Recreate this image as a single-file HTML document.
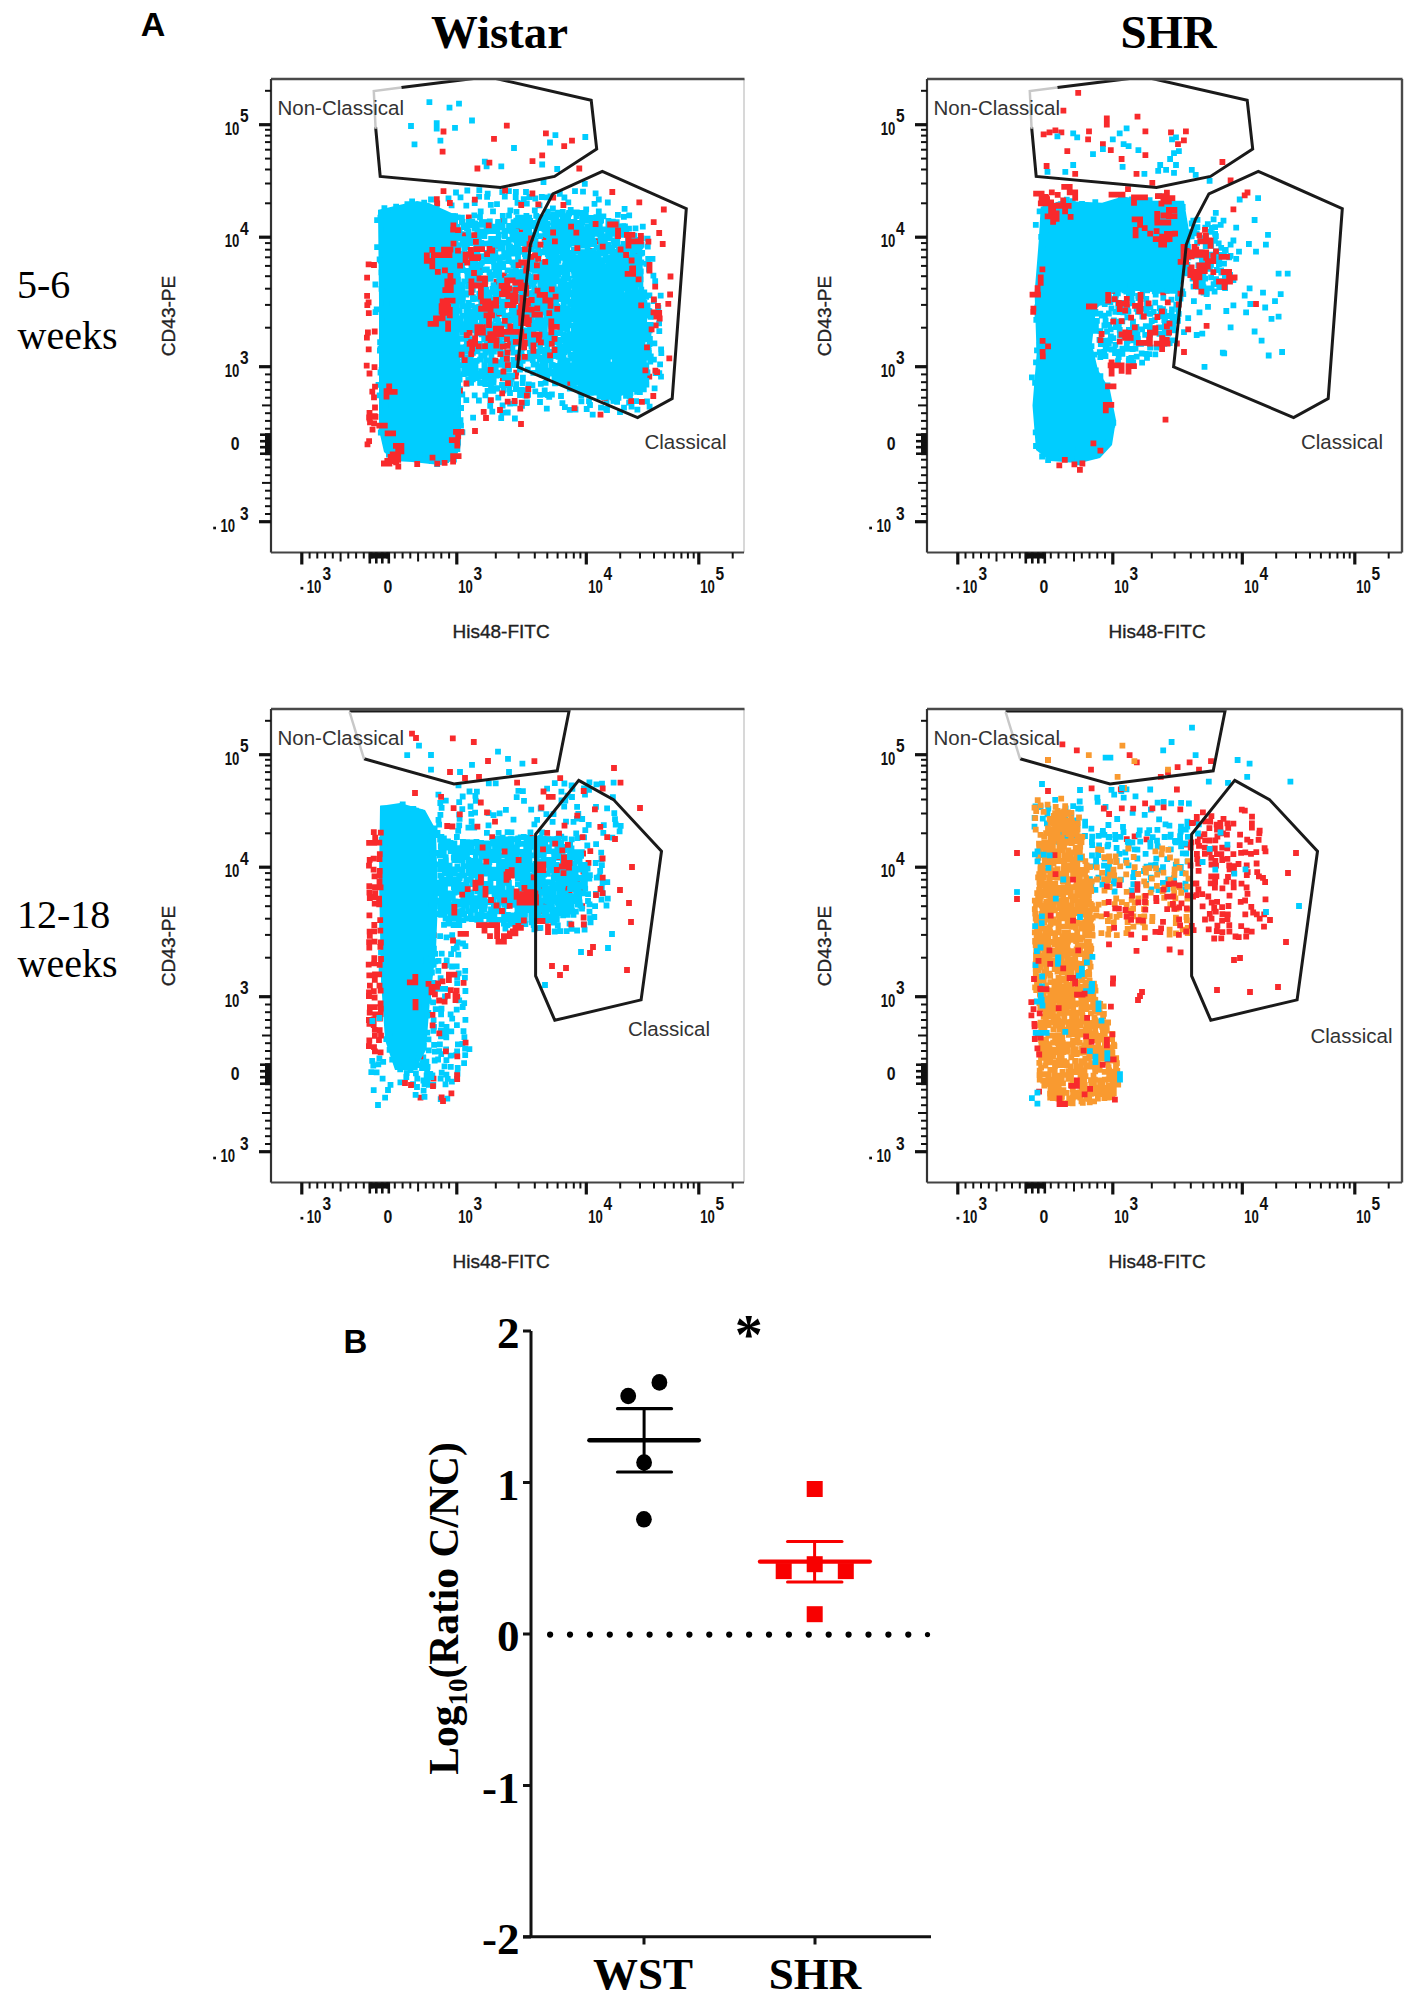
<!DOCTYPE html>
<html><head><meta charset="utf-8"><style>html,body{margin:0;padding:0;background:#fff;overflow:hidden;} svg{display:block;}</style></head>
<body><svg width="1417" height="2007" viewBox="0 0 1417 2007">
<rect width="100%" height="100%" fill="#fff"/>
<line x1="744" y1="79" x2="744" y2="552.5" stroke="#cfcfcf" stroke-width="1.6"/>
<line x1="271" y1="79" x2="744.5" y2="79" stroke="#4a4a4a" stroke-width="2.4"/>
<line x1="271" y1="79" x2="271" y2="552.5" stroke="#333" stroke-width="2.2"/>
<line x1="271" y1="552.5" x2="744" y2="552.5" stroke="#444" stroke-width="2.2"/>
<line x1="309.6" y1="552.5" x2="309.6" y2="558.5" stroke="#111" stroke-width="2.0"/>
<line x1="271" y1="514.0" x2="265" y2="514.0" stroke="#111" stroke-width="2.0"/>
<line x1="317.3" y1="552.5" x2="317.3" y2="558.5" stroke="#111" stroke-width="2.0"/>
<line x1="271" y1="506.2" x2="265" y2="506.2" stroke="#111" stroke-width="2.0"/>
<line x1="325.1" y1="552.5" x2="325.1" y2="558.5" stroke="#111" stroke-width="2.0"/>
<line x1="271" y1="498.4" x2="265" y2="498.4" stroke="#111" stroke-width="2.0"/>
<line x1="332.8" y1="552.5" x2="332.8" y2="558.5" stroke="#111" stroke-width="2.0"/>
<line x1="271" y1="490.7" x2="265" y2="490.7" stroke="#111" stroke-width="2.0"/>
<line x1="340.6" y1="552.5" x2="340.6" y2="561.5" stroke="#111" stroke-width="2.0"/>
<line x1="271" y1="482.9" x2="262" y2="482.9" stroke="#111" stroke-width="2.0"/>
<line x1="348.3" y1="552.5" x2="348.3" y2="558.5" stroke="#111" stroke-width="2.0"/>
<line x1="271" y1="475.2" x2="265" y2="475.2" stroke="#111" stroke-width="2.0"/>
<line x1="356.1" y1="552.5" x2="356.1" y2="558.5" stroke="#111" stroke-width="2.0"/>
<line x1="271" y1="467.4" x2="265" y2="467.4" stroke="#111" stroke-width="2.0"/>
<line x1="363.8" y1="552.5" x2="363.8" y2="558.5" stroke="#111" stroke-width="2.0"/>
<line x1="271" y1="459.7" x2="265" y2="459.7" stroke="#111" stroke-width="2.0"/>
<line x1="371.6" y1="552.5" x2="371.6" y2="558.5" stroke="#111" stroke-width="2.0"/>
<line x1="271" y1="451.9" x2="265" y2="451.9" stroke="#111" stroke-width="2.0"/>
<line x1="387.1" y1="552.5" x2="387.1" y2="558.5" stroke="#111" stroke-width="2.0"/>
<line x1="271" y1="436.4" x2="265" y2="436.4" stroke="#111" stroke-width="2.0"/>
<line x1="394.8" y1="552.5" x2="394.8" y2="558.5" stroke="#111" stroke-width="2.0"/>
<line x1="271" y1="428.7" x2="265" y2="428.7" stroke="#111" stroke-width="2.0"/>
<line x1="402.6" y1="552.5" x2="402.6" y2="558.5" stroke="#111" stroke-width="2.0"/>
<line x1="271" y1="420.9" x2="265" y2="420.9" stroke="#111" stroke-width="2.0"/>
<line x1="410.3" y1="552.5" x2="410.3" y2="558.5" stroke="#111" stroke-width="2.0"/>
<line x1="271" y1="413.2" x2="265" y2="413.2" stroke="#111" stroke-width="2.0"/>
<line x1="418.1" y1="552.5" x2="418.1" y2="561.5" stroke="#111" stroke-width="2.0"/>
<line x1="271" y1="405.4" x2="262" y2="405.4" stroke="#111" stroke-width="2.0"/>
<line x1="425.8" y1="552.5" x2="425.8" y2="558.5" stroke="#111" stroke-width="2.0"/>
<line x1="271" y1="397.7" x2="265" y2="397.7" stroke="#111" stroke-width="2.0"/>
<line x1="433.6" y1="552.5" x2="433.6" y2="558.5" stroke="#111" stroke-width="2.0"/>
<line x1="271" y1="389.9" x2="265" y2="389.9" stroke="#111" stroke-width="2.0"/>
<line x1="441.3" y1="552.5" x2="441.3" y2="558.5" stroke="#111" stroke-width="2.0"/>
<line x1="271" y1="382.2" x2="265" y2="382.2" stroke="#111" stroke-width="2.0"/>
<line x1="449.1" y1="552.5" x2="449.1" y2="558.5" stroke="#111" stroke-width="2.0"/>
<line x1="271" y1="374.4" x2="265" y2="374.4" stroke="#111" stroke-width="2.0"/>
<line x1="495.8" y1="552.5" x2="495.8" y2="558.5" stroke="#111" stroke-width="2.0"/>
<line x1="271" y1="327.7" x2="265" y2="327.7" stroke="#111" stroke-width="2.0"/>
<line x1="518.6" y1="552.5" x2="518.6" y2="558.5" stroke="#111" stroke-width="2.0"/>
<line x1="271" y1="304.9" x2="265" y2="304.9" stroke="#111" stroke-width="2.0"/>
<line x1="534.8" y1="552.5" x2="534.8" y2="558.5" stroke="#111" stroke-width="2.0"/>
<line x1="271" y1="288.7" x2="265" y2="288.7" stroke="#111" stroke-width="2.0"/>
<line x1="547.3" y1="552.5" x2="547.3" y2="558.5" stroke="#111" stroke-width="2.0"/>
<line x1="271" y1="276.2" x2="265" y2="276.2" stroke="#111" stroke-width="2.0"/>
<line x1="557.6" y1="552.5" x2="557.6" y2="558.5" stroke="#111" stroke-width="2.0"/>
<line x1="271" y1="265.9" x2="265" y2="265.9" stroke="#111" stroke-width="2.0"/>
<line x1="566.2" y1="552.5" x2="566.2" y2="558.5" stroke="#111" stroke-width="2.0"/>
<line x1="271" y1="257.3" x2="265" y2="257.3" stroke="#111" stroke-width="2.0"/>
<line x1="573.8" y1="552.5" x2="573.8" y2="558.5" stroke="#111" stroke-width="2.0"/>
<line x1="271" y1="249.7" x2="265" y2="249.7" stroke="#111" stroke-width="2.0"/>
<line x1="580.4" y1="552.5" x2="580.4" y2="558.5" stroke="#111" stroke-width="2.0"/>
<line x1="271" y1="243.1" x2="265" y2="243.1" stroke="#111" stroke-width="2.0"/>
<line x1="620.2" y1="552.5" x2="620.2" y2="558.5" stroke="#111" stroke-width="2.0"/>
<line x1="271" y1="203.3" x2="265" y2="203.3" stroke="#111" stroke-width="2.0"/>
<line x1="640.0" y1="552.5" x2="640.0" y2="558.5" stroke="#111" stroke-width="2.0"/>
<line x1="271" y1="183.5" x2="265" y2="183.5" stroke="#111" stroke-width="2.0"/>
<line x1="654.0" y1="552.5" x2="654.0" y2="558.5" stroke="#111" stroke-width="2.0"/>
<line x1="271" y1="169.5" x2="265" y2="169.5" stroke="#111" stroke-width="2.0"/>
<line x1="664.9" y1="552.5" x2="664.9" y2="558.5" stroke="#111" stroke-width="2.0"/>
<line x1="271" y1="158.6" x2="265" y2="158.6" stroke="#111" stroke-width="2.0"/>
<line x1="673.8" y1="552.5" x2="673.8" y2="558.5" stroke="#111" stroke-width="2.0"/>
<line x1="271" y1="149.7" x2="265" y2="149.7" stroke="#111" stroke-width="2.0"/>
<line x1="681.4" y1="552.5" x2="681.4" y2="558.5" stroke="#111" stroke-width="2.0"/>
<line x1="271" y1="142.1" x2="265" y2="142.1" stroke="#111" stroke-width="2.0"/>
<line x1="687.9" y1="552.5" x2="687.9" y2="558.5" stroke="#111" stroke-width="2.0"/>
<line x1="271" y1="135.6" x2="265" y2="135.6" stroke="#111" stroke-width="2.0"/>
<line x1="693.7" y1="552.5" x2="693.7" y2="558.5" stroke="#111" stroke-width="2.0"/>
<line x1="271" y1="129.8" x2="265" y2="129.8" stroke="#111" stroke-width="2.0"/>
<line x1="732.7" y1="552.5" x2="732.7" y2="558.5" stroke="#111" stroke-width="2.0"/>
<line x1="271" y1="90.8" x2="265" y2="90.8" stroke="#111" stroke-width="2.0"/>
<line x1="301.8" y1="552.5" x2="301.8" y2="564.5" stroke="#111" stroke-width="3.2"/>
<line x1="271" y1="521.7" x2="259" y2="521.7" stroke="#111" stroke-width="3.2"/>
<line x1="456.8" y1="552.5" x2="456.8" y2="564.5" stroke="#111" stroke-width="3.2"/>
<line x1="271" y1="366.7" x2="259" y2="366.7" stroke="#111" stroke-width="3.2"/>
<line x1="586.3" y1="552.5" x2="586.3" y2="564.5" stroke="#111" stroke-width="3.2"/>
<line x1="271" y1="237.2" x2="259" y2="237.2" stroke="#111" stroke-width="3.2"/>
<line x1="698.8" y1="552.5" x2="698.8" y2="564.5" stroke="#111" stroke-width="3.2"/>
<line x1="271" y1="124.7" x2="259" y2="124.7" stroke="#111" stroke-width="3.2"/>
<rect x="368.8" y="552.5" width="21" height="6" fill="#111"/>
<line x1="369.8" y1="552.5" x2="369.8" y2="563.5" stroke="#111" stroke-width="2.6"/>
<line x1="376.3" y1="552.5" x2="376.3" y2="563.5" stroke="#111" stroke-width="2.6"/>
<line x1="382.3" y1="552.5" x2="382.3" y2="563.5" stroke="#111" stroke-width="2.6"/>
<line x1="388.8" y1="552.5" x2="388.8" y2="563.5" stroke="#111" stroke-width="2.6"/>
<rect x="265" y="433.2" width="6" height="22" fill="#111"/>
<line x1="271" y1="434.7" x2="260" y2="434.7" stroke="#111" stroke-width="2.6"/>
<line x1="271" y1="441.2" x2="260" y2="441.2" stroke="#111" stroke-width="2.6"/>
<line x1="271" y1="447.2" x2="260" y2="447.2" stroke="#111" stroke-width="2.6"/>
<line x1="271" y1="453.7" x2="260" y2="453.7" stroke="#111" stroke-width="2.6"/>
<rect x="300.5" y="586.9" width="2.8" height="2.6" fill="#111"/>
<text x="306.8" y="592.5" font-family='"Liberation Sans", sans-serif' font-size="17.5" font-weight="bold" fill="#111" textLength="14.6" lengthAdjust="spacingAndGlyphs">10</text>
<text x="322.6" y="580.2" font-family='"Liberation Sans", sans-serif' font-size="17.5" font-weight="bold" fill="#111" textLength="8.6" lengthAdjust="spacingAndGlyphs">3</text>
<text x="383.5" y="592.5" font-family='"Liberation Sans", sans-serif' font-size="17.5" font-weight="bold" fill="#111" textLength="8.8" lengthAdjust="spacingAndGlyphs">0</text>
<text x="458.3" y="592.5" font-family='"Liberation Sans", sans-serif' font-size="17.5" font-weight="bold" fill="#111" textLength="14.6" lengthAdjust="spacingAndGlyphs">10</text>
<text x="473.6" y="580.2" font-family='"Liberation Sans", sans-serif' font-size="17.5" font-weight="bold" fill="#111" textLength="8.6" lengthAdjust="spacingAndGlyphs">3</text>
<text x="588.3" y="592.5" font-family='"Liberation Sans", sans-serif' font-size="17.5" font-weight="bold" fill="#111" textLength="14.6" lengthAdjust="spacingAndGlyphs">10</text>
<text x="603.6" y="580.2" font-family='"Liberation Sans", sans-serif' font-size="17.5" font-weight="bold" fill="#111" textLength="8.6" lengthAdjust="spacingAndGlyphs">4</text>
<text x="700.3" y="592.5" font-family='"Liberation Sans", sans-serif' font-size="17.5" font-weight="bold" fill="#111" textLength="14.6" lengthAdjust="spacingAndGlyphs">10</text>
<text x="715.6" y="580.2" font-family='"Liberation Sans", sans-serif' font-size="17.5" font-weight="bold" fill="#111" textLength="8.6" lengthAdjust="spacingAndGlyphs">5</text>
<text x="224.7" y="134.7" font-family='"Liberation Sans", sans-serif' font-size="17.5" font-weight="bold" fill="#111" textLength="14.6" lengthAdjust="spacingAndGlyphs">10</text>
<text x="240.0" y="122.4" font-family='"Liberation Sans", sans-serif' font-size="17.5" font-weight="bold" fill="#111" textLength="8.6" lengthAdjust="spacingAndGlyphs">5</text>
<text x="224.7" y="247.2" font-family='"Liberation Sans", sans-serif' font-size="17.5" font-weight="bold" fill="#111" textLength="14.6" lengthAdjust="spacingAndGlyphs">10</text>
<text x="240.0" y="234.9" font-family='"Liberation Sans", sans-serif' font-size="17.5" font-weight="bold" fill="#111" textLength="8.6" lengthAdjust="spacingAndGlyphs">4</text>
<text x="224.7" y="376.7" font-family='"Liberation Sans", sans-serif' font-size="17.5" font-weight="bold" fill="#111" textLength="14.6" lengthAdjust="spacingAndGlyphs">10</text>
<text x="240.0" y="364.4" font-family='"Liberation Sans", sans-serif' font-size="17.5" font-weight="bold" fill="#111" textLength="8.6" lengthAdjust="spacingAndGlyphs">3</text>
<text x="230.8" y="450.4" font-family='"Liberation Sans", sans-serif' font-size="17.5" font-weight="bold" fill="#111" textLength="8.8" lengthAdjust="spacingAndGlyphs">0</text>
<rect x="213.2" y="526.7" width="2.8" height="2.6" fill="#111"/>
<text x="220.5" y="532.3" font-family='"Liberation Sans", sans-serif' font-size="17.5" font-weight="bold" fill="#111" textLength="14.6" lengthAdjust="spacingAndGlyphs">10</text>
<text x="240.0" y="520.0" font-family='"Liberation Sans", sans-serif' font-size="17.5" font-weight="bold" fill="#111" textLength="8.6" lengthAdjust="spacingAndGlyphs">3</text>
<text x="452.5" y="638.3" font-family='"Liberation Sans", sans-serif' font-size="19" font-weight="normal" fill="#222" text-anchor="start" stroke="#222" stroke-width="0.35">His48-FITC</text>
<text x="0" y="0" transform="translate(174.7,316) rotate(-90)" font-family='"Liberation Sans", sans-serif' font-size="19" fill="#222" stroke="#222" stroke-width="0.35" text-anchor="middle">CD43-PE</text>
<line x1="1402" y1="79" x2="1402" y2="552.5" stroke="#4a4a4a" stroke-width="2.4"/>
<line x1="927" y1="79" x2="1402.5" y2="79" stroke="#4a4a4a" stroke-width="2.4"/>
<line x1="927" y1="79" x2="927" y2="552.5" stroke="#333" stroke-width="2.2"/>
<line x1="927" y1="552.5" x2="1402" y2="552.5" stroke="#444" stroke-width="2.2"/>
<line x1="965.5" y1="552.5" x2="965.5" y2="558.5" stroke="#111" stroke-width="2.0"/>
<line x1="927" y1="514.0" x2="921" y2="514.0" stroke="#111" stroke-width="2.0"/>
<line x1="973.3" y1="552.5" x2="973.3" y2="558.5" stroke="#111" stroke-width="2.0"/>
<line x1="927" y1="506.2" x2="921" y2="506.2" stroke="#111" stroke-width="2.0"/>
<line x1="981.0" y1="552.5" x2="981.0" y2="558.5" stroke="#111" stroke-width="2.0"/>
<line x1="927" y1="498.4" x2="921" y2="498.4" stroke="#111" stroke-width="2.0"/>
<line x1="988.8" y1="552.5" x2="988.8" y2="558.5" stroke="#111" stroke-width="2.0"/>
<line x1="927" y1="490.7" x2="921" y2="490.7" stroke="#111" stroke-width="2.0"/>
<line x1="996.5" y1="552.5" x2="996.5" y2="561.5" stroke="#111" stroke-width="2.0"/>
<line x1="927" y1="482.9" x2="918" y2="482.9" stroke="#111" stroke-width="2.0"/>
<line x1="1004.3" y1="552.5" x2="1004.3" y2="558.5" stroke="#111" stroke-width="2.0"/>
<line x1="927" y1="475.2" x2="921" y2="475.2" stroke="#111" stroke-width="2.0"/>
<line x1="1012.0" y1="552.5" x2="1012.0" y2="558.5" stroke="#111" stroke-width="2.0"/>
<line x1="927" y1="467.4" x2="921" y2="467.4" stroke="#111" stroke-width="2.0"/>
<line x1="1019.8" y1="552.5" x2="1019.8" y2="558.5" stroke="#111" stroke-width="2.0"/>
<line x1="927" y1="459.7" x2="921" y2="459.7" stroke="#111" stroke-width="2.0"/>
<line x1="1027.5" y1="552.5" x2="1027.5" y2="558.5" stroke="#111" stroke-width="2.0"/>
<line x1="927" y1="451.9" x2="921" y2="451.9" stroke="#111" stroke-width="2.0"/>
<line x1="1043.0" y1="552.5" x2="1043.0" y2="558.5" stroke="#111" stroke-width="2.0"/>
<line x1="927" y1="436.4" x2="921" y2="436.4" stroke="#111" stroke-width="2.0"/>
<line x1="1050.8" y1="552.5" x2="1050.8" y2="558.5" stroke="#111" stroke-width="2.0"/>
<line x1="927" y1="428.7" x2="921" y2="428.7" stroke="#111" stroke-width="2.0"/>
<line x1="1058.5" y1="552.5" x2="1058.5" y2="558.5" stroke="#111" stroke-width="2.0"/>
<line x1="927" y1="420.9" x2="921" y2="420.9" stroke="#111" stroke-width="2.0"/>
<line x1="1066.3" y1="552.5" x2="1066.3" y2="558.5" stroke="#111" stroke-width="2.0"/>
<line x1="927" y1="413.2" x2="921" y2="413.2" stroke="#111" stroke-width="2.0"/>
<line x1="1074.0" y1="552.5" x2="1074.0" y2="561.5" stroke="#111" stroke-width="2.0"/>
<line x1="927" y1="405.4" x2="918" y2="405.4" stroke="#111" stroke-width="2.0"/>
<line x1="1081.8" y1="552.5" x2="1081.8" y2="558.5" stroke="#111" stroke-width="2.0"/>
<line x1="927" y1="397.7" x2="921" y2="397.7" stroke="#111" stroke-width="2.0"/>
<line x1="1089.5" y1="552.5" x2="1089.5" y2="558.5" stroke="#111" stroke-width="2.0"/>
<line x1="927" y1="389.9" x2="921" y2="389.9" stroke="#111" stroke-width="2.0"/>
<line x1="1097.3" y1="552.5" x2="1097.3" y2="558.5" stroke="#111" stroke-width="2.0"/>
<line x1="927" y1="382.2" x2="921" y2="382.2" stroke="#111" stroke-width="2.0"/>
<line x1="1105.0" y1="552.5" x2="1105.0" y2="558.5" stroke="#111" stroke-width="2.0"/>
<line x1="927" y1="374.4" x2="921" y2="374.4" stroke="#111" stroke-width="2.0"/>
<line x1="1151.8" y1="552.5" x2="1151.8" y2="558.5" stroke="#111" stroke-width="2.0"/>
<line x1="927" y1="327.7" x2="921" y2="327.7" stroke="#111" stroke-width="2.0"/>
<line x1="1174.6" y1="552.5" x2="1174.6" y2="558.5" stroke="#111" stroke-width="2.0"/>
<line x1="927" y1="304.9" x2="921" y2="304.9" stroke="#111" stroke-width="2.0"/>
<line x1="1190.8" y1="552.5" x2="1190.8" y2="558.5" stroke="#111" stroke-width="2.0"/>
<line x1="927" y1="288.7" x2="921" y2="288.7" stroke="#111" stroke-width="2.0"/>
<line x1="1203.3" y1="552.5" x2="1203.3" y2="558.5" stroke="#111" stroke-width="2.0"/>
<line x1="927" y1="276.2" x2="921" y2="276.2" stroke="#111" stroke-width="2.0"/>
<line x1="1213.6" y1="552.5" x2="1213.6" y2="558.5" stroke="#111" stroke-width="2.0"/>
<line x1="927" y1="265.9" x2="921" y2="265.9" stroke="#111" stroke-width="2.0"/>
<line x1="1222.2" y1="552.5" x2="1222.2" y2="558.5" stroke="#111" stroke-width="2.0"/>
<line x1="927" y1="257.3" x2="921" y2="257.3" stroke="#111" stroke-width="2.0"/>
<line x1="1229.8" y1="552.5" x2="1229.8" y2="558.5" stroke="#111" stroke-width="2.0"/>
<line x1="927" y1="249.7" x2="921" y2="249.7" stroke="#111" stroke-width="2.0"/>
<line x1="1236.4" y1="552.5" x2="1236.4" y2="558.5" stroke="#111" stroke-width="2.0"/>
<line x1="927" y1="243.1" x2="921" y2="243.1" stroke="#111" stroke-width="2.0"/>
<line x1="1276.2" y1="552.5" x2="1276.2" y2="558.5" stroke="#111" stroke-width="2.0"/>
<line x1="927" y1="203.3" x2="921" y2="203.3" stroke="#111" stroke-width="2.0"/>
<line x1="1296.0" y1="552.5" x2="1296.0" y2="558.5" stroke="#111" stroke-width="2.0"/>
<line x1="927" y1="183.5" x2="921" y2="183.5" stroke="#111" stroke-width="2.0"/>
<line x1="1310.0" y1="552.5" x2="1310.0" y2="558.5" stroke="#111" stroke-width="2.0"/>
<line x1="927" y1="169.5" x2="921" y2="169.5" stroke="#111" stroke-width="2.0"/>
<line x1="1320.9" y1="552.5" x2="1320.9" y2="558.5" stroke="#111" stroke-width="2.0"/>
<line x1="927" y1="158.6" x2="921" y2="158.6" stroke="#111" stroke-width="2.0"/>
<line x1="1329.8" y1="552.5" x2="1329.8" y2="558.5" stroke="#111" stroke-width="2.0"/>
<line x1="927" y1="149.7" x2="921" y2="149.7" stroke="#111" stroke-width="2.0"/>
<line x1="1337.4" y1="552.5" x2="1337.4" y2="558.5" stroke="#111" stroke-width="2.0"/>
<line x1="927" y1="142.1" x2="921" y2="142.1" stroke="#111" stroke-width="2.0"/>
<line x1="1343.9" y1="552.5" x2="1343.9" y2="558.5" stroke="#111" stroke-width="2.0"/>
<line x1="927" y1="135.6" x2="921" y2="135.6" stroke="#111" stroke-width="2.0"/>
<line x1="1349.7" y1="552.5" x2="1349.7" y2="558.5" stroke="#111" stroke-width="2.0"/>
<line x1="927" y1="129.8" x2="921" y2="129.8" stroke="#111" stroke-width="2.0"/>
<line x1="1388.7" y1="552.5" x2="1388.7" y2="558.5" stroke="#111" stroke-width="2.0"/>
<line x1="927" y1="90.8" x2="921" y2="90.8" stroke="#111" stroke-width="2.0"/>
<line x1="957.8" y1="552.5" x2="957.8" y2="564.5" stroke="#111" stroke-width="3.2"/>
<line x1="927" y1="521.7" x2="915" y2="521.7" stroke="#111" stroke-width="3.2"/>
<line x1="1112.8" y1="552.5" x2="1112.8" y2="564.5" stroke="#111" stroke-width="3.2"/>
<line x1="927" y1="366.7" x2="915" y2="366.7" stroke="#111" stroke-width="3.2"/>
<line x1="1242.3" y1="552.5" x2="1242.3" y2="564.5" stroke="#111" stroke-width="3.2"/>
<line x1="927" y1="237.2" x2="915" y2="237.2" stroke="#111" stroke-width="3.2"/>
<line x1="1354.8" y1="552.5" x2="1354.8" y2="564.5" stroke="#111" stroke-width="3.2"/>
<line x1="927" y1="124.7" x2="915" y2="124.7" stroke="#111" stroke-width="3.2"/>
<rect x="1024.8" y="552.5" width="21" height="6" fill="#111"/>
<line x1="1025.8" y1="552.5" x2="1025.8" y2="563.5" stroke="#111" stroke-width="2.6"/>
<line x1="1032.3" y1="552.5" x2="1032.3" y2="563.5" stroke="#111" stroke-width="2.6"/>
<line x1="1038.3" y1="552.5" x2="1038.3" y2="563.5" stroke="#111" stroke-width="2.6"/>
<line x1="1044.8" y1="552.5" x2="1044.8" y2="563.5" stroke="#111" stroke-width="2.6"/>
<rect x="921" y="433.2" width="6" height="22" fill="#111"/>
<line x1="927" y1="434.7" x2="916" y2="434.7" stroke="#111" stroke-width="2.6"/>
<line x1="927" y1="441.2" x2="916" y2="441.2" stroke="#111" stroke-width="2.6"/>
<line x1="927" y1="447.2" x2="916" y2="447.2" stroke="#111" stroke-width="2.6"/>
<line x1="927" y1="453.7" x2="916" y2="453.7" stroke="#111" stroke-width="2.6"/>
<rect x="956.5" y="586.9" width="2.8" height="2.6" fill="#111"/>
<text x="962.8" y="592.5" font-family='"Liberation Sans", sans-serif' font-size="17.5" font-weight="bold" fill="#111" textLength="14.6" lengthAdjust="spacingAndGlyphs">10</text>
<text x="978.6" y="580.2" font-family='"Liberation Sans", sans-serif' font-size="17.5" font-weight="bold" fill="#111" textLength="8.6" lengthAdjust="spacingAndGlyphs">3</text>
<text x="1039.5" y="592.5" font-family='"Liberation Sans", sans-serif' font-size="17.5" font-weight="bold" fill="#111" textLength="8.8" lengthAdjust="spacingAndGlyphs">0</text>
<text x="1114.3" y="592.5" font-family='"Liberation Sans", sans-serif' font-size="17.5" font-weight="bold" fill="#111" textLength="14.6" lengthAdjust="spacingAndGlyphs">10</text>
<text x="1129.6" y="580.2" font-family='"Liberation Sans", sans-serif' font-size="17.5" font-weight="bold" fill="#111" textLength="8.6" lengthAdjust="spacingAndGlyphs">3</text>
<text x="1244.3" y="592.5" font-family='"Liberation Sans", sans-serif' font-size="17.5" font-weight="bold" fill="#111" textLength="14.6" lengthAdjust="spacingAndGlyphs">10</text>
<text x="1259.6" y="580.2" font-family='"Liberation Sans", sans-serif' font-size="17.5" font-weight="bold" fill="#111" textLength="8.6" lengthAdjust="spacingAndGlyphs">4</text>
<text x="1356.3" y="592.5" font-family='"Liberation Sans", sans-serif' font-size="17.5" font-weight="bold" fill="#111" textLength="14.6" lengthAdjust="spacingAndGlyphs">10</text>
<text x="1371.6" y="580.2" font-family='"Liberation Sans", sans-serif' font-size="17.5" font-weight="bold" fill="#111" textLength="8.6" lengthAdjust="spacingAndGlyphs">5</text>
<text x="880.7" y="134.7" font-family='"Liberation Sans", sans-serif' font-size="17.5" font-weight="bold" fill="#111" textLength="14.6" lengthAdjust="spacingAndGlyphs">10</text>
<text x="896.0" y="122.4" font-family='"Liberation Sans", sans-serif' font-size="17.5" font-weight="bold" fill="#111" textLength="8.6" lengthAdjust="spacingAndGlyphs">5</text>
<text x="880.7" y="247.2" font-family='"Liberation Sans", sans-serif' font-size="17.5" font-weight="bold" fill="#111" textLength="14.6" lengthAdjust="spacingAndGlyphs">10</text>
<text x="896.0" y="234.9" font-family='"Liberation Sans", sans-serif' font-size="17.5" font-weight="bold" fill="#111" textLength="8.6" lengthAdjust="spacingAndGlyphs">4</text>
<text x="880.7" y="376.7" font-family='"Liberation Sans", sans-serif' font-size="17.5" font-weight="bold" fill="#111" textLength="14.6" lengthAdjust="spacingAndGlyphs">10</text>
<text x="896.0" y="364.4" font-family='"Liberation Sans", sans-serif' font-size="17.5" font-weight="bold" fill="#111" textLength="8.6" lengthAdjust="spacingAndGlyphs">3</text>
<text x="886.8" y="450.4" font-family='"Liberation Sans", sans-serif' font-size="17.5" font-weight="bold" fill="#111" textLength="8.8" lengthAdjust="spacingAndGlyphs">0</text>
<rect x="869.2" y="526.7" width="2.8" height="2.6" fill="#111"/>
<text x="876.5" y="532.3" font-family='"Liberation Sans", sans-serif' font-size="17.5" font-weight="bold" fill="#111" textLength="14.6" lengthAdjust="spacingAndGlyphs">10</text>
<text x="896.0" y="520.0" font-family='"Liberation Sans", sans-serif' font-size="17.5" font-weight="bold" fill="#111" textLength="8.6" lengthAdjust="spacingAndGlyphs">3</text>
<text x="1108.5" y="638.3" font-family='"Liberation Sans", sans-serif' font-size="19" font-weight="normal" fill="#222" text-anchor="start" stroke="#222" stroke-width="0.35">His48-FITC</text>
<text x="0" y="0" transform="translate(830.7,316) rotate(-90)" font-family='"Liberation Sans", sans-serif' font-size="19" fill="#222" stroke="#222" stroke-width="0.35" text-anchor="middle">CD43-PE</text>
<line x1="744" y1="709" x2="744" y2="1182.5" stroke="#cfcfcf" stroke-width="1.6"/>
<line x1="271" y1="709" x2="744.5" y2="709" stroke="#4a4a4a" stroke-width="2.4"/>
<line x1="271" y1="709" x2="271" y2="1182.5" stroke="#333" stroke-width="2.2"/>
<line x1="271" y1="1182.5" x2="744" y2="1182.5" stroke="#444" stroke-width="2.2"/>
<line x1="309.6" y1="1182.5" x2="309.6" y2="1188.5" stroke="#111" stroke-width="2.0"/>
<line x1="271" y1="1144.0" x2="265" y2="1144.0" stroke="#111" stroke-width="2.0"/>
<line x1="317.3" y1="1182.5" x2="317.3" y2="1188.5" stroke="#111" stroke-width="2.0"/>
<line x1="271" y1="1136.2" x2="265" y2="1136.2" stroke="#111" stroke-width="2.0"/>
<line x1="325.1" y1="1182.5" x2="325.1" y2="1188.5" stroke="#111" stroke-width="2.0"/>
<line x1="271" y1="1128.5" x2="265" y2="1128.5" stroke="#111" stroke-width="2.0"/>
<line x1="332.8" y1="1182.5" x2="332.8" y2="1188.5" stroke="#111" stroke-width="2.0"/>
<line x1="271" y1="1120.7" x2="265" y2="1120.7" stroke="#111" stroke-width="2.0"/>
<line x1="340.6" y1="1182.5" x2="340.6" y2="1191.5" stroke="#111" stroke-width="2.0"/>
<line x1="271" y1="1113.0" x2="262" y2="1113.0" stroke="#111" stroke-width="2.0"/>
<line x1="348.3" y1="1182.5" x2="348.3" y2="1188.5" stroke="#111" stroke-width="2.0"/>
<line x1="271" y1="1105.2" x2="265" y2="1105.2" stroke="#111" stroke-width="2.0"/>
<line x1="356.1" y1="1182.5" x2="356.1" y2="1188.5" stroke="#111" stroke-width="2.0"/>
<line x1="271" y1="1097.5" x2="265" y2="1097.5" stroke="#111" stroke-width="2.0"/>
<line x1="363.8" y1="1182.5" x2="363.8" y2="1188.5" stroke="#111" stroke-width="2.0"/>
<line x1="271" y1="1089.7" x2="265" y2="1089.7" stroke="#111" stroke-width="2.0"/>
<line x1="371.6" y1="1182.5" x2="371.6" y2="1188.5" stroke="#111" stroke-width="2.0"/>
<line x1="271" y1="1082.0" x2="265" y2="1082.0" stroke="#111" stroke-width="2.0"/>
<line x1="387.1" y1="1182.5" x2="387.1" y2="1188.5" stroke="#111" stroke-width="2.0"/>
<line x1="271" y1="1066.5" x2="265" y2="1066.5" stroke="#111" stroke-width="2.0"/>
<line x1="394.8" y1="1182.5" x2="394.8" y2="1188.5" stroke="#111" stroke-width="2.0"/>
<line x1="271" y1="1058.7" x2="265" y2="1058.7" stroke="#111" stroke-width="2.0"/>
<line x1="402.6" y1="1182.5" x2="402.6" y2="1188.5" stroke="#111" stroke-width="2.0"/>
<line x1="271" y1="1051.0" x2="265" y2="1051.0" stroke="#111" stroke-width="2.0"/>
<line x1="410.3" y1="1182.5" x2="410.3" y2="1188.5" stroke="#111" stroke-width="2.0"/>
<line x1="271" y1="1043.2" x2="265" y2="1043.2" stroke="#111" stroke-width="2.0"/>
<line x1="418.1" y1="1182.5" x2="418.1" y2="1191.5" stroke="#111" stroke-width="2.0"/>
<line x1="271" y1="1035.5" x2="262" y2="1035.5" stroke="#111" stroke-width="2.0"/>
<line x1="425.8" y1="1182.5" x2="425.8" y2="1188.5" stroke="#111" stroke-width="2.0"/>
<line x1="271" y1="1027.7" x2="265" y2="1027.7" stroke="#111" stroke-width="2.0"/>
<line x1="433.6" y1="1182.5" x2="433.6" y2="1188.5" stroke="#111" stroke-width="2.0"/>
<line x1="271" y1="1020.0" x2="265" y2="1020.0" stroke="#111" stroke-width="2.0"/>
<line x1="441.3" y1="1182.5" x2="441.3" y2="1188.5" stroke="#111" stroke-width="2.0"/>
<line x1="271" y1="1012.2" x2="265" y2="1012.2" stroke="#111" stroke-width="2.0"/>
<line x1="449.1" y1="1182.5" x2="449.1" y2="1188.5" stroke="#111" stroke-width="2.0"/>
<line x1="271" y1="1004.5" x2="265" y2="1004.5" stroke="#111" stroke-width="2.0"/>
<line x1="495.8" y1="1182.5" x2="495.8" y2="1188.5" stroke="#111" stroke-width="2.0"/>
<line x1="271" y1="957.7" x2="265" y2="957.7" stroke="#111" stroke-width="2.0"/>
<line x1="518.6" y1="1182.5" x2="518.6" y2="1188.5" stroke="#111" stroke-width="2.0"/>
<line x1="271" y1="934.9" x2="265" y2="934.9" stroke="#111" stroke-width="2.0"/>
<line x1="534.8" y1="1182.5" x2="534.8" y2="1188.5" stroke="#111" stroke-width="2.0"/>
<line x1="271" y1="918.7" x2="265" y2="918.7" stroke="#111" stroke-width="2.0"/>
<line x1="547.3" y1="1182.5" x2="547.3" y2="1188.5" stroke="#111" stroke-width="2.0"/>
<line x1="271" y1="906.2" x2="265" y2="906.2" stroke="#111" stroke-width="2.0"/>
<line x1="557.6" y1="1182.5" x2="557.6" y2="1188.5" stroke="#111" stroke-width="2.0"/>
<line x1="271" y1="895.9" x2="265" y2="895.9" stroke="#111" stroke-width="2.0"/>
<line x1="566.2" y1="1182.5" x2="566.2" y2="1188.5" stroke="#111" stroke-width="2.0"/>
<line x1="271" y1="887.3" x2="265" y2="887.3" stroke="#111" stroke-width="2.0"/>
<line x1="573.8" y1="1182.5" x2="573.8" y2="1188.5" stroke="#111" stroke-width="2.0"/>
<line x1="271" y1="879.7" x2="265" y2="879.7" stroke="#111" stroke-width="2.0"/>
<line x1="580.4" y1="1182.5" x2="580.4" y2="1188.5" stroke="#111" stroke-width="2.0"/>
<line x1="271" y1="873.1" x2="265" y2="873.1" stroke="#111" stroke-width="2.0"/>
<line x1="620.2" y1="1182.5" x2="620.2" y2="1188.5" stroke="#111" stroke-width="2.0"/>
<line x1="271" y1="833.3" x2="265" y2="833.3" stroke="#111" stroke-width="2.0"/>
<line x1="640.0" y1="1182.5" x2="640.0" y2="1188.5" stroke="#111" stroke-width="2.0"/>
<line x1="271" y1="813.5" x2="265" y2="813.5" stroke="#111" stroke-width="2.0"/>
<line x1="654.0" y1="1182.5" x2="654.0" y2="1188.5" stroke="#111" stroke-width="2.0"/>
<line x1="271" y1="799.5" x2="265" y2="799.5" stroke="#111" stroke-width="2.0"/>
<line x1="664.9" y1="1182.5" x2="664.9" y2="1188.5" stroke="#111" stroke-width="2.0"/>
<line x1="271" y1="788.6" x2="265" y2="788.6" stroke="#111" stroke-width="2.0"/>
<line x1="673.8" y1="1182.5" x2="673.8" y2="1188.5" stroke="#111" stroke-width="2.0"/>
<line x1="271" y1="779.7" x2="265" y2="779.7" stroke="#111" stroke-width="2.0"/>
<line x1="681.4" y1="1182.5" x2="681.4" y2="1188.5" stroke="#111" stroke-width="2.0"/>
<line x1="271" y1="772.1" x2="265" y2="772.1" stroke="#111" stroke-width="2.0"/>
<line x1="687.9" y1="1182.5" x2="687.9" y2="1188.5" stroke="#111" stroke-width="2.0"/>
<line x1="271" y1="765.6" x2="265" y2="765.6" stroke="#111" stroke-width="2.0"/>
<line x1="693.7" y1="1182.5" x2="693.7" y2="1188.5" stroke="#111" stroke-width="2.0"/>
<line x1="271" y1="759.8" x2="265" y2="759.8" stroke="#111" stroke-width="2.0"/>
<line x1="732.7" y1="1182.5" x2="732.7" y2="1188.5" stroke="#111" stroke-width="2.0"/>
<line x1="271" y1="720.8" x2="265" y2="720.8" stroke="#111" stroke-width="2.0"/>
<line x1="301.8" y1="1182.5" x2="301.8" y2="1194.5" stroke="#111" stroke-width="3.2"/>
<line x1="271" y1="1151.7" x2="259" y2="1151.7" stroke="#111" stroke-width="3.2"/>
<line x1="456.8" y1="1182.5" x2="456.8" y2="1194.5" stroke="#111" stroke-width="3.2"/>
<line x1="271" y1="996.7" x2="259" y2="996.7" stroke="#111" stroke-width="3.2"/>
<line x1="586.3" y1="1182.5" x2="586.3" y2="1194.5" stroke="#111" stroke-width="3.2"/>
<line x1="271" y1="867.2" x2="259" y2="867.2" stroke="#111" stroke-width="3.2"/>
<line x1="698.8" y1="1182.5" x2="698.8" y2="1194.5" stroke="#111" stroke-width="3.2"/>
<line x1="271" y1="754.7" x2="259" y2="754.7" stroke="#111" stroke-width="3.2"/>
<rect x="368.8" y="1182.5" width="21" height="6" fill="#111"/>
<line x1="369.8" y1="1182.5" x2="369.8" y2="1193.5" stroke="#111" stroke-width="2.6"/>
<line x1="376.3" y1="1182.5" x2="376.3" y2="1193.5" stroke="#111" stroke-width="2.6"/>
<line x1="382.3" y1="1182.5" x2="382.3" y2="1193.5" stroke="#111" stroke-width="2.6"/>
<line x1="388.8" y1="1182.5" x2="388.8" y2="1193.5" stroke="#111" stroke-width="2.6"/>
<rect x="265" y="1063.2" width="6" height="22" fill="#111"/>
<line x1="271" y1="1064.7" x2="260" y2="1064.7" stroke="#111" stroke-width="2.6"/>
<line x1="271" y1="1071.2" x2="260" y2="1071.2" stroke="#111" stroke-width="2.6"/>
<line x1="271" y1="1077.2" x2="260" y2="1077.2" stroke="#111" stroke-width="2.6"/>
<line x1="271" y1="1083.7" x2="260" y2="1083.7" stroke="#111" stroke-width="2.6"/>
<rect x="300.5" y="1216.9" width="2.8" height="2.6" fill="#111"/>
<text x="306.8" y="1222.5" font-family='"Liberation Sans", sans-serif' font-size="17.5" font-weight="bold" fill="#111" textLength="14.6" lengthAdjust="spacingAndGlyphs">10</text>
<text x="322.6" y="1210.2" font-family='"Liberation Sans", sans-serif' font-size="17.5" font-weight="bold" fill="#111" textLength="8.6" lengthAdjust="spacingAndGlyphs">3</text>
<text x="383.5" y="1222.5" font-family='"Liberation Sans", sans-serif' font-size="17.5" font-weight="bold" fill="#111" textLength="8.8" lengthAdjust="spacingAndGlyphs">0</text>
<text x="458.3" y="1222.5" font-family='"Liberation Sans", sans-serif' font-size="17.5" font-weight="bold" fill="#111" textLength="14.6" lengthAdjust="spacingAndGlyphs">10</text>
<text x="473.6" y="1210.2" font-family='"Liberation Sans", sans-serif' font-size="17.5" font-weight="bold" fill="#111" textLength="8.6" lengthAdjust="spacingAndGlyphs">3</text>
<text x="588.3" y="1222.5" font-family='"Liberation Sans", sans-serif' font-size="17.5" font-weight="bold" fill="#111" textLength="14.6" lengthAdjust="spacingAndGlyphs">10</text>
<text x="603.6" y="1210.2" font-family='"Liberation Sans", sans-serif' font-size="17.5" font-weight="bold" fill="#111" textLength="8.6" lengthAdjust="spacingAndGlyphs">4</text>
<text x="700.3" y="1222.5" font-family='"Liberation Sans", sans-serif' font-size="17.5" font-weight="bold" fill="#111" textLength="14.6" lengthAdjust="spacingAndGlyphs">10</text>
<text x="715.6" y="1210.2" font-family='"Liberation Sans", sans-serif' font-size="17.5" font-weight="bold" fill="#111" textLength="8.6" lengthAdjust="spacingAndGlyphs">5</text>
<text x="224.7" y="764.7" font-family='"Liberation Sans", sans-serif' font-size="17.5" font-weight="bold" fill="#111" textLength="14.6" lengthAdjust="spacingAndGlyphs">10</text>
<text x="240.0" y="752.4" font-family='"Liberation Sans", sans-serif' font-size="17.5" font-weight="bold" fill="#111" textLength="8.6" lengthAdjust="spacingAndGlyphs">5</text>
<text x="224.7" y="877.2" font-family='"Liberation Sans", sans-serif' font-size="17.5" font-weight="bold" fill="#111" textLength="14.6" lengthAdjust="spacingAndGlyphs">10</text>
<text x="240.0" y="864.9" font-family='"Liberation Sans", sans-serif' font-size="17.5" font-weight="bold" fill="#111" textLength="8.6" lengthAdjust="spacingAndGlyphs">4</text>
<text x="224.7" y="1006.7" font-family='"Liberation Sans", sans-serif' font-size="17.5" font-weight="bold" fill="#111" textLength="14.6" lengthAdjust="spacingAndGlyphs">10</text>
<text x="240.0" y="994.4" font-family='"Liberation Sans", sans-serif' font-size="17.5" font-weight="bold" fill="#111" textLength="8.6" lengthAdjust="spacingAndGlyphs">3</text>
<text x="230.8" y="1080.4" font-family='"Liberation Sans", sans-serif' font-size="17.5" font-weight="bold" fill="#111" textLength="8.8" lengthAdjust="spacingAndGlyphs">0</text>
<rect x="213.2" y="1156.7" width="2.8" height="2.6" fill="#111"/>
<text x="220.5" y="1162.3" font-family='"Liberation Sans", sans-serif' font-size="17.5" font-weight="bold" fill="#111" textLength="14.6" lengthAdjust="spacingAndGlyphs">10</text>
<text x="240.0" y="1150.0" font-family='"Liberation Sans", sans-serif' font-size="17.5" font-weight="bold" fill="#111" textLength="8.6" lengthAdjust="spacingAndGlyphs">3</text>
<text x="452.5" y="1268.3" font-family='"Liberation Sans", sans-serif' font-size="19" font-weight="normal" fill="#222" text-anchor="start" stroke="#222" stroke-width="0.35">His48-FITC</text>
<text x="0" y="0" transform="translate(174.7,946) rotate(-90)" font-family='"Liberation Sans", sans-serif' font-size="19" fill="#222" stroke="#222" stroke-width="0.35" text-anchor="middle">CD43-PE</text>
<line x1="1402" y1="709" x2="1402" y2="1182.5" stroke="#4a4a4a" stroke-width="2.4"/>
<line x1="927" y1="709" x2="1402.5" y2="709" stroke="#4a4a4a" stroke-width="2.4"/>
<line x1="927" y1="709" x2="927" y2="1182.5" stroke="#333" stroke-width="2.2"/>
<line x1="927" y1="1182.5" x2="1402" y2="1182.5" stroke="#444" stroke-width="2.2"/>
<line x1="965.5" y1="1182.5" x2="965.5" y2="1188.5" stroke="#111" stroke-width="2.0"/>
<line x1="927" y1="1144.0" x2="921" y2="1144.0" stroke="#111" stroke-width="2.0"/>
<line x1="973.3" y1="1182.5" x2="973.3" y2="1188.5" stroke="#111" stroke-width="2.0"/>
<line x1="927" y1="1136.2" x2="921" y2="1136.2" stroke="#111" stroke-width="2.0"/>
<line x1="981.0" y1="1182.5" x2="981.0" y2="1188.5" stroke="#111" stroke-width="2.0"/>
<line x1="927" y1="1128.5" x2="921" y2="1128.5" stroke="#111" stroke-width="2.0"/>
<line x1="988.8" y1="1182.5" x2="988.8" y2="1188.5" stroke="#111" stroke-width="2.0"/>
<line x1="927" y1="1120.7" x2="921" y2="1120.7" stroke="#111" stroke-width="2.0"/>
<line x1="996.5" y1="1182.5" x2="996.5" y2="1191.5" stroke="#111" stroke-width="2.0"/>
<line x1="927" y1="1113.0" x2="918" y2="1113.0" stroke="#111" stroke-width="2.0"/>
<line x1="1004.3" y1="1182.5" x2="1004.3" y2="1188.5" stroke="#111" stroke-width="2.0"/>
<line x1="927" y1="1105.2" x2="921" y2="1105.2" stroke="#111" stroke-width="2.0"/>
<line x1="1012.0" y1="1182.5" x2="1012.0" y2="1188.5" stroke="#111" stroke-width="2.0"/>
<line x1="927" y1="1097.5" x2="921" y2="1097.5" stroke="#111" stroke-width="2.0"/>
<line x1="1019.8" y1="1182.5" x2="1019.8" y2="1188.5" stroke="#111" stroke-width="2.0"/>
<line x1="927" y1="1089.7" x2="921" y2="1089.7" stroke="#111" stroke-width="2.0"/>
<line x1="1027.5" y1="1182.5" x2="1027.5" y2="1188.5" stroke="#111" stroke-width="2.0"/>
<line x1="927" y1="1082.0" x2="921" y2="1082.0" stroke="#111" stroke-width="2.0"/>
<line x1="1043.0" y1="1182.5" x2="1043.0" y2="1188.5" stroke="#111" stroke-width="2.0"/>
<line x1="927" y1="1066.5" x2="921" y2="1066.5" stroke="#111" stroke-width="2.0"/>
<line x1="1050.8" y1="1182.5" x2="1050.8" y2="1188.5" stroke="#111" stroke-width="2.0"/>
<line x1="927" y1="1058.7" x2="921" y2="1058.7" stroke="#111" stroke-width="2.0"/>
<line x1="1058.5" y1="1182.5" x2="1058.5" y2="1188.5" stroke="#111" stroke-width="2.0"/>
<line x1="927" y1="1051.0" x2="921" y2="1051.0" stroke="#111" stroke-width="2.0"/>
<line x1="1066.3" y1="1182.5" x2="1066.3" y2="1188.5" stroke="#111" stroke-width="2.0"/>
<line x1="927" y1="1043.2" x2="921" y2="1043.2" stroke="#111" stroke-width="2.0"/>
<line x1="1074.0" y1="1182.5" x2="1074.0" y2="1191.5" stroke="#111" stroke-width="2.0"/>
<line x1="927" y1="1035.5" x2="918" y2="1035.5" stroke="#111" stroke-width="2.0"/>
<line x1="1081.8" y1="1182.5" x2="1081.8" y2="1188.5" stroke="#111" stroke-width="2.0"/>
<line x1="927" y1="1027.7" x2="921" y2="1027.7" stroke="#111" stroke-width="2.0"/>
<line x1="1089.5" y1="1182.5" x2="1089.5" y2="1188.5" stroke="#111" stroke-width="2.0"/>
<line x1="927" y1="1020.0" x2="921" y2="1020.0" stroke="#111" stroke-width="2.0"/>
<line x1="1097.3" y1="1182.5" x2="1097.3" y2="1188.5" stroke="#111" stroke-width="2.0"/>
<line x1="927" y1="1012.2" x2="921" y2="1012.2" stroke="#111" stroke-width="2.0"/>
<line x1="1105.0" y1="1182.5" x2="1105.0" y2="1188.5" stroke="#111" stroke-width="2.0"/>
<line x1="927" y1="1004.5" x2="921" y2="1004.5" stroke="#111" stroke-width="2.0"/>
<line x1="1151.8" y1="1182.5" x2="1151.8" y2="1188.5" stroke="#111" stroke-width="2.0"/>
<line x1="927" y1="957.7" x2="921" y2="957.7" stroke="#111" stroke-width="2.0"/>
<line x1="1174.6" y1="1182.5" x2="1174.6" y2="1188.5" stroke="#111" stroke-width="2.0"/>
<line x1="927" y1="934.9" x2="921" y2="934.9" stroke="#111" stroke-width="2.0"/>
<line x1="1190.8" y1="1182.5" x2="1190.8" y2="1188.5" stroke="#111" stroke-width="2.0"/>
<line x1="927" y1="918.7" x2="921" y2="918.7" stroke="#111" stroke-width="2.0"/>
<line x1="1203.3" y1="1182.5" x2="1203.3" y2="1188.5" stroke="#111" stroke-width="2.0"/>
<line x1="927" y1="906.2" x2="921" y2="906.2" stroke="#111" stroke-width="2.0"/>
<line x1="1213.6" y1="1182.5" x2="1213.6" y2="1188.5" stroke="#111" stroke-width="2.0"/>
<line x1="927" y1="895.9" x2="921" y2="895.9" stroke="#111" stroke-width="2.0"/>
<line x1="1222.2" y1="1182.5" x2="1222.2" y2="1188.5" stroke="#111" stroke-width="2.0"/>
<line x1="927" y1="887.3" x2="921" y2="887.3" stroke="#111" stroke-width="2.0"/>
<line x1="1229.8" y1="1182.5" x2="1229.8" y2="1188.5" stroke="#111" stroke-width="2.0"/>
<line x1="927" y1="879.7" x2="921" y2="879.7" stroke="#111" stroke-width="2.0"/>
<line x1="1236.4" y1="1182.5" x2="1236.4" y2="1188.5" stroke="#111" stroke-width="2.0"/>
<line x1="927" y1="873.1" x2="921" y2="873.1" stroke="#111" stroke-width="2.0"/>
<line x1="1276.2" y1="1182.5" x2="1276.2" y2="1188.5" stroke="#111" stroke-width="2.0"/>
<line x1="927" y1="833.3" x2="921" y2="833.3" stroke="#111" stroke-width="2.0"/>
<line x1="1296.0" y1="1182.5" x2="1296.0" y2="1188.5" stroke="#111" stroke-width="2.0"/>
<line x1="927" y1="813.5" x2="921" y2="813.5" stroke="#111" stroke-width="2.0"/>
<line x1="1310.0" y1="1182.5" x2="1310.0" y2="1188.5" stroke="#111" stroke-width="2.0"/>
<line x1="927" y1="799.5" x2="921" y2="799.5" stroke="#111" stroke-width="2.0"/>
<line x1="1320.9" y1="1182.5" x2="1320.9" y2="1188.5" stroke="#111" stroke-width="2.0"/>
<line x1="927" y1="788.6" x2="921" y2="788.6" stroke="#111" stroke-width="2.0"/>
<line x1="1329.8" y1="1182.5" x2="1329.8" y2="1188.5" stroke="#111" stroke-width="2.0"/>
<line x1="927" y1="779.7" x2="921" y2="779.7" stroke="#111" stroke-width="2.0"/>
<line x1="1337.4" y1="1182.5" x2="1337.4" y2="1188.5" stroke="#111" stroke-width="2.0"/>
<line x1="927" y1="772.1" x2="921" y2="772.1" stroke="#111" stroke-width="2.0"/>
<line x1="1343.9" y1="1182.5" x2="1343.9" y2="1188.5" stroke="#111" stroke-width="2.0"/>
<line x1="927" y1="765.6" x2="921" y2="765.6" stroke="#111" stroke-width="2.0"/>
<line x1="1349.7" y1="1182.5" x2="1349.7" y2="1188.5" stroke="#111" stroke-width="2.0"/>
<line x1="927" y1="759.8" x2="921" y2="759.8" stroke="#111" stroke-width="2.0"/>
<line x1="1388.7" y1="1182.5" x2="1388.7" y2="1188.5" stroke="#111" stroke-width="2.0"/>
<line x1="927" y1="720.8" x2="921" y2="720.8" stroke="#111" stroke-width="2.0"/>
<line x1="957.8" y1="1182.5" x2="957.8" y2="1194.5" stroke="#111" stroke-width="3.2"/>
<line x1="927" y1="1151.7" x2="915" y2="1151.7" stroke="#111" stroke-width="3.2"/>
<line x1="1112.8" y1="1182.5" x2="1112.8" y2="1194.5" stroke="#111" stroke-width="3.2"/>
<line x1="927" y1="996.7" x2="915" y2="996.7" stroke="#111" stroke-width="3.2"/>
<line x1="1242.3" y1="1182.5" x2="1242.3" y2="1194.5" stroke="#111" stroke-width="3.2"/>
<line x1="927" y1="867.2" x2="915" y2="867.2" stroke="#111" stroke-width="3.2"/>
<line x1="1354.8" y1="1182.5" x2="1354.8" y2="1194.5" stroke="#111" stroke-width="3.2"/>
<line x1="927" y1="754.7" x2="915" y2="754.7" stroke="#111" stroke-width="3.2"/>
<rect x="1024.8" y="1182.5" width="21" height="6" fill="#111"/>
<line x1="1025.8" y1="1182.5" x2="1025.8" y2="1193.5" stroke="#111" stroke-width="2.6"/>
<line x1="1032.3" y1="1182.5" x2="1032.3" y2="1193.5" stroke="#111" stroke-width="2.6"/>
<line x1="1038.3" y1="1182.5" x2="1038.3" y2="1193.5" stroke="#111" stroke-width="2.6"/>
<line x1="1044.8" y1="1182.5" x2="1044.8" y2="1193.5" stroke="#111" stroke-width="2.6"/>
<rect x="921" y="1063.2" width="6" height="22" fill="#111"/>
<line x1="927" y1="1064.7" x2="916" y2="1064.7" stroke="#111" stroke-width="2.6"/>
<line x1="927" y1="1071.2" x2="916" y2="1071.2" stroke="#111" stroke-width="2.6"/>
<line x1="927" y1="1077.2" x2="916" y2="1077.2" stroke="#111" stroke-width="2.6"/>
<line x1="927" y1="1083.7" x2="916" y2="1083.7" stroke="#111" stroke-width="2.6"/>
<rect x="956.5" y="1216.9" width="2.8" height="2.6" fill="#111"/>
<text x="962.8" y="1222.5" font-family='"Liberation Sans", sans-serif' font-size="17.5" font-weight="bold" fill="#111" textLength="14.6" lengthAdjust="spacingAndGlyphs">10</text>
<text x="978.6" y="1210.2" font-family='"Liberation Sans", sans-serif' font-size="17.5" font-weight="bold" fill="#111" textLength="8.6" lengthAdjust="spacingAndGlyphs">3</text>
<text x="1039.5" y="1222.5" font-family='"Liberation Sans", sans-serif' font-size="17.5" font-weight="bold" fill="#111" textLength="8.8" lengthAdjust="spacingAndGlyphs">0</text>
<text x="1114.3" y="1222.5" font-family='"Liberation Sans", sans-serif' font-size="17.5" font-weight="bold" fill="#111" textLength="14.6" lengthAdjust="spacingAndGlyphs">10</text>
<text x="1129.6" y="1210.2" font-family='"Liberation Sans", sans-serif' font-size="17.5" font-weight="bold" fill="#111" textLength="8.6" lengthAdjust="spacingAndGlyphs">3</text>
<text x="1244.3" y="1222.5" font-family='"Liberation Sans", sans-serif' font-size="17.5" font-weight="bold" fill="#111" textLength="14.6" lengthAdjust="spacingAndGlyphs">10</text>
<text x="1259.6" y="1210.2" font-family='"Liberation Sans", sans-serif' font-size="17.5" font-weight="bold" fill="#111" textLength="8.6" lengthAdjust="spacingAndGlyphs">4</text>
<text x="1356.3" y="1222.5" font-family='"Liberation Sans", sans-serif' font-size="17.5" font-weight="bold" fill="#111" textLength="14.6" lengthAdjust="spacingAndGlyphs">10</text>
<text x="1371.6" y="1210.2" font-family='"Liberation Sans", sans-serif' font-size="17.5" font-weight="bold" fill="#111" textLength="8.6" lengthAdjust="spacingAndGlyphs">5</text>
<text x="880.7" y="764.7" font-family='"Liberation Sans", sans-serif' font-size="17.5" font-weight="bold" fill="#111" textLength="14.6" lengthAdjust="spacingAndGlyphs">10</text>
<text x="896.0" y="752.4" font-family='"Liberation Sans", sans-serif' font-size="17.5" font-weight="bold" fill="#111" textLength="8.6" lengthAdjust="spacingAndGlyphs">5</text>
<text x="880.7" y="877.2" font-family='"Liberation Sans", sans-serif' font-size="17.5" font-weight="bold" fill="#111" textLength="14.6" lengthAdjust="spacingAndGlyphs">10</text>
<text x="896.0" y="864.9" font-family='"Liberation Sans", sans-serif' font-size="17.5" font-weight="bold" fill="#111" textLength="8.6" lengthAdjust="spacingAndGlyphs">4</text>
<text x="880.7" y="1006.7" font-family='"Liberation Sans", sans-serif' font-size="17.5" font-weight="bold" fill="#111" textLength="14.6" lengthAdjust="spacingAndGlyphs">10</text>
<text x="896.0" y="994.4" font-family='"Liberation Sans", sans-serif' font-size="17.5" font-weight="bold" fill="#111" textLength="8.6" lengthAdjust="spacingAndGlyphs">3</text>
<text x="886.8" y="1080.4" font-family='"Liberation Sans", sans-serif' font-size="17.5" font-weight="bold" fill="#111" textLength="8.8" lengthAdjust="spacingAndGlyphs">0</text>
<rect x="869.2" y="1156.7" width="2.8" height="2.6" fill="#111"/>
<text x="876.5" y="1162.3" font-family='"Liberation Sans", sans-serif' font-size="17.5" font-weight="bold" fill="#111" textLength="14.6" lengthAdjust="spacingAndGlyphs">10</text>
<text x="896.0" y="1150.0" font-family='"Liberation Sans", sans-serif' font-size="17.5" font-weight="bold" fill="#111" textLength="8.6" lengthAdjust="spacingAndGlyphs">3</text>
<text x="1108.5" y="1268.3" font-family='"Liberation Sans", sans-serif' font-size="19" font-weight="normal" fill="#222" text-anchor="start" stroke="#222" stroke-width="0.35">His48-FITC</text>
<text x="0" y="0" transform="translate(830.7,946) rotate(-90)" font-family='"Liberation Sans", sans-serif' font-size="19" fill="#222" stroke="#222" stroke-width="0.35" text-anchor="middle">CD43-PE</text>
<text x="140.8" y="35.5" font-family='"Liberation Sans", sans-serif' font-size="34" font-weight="bold" fill="#000" text-anchor="start" >A</text>
<text x="499.5" y="47.6" font-family='"Liberation Serif", serif' font-size="46.8" font-weight="bold" fill="#000" text-anchor="middle" >Wistar</text>
<text x="1168.5" y="47.6" font-family='"Liberation Serif", serif' font-size="46.8" font-weight="bold" fill="#000" text-anchor="middle" >SHR</text>
<text x="17.0" y="297.6" font-family='"Liberation Serif", serif' font-size="40" font-weight="normal" fill="#000" text-anchor="start" >5-6</text>
<text x="17.5" y="348.5" font-family='"Liberation Serif", serif' font-size="40" font-weight="normal" fill="#000" text-anchor="start" >weeks</text>
<text x="17.0" y="928.0" font-family='"Liberation Serif", serif' font-size="40" font-weight="normal" fill="#000" text-anchor="start" >12-18</text>
<text x="17.5" y="976.5" font-family='"Liberation Serif", serif' font-size="40" font-weight="normal" fill="#000" text-anchor="start" >weeks</text>
<clipPath id="c1"><rect x="272" y="80.2" width="472" height="472"/></clipPath><g clip-path="url(#c1)"><path fill="#00cdff" d="M453.1 189.6h5.8v5.8h-5.8zM464.4 187.6h5.8v5.8h-5.8zM484.8 190.8h5.8v5.8h-5.8zM499.4 189.2h5.8v5.8h-5.8zM506.0 188.2h5.8v5.8h-5.8zM513.0 188.9h5.8v5.8h-5.8zM556.9 190.9h5.8v5.8h-5.8zM572.1 188.3h5.8v5.8h-5.8zM580.1 188.7h5.8v5.8h-5.8zM592.7 190.4h5.8v5.8h-5.8zM428.1 196.6h5.8v5.8h-5.8zM445.6 195.6h5.8v5.8h-5.8zM457.6 194.5h5.8v5.8h-5.8zM476.2 193.7h5.8v5.8h-5.8zM484.2 193.9h5.8v5.8h-5.8zM501.9 193.8h5.8v5.8h-5.8zM512.8 194.1h5.8v5.8h-5.8zM520.8 196.2h5.8v5.8h-5.8zM526.5 194.1h5.8v5.8h-5.8zM532.4 195.6h5.8v5.8h-5.8zM538.9 194.1h5.8v5.8h-5.8zM544.1 194.5h5.8v5.8h-5.8zM547.6 193.6h5.8v5.8h-5.8zM561.5 194.6h5.8v5.8h-5.8zM595.9 196.6h5.8v5.8h-5.8zM434.0 202.0h5.8v5.8h-5.8zM448.7 202.5h5.8v5.8h-5.8zM463.4 202.8h5.8v5.8h-5.8zM471.8 200.2h5.8v5.8h-5.8zM487.9 201.9h5.8v5.8h-5.8zM494.1 201.3h5.8v5.8h-5.8zM514.6 200.0h5.8v5.8h-5.8zM518.3 200.9h5.8v5.8h-5.8zM523.9 200.6h5.8v5.8h-5.8zM536.6 202.5h5.8v5.8h-5.8zM565.4 199.4h5.8v5.8h-5.8zM591.6 201.0h5.8v5.8h-5.8zM604.9 199.6h5.8v5.8h-5.8zM477.8 208.5h5.8v5.8h-5.8zM490.1 208.4h5.8v5.8h-5.8zM507.4 207.5h5.8v5.8h-5.8zM513.6 208.9h5.8v5.8h-5.8zM531.9 207.4h5.8v5.8h-5.8zM550.0 205.4h5.8v5.8h-5.8zM567.8 207.1h5.8v5.8h-5.8zM583.3 206.4h5.8v5.8h-5.8zM595.9 208.6h5.8v5.8h-5.8zM621.7 206.0h5.8v5.8h-5.8zM471.4 212.4h5.8v5.8h-5.8zM477.1 214.3h5.8v5.8h-5.8zM499.9 212.9h5.8v5.8h-5.8zM506.1 212.8h5.8v5.8h-5.8zM526.3 214.8h5.8v5.8h-5.8zM535.4 214.4h5.8v5.8h-5.8zM543.9 213.4h5.8v5.8h-5.8zM550.1 211.4h5.8v5.8h-5.8zM554.9 211.4h5.8v5.8h-5.8zM565.8 211.5h5.8v5.8h-5.8zM615.0 211.9h5.8v5.8h-5.8zM621.0 213.9h5.8v5.8h-5.8zM626.3 212.5h5.8v5.8h-5.8zM472.2 220.6h5.8v5.8h-5.8zM478.7 219.9h5.8v5.8h-5.8zM482.9 219.6h5.8v5.8h-5.8zM495.3 220.5h5.8v5.8h-5.8zM525.9 220.2h5.8v5.8h-5.8zM544.5 220.8h5.8v5.8h-5.8zM568.6 220.4h5.8v5.8h-5.8zM571.6 218.9h5.8v5.8h-5.8zM598.2 217.5h5.8v5.8h-5.8zM608.5 220.1h5.8v5.8h-5.8zM613.8 219.2h5.8v5.8h-5.8zM464.1 225.2h5.8v5.8h-5.8zM471.9 225.6h5.8v5.8h-5.8zM494.7 226.3h5.8v5.8h-5.8zM508.4 226.8h5.8v5.8h-5.8zM525.2 225.1h5.8v5.8h-5.8zM538.8 225.2h5.8v5.8h-5.8zM544.2 225.3h5.8v5.8h-5.8zM561.2 224.8h5.8v5.8h-5.8zM579.0 223.8h5.8v5.8h-5.8zM608.0 225.5h5.8v5.8h-5.8zM622.1 223.4h5.8v5.8h-5.8zM626.1 225.8h5.8v5.8h-5.8zM632.6 225.5h5.8v5.8h-5.8zM639.9 223.7h5.8v5.8h-5.8zM446.0 231.2h5.8v5.8h-5.8zM458.8 231.2h5.8v5.8h-5.8zM464.0 231.6h5.8v5.8h-5.8zM502.0 232.2h5.8v5.8h-5.8zM512.4 232.6h5.8v5.8h-5.8zM520.9 232.5h5.8v5.8h-5.8zM524.2 231.9h5.8v5.8h-5.8zM529.6 232.3h5.8v5.8h-5.8zM548.8 231.8h5.8v5.8h-5.8zM554.0 231.8h5.8v5.8h-5.8zM573.1 232.0h5.8v5.8h-5.8zM589.6 229.7h5.8v5.8h-5.8zM597.3 231.2h5.8v5.8h-5.8zM608.0 230.0h5.8v5.8h-5.8zM631.5 232.7h5.8v5.8h-5.8zM447.0 237.2h5.8v5.8h-5.8zM465.8 238.3h5.8v5.8h-5.8zM470.9 238.0h5.8v5.8h-5.8zM476.0 235.9h5.8v5.8h-5.8zM490.5 238.2h5.8v5.8h-5.8zM513.5 237.1h5.8v5.8h-5.8zM532.6 238.0h5.8v5.8h-5.8zM550.5 238.5h5.8v5.8h-5.8zM573.9 235.6h5.8v5.8h-5.8zM579.0 235.3h5.8v5.8h-5.8zM585.6 237.5h5.8v5.8h-5.8zM592.7 237.7h5.8v5.8h-5.8zM597.7 237.4h5.8v5.8h-5.8zM610.9 237.6h5.8v5.8h-5.8zM633.5 238.0h5.8v5.8h-5.8zM638.7 235.5h5.8v5.8h-5.8zM644.7 235.7h5.8v5.8h-5.8zM448.6 243.3h5.8v5.8h-5.8zM489.5 244.0h5.8v5.8h-5.8zM496.6 241.9h5.8v5.8h-5.8zM507.1 243.5h5.8v5.8h-5.8zM514.7 242.8h5.8v5.8h-5.8zM530.3 243.7h5.8v5.8h-5.8zM543.9 242.4h5.8v5.8h-5.8zM548.2 241.5h5.8v5.8h-5.8zM556.0 242.7h5.8v5.8h-5.8zM574.9 244.7h5.8v5.8h-5.8zM580.6 242.8h5.8v5.8h-5.8zM597.2 244.7h5.8v5.8h-5.8zM633.5 242.9h5.8v5.8h-5.8zM637.5 243.2h5.8v5.8h-5.8zM644.9 243.7h5.8v5.8h-5.8zM453.4 248.8h5.8v5.8h-5.8zM487.7 250.5h5.8v5.8h-5.8zM506.3 249.8h5.8v5.8h-5.8zM536.2 250.8h5.8v5.8h-5.8zM553.5 248.3h5.8v5.8h-5.8zM573.2 247.6h5.8v5.8h-5.8zM579.7 249.3h5.8v5.8h-5.8zM591.0 248.1h5.8v5.8h-5.8zM598.0 250.3h5.8v5.8h-5.8zM601.7 250.2h5.8v5.8h-5.8zM620.8 248.2h5.8v5.8h-5.8zM633.7 250.9h5.8v5.8h-5.8zM639.3 250.0h5.8v5.8h-5.8zM451.6 256.5h5.8v5.8h-5.8zM457.6 255.3h5.8v5.8h-5.8zM478.1 253.6h5.8v5.8h-5.8zM483.7 253.6h5.8v5.8h-5.8zM489.9 255.8h5.8v5.8h-5.8zM493.8 254.6h5.8v5.8h-5.8zM505.7 255.9h5.8v5.8h-5.8zM548.4 254.7h5.8v5.8h-5.8zM566.6 254.6h5.8v5.8h-5.8zM572.7 254.7h5.8v5.8h-5.8zM579.3 256.2h5.8v5.8h-5.8zM604.0 256.5h5.8v5.8h-5.8zM607.4 255.2h5.8v5.8h-5.8zM645.3 256.1h5.8v5.8h-5.8zM649.6 256.0h5.8v5.8h-5.8zM459.6 259.8h5.8v5.8h-5.8zM476.1 262.1h5.8v5.8h-5.8zM494.5 262.8h5.8v5.8h-5.8zM538.3 261.7h5.8v5.8h-5.8zM610.0 262.9h5.8v5.8h-5.8zM613.9 260.0h5.8v5.8h-5.8zM628.8 259.5h5.8v5.8h-5.8zM631.7 261.6h5.8v5.8h-5.8zM643.5 261.0h5.8v5.8h-5.8zM457.7 266.0h5.8v5.8h-5.8zM464.1 267.9h5.8v5.8h-5.8zM476.0 266.3h5.8v5.8h-5.8zM484.0 266.4h5.8v5.8h-5.8zM508.5 268.6h5.8v5.8h-5.8zM513.3 268.7h5.8v5.8h-5.8zM523.5 268.7h5.8v5.8h-5.8zM537.2 267.2h5.8v5.8h-5.8zM544.9 267.7h5.8v5.8h-5.8zM547.3 267.0h5.8v5.8h-5.8zM556.2 267.9h5.8v5.8h-5.8zM565.9 266.5h5.8v5.8h-5.8zM574.4 267.2h5.8v5.8h-5.8zM591.2 265.8h5.8v5.8h-5.8zM604.3 268.3h5.8v5.8h-5.8zM614.3 267.9h5.8v5.8h-5.8zM621.0 267.0h5.8v5.8h-5.8zM646.1 266.8h5.8v5.8h-5.8zM454.3 272.1h5.8v5.8h-5.8zM472.3 272.4h5.8v5.8h-5.8zM475.6 272.4h5.8v5.8h-5.8zM495.8 271.7h5.8v5.8h-5.8zM501.0 274.8h5.8v5.8h-5.8zM518.7 273.9h5.8v5.8h-5.8zM525.3 272.9h5.8v5.8h-5.8zM532.9 274.2h5.8v5.8h-5.8zM537.5 272.3h5.8v5.8h-5.8zM543.2 272.4h5.8v5.8h-5.8zM548.7 273.7h5.8v5.8h-5.8zM554.0 273.9h5.8v5.8h-5.8zM562.7 273.3h5.8v5.8h-5.8zM574.3 271.6h5.8v5.8h-5.8zM577.6 273.7h5.8v5.8h-5.8zM590.7 274.3h5.8v5.8h-5.8zM602.1 271.9h5.8v5.8h-5.8zM608.8 271.6h5.8v5.8h-5.8zM650.5 272.8h5.8v5.8h-5.8zM452.7 279.8h5.8v5.8h-5.8zM482.5 278.5h5.8v5.8h-5.8zM494.7 279.1h5.8v5.8h-5.8zM520.1 280.6h5.8v5.8h-5.8zM531.1 277.8h5.8v5.8h-5.8zM568.7 279.6h5.8v5.8h-5.8zM571.6 278.2h5.8v5.8h-5.8zM592.6 278.6h5.8v5.8h-5.8zM604.8 277.8h5.8v5.8h-5.8zM634.6 280.9h5.8v5.8h-5.8zM652.3 278.3h5.8v5.8h-5.8zM459.4 286.3h5.8v5.8h-5.8zM465.3 283.6h5.8v5.8h-5.8zM469.9 286.9h5.8v5.8h-5.8zM489.7 286.0h5.8v5.8h-5.8zM495.4 286.2h5.8v5.8h-5.8zM500.0 285.0h5.8v5.8h-5.8zM506.7 285.4h5.8v5.8h-5.8zM513.2 284.2h5.8v5.8h-5.8zM525.6 283.4h5.8v5.8h-5.8zM538.8 285.5h5.8v5.8h-5.8zM549.5 285.8h5.8v5.8h-5.8zM590.9 285.3h5.8v5.8h-5.8zM625.5 285.9h5.8v5.8h-5.8zM453.4 289.6h5.8v5.8h-5.8zM458.9 291.1h5.8v5.8h-5.8zM463.5 291.8h5.8v5.8h-5.8zM476.4 290.7h5.8v5.8h-5.8zM481.5 292.6h5.8v5.8h-5.8zM520.0 291.3h5.8v5.8h-5.8zM532.2 289.7h5.8v5.8h-5.8zM548.2 290.4h5.8v5.8h-5.8zM553.5 292.5h5.8v5.8h-5.8zM566.6 291.4h5.8v5.8h-5.8zM571.4 292.5h5.8v5.8h-5.8zM579.1 292.7h5.8v5.8h-5.8zM596.4 292.6h5.8v5.8h-5.8zM610.3 290.6h5.8v5.8h-5.8zM622.5 292.9h5.8v5.8h-5.8zM627.6 290.0h5.8v5.8h-5.8zM637.7 291.9h5.8v5.8h-5.8zM646.5 292.4h5.8v5.8h-5.8zM657.8 292.7h5.8v5.8h-5.8zM458.1 296.4h5.8v5.8h-5.8zM470.0 296.1h5.8v5.8h-5.8zM489.7 298.5h5.8v5.8h-5.8zM500.4 298.6h5.8v5.8h-5.8zM513.6 295.6h5.8v5.8h-5.8zM543.5 296.3h5.8v5.8h-5.8zM550.2 295.6h5.8v5.8h-5.8zM556.0 296.2h5.8v5.8h-5.8zM561.3 296.0h5.8v5.8h-5.8zM579.0 298.0h5.8v5.8h-5.8zM586.6 297.1h5.8v5.8h-5.8zM591.3 297.6h5.8v5.8h-5.8zM597.7 298.1h5.8v5.8h-5.8zM640.1 295.9h5.8v5.8h-5.8zM650.9 298.1h5.8v5.8h-5.8zM459.1 302.1h5.8v5.8h-5.8zM477.4 303.9h5.8v5.8h-5.8zM493.8 301.4h5.8v5.8h-5.8zM520.2 301.6h5.8v5.8h-5.8zM547.8 302.4h5.8v5.8h-5.8zM554.4 303.5h5.8v5.8h-5.8zM567.4 301.6h5.8v5.8h-5.8zM578.2 301.9h5.8v5.8h-5.8zM602.8 302.6h5.8v5.8h-5.8zM610.8 301.5h5.8v5.8h-5.8zM632.9 304.0h5.8v5.8h-5.8zM638.2 304.5h5.8v5.8h-5.8zM644.7 302.4h5.8v5.8h-5.8zM655.4 304.9h5.8v5.8h-5.8zM464.2 309.3h5.8v5.8h-5.8zM471.0 310.7h5.8v5.8h-5.8zM476.5 310.8h5.8v5.8h-5.8zM488.8 309.6h5.8v5.8h-5.8zM494.5 309.8h5.8v5.8h-5.8zM526.3 308.7h5.8v5.8h-5.8zM536.6 308.0h5.8v5.8h-5.8zM548.0 308.1h5.8v5.8h-5.8zM560.9 310.9h5.8v5.8h-5.8zM578.7 307.6h5.8v5.8h-5.8zM590.3 307.4h5.8v5.8h-5.8zM596.2 308.7h5.8v5.8h-5.8zM614.6 307.9h5.8v5.8h-5.8zM628.1 309.9h5.8v5.8h-5.8zM638.5 308.7h5.8v5.8h-5.8zM646.5 308.5h5.8v5.8h-5.8zM452.7 314.2h5.8v5.8h-5.8zM457.8 315.4h5.8v5.8h-5.8zM464.4 314.8h5.8v5.8h-5.8zM477.8 314.2h5.8v5.8h-5.8zM494.0 314.3h5.8v5.8h-5.8zM506.7 316.4h5.8v5.8h-5.8zM512.4 314.5h5.8v5.8h-5.8zM517.4 313.4h5.8v5.8h-5.8zM549.7 316.6h5.8v5.8h-5.8zM555.8 315.7h5.8v5.8h-5.8zM573.6 313.6h5.8v5.8h-5.8zM583.5 314.7h5.8v5.8h-5.8zM591.1 314.3h5.8v5.8h-5.8zM596.7 315.0h5.8v5.8h-5.8zM603.7 314.2h5.8v5.8h-5.8zM608.5 314.8h5.8v5.8h-5.8zM615.4 315.8h5.8v5.8h-5.8zM632.7 314.6h5.8v5.8h-5.8zM638.8 313.5h5.8v5.8h-5.8zM452.2 319.4h5.8v5.8h-5.8zM460.5 321.3h5.8v5.8h-5.8zM465.7 320.0h5.8v5.8h-5.8zM489.4 322.7h5.8v5.8h-5.8zM512.8 320.3h5.8v5.8h-5.8zM532.6 319.4h5.8v5.8h-5.8zM537.1 320.4h5.8v5.8h-5.8zM544.8 319.8h5.8v5.8h-5.8zM548.1 321.7h5.8v5.8h-5.8zM553.3 321.3h5.8v5.8h-5.8zM560.2 321.1h5.8v5.8h-5.8zM602.5 322.5h5.8v5.8h-5.8zM609.9 321.8h5.8v5.8h-5.8zM633.5 321.1h5.8v5.8h-5.8zM644.3 322.0h5.8v5.8h-5.8zM656.2 320.5h5.8v5.8h-5.8zM459.1 325.8h5.8v5.8h-5.8zM463.5 325.7h5.8v5.8h-5.8zM476.9 328.1h5.8v5.8h-5.8zM490.4 328.4h5.8v5.8h-5.8zM494.2 327.1h5.8v5.8h-5.8zM507.9 326.2h5.8v5.8h-5.8zM518.5 328.0h5.8v5.8h-5.8zM572.7 327.7h5.8v5.8h-5.8zM578.0 325.3h5.8v5.8h-5.8zM603.8 326.8h5.8v5.8h-5.8zM616.7 328.9h5.8v5.8h-5.8zM621.9 325.7h5.8v5.8h-5.8zM626.3 327.9h5.8v5.8h-5.8zM638.5 325.4h5.8v5.8h-5.8zM656.4 328.2h5.8v5.8h-5.8zM464.7 333.5h5.8v5.8h-5.8zM483.8 333.3h5.8v5.8h-5.8zM493.9 331.7h5.8v5.8h-5.8zM507.1 331.7h5.8v5.8h-5.8zM511.4 333.3h5.8v5.8h-5.8zM519.6 332.3h5.8v5.8h-5.8zM525.0 332.6h5.8v5.8h-5.8zM529.5 331.5h5.8v5.8h-5.8zM541.6 332.0h5.8v5.8h-5.8zM562.4 333.0h5.8v5.8h-5.8zM568.2 332.7h5.8v5.8h-5.8zM573.3 333.7h5.8v5.8h-5.8zM586.7 334.4h5.8v5.8h-5.8zM613.4 331.9h5.8v5.8h-5.8zM619.6 332.6h5.8v5.8h-5.8zM633.2 331.3h5.8v5.8h-5.8zM640.8 331.3h5.8v5.8h-5.8zM466.2 340.3h5.8v5.8h-5.8zM484.7 338.7h5.8v5.8h-5.8zM496.6 337.4h5.8v5.8h-5.8zM506.7 338.6h5.8v5.8h-5.8zM525.6 338.6h5.8v5.8h-5.8zM532.6 338.5h5.8v5.8h-5.8zM536.5 340.0h5.8v5.8h-5.8zM544.0 339.3h5.8v5.8h-5.8zM553.7 337.8h5.8v5.8h-5.8zM560.9 337.3h5.8v5.8h-5.8zM572.5 339.2h5.8v5.8h-5.8zM586.5 338.5h5.8v5.8h-5.8zM598.9 338.8h5.8v5.8h-5.8zM608.8 339.8h5.8v5.8h-5.8zM614.3 339.7h5.8v5.8h-5.8zM626.0 338.6h5.8v5.8h-5.8zM639.6 338.7h5.8v5.8h-5.8zM651.5 340.5h5.8v5.8h-5.8zM478.3 345.8h5.8v5.8h-5.8zM494.7 344.1h5.8v5.8h-5.8zM519.6 344.9h5.8v5.8h-5.8zM543.0 346.9h5.8v5.8h-5.8zM556.0 346.9h5.8v5.8h-5.8zM562.4 343.8h5.8v5.8h-5.8zM580.3 345.6h5.8v5.8h-5.8zM616.4 345.9h5.8v5.8h-5.8zM622.2 344.9h5.8v5.8h-5.8zM638.3 345.6h5.8v5.8h-5.8zM645.3 346.1h5.8v5.8h-5.8zM658.2 346.4h5.8v5.8h-5.8zM482.6 349.7h5.8v5.8h-5.8zM488.5 352.4h5.8v5.8h-5.8zM500.0 350.7h5.8v5.8h-5.8zM526.9 350.0h5.8v5.8h-5.8zM549.7 350.9h5.8v5.8h-5.8zM554.5 350.4h5.8v5.8h-5.8zM567.5 351.8h5.8v5.8h-5.8zM571.8 351.8h5.8v5.8h-5.8zM583.7 352.7h5.8v5.8h-5.8zM596.0 352.9h5.8v5.8h-5.8zM614.4 350.8h5.8v5.8h-5.8zM621.6 350.8h5.8v5.8h-5.8zM632.9 351.1h5.8v5.8h-5.8zM645.8 350.1h5.8v5.8h-5.8zM658.4 350.3h5.8v5.8h-5.8zM490.0 357.5h5.8v5.8h-5.8zM500.8 356.3h5.8v5.8h-5.8zM519.8 357.7h5.8v5.8h-5.8zM524.8 355.8h5.8v5.8h-5.8zM536.8 356.5h5.8v5.8h-5.8zM568.5 355.6h5.8v5.8h-5.8zM572.6 357.9h5.8v5.8h-5.8zM586.5 358.7h5.8v5.8h-5.8zM591.6 357.0h5.8v5.8h-5.8zM597.0 356.4h5.8v5.8h-5.8zM634.3 357.6h5.8v5.8h-5.8zM651.0 356.7h5.8v5.8h-5.8zM466.9 362.1h5.8v5.8h-5.8zM469.8 362.7h5.8v5.8h-5.8zM481.9 363.6h5.8v5.8h-5.8zM502.2 363.9h5.8v5.8h-5.8zM513.0 361.4h5.8v5.8h-5.8zM536.6 363.2h5.8v5.8h-5.8zM550.1 362.4h5.8v5.8h-5.8zM561.3 361.8h5.8v5.8h-5.8zM567.1 362.4h5.8v5.8h-5.8zM578.8 361.5h5.8v5.8h-5.8zM584.9 363.3h5.8v5.8h-5.8zM604.4 361.9h5.8v5.8h-5.8zM621.5 364.4h5.8v5.8h-5.8zM631.3 361.9h5.8v5.8h-5.8zM657.2 361.4h5.8v5.8h-5.8zM464.4 370.8h5.8v5.8h-5.8zM482.8 367.6h5.8v5.8h-5.8zM487.7 370.6h5.8v5.8h-5.8zM495.1 369.7h5.8v5.8h-5.8zM530.4 370.0h5.8v5.8h-5.8zM536.6 368.8h5.8v5.8h-5.8zM548.8 368.9h5.8v5.8h-5.8zM556.3 367.5h5.8v5.8h-5.8zM572.1 367.7h5.8v5.8h-5.8zM578.4 369.0h5.8v5.8h-5.8zM586.0 369.1h5.8v5.8h-5.8zM590.8 370.8h5.8v5.8h-5.8zM597.4 370.8h5.8v5.8h-5.8zM603.5 368.6h5.8v5.8h-5.8zM609.5 369.4h5.8v5.8h-5.8zM615.1 369.2h5.8v5.8h-5.8zM625.6 368.2h5.8v5.8h-5.8zM634.2 368.8h5.8v5.8h-5.8zM644.3 369.7h5.8v5.8h-5.8zM652.8 370.3h5.8v5.8h-5.8zM656.4 370.2h5.8v5.8h-5.8zM478.0 373.5h5.8v5.8h-5.8zM508.7 376.0h5.8v5.8h-5.8zM520.0 374.8h5.8v5.8h-5.8zM544.1 374.9h5.8v5.8h-5.8zM554.9 374.9h5.8v5.8h-5.8zM560.5 375.9h5.8v5.8h-5.8zM565.7 376.3h5.8v5.8h-5.8zM583.7 374.4h5.8v5.8h-5.8zM608.8 375.2h5.8v5.8h-5.8zM622.4 375.0h5.8v5.8h-5.8zM626.9 374.7h5.8v5.8h-5.8zM658.1 373.7h5.8v5.8h-5.8zM477.4 380.0h5.8v5.8h-5.8zM481.9 380.6h5.8v5.8h-5.8zM501.4 382.3h5.8v5.8h-5.8zM507.4 381.0h5.8v5.8h-5.8zM519.8 380.1h5.8v5.8h-5.8zM525.9 381.4h5.8v5.8h-5.8zM529.5 382.3h5.8v5.8h-5.8zM537.9 380.9h5.8v5.8h-5.8zM580.0 379.7h5.8v5.8h-5.8zM586.4 379.4h5.8v5.8h-5.8zM607.8 382.7h5.8v5.8h-5.8zM628.1 380.1h5.8v5.8h-5.8zM633.2 381.5h5.8v5.8h-5.8zM640.1 381.4h5.8v5.8h-5.8zM484.7 387.9h5.8v5.8h-5.8zM490.4 387.9h5.8v5.8h-5.8zM494.2 385.4h5.8v5.8h-5.8zM506.4 386.2h5.8v5.8h-5.8zM513.0 386.3h5.8v5.8h-5.8zM518.3 387.1h5.8v5.8h-5.8zM532.4 388.4h5.8v5.8h-5.8zM577.5 388.7h5.8v5.8h-5.8zM586.1 386.1h5.8v5.8h-5.8zM597.9 388.7h5.8v5.8h-5.8zM614.1 388.7h5.8v5.8h-5.8zM622.7 387.7h5.8v5.8h-5.8zM628.5 385.7h5.8v5.8h-5.8zM640.9 386.4h5.8v5.8h-5.8zM651.7 385.5h5.8v5.8h-5.8zM495.4 394.8h5.8v5.8h-5.8zM525.2 392.0h5.8v5.8h-5.8zM537.1 392.0h5.8v5.8h-5.8zM549.0 391.6h5.8v5.8h-5.8zM578.4 392.5h5.8v5.8h-5.8zM627.1 393.4h5.8v5.8h-5.8zM507.2 400.8h5.8v5.8h-5.8zM511.7 400.4h5.8v5.8h-5.8zM523.4 400.3h5.8v5.8h-5.8zM559.5 400.2h5.8v5.8h-5.8zM578.5 398.5h5.8v5.8h-5.8zM586.1 398.2h5.8v5.8h-5.8zM603.7 398.9h5.8v5.8h-5.8zM610.5 397.9h5.8v5.8h-5.8zM614.2 399.0h5.8v5.8h-5.8zM626.2 399.7h5.8v5.8h-5.8zM633.2 398.2h5.8v5.8h-5.8zM644.1 398.4h5.8v5.8h-5.8zM543.9 405.7h5.8v5.8h-5.8zM562.0 404.2h5.8v5.8h-5.8zM566.8 406.9h5.8v5.8h-5.8zM572.6 406.6h5.8v5.8h-5.8zM583.8 406.1h5.8v5.8h-5.8zM598.1 404.7h5.8v5.8h-5.8zM603.4 406.0h5.8v5.8h-5.8zM621.1 404.7h5.8v5.8h-5.8zM628.6 403.8h5.8v5.8h-5.8zM634.5 406.8h5.8v5.8h-5.8zM646.7 403.8h5.8v5.8h-5.8zM589.8 411.7h5.8v5.8h-5.8z"/><path fill="#f82a2c" d="M440.6 188.3h5.8v5.8h-5.8zM502.2 187.6h5.8v5.8h-5.8zM529.5 190.6h5.8v5.8h-5.8zM433.9 196.2h5.8v5.8h-5.8zM471.9 196.8h5.8v5.8h-5.8zM550.3 194.8h5.8v5.8h-5.8zM434.3 200.5h5.8v5.8h-5.8zM447.0 200.1h5.8v5.8h-5.8zM518.3 202.1h5.8v5.8h-5.8zM535.4 201.5h5.8v5.8h-5.8zM560.5 202.1h5.8v5.8h-5.8zM465.9 214.6h5.8v5.8h-5.8zM459.1 218.9h5.8v5.8h-5.8zM500.6 218.3h5.8v5.8h-5.8zM514.2 224.3h5.8v5.8h-5.8zM460.3 232.4h5.8v5.8h-5.8zM518.4 229.3h5.8v5.8h-5.8zM541.7 235.6h5.8v5.8h-5.8zM547.3 236.2h5.8v5.8h-5.8zM596.1 238.6h5.8v5.8h-5.8zM645.5 238.7h5.8v5.8h-5.8zM494.1 243.0h5.8v5.8h-5.8zM585.7 247.7h5.8v5.8h-5.8zM574.5 256.1h5.8v5.8h-5.8zM631.5 253.7h5.8v5.8h-5.8zM615.1 260.6h5.8v5.8h-5.8zM628.6 261.2h5.8v5.8h-5.8zM478.2 267.2h5.8v5.8h-5.8zM559.7 265.5h5.8v5.8h-5.8zM501.5 272.6h5.8v5.8h-5.8zM584.4 274.7h5.8v5.8h-5.8zM619.9 272.9h5.8v5.8h-5.8zM466.8 280.5h5.8v5.8h-5.8zM493.6 279.0h5.8v5.8h-5.8zM544.7 285.5h5.8v5.8h-5.8zM619.9 284.3h5.8v5.8h-5.8zM652.3 283.8h5.8v5.8h-5.8zM478.6 289.3h5.8v5.8h-5.8zM529.9 290.4h5.8v5.8h-5.8zM548.5 292.8h5.8v5.8h-5.8zM560.3 292.5h5.8v5.8h-5.8zM481.6 295.3h5.8v5.8h-5.8zM604.4 296.4h5.8v5.8h-5.8zM637.8 297.5h5.8v5.8h-5.8zM651.0 296.6h5.8v5.8h-5.8zM475.8 304.6h5.8v5.8h-5.8zM554.1 304.8h5.8v5.8h-5.8zM574.0 302.6h5.8v5.8h-5.8zM633.0 301.5h5.8v5.8h-5.8zM472.4 307.4h5.8v5.8h-5.8zM496.5 310.8h5.8v5.8h-5.8zM607.8 308.0h5.8v5.8h-5.8zM508.6 313.7h5.8v5.8h-5.8zM573.6 315.8h5.8v5.8h-5.8zM616.5 313.7h5.8v5.8h-5.8zM632.9 316.2h5.8v5.8h-5.8zM652.7 313.7h5.8v5.8h-5.8zM602.1 320.3h5.8v5.8h-5.8zM632.2 321.1h5.8v5.8h-5.8zM652.8 322.4h5.8v5.8h-5.8zM478.8 328.5h5.8v5.8h-5.8zM507.4 340.0h5.8v5.8h-5.8zM578.1 345.3h5.8v5.8h-5.8zM634.5 350.0h5.8v5.8h-5.8zM637.6 351.2h5.8v5.8h-5.8zM514.9 355.3h5.8v5.8h-5.8zM560.5 357.6h5.8v5.8h-5.8zM573.0 358.6h5.8v5.8h-5.8zM495.3 361.5h5.8v5.8h-5.8zM554.8 363.9h5.8v5.8h-5.8zM513.3 369.7h5.8v5.8h-5.8zM574.3 368.3h5.8v5.8h-5.8zM608.5 370.3h5.8v5.8h-5.8zM620.9 370.9h5.8v5.8h-5.8zM652.5 367.8h5.8v5.8h-5.8zM499.9 375.5h5.8v5.8h-5.8zM512.7 373.5h5.8v5.8h-5.8zM568.2 373.6h5.8v5.8h-5.8zM639.9 376.1h5.8v5.8h-5.8zM646.4 373.7h5.8v5.8h-5.8zM565.8 381.5h5.8v5.8h-5.8zM601.9 394.9h5.8v5.8h-5.8zM650.4 393.1h5.8v5.8h-5.8zM511.7 398.1h5.8v5.8h-5.8zM628.2 398.2h5.8v5.8h-5.8zM639.0 398.9h5.8v5.8h-5.8zM571.6 405.2h5.8v5.8h-5.8zM597.6 411.8h5.8v5.8h-5.8z"/><path fill="#00cdff" d="M517.1 366.8h5.8v5.8h-5.8zM524.9 366.8h5.8v5.8h-5.8zM475.4 373.9h5.8v5.8h-5.8zM493.3 372.8h5.8v5.8h-5.8zM513.3 381.2h5.8v5.8h-5.8zM542.7 379.9h5.8v5.8h-5.8zM457.0 386.2h5.8v5.8h-5.8zM488.1 385.1h5.8v5.8h-5.8zM493.0 385.6h5.8v5.8h-5.8zM500.6 387.7h5.8v5.8h-5.8zM522.8 387.2h5.8v5.8h-5.8zM541.8 387.4h5.8v5.8h-5.8zM459.4 391.6h5.8v5.8h-5.8zM471.8 392.5h5.8v5.8h-5.8zM482.5 392.4h5.8v5.8h-5.8zM518.8 390.7h5.8v5.8h-5.8zM522.5 392.6h5.8v5.8h-5.8zM541.9 391.5h5.8v5.8h-5.8zM546.3 393.9h5.8v5.8h-5.8zM463.4 397.3h5.8v5.8h-5.8zM476.0 397.6h5.8v5.8h-5.8zM487.5 398.1h5.8v5.8h-5.8zM524.1 399.6h5.8v5.8h-5.8zM487.3 403.0h5.8v5.8h-5.8zM499.7 402.6h5.8v5.8h-5.8zM519.1 403.0h5.8v5.8h-5.8zM489.4 408.7h5.8v5.8h-5.8zM499.4 409.7h5.8v5.8h-5.8zM504.8 409.6h5.8v5.8h-5.8zM470.2 414.8h5.8v5.8h-5.8zM498.3 415.2h5.8v5.8h-5.8zM512.0 415.6h5.8v5.8h-5.8z"/><path fill="#f82a2c" d="M457.0 387.8h5.8v5.8h-5.8zM525.4 386.1h5.8v5.8h-5.8zM499.3 390.4h5.8v5.8h-5.8zM524.0 392.8h5.8v5.8h-5.8zM488.0 397.2h5.8v5.8h-5.8zM504.8 398.8h5.8v5.8h-5.8zM518.8 399.7h5.8v5.8h-5.8zM517.4 405.8h5.8v5.8h-5.8zM480.8 409.0h5.8v5.8h-5.8zM636.4 199.5h5.8v5.8h-5.8zM660.9 206.6h5.8v5.8h-5.8zM650.8 219.3h5.8v5.8h-5.8zM656.3 230.1h5.8v5.8h-5.8zM659.8 241.1h5.8v5.8h-5.8zM667.6 273.6h5.8v5.8h-5.8zM667.2 291.6h5.8v5.8h-5.8zM655.0 302.9h5.8v5.8h-5.8zM665.4 301.0h5.8v5.8h-5.8zM666.4 355.4h5.8v5.8h-5.8z"/><path fill="#00cdff" d="M487.1 372.1h5.8v5.8h-5.8zM499.1 382.1h5.8v5.8h-5.8zM507.1 390.1h5.8v5.8h-5.8zM545.1 392.1h5.8v5.8h-5.8zM558.1 393.1h5.8v5.8h-5.8zM517.1 392.1h5.8v5.8h-5.8zM587.1 402.1h5.8v5.8h-5.8zM604.1 407.1h5.8v5.8h-5.8zM617.1 409.1h5.8v5.8h-5.8zM537.1 399.1h5.8v5.8h-5.8z"/><path fill="#f82a2c" d="M518.1 421.1h5.8v5.8h-5.8zM472.1 428.1h5.8v5.8h-5.8zM483.1 415.1h5.8v5.8h-5.8zM497.1 407.1h5.8v5.8h-5.8z"/><path fill="#00cdff" d="M544.9 208.7h5.8v5.8h-5.8zM555.1 209.7h5.8v5.8h-5.8zM559.7 209.8h5.8v5.8h-5.8zM447.0 215.0h5.8v5.8h-5.8zM450.2 213.2h5.8v5.8h-5.8zM454.7 214.5h5.8v5.8h-5.8zM459.0 214.8h5.8v5.8h-5.8zM515.1 215.0h5.8v5.8h-5.8zM519.2 214.7h5.8v5.8h-5.8zM523.5 213.1h5.8v5.8h-5.8zM533.3 212.9h5.8v5.8h-5.8zM536.9 214.4h5.8v5.8h-5.8zM542.1 215.0h5.8v5.8h-5.8zM544.7 214.5h5.8v5.8h-5.8zM550.5 214.1h5.8v5.8h-5.8zM553.4 213.2h5.8v5.8h-5.8zM559.7 213.9h5.8v5.8h-5.8zM563.7 215.1h5.8v5.8h-5.8zM446.1 217.7h5.8v5.8h-5.8zM449.9 219.5h5.8v5.8h-5.8zM459.1 219.0h5.8v5.8h-5.8zM465.6 219.0h5.8v5.8h-5.8zM469.4 218.4h5.8v5.8h-5.8zM482.4 219.2h5.8v5.8h-5.8zM486.9 218.5h5.8v5.8h-5.8zM495.3 219.1h5.8v5.8h-5.8zM501.6 218.1h5.8v5.8h-5.8zM510.6 219.3h5.8v5.8h-5.8zM513.4 217.7h5.8v5.8h-5.8zM517.8 219.0h5.8v5.8h-5.8zM522.4 218.8h5.8v5.8h-5.8zM527.2 217.9h5.8v5.8h-5.8zM531.1 219.9h5.8v5.8h-5.8zM537.2 218.7h5.8v5.8h-5.8zM542.3 219.6h5.8v5.8h-5.8zM550.3 219.7h5.8v5.8h-5.8zM554.6 219.0h5.8v5.8h-5.8zM559.7 219.3h5.8v5.8h-5.8zM563.6 218.8h5.8v5.8h-5.8zM447.1 224.2h5.8v5.8h-5.8zM454.7 224.0h5.8v5.8h-5.8zM461.0 224.1h5.8v5.8h-5.8zM464.8 222.6h5.8v5.8h-5.8zM469.6 222.4h5.8v5.8h-5.8zM473.8 222.4h5.8v5.8h-5.8zM478.0 222.0h5.8v5.8h-5.8zM483.7 223.9h5.8v5.8h-5.8zM487.9 223.7h5.8v5.8h-5.8zM490.4 223.8h5.8v5.8h-5.8zM496.9 222.6h5.8v5.8h-5.8zM499.7 224.1h5.8v5.8h-5.8zM506.1 223.1h5.8v5.8h-5.8zM510.0 223.2h5.8v5.8h-5.8zM514.9 222.5h5.8v5.8h-5.8zM519.3 223.7h5.8v5.8h-5.8zM522.3 223.2h5.8v5.8h-5.8zM528.1 223.1h5.8v5.8h-5.8zM532.7 222.3h5.8v5.8h-5.8zM536.6 223.8h5.8v5.8h-5.8zM542.0 222.9h5.8v5.8h-5.8zM544.6 222.8h5.8v5.8h-5.8zM551.0 224.4h5.8v5.8h-5.8zM555.3 222.8h5.8v5.8h-5.8zM558.0 222.8h5.8v5.8h-5.8zM564.5 222.2h5.8v5.8h-5.8zM567.0 224.0h5.8v5.8h-5.8zM447.6 227.1h5.8v5.8h-5.8zM456.6 228.8h5.8v5.8h-5.8zM465.6 228.7h5.8v5.8h-5.8zM474.5 228.3h5.8v5.8h-5.8zM477.2 228.6h5.8v5.8h-5.8zM482.7 228.6h5.8v5.8h-5.8zM486.5 228.1h5.8v5.8h-5.8zM491.0 228.1h5.8v5.8h-5.8zM501.4 228.3h5.8v5.8h-5.8zM504.3 228.0h5.8v5.8h-5.8zM509.0 228.5h5.8v5.8h-5.8zM513.0 228.5h5.8v5.8h-5.8zM522.9 227.7h5.8v5.8h-5.8zM526.3 228.0h5.8v5.8h-5.8zM533.2 227.4h5.8v5.8h-5.8zM541.5 226.4h5.8v5.8h-5.8zM545.1 227.3h5.8v5.8h-5.8zM549.9 226.5h5.8v5.8h-5.8zM555.8 228.5h5.8v5.8h-5.8zM560.4 228.2h5.8v5.8h-5.8zM563.5 226.5h5.8v5.8h-5.8zM456.1 232.9h5.8v5.8h-5.8zM467.8 233.3h5.8v5.8h-5.8zM473.5 231.9h5.8v5.8h-5.8zM476.9 232.4h5.8v5.8h-5.8zM481.5 233.2h5.8v5.8h-5.8zM495.8 232.0h5.8v5.8h-5.8zM501.8 233.2h5.8v5.8h-5.8zM509.6 232.6h5.8v5.8h-5.8zM513.3 233.4h5.8v5.8h-5.8zM518.0 232.1h5.8v5.8h-5.8zM523.2 231.2h5.8v5.8h-5.8zM532.9 231.5h5.8v5.8h-5.8zM537.4 233.3h5.8v5.8h-5.8zM542.4 231.2h5.8v5.8h-5.8zM544.3 232.1h5.8v5.8h-5.8zM550.2 233.2h5.8v5.8h-5.8zM555.0 231.0h5.8v5.8h-5.8zM564.8 231.2h5.8v5.8h-5.8zM447.8 237.2h5.8v5.8h-5.8zM451.0 236.7h5.8v5.8h-5.8zM454.9 235.5h5.8v5.8h-5.8zM459.9 236.2h5.8v5.8h-5.8zM464.2 236.3h5.8v5.8h-5.8zM468.2 235.5h5.8v5.8h-5.8zM473.1 236.5h5.8v5.8h-5.8zM488.2 235.9h5.8v5.8h-5.8zM490.6 236.1h5.8v5.8h-5.8zM495.4 236.2h5.8v5.8h-5.8zM506.1 236.7h5.8v5.8h-5.8zM510.0 236.8h5.8v5.8h-5.8zM518.6 235.9h5.8v5.8h-5.8zM522.9 236.4h5.8v5.8h-5.8zM528.8 235.3h5.8v5.8h-5.8zM531.4 236.4h5.8v5.8h-5.8zM546.2 237.6h5.8v5.8h-5.8zM549.8 236.4h5.8v5.8h-5.8zM560.1 235.8h5.8v5.8h-5.8zM563.9 235.4h5.8v5.8h-5.8zM447.5 240.8h5.8v5.8h-5.8zM451.0 241.2h5.8v5.8h-5.8zM455.4 242.2h5.8v5.8h-5.8zM460.0 241.0h5.8v5.8h-5.8zM463.9 241.1h5.8v5.8h-5.8zM468.0 240.2h5.8v5.8h-5.8zM474.0 241.9h5.8v5.8h-5.8zM478.4 239.9h5.8v5.8h-5.8zM482.5 240.7h5.8v5.8h-5.8zM486.8 240.4h5.8v5.8h-5.8zM491.8 239.9h5.8v5.8h-5.8zM495.8 241.9h5.8v5.8h-5.8zM500.5 239.8h5.8v5.8h-5.8zM505.7 241.5h5.8v5.8h-5.8zM513.8 241.2h5.8v5.8h-5.8zM518.9 240.1h5.8v5.8h-5.8zM523.4 241.6h5.8v5.8h-5.8zM528.2 242.3h5.8v5.8h-5.8zM535.7 241.8h5.8v5.8h-5.8zM542.3 239.9h5.8v5.8h-5.8zM545.3 240.0h5.8v5.8h-5.8zM560.1 240.7h5.8v5.8h-5.8zM445.6 246.7h5.8v5.8h-5.8zM450.4 245.5h5.8v5.8h-5.8zM454.4 245.5h5.8v5.8h-5.8zM461.4 245.7h5.8v5.8h-5.8zM464.0 244.4h5.8v5.8h-5.8zM473.0 246.3h5.8v5.8h-5.8zM478.5 245.5h5.8v5.8h-5.8zM490.8 245.5h5.8v5.8h-5.8zM497.3 245.6h5.8v5.8h-5.8zM499.5 244.5h5.8v5.8h-5.8zM505.6 244.9h5.8v5.8h-5.8zM510.0 245.0h5.8v5.8h-5.8zM515.0 244.4h5.8v5.8h-5.8zM519.3 246.8h5.8v5.8h-5.8zM523.5 246.4h5.8v5.8h-5.8zM528.3 246.2h5.8v5.8h-5.8zM535.6 245.6h5.8v5.8h-5.8zM542.2 246.3h5.8v5.8h-5.8zM546.5 246.5h5.8v5.8h-5.8zM549.5 244.3h5.8v5.8h-5.8zM553.3 245.2h5.8v5.8h-5.8zM447.1 250.7h5.8v5.8h-5.8zM451.4 251.1h5.8v5.8h-5.8zM455.2 251.4h5.8v5.8h-5.8zM459.4 250.9h5.8v5.8h-5.8zM465.6 251.0h5.8v5.8h-5.8zM468.8 250.8h5.8v5.8h-5.8zM474.4 249.4h5.8v5.8h-5.8zM483.7 250.1h5.8v5.8h-5.8zM487.4 249.6h5.8v5.8h-5.8zM492.4 249.5h5.8v5.8h-5.8zM501.3 250.2h5.8v5.8h-5.8zM505.5 249.9h5.8v5.8h-5.8zM509.8 250.6h5.8v5.8h-5.8zM513.8 250.2h5.8v5.8h-5.8zM519.0 249.0h5.8v5.8h-5.8zM522.0 251.3h5.8v5.8h-5.8zM533.2 249.3h5.8v5.8h-5.8zM536.5 249.1h5.8v5.8h-5.8zM540.1 249.5h5.8v5.8h-5.8zM544.9 251.1h5.8v5.8h-5.8zM550.2 249.2h5.8v5.8h-5.8zM553.6 250.6h5.8v5.8h-5.8zM559.7 250.3h5.8v5.8h-5.8zM446.3 254.3h5.8v5.8h-5.8zM456.5 255.0h5.8v5.8h-5.8zM463.3 253.5h5.8v5.8h-5.8zM470.1 253.8h5.8v5.8h-5.8zM473.8 253.9h5.8v5.8h-5.8zM479.1 253.8h5.8v5.8h-5.8zM487.6 254.3h5.8v5.8h-5.8zM492.1 254.4h5.8v5.8h-5.8zM495.9 255.2h5.8v5.8h-5.8zM499.8 254.2h5.8v5.8h-5.8zM505.1 253.9h5.8v5.8h-5.8zM515.1 254.3h5.8v5.8h-5.8zM522.7 253.7h5.8v5.8h-5.8zM526.8 255.4h5.8v5.8h-5.8zM531.1 255.2h5.8v5.8h-5.8zM535.5 255.3h5.8v5.8h-5.8zM545.7 254.4h5.8v5.8h-5.8zM549.2 255.0h5.8v5.8h-5.8zM445.4 259.2h5.8v5.8h-5.8zM452.1 258.6h5.8v5.8h-5.8zM455.1 258.9h5.8v5.8h-5.8zM459.9 258.5h5.8v5.8h-5.8zM468.4 259.9h5.8v5.8h-5.8zM472.8 258.8h5.8v5.8h-5.8zM478.9 259.8h5.8v5.8h-5.8zM483.7 258.3h5.8v5.8h-5.8zM488.0 258.1h5.8v5.8h-5.8zM490.9 259.0h5.8v5.8h-5.8zM496.9 259.8h5.8v5.8h-5.8zM500.1 260.2h5.8v5.8h-5.8zM505.8 258.3h5.8v5.8h-5.8zM509.6 259.4h5.8v5.8h-5.8zM515.1 259.3h5.8v5.8h-5.8zM527.0 260.0h5.8v5.8h-5.8zM532.4 259.7h5.8v5.8h-5.8zM541.0 260.0h5.8v5.8h-5.8zM545.4 258.4h5.8v5.8h-5.8zM550.9 258.9h5.8v5.8h-5.8zM553.6 260.1h5.8v5.8h-5.8zM447.7 263.0h5.8v5.8h-5.8zM450.3 264.0h5.8v5.8h-5.8zM456.5 263.8h5.8v5.8h-5.8zM459.1 264.3h5.8v5.8h-5.8zM468.6 263.7h5.8v5.8h-5.8zM474.2 263.5h5.8v5.8h-5.8zM477.8 263.0h5.8v5.8h-5.8zM491.3 264.2h5.8v5.8h-5.8zM495.9 263.8h5.8v5.8h-5.8zM500.3 264.2h5.8v5.8h-5.8zM510.6 262.5h5.8v5.8h-5.8zM512.9 263.7h5.8v5.8h-5.8zM519.4 262.4h5.8v5.8h-5.8zM524.3 263.7h5.8v5.8h-5.8zM528.0 264.4h5.8v5.8h-5.8zM531.9 262.8h5.8v5.8h-5.8zM536.6 264.8h5.8v5.8h-5.8zM540.6 263.5h5.8v5.8h-5.8zM549.6 264.1h5.8v5.8h-5.8zM447.2 268.0h5.8v5.8h-5.8zM455.3 267.0h5.8v5.8h-5.8zM459.8 267.3h5.8v5.8h-5.8zM465.5 268.0h5.8v5.8h-5.8zM469.3 267.7h5.8v5.8h-5.8zM472.6 267.8h5.8v5.8h-5.8zM477.1 269.3h5.8v5.8h-5.8zM481.8 266.9h5.8v5.8h-5.8zM486.6 269.2h5.8v5.8h-5.8zM492.7 268.1h5.8v5.8h-5.8zM496.3 269.3h5.8v5.8h-5.8zM504.7 267.6h5.8v5.8h-5.8zM508.9 268.4h5.8v5.8h-5.8zM514.2 269.3h5.8v5.8h-5.8zM519.7 268.8h5.8v5.8h-5.8zM521.9 268.6h5.8v5.8h-5.8zM528.0 267.0h5.8v5.8h-5.8zM532.2 268.0h5.8v5.8h-5.8zM537.1 267.4h5.8v5.8h-5.8zM540.9 267.8h5.8v5.8h-5.8zM544.9 268.4h5.8v5.8h-5.8zM549.9 268.1h5.8v5.8h-5.8zM451.6 273.4h5.8v5.8h-5.8zM454.7 271.8h5.8v5.8h-5.8zM464.6 271.9h5.8v5.8h-5.8zM468.8 272.8h5.8v5.8h-5.8zM474.7 273.3h5.8v5.8h-5.8zM487.4 272.0h5.8v5.8h-5.8zM491.6 272.7h5.8v5.8h-5.8zM495.9 271.6h5.8v5.8h-5.8zM506.3 273.9h5.8v5.8h-5.8zM508.8 273.1h5.8v5.8h-5.8zM513.7 273.5h5.8v5.8h-5.8zM517.4 273.7h5.8v5.8h-5.8zM522.6 272.3h5.8v5.8h-5.8zM527.4 273.5h5.8v5.8h-5.8zM540.9 272.5h5.8v5.8h-5.8zM545.0 271.4h5.8v5.8h-5.8zM549.1 271.8h5.8v5.8h-5.8zM451.9 276.0h5.8v5.8h-5.8zM455.1 276.8h5.8v5.8h-5.8zM461.4 278.4h5.8v5.8h-5.8zM464.9 276.7h5.8v5.8h-5.8zM469.9 277.5h5.8v5.8h-5.8zM473.1 276.8h5.8v5.8h-5.8zM478.9 276.5h5.8v5.8h-5.8zM483.4 275.9h5.8v5.8h-5.8zM487.8 276.0h5.8v5.8h-5.8zM496.4 276.1h5.8v5.8h-5.8zM500.5 277.8h5.8v5.8h-5.8zM504.2 276.0h5.8v5.8h-5.8zM509.8 276.1h5.8v5.8h-5.8zM513.7 276.4h5.8v5.8h-5.8zM517.9 276.3h5.8v5.8h-5.8zM523.4 277.7h5.8v5.8h-5.8zM527.9 276.8h5.8v5.8h-5.8zM531.4 277.9h5.8v5.8h-5.8zM536.5 276.7h5.8v5.8h-5.8zM541.1 276.6h5.8v5.8h-5.8zM545.9 278.0h5.8v5.8h-5.8zM451.8 281.3h5.8v5.8h-5.8zM455.5 282.6h5.8v5.8h-5.8zM459.6 281.7h5.8v5.8h-5.8zM465.7 282.7h5.8v5.8h-5.8zM474.2 281.6h5.8v5.8h-5.8zM479.0 281.1h5.8v5.8h-5.8zM482.0 282.8h5.8v5.8h-5.8zM490.6 282.2h5.8v5.8h-5.8zM497.1 281.6h5.8v5.8h-5.8zM499.5 281.0h5.8v5.8h-5.8zM504.6 282.3h5.8v5.8h-5.8zM514.0 282.1h5.8v5.8h-5.8zM518.6 281.7h5.8v5.8h-5.8zM522.5 282.6h5.8v5.8h-5.8zM527.5 280.6h5.8v5.8h-5.8zM530.8 281.7h5.8v5.8h-5.8zM537.8 281.5h5.8v5.8h-5.8zM541.5 280.7h5.8v5.8h-5.8zM545.5 282.8h5.8v5.8h-5.8zM452.0 287.4h5.8v5.8h-5.8zM456.0 286.6h5.8v5.8h-5.8zM483.3 286.7h5.8v5.8h-5.8zM492.3 284.8h5.8v5.8h-5.8zM495.4 285.4h5.8v5.8h-5.8zM500.6 285.2h5.8v5.8h-5.8zM505.4 286.8h5.8v5.8h-5.8zM508.4 287.1h5.8v5.8h-5.8zM513.8 287.1h5.8v5.8h-5.8zM519.0 285.8h5.8v5.8h-5.8zM523.0 285.3h5.8v5.8h-5.8zM531.3 286.0h5.8v5.8h-5.8zM537.7 285.6h5.8v5.8h-5.8zM541.0 287.0h5.8v5.8h-5.8zM546.7 286.1h5.8v5.8h-5.8zM451.4 291.2h5.8v5.8h-5.8zM456.7 290.9h5.8v5.8h-5.8zM459.9 290.4h5.8v5.8h-5.8zM464.1 290.3h5.8v5.8h-5.8zM478.7 290.0h5.8v5.8h-5.8zM481.8 291.4h5.8v5.8h-5.8zM487.5 289.4h5.8v5.8h-5.8zM492.4 290.7h5.8v5.8h-5.8zM496.9 291.0h5.8v5.8h-5.8zM500.8 291.6h5.8v5.8h-5.8zM506.0 290.2h5.8v5.8h-5.8zM508.6 290.5h5.8v5.8h-5.8zM518.5 290.1h5.8v5.8h-5.8zM523.5 291.7h5.8v5.8h-5.8zM527.2 290.3h5.8v5.8h-5.8zM533.3 291.4h5.8v5.8h-5.8zM535.4 291.6h5.8v5.8h-5.8zM542.1 290.1h5.8v5.8h-5.8zM545.4 290.4h5.8v5.8h-5.8zM452.4 296.0h5.8v5.8h-5.8zM455.4 294.2h5.8v5.8h-5.8zM460.0 295.5h5.8v5.8h-5.8zM470.1 294.3h5.8v5.8h-5.8zM472.6 295.9h5.8v5.8h-5.8zM478.3 294.5h5.8v5.8h-5.8zM481.4 295.4h5.8v5.8h-5.8zM486.4 294.5h5.8v5.8h-5.8zM491.1 296.2h5.8v5.8h-5.8zM495.1 294.4h5.8v5.8h-5.8zM505.3 294.1h5.8v5.8h-5.8zM509.3 293.8h5.8v5.8h-5.8zM513.6 294.0h5.8v5.8h-5.8zM519.0 294.3h5.8v5.8h-5.8zM528.0 295.4h5.8v5.8h-5.8zM532.5 294.5h5.8v5.8h-5.8zM535.9 295.2h5.8v5.8h-5.8zM541.9 295.6h5.8v5.8h-5.8zM452.1 298.7h5.8v5.8h-5.8zM456.0 298.4h5.8v5.8h-5.8zM459.8 300.2h5.8v5.8h-5.8zM465.9 300.0h5.8v5.8h-5.8zM478.4 298.6h5.8v5.8h-5.8zM482.0 299.2h5.8v5.8h-5.8zM486.3 299.9h5.8v5.8h-5.8zM492.4 300.9h5.8v5.8h-5.8zM495.6 298.5h5.8v5.8h-5.8zM499.6 298.9h5.8v5.8h-5.8zM505.7 299.4h5.8v5.8h-5.8zM509.2 298.8h5.8v5.8h-5.8zM518.4 298.4h5.8v5.8h-5.8zM523.1 298.5h5.8v5.8h-5.8zM527.6 300.1h5.8v5.8h-5.8zM531.6 300.0h5.8v5.8h-5.8zM537.6 300.7h5.8v5.8h-5.8zM450.6 303.0h5.8v5.8h-5.8zM461.1 303.3h5.8v5.8h-5.8zM465.1 303.2h5.8v5.8h-5.8zM469.0 302.8h5.8v5.8h-5.8zM472.9 304.4h5.8v5.8h-5.8zM477.1 305.4h5.8v5.8h-5.8zM481.7 303.7h5.8v5.8h-5.8zM486.8 302.9h5.8v5.8h-5.8zM492.4 303.2h5.8v5.8h-5.8zM496.0 304.7h5.8v5.8h-5.8zM501.8 303.7h5.8v5.8h-5.8zM508.9 305.0h5.8v5.8h-5.8zM514.6 305.0h5.8v5.8h-5.8zM519.2 304.9h5.8v5.8h-5.8zM522.4 305.2h5.8v5.8h-5.8zM526.6 305.1h5.8v5.8h-5.8zM531.8 303.8h5.8v5.8h-5.8zM537.4 303.5h5.8v5.8h-5.8zM541.4 304.1h5.8v5.8h-5.8zM450.2 309.0h5.8v5.8h-5.8zM456.8 307.9h5.8v5.8h-5.8zM463.5 308.4h5.8v5.8h-5.8zM468.4 308.8h5.8v5.8h-5.8zM474.0 308.7h5.8v5.8h-5.8zM479.1 308.5h5.8v5.8h-5.8zM483.2 309.8h5.8v5.8h-5.8zM492.1 307.7h5.8v5.8h-5.8zM497.0 309.3h5.8v5.8h-5.8zM500.1 308.9h5.8v5.8h-5.8zM509.1 308.8h5.8v5.8h-5.8zM514.7 307.8h5.8v5.8h-5.8zM517.8 307.4h5.8v5.8h-5.8zM523.2 309.8h5.8v5.8h-5.8zM528.7 307.5h5.8v5.8h-5.8zM533.2 308.1h5.8v5.8h-5.8zM535.5 309.1h5.8v5.8h-5.8zM541.5 309.5h5.8v5.8h-5.8zM459.6 313.0h5.8v5.8h-5.8zM464.5 312.0h5.8v5.8h-5.8zM468.8 312.6h5.8v5.8h-5.8zM473.8 312.4h5.8v5.8h-5.8zM477.7 313.5h5.8v5.8h-5.8zM482.7 312.7h5.8v5.8h-5.8zM486.5 313.7h5.8v5.8h-5.8zM501.7 313.2h5.8v5.8h-5.8zM503.8 312.8h5.8v5.8h-5.8zM508.4 311.9h5.8v5.8h-5.8zM513.3 312.9h5.8v5.8h-5.8zM522.6 313.3h5.8v5.8h-5.8zM527.3 311.9h5.8v5.8h-5.8zM531.0 312.4h5.8v5.8h-5.8zM535.7 311.9h5.8v5.8h-5.8zM456.3 318.3h5.8v5.8h-5.8zM463.6 318.7h5.8v5.8h-5.8zM469.2 316.5h5.8v5.8h-5.8zM472.3 317.6h5.8v5.8h-5.8zM478.8 318.4h5.8v5.8h-5.8zM483.8 317.2h5.8v5.8h-5.8zM486.5 318.5h5.8v5.8h-5.8zM492.7 316.9h5.8v5.8h-5.8zM495.5 318.1h5.8v5.8h-5.8zM506.2 317.9h5.8v5.8h-5.8zM510.4 317.2h5.8v5.8h-5.8zM513.4 316.6h5.8v5.8h-5.8zM518.7 318.1h5.8v5.8h-5.8zM524.3 317.6h5.8v5.8h-5.8zM528.9 317.0h5.8v5.8h-5.8zM537.4 317.4h5.8v5.8h-5.8zM450.3 322.1h5.8v5.8h-5.8zM455.7 322.0h5.8v5.8h-5.8zM459.8 323.1h5.8v5.8h-5.8zM464.9 323.3h5.8v5.8h-5.8zM468.2 322.2h5.8v5.8h-5.8zM473.4 323.3h5.8v5.8h-5.8zM477.2 322.8h5.8v5.8h-5.8zM483.6 321.8h5.8v5.8h-5.8zM488.3 321.6h5.8v5.8h-5.8zM490.9 322.9h5.8v5.8h-5.8zM496.3 322.8h5.8v5.8h-5.8zM500.8 321.5h5.8v5.8h-5.8zM505.4 323.4h5.8v5.8h-5.8zM514.9 322.0h5.8v5.8h-5.8zM517.9 322.5h5.8v5.8h-5.8zM527.6 321.7h5.8v5.8h-5.8zM535.9 321.9h5.8v5.8h-5.8zM452.4 325.8h5.8v5.8h-5.8zM456.4 326.6h5.8v5.8h-5.8zM459.6 327.8h5.8v5.8h-5.8zM465.7 327.7h5.8v5.8h-5.8zM469.0 327.0h5.8v5.8h-5.8zM472.7 327.1h5.8v5.8h-5.8zM483.6 326.4h5.8v5.8h-5.8zM488.3 326.7h5.8v5.8h-5.8zM492.2 326.6h5.8v5.8h-5.8zM495.1 327.2h5.8v5.8h-5.8zM506.0 327.0h5.8v5.8h-5.8zM509.3 325.8h5.8v5.8h-5.8zM514.8 325.7h5.8v5.8h-5.8zM518.3 327.2h5.8v5.8h-5.8zM524.1 327.5h5.8v5.8h-5.8zM527.2 325.7h5.8v5.8h-5.8zM531.9 325.5h5.8v5.8h-5.8zM459.4 330.0h5.8v5.8h-5.8zM463.8 330.6h5.8v5.8h-5.8zM473.5 330.4h5.8v5.8h-5.8zM478.9 331.5h5.8v5.8h-5.8zM483.2 330.1h5.8v5.8h-5.8zM486.6 330.1h5.8v5.8h-5.8zM490.9 331.2h5.8v5.8h-5.8zM501.1 330.7h5.8v5.8h-5.8zM504.8 330.3h5.8v5.8h-5.8zM513.5 331.4h5.8v5.8h-5.8zM519.1 330.2h5.8v5.8h-5.8zM523.6 331.2h5.8v5.8h-5.8zM527.6 330.6h5.8v5.8h-5.8zM456.4 335.9h5.8v5.8h-5.8zM461.1 336.0h5.8v5.8h-5.8zM464.5 335.1h5.8v5.8h-5.8zM469.3 336.2h5.8v5.8h-5.8zM481.3 336.1h5.8v5.8h-5.8zM496.6 334.3h5.8v5.8h-5.8zM500.8 335.0h5.8v5.8h-5.8zM505.9 335.1h5.8v5.8h-5.8zM510.4 335.8h5.8v5.8h-5.8zM515.3 336.1h5.8v5.8h-5.8zM518.2 336.1h5.8v5.8h-5.8zM523.0 334.6h5.8v5.8h-5.8zM526.6 335.2h5.8v5.8h-5.8zM530.9 336.2h5.8v5.8h-5.8zM454.5 340.0h5.8v5.8h-5.8zM463.9 338.9h5.8v5.8h-5.8zM469.1 340.3h5.8v5.8h-5.8zM473.0 341.4h5.8v5.8h-5.8zM476.9 340.9h5.8v5.8h-5.8zM483.5 340.1h5.8v5.8h-5.8zM487.4 339.1h5.8v5.8h-5.8zM491.3 339.5h5.8v5.8h-5.8zM496.3 339.2h5.8v5.8h-5.8zM499.9 340.9h5.8v5.8h-5.8zM510.6 340.7h5.8v5.8h-5.8zM514.0 340.4h5.8v5.8h-5.8zM518.5 341.1h5.8v5.8h-5.8zM522.9 338.9h5.8v5.8h-5.8zM526.5 340.6h5.8v5.8h-5.8zM454.9 345.8h5.8v5.8h-5.8zM459.0 344.5h5.8v5.8h-5.8zM463.3 344.1h5.8v5.8h-5.8zM469.3 345.2h5.8v5.8h-5.8zM472.7 343.4h5.8v5.8h-5.8zM479.1 345.2h5.8v5.8h-5.8zM482.1 344.9h5.8v5.8h-5.8zM487.0 344.2h5.8v5.8h-5.8zM492.0 344.8h5.8v5.8h-5.8zM495.1 345.6h5.8v5.8h-5.8zM501.0 343.3h5.8v5.8h-5.8zM509.5 345.7h5.8v5.8h-5.8zM518.7 345.6h5.8v5.8h-5.8zM528.6 343.6h5.8v5.8h-5.8zM459.4 350.3h5.8v5.8h-5.8zM463.7 348.3h5.8v5.8h-5.8zM470.0 350.0h5.8v5.8h-5.8zM474.6 348.4h5.8v5.8h-5.8zM486.2 347.9h5.8v5.8h-5.8zM491.0 348.7h5.8v5.8h-5.8zM497.3 348.6h5.8v5.8h-5.8zM500.8 350.3h5.8v5.8h-5.8zM504.1 349.4h5.8v5.8h-5.8zM510.6 349.8h5.8v5.8h-5.8zM515.2 349.7h5.8v5.8h-5.8zM518.6 347.9h5.8v5.8h-5.8zM454.8 352.3h5.8v5.8h-5.8zM460.7 354.5h5.8v5.8h-5.8zM463.6 354.3h5.8v5.8h-5.8zM467.9 354.0h5.8v5.8h-5.8zM478.3 352.4h5.8v5.8h-5.8zM481.7 352.7h5.8v5.8h-5.8zM500.3 353.6h5.8v5.8h-5.8zM504.1 354.8h5.8v5.8h-5.8zM515.3 352.9h5.8v5.8h-5.8zM519.3 353.4h5.8v5.8h-5.8zM522.4 354.5h5.8v5.8h-5.8zM454.7 359.0h5.8v5.8h-5.8zM461.0 357.8h5.8v5.8h-5.8zM464.8 359.0h5.8v5.8h-5.8zM469.4 359.0h5.8v5.8h-5.8zM473.8 357.9h5.8v5.8h-5.8zM477.2 356.8h5.8v5.8h-5.8zM483.1 357.6h5.8v5.8h-5.8zM487.7 358.0h5.8v5.8h-5.8zM491.4 359.2h5.8v5.8h-5.8zM495.8 359.3h5.8v5.8h-5.8zM499.8 357.0h5.8v5.8h-5.8zM504.2 357.4h5.8v5.8h-5.8zM510.4 356.9h5.8v5.8h-5.8zM513.4 356.9h5.8v5.8h-5.8zM519.2 357.7h5.8v5.8h-5.8zM458.8 362.2h5.8v5.8h-5.8zM463.3 363.8h5.8v5.8h-5.8zM469.9 362.1h5.8v5.8h-5.8zM472.6 363.2h5.8v5.8h-5.8zM481.6 362.6h5.8v5.8h-5.8zM487.8 363.3h5.8v5.8h-5.8zM491.3 363.0h5.8v5.8h-5.8zM496.1 361.6h5.8v5.8h-5.8zM500.9 361.9h5.8v5.8h-5.8zM504.8 362.1h5.8v5.8h-5.8zM510.3 362.3h5.8v5.8h-5.8zM514.0 362.2h5.8v5.8h-5.8zM517.5 362.6h5.8v5.8h-5.8zM454.5 366.7h5.8v5.8h-5.8zM461.3 367.5h5.8v5.8h-5.8zM463.5 368.3h5.8v5.8h-5.8zM469.1 367.8h5.8v5.8h-5.8zM472.3 367.1h5.8v5.8h-5.8zM478.2 368.2h5.8v5.8h-5.8zM487.9 367.1h5.8v5.8h-5.8zM492.8 367.3h5.8v5.8h-5.8zM506.1 366.5h5.8v5.8h-5.8zM460.7 371.3h5.8v5.8h-5.8zM468.4 371.8h5.8v5.8h-5.8zM472.7 370.7h5.8v5.8h-5.8zM478.7 372.0h5.8v5.8h-5.8zM482.7 371.2h5.8v5.8h-5.8zM487.3 372.2h5.8v5.8h-5.8zM491.3 371.8h5.8v5.8h-5.8zM497.3 372.1h5.8v5.8h-5.8zM499.6 371.5h5.8v5.8h-5.8zM504.8 372.6h5.8v5.8h-5.8zM509.2 372.8h5.8v5.8h-5.8zM456.7 376.7h5.8v5.8h-5.8zM465.4 376.6h5.8v5.8h-5.8zM469.9 376.4h5.8v5.8h-5.8zM473.9 375.3h5.8v5.8h-5.8zM482.0 375.2h5.8v5.8h-5.8zM487.4 375.8h5.8v5.8h-5.8zM490.8 376.7h5.8v5.8h-5.8zM501.7 375.0h5.8v5.8h-5.8zM505.6 377.3h5.8v5.8h-5.8zM464.0 380.6h5.8v5.8h-5.8zM468.2 379.9h5.8v5.8h-5.8zM477.5 379.6h5.8v5.8h-5.8zM483.1 381.3h5.8v5.8h-5.8zM487.7 380.2h5.8v5.8h-5.8zM490.6 379.7h5.8v5.8h-5.8zM559.9 209.0h5.8v5.8h-5.8zM566.2 210.1h5.8v5.8h-5.8zM569.0 209.4h5.8v5.8h-5.8zM573.9 209.6h5.8v5.8h-5.8zM578.3 210.0h5.8v5.8h-5.8zM582.9 209.8h5.8v5.8h-5.8zM559.8 214.9h5.8v5.8h-5.8zM565.2 213.2h5.8v5.8h-5.8zM573.5 213.1h5.8v5.8h-5.8zM579.4 214.9h5.8v5.8h-5.8zM583.7 215.3h5.8v5.8h-5.8zM588.2 215.0h5.8v5.8h-5.8zM593.5 214.3h5.8v5.8h-5.8zM595.9 213.4h5.8v5.8h-5.8zM600.5 213.4h5.8v5.8h-5.8zM556.0 219.0h5.8v5.8h-5.8zM560.8 217.8h5.8v5.8h-5.8zM566.7 219.0h5.8v5.8h-5.8zM569.2 219.2h5.8v5.8h-5.8zM574.3 219.9h5.8v5.8h-5.8zM579.2 219.1h5.8v5.8h-5.8zM584.3 217.9h5.8v5.8h-5.8zM587.6 218.0h5.8v5.8h-5.8zM593.8 219.6h5.8v5.8h-5.8zM597.5 218.3h5.8v5.8h-5.8zM605.5 217.9h5.8v5.8h-5.8zM610.0 218.8h5.8v5.8h-5.8zM556.3 222.4h5.8v5.8h-5.8zM564.5 221.9h5.8v5.8h-5.8zM570.4 223.9h5.8v5.8h-5.8zM573.5 222.8h5.8v5.8h-5.8zM584.8 224.0h5.8v5.8h-5.8zM588.7 223.6h5.8v5.8h-5.8zM592.0 223.5h5.8v5.8h-5.8zM596.9 223.0h5.8v5.8h-5.8zM605.5 223.1h5.8v5.8h-5.8zM611.7 224.1h5.8v5.8h-5.8zM615.5 223.4h5.8v5.8h-5.8zM620.3 223.2h5.8v5.8h-5.8zM556.7 226.3h5.8v5.8h-5.8zM559.9 228.7h5.8v5.8h-5.8zM566.5 227.1h5.8v5.8h-5.8zM571.1 228.8h5.8v5.8h-5.8zM574.6 226.5h5.8v5.8h-5.8zM579.8 226.6h5.8v5.8h-5.8zM583.7 227.0h5.8v5.8h-5.8zM587.9 226.9h5.8v5.8h-5.8zM593.2 226.8h5.8v5.8h-5.8zM598.4 228.0h5.8v5.8h-5.8zM601.6 226.6h5.8v5.8h-5.8zM605.7 227.8h5.8v5.8h-5.8zM609.9 226.5h5.8v5.8h-5.8zM614.4 228.7h5.8v5.8h-5.8zM618.5 226.9h5.8v5.8h-5.8zM623.4 226.6h5.8v5.8h-5.8zM556.5 232.8h5.8v5.8h-5.8zM560.3 231.1h5.8v5.8h-5.8zM565.4 232.0h5.8v5.8h-5.8zM570.6 233.4h5.8v5.8h-5.8zM574.3 231.7h5.8v5.8h-5.8zM578.4 231.3h5.8v5.8h-5.8zM583.4 231.5h5.8v5.8h-5.8zM589.2 232.0h5.8v5.8h-5.8zM592.7 230.9h5.8v5.8h-5.8zM602.8 233.2h5.8v5.8h-5.8zM605.2 232.1h5.8v5.8h-5.8zM610.3 231.0h5.8v5.8h-5.8zM616.4 231.5h5.8v5.8h-5.8zM619.5 231.9h5.8v5.8h-5.8zM552.7 235.7h5.8v5.8h-5.8zM557.8 236.8h5.8v5.8h-5.8zM561.7 235.4h5.8v5.8h-5.8zM565.6 237.5h5.8v5.8h-5.8zM571.3 235.5h5.8v5.8h-5.8zM574.8 237.1h5.8v5.8h-5.8zM578.1 237.6h5.8v5.8h-5.8zM583.8 236.9h5.8v5.8h-5.8zM588.3 236.7h5.8v5.8h-5.8zM597.7 235.9h5.8v5.8h-5.8zM602.0 236.1h5.8v5.8h-5.8zM606.8 235.5h5.8v5.8h-5.8zM611.9 237.9h5.8v5.8h-5.8zM614.4 236.0h5.8v5.8h-5.8zM625.1 236.3h5.8v5.8h-5.8zM629.5 237.1h5.8v5.8h-5.8zM634.4 237.0h5.8v5.8h-5.8zM552.9 240.6h5.8v5.8h-5.8zM557.7 240.1h5.8v5.8h-5.8zM560.1 241.2h5.8v5.8h-5.8zM565.9 241.7h5.8v5.8h-5.8zM570.4 240.5h5.8v5.8h-5.8zM575.7 242.0h5.8v5.8h-5.8zM578.9 240.5h5.8v5.8h-5.8zM584.3 241.5h5.8v5.8h-5.8zM588.7 241.2h5.8v5.8h-5.8zM591.3 240.0h5.8v5.8h-5.8zM598.2 241.2h5.8v5.8h-5.8zM601.8 240.2h5.8v5.8h-5.8zM605.6 242.1h5.8v5.8h-5.8zM611.5 242.1h5.8v5.8h-5.8zM614.4 240.1h5.8v5.8h-5.8zM620.6 240.9h5.8v5.8h-5.8zM623.2 242.2h5.8v5.8h-5.8zM629.8 241.9h5.8v5.8h-5.8zM631.9 241.7h5.8v5.8h-5.8zM638.7 241.9h5.8v5.8h-5.8zM548.4 245.0h5.8v5.8h-5.8zM551.1 246.6h5.8v5.8h-5.8zM555.9 246.4h5.8v5.8h-5.8zM560.6 246.4h5.8v5.8h-5.8zM564.4 244.8h5.8v5.8h-5.8zM571.0 246.8h5.8v5.8h-5.8zM575.0 245.3h5.8v5.8h-5.8zM584.7 244.6h5.8v5.8h-5.8zM593.8 245.0h5.8v5.8h-5.8zM596.9 246.2h5.8v5.8h-5.8zM601.9 245.6h5.8v5.8h-5.8zM606.3 245.0h5.8v5.8h-5.8zM609.3 246.7h5.8v5.8h-5.8zM615.7 246.2h5.8v5.8h-5.8zM619.2 244.5h5.8v5.8h-5.8zM623.7 245.1h5.8v5.8h-5.8zM629.2 245.1h5.8v5.8h-5.8zM632.9 245.3h5.8v5.8h-5.8zM636.6 245.4h5.8v5.8h-5.8zM553.1 250.4h5.8v5.8h-5.8zM556.7 248.8h5.8v5.8h-5.8zM560.9 250.3h5.8v5.8h-5.8zM565.5 249.9h5.8v5.8h-5.8zM570.0 251.1h5.8v5.8h-5.8zM573.7 249.0h5.8v5.8h-5.8zM579.4 249.7h5.8v5.8h-5.8zM584.3 250.5h5.8v5.8h-5.8zM587.3 248.9h5.8v5.8h-5.8zM592.5 251.0h5.8v5.8h-5.8zM596.9 250.4h5.8v5.8h-5.8zM602.1 250.1h5.8v5.8h-5.8zM606.5 248.8h5.8v5.8h-5.8zM611.3 249.1h5.8v5.8h-5.8zM614.3 251.3h5.8v5.8h-5.8zM618.4 249.4h5.8v5.8h-5.8zM624.0 250.9h5.8v5.8h-5.8zM629.9 250.3h5.8v5.8h-5.8zM637.9 250.7h5.8v5.8h-5.8zM548.5 254.7h5.8v5.8h-5.8zM552.7 254.5h5.8v5.8h-5.8zM555.9 255.0h5.8v5.8h-5.8zM561.2 254.9h5.8v5.8h-5.8zM564.5 254.0h5.8v5.8h-5.8zM569.6 254.7h5.8v5.8h-5.8zM573.9 255.1h5.8v5.8h-5.8zM578.0 254.4h5.8v5.8h-5.8zM583.4 253.8h5.8v5.8h-5.8zM589.2 254.8h5.8v5.8h-5.8zM593.5 255.3h5.8v5.8h-5.8zM595.8 254.2h5.8v5.8h-5.8zM602.5 255.8h5.8v5.8h-5.8zM606.7 254.7h5.8v5.8h-5.8zM609.9 253.9h5.8v5.8h-5.8zM613.9 254.2h5.8v5.8h-5.8zM619.4 253.7h5.8v5.8h-5.8zM623.1 254.9h5.8v5.8h-5.8zM628.3 254.8h5.8v5.8h-5.8zM633.5 253.7h5.8v5.8h-5.8zM636.4 254.3h5.8v5.8h-5.8zM547.1 259.8h5.8v5.8h-5.8zM552.8 260.0h5.8v5.8h-5.8zM555.5 257.9h5.8v5.8h-5.8zM562.4 258.7h5.8v5.8h-5.8zM566.3 259.5h5.8v5.8h-5.8zM571.3 258.3h5.8v5.8h-5.8zM573.7 258.1h5.8v5.8h-5.8zM579.3 258.4h5.8v5.8h-5.8zM584.3 258.2h5.8v5.8h-5.8zM588.7 258.1h5.8v5.8h-5.8zM593.8 258.1h5.8v5.8h-5.8zM596.6 259.6h5.8v5.8h-5.8zM606.7 258.0h5.8v5.8h-5.8zM610.9 258.1h5.8v5.8h-5.8zM616.0 259.4h5.8v5.8h-5.8zM620.9 259.8h5.8v5.8h-5.8zM623.9 258.8h5.8v5.8h-5.8zM628.2 260.0h5.8v5.8h-5.8zM632.1 260.3h5.8v5.8h-5.8zM638.5 259.6h5.8v5.8h-5.8zM543.7 264.8h5.8v5.8h-5.8zM548.4 263.7h5.8v5.8h-5.8zM551.9 264.2h5.8v5.8h-5.8zM557.5 264.5h5.8v5.8h-5.8zM562.1 262.9h5.8v5.8h-5.8zM565.9 263.3h5.8v5.8h-5.8zM571.0 262.8h5.8v5.8h-5.8zM575.4 263.2h5.8v5.8h-5.8zM579.6 263.0h5.8v5.8h-5.8zM584.8 262.5h5.8v5.8h-5.8zM588.1 264.3h5.8v5.8h-5.8zM593.0 263.6h5.8v5.8h-5.8zM596.0 262.9h5.8v5.8h-5.8zM601.1 263.8h5.8v5.8h-5.8zM606.2 263.4h5.8v5.8h-5.8zM610.2 264.1h5.8v5.8h-5.8zM614.5 262.6h5.8v5.8h-5.8zM618.6 263.7h5.8v5.8h-5.8zM623.3 262.9h5.8v5.8h-5.8zM629.2 264.8h5.8v5.8h-5.8zM632.5 262.6h5.8v5.8h-5.8zM636.9 262.8h5.8v5.8h-5.8zM543.2 267.5h5.8v5.8h-5.8zM552.6 267.1h5.8v5.8h-5.8zM556.6 269.1h5.8v5.8h-5.8zM561.0 267.9h5.8v5.8h-5.8zM564.4 269.2h5.8v5.8h-5.8zM570.9 267.8h5.8v5.8h-5.8zM574.9 266.9h5.8v5.8h-5.8zM579.3 267.6h5.8v5.8h-5.8zM588.8 268.4h5.8v5.8h-5.8zM591.9 268.2h5.8v5.8h-5.8zM597.0 269.0h5.8v5.8h-5.8zM606.4 268.4h5.8v5.8h-5.8zM611.8 267.3h5.8v5.8h-5.8zM615.5 267.2h5.8v5.8h-5.8zM618.5 266.8h5.8v5.8h-5.8zM624.3 267.6h5.8v5.8h-5.8zM629.1 268.6h5.8v5.8h-5.8zM633.6 269.2h5.8v5.8h-5.8zM637.9 268.5h5.8v5.8h-5.8zM547.7 273.0h5.8v5.8h-5.8zM555.5 271.7h5.8v5.8h-5.8zM561.7 272.8h5.8v5.8h-5.8zM564.6 273.1h5.8v5.8h-5.8zM571.3 272.6h5.8v5.8h-5.8zM573.5 271.4h5.8v5.8h-5.8zM578.6 272.0h5.8v5.8h-5.8zM584.8 273.5h5.8v5.8h-5.8zM589.3 273.9h5.8v5.8h-5.8zM592.0 271.4h5.8v5.8h-5.8zM597.0 273.0h5.8v5.8h-5.8zM606.3 273.0h5.8v5.8h-5.8zM609.5 272.2h5.8v5.8h-5.8zM615.5 273.5h5.8v5.8h-5.8zM620.1 272.0h5.8v5.8h-5.8zM628.7 272.5h5.8v5.8h-5.8zM632.6 273.8h5.8v5.8h-5.8zM637.6 273.9h5.8v5.8h-5.8zM538.7 276.9h5.8v5.8h-5.8zM542.7 277.8h5.8v5.8h-5.8zM548.3 276.3h5.8v5.8h-5.8zM553.2 276.9h5.8v5.8h-5.8zM555.6 278.3h5.8v5.8h-5.8zM560.4 276.2h5.8v5.8h-5.8zM565.7 276.0h5.8v5.8h-5.8zM578.1 278.0h5.8v5.8h-5.8zM584.2 277.1h5.8v5.8h-5.8zM589.0 278.3h5.8v5.8h-5.8zM592.7 276.8h5.8v5.8h-5.8zM602.6 278.0h5.8v5.8h-5.8zM606.9 276.9h5.8v5.8h-5.8zM615.9 276.5h5.8v5.8h-5.8zM619.8 278.4h5.8v5.8h-5.8zM623.2 277.2h5.8v5.8h-5.8zM628.7 277.2h5.8v5.8h-5.8zM632.6 276.3h5.8v5.8h-5.8zM637.8 276.4h5.8v5.8h-5.8zM537.4 282.2h5.8v5.8h-5.8zM543.9 281.3h5.8v5.8h-5.8zM548.4 282.9h5.8v5.8h-5.8zM550.9 281.6h5.8v5.8h-5.8zM557.6 282.6h5.8v5.8h-5.8zM561.2 281.5h5.8v5.8h-5.8zM565.4 282.0h5.8v5.8h-5.8zM570.0 282.8h5.8v5.8h-5.8zM575.1 282.0h5.8v5.8h-5.8zM580.0 282.5h5.8v5.8h-5.8zM583.1 282.2h5.8v5.8h-5.8zM589.1 280.4h5.8v5.8h-5.8zM592.9 282.7h5.8v5.8h-5.8zM601.4 280.6h5.8v5.8h-5.8zM607.1 281.5h5.8v5.8h-5.8zM611.6 280.4h5.8v5.8h-5.8zM614.6 281.3h5.8v5.8h-5.8zM619.7 281.8h5.8v5.8h-5.8zM623.2 280.5h5.8v5.8h-5.8zM628.9 280.9h5.8v5.8h-5.8zM637.5 281.0h5.8v5.8h-5.8zM537.3 286.9h5.8v5.8h-5.8zM546.7 285.9h5.8v5.8h-5.8zM552.3 286.5h5.8v5.8h-5.8zM556.0 287.0h5.8v5.8h-5.8zM560.8 286.1h5.8v5.8h-5.8zM565.8 286.3h5.8v5.8h-5.8zM575.8 286.5h5.8v5.8h-5.8zM579.3 286.6h5.8v5.8h-5.8zM582.4 286.4h5.8v5.8h-5.8zM589.2 285.5h5.8v5.8h-5.8zM592.9 285.7h5.8v5.8h-5.8zM597.4 286.6h5.8v5.8h-5.8zM602.0 287.0h5.8v5.8h-5.8zM607.1 286.5h5.8v5.8h-5.8zM610.4 286.3h5.8v5.8h-5.8zM614.0 285.6h5.8v5.8h-5.8zM618.8 285.1h5.8v5.8h-5.8zM625.3 286.2h5.8v5.8h-5.8zM632.5 286.9h5.8v5.8h-5.8zM638.4 286.7h5.8v5.8h-5.8zM533.1 291.8h5.8v5.8h-5.8zM539.8 291.5h5.8v5.8h-5.8zM544.3 291.8h5.8v5.8h-5.8zM547.3 291.4h5.8v5.8h-5.8zM552.2 290.5h5.8v5.8h-5.8zM557.0 290.8h5.8v5.8h-5.8zM562.2 289.6h5.8v5.8h-5.8zM564.4 291.6h5.8v5.8h-5.8zM571.2 289.9h5.8v5.8h-5.8zM575.4 291.7h5.8v5.8h-5.8zM578.9 289.7h5.8v5.8h-5.8zM588.1 289.6h5.8v5.8h-5.8zM591.7 290.5h5.8v5.8h-5.8zM597.7 291.8h5.8v5.8h-5.8zM602.2 289.7h5.8v5.8h-5.8zM605.1 290.6h5.8v5.8h-5.8zM611.8 289.4h5.8v5.8h-5.8zM615.0 291.8h5.8v5.8h-5.8zM618.6 291.1h5.8v5.8h-5.8zM625.3 290.2h5.8v5.8h-5.8zM627.8 289.6h5.8v5.8h-5.8zM633.0 291.0h5.8v5.8h-5.8zM637.9 289.4h5.8v5.8h-5.8zM641.4 289.6h5.8v5.8h-5.8zM533.0 295.8h5.8v5.8h-5.8zM537.9 296.1h5.8v5.8h-5.8zM542.2 296.1h5.8v5.8h-5.8zM548.5 294.2h5.8v5.8h-5.8zM551.5 294.3h5.8v5.8h-5.8zM555.4 293.8h5.8v5.8h-5.8zM560.4 294.6h5.8v5.8h-5.8zM564.4 295.7h5.8v5.8h-5.8zM570.7 295.0h5.8v5.8h-5.8zM574.6 294.1h5.8v5.8h-5.8zM580.3 293.9h5.8v5.8h-5.8zM584.6 295.2h5.8v5.8h-5.8zM589.3 294.0h5.8v5.8h-5.8zM592.3 295.6h5.8v5.8h-5.8zM598.2 294.0h5.8v5.8h-5.8zM601.9 294.0h5.8v5.8h-5.8zM606.4 295.2h5.8v5.8h-5.8zM611.9 295.2h5.8v5.8h-5.8zM615.4 294.1h5.8v5.8h-5.8zM620.5 295.5h5.8v5.8h-5.8zM624.7 294.4h5.8v5.8h-5.8zM627.9 294.7h5.8v5.8h-5.8zM632.9 294.0h5.8v5.8h-5.8zM638.0 294.8h5.8v5.8h-5.8zM643.2 294.0h5.8v5.8h-5.8zM533.0 298.6h5.8v5.8h-5.8zM539.4 299.7h5.8v5.8h-5.8zM543.3 299.2h5.8v5.8h-5.8zM547.2 300.0h5.8v5.8h-5.8zM553.1 300.2h5.8v5.8h-5.8zM560.7 299.8h5.8v5.8h-5.8zM566.0 298.9h5.8v5.8h-5.8zM571.0 299.3h5.8v5.8h-5.8zM574.8 300.4h5.8v5.8h-5.8zM580.3 300.4h5.8v5.8h-5.8zM584.0 298.4h5.8v5.8h-5.8zM592.0 298.8h5.8v5.8h-5.8zM596.6 299.2h5.8v5.8h-5.8zM602.6 299.8h5.8v5.8h-5.8zM605.2 299.9h5.8v5.8h-5.8zM611.2 298.9h5.8v5.8h-5.8zM614.7 299.3h5.8v5.8h-5.8zM620.3 299.8h5.8v5.8h-5.8zM622.9 298.7h5.8v5.8h-5.8zM629.1 299.0h5.8v5.8h-5.8zM633.1 299.4h5.8v5.8h-5.8zM638.3 298.6h5.8v5.8h-5.8zM641.5 300.1h5.8v5.8h-5.8zM534.5 302.9h5.8v5.8h-5.8zM538.9 302.8h5.8v5.8h-5.8zM542.3 303.2h5.8v5.8h-5.8zM547.2 302.8h5.8v5.8h-5.8zM551.3 303.8h5.8v5.8h-5.8zM556.6 305.0h5.8v5.8h-5.8zM560.0 305.0h5.8v5.8h-5.8zM564.3 305.2h5.8v5.8h-5.8zM570.3 304.3h5.8v5.8h-5.8zM574.4 303.1h5.8v5.8h-5.8zM578.6 304.9h5.8v5.8h-5.8zM584.5 305.2h5.8v5.8h-5.8zM589.0 303.4h5.8v5.8h-5.8zM592.7 303.8h5.8v5.8h-5.8zM596.7 303.7h5.8v5.8h-5.8zM601.6 303.1h5.8v5.8h-5.8zM607.2 303.7h5.8v5.8h-5.8zM611.4 304.9h5.8v5.8h-5.8zM614.2 303.3h5.8v5.8h-5.8zM620.3 304.5h5.8v5.8h-5.8zM624.8 304.1h5.8v5.8h-5.8zM629.3 304.0h5.8v5.8h-5.8zM638.0 304.4h5.8v5.8h-5.8zM642.4 303.2h5.8v5.8h-5.8zM533.9 308.1h5.8v5.8h-5.8zM537.4 308.6h5.8v5.8h-5.8zM543.0 307.4h5.8v5.8h-5.8zM546.5 309.5h5.8v5.8h-5.8zM552.4 308.6h5.8v5.8h-5.8zM556.7 309.4h5.8v5.8h-5.8zM561.0 309.4h5.8v5.8h-5.8zM565.1 308.5h5.8v5.8h-5.8zM569.0 307.6h5.8v5.8h-5.8zM574.2 309.2h5.8v5.8h-5.8zM578.2 307.9h5.8v5.8h-5.8zM583.4 308.7h5.8v5.8h-5.8zM587.8 308.0h5.8v5.8h-5.8zM592.2 308.9h5.8v5.8h-5.8zM597.5 307.5h5.8v5.8h-5.8zM602.1 308.0h5.8v5.8h-5.8zM606.5 309.7h5.8v5.8h-5.8zM610.2 308.8h5.8v5.8h-5.8zM614.7 309.8h5.8v5.8h-5.8zM619.3 308.8h5.8v5.8h-5.8zM628.3 309.4h5.8v5.8h-5.8zM633.5 309.5h5.8v5.8h-5.8zM638.1 308.7h5.8v5.8h-5.8zM641.9 308.2h5.8v5.8h-5.8zM645.8 307.9h5.8v5.8h-5.8zM537.9 312.2h5.8v5.8h-5.8zM544.0 312.1h5.8v5.8h-5.8zM548.5 314.1h5.8v5.8h-5.8zM551.7 313.8h5.8v5.8h-5.8zM556.3 312.2h5.8v5.8h-5.8zM561.8 313.9h5.8v5.8h-5.8zM565.4 312.9h5.8v5.8h-5.8zM569.4 313.0h5.8v5.8h-5.8zM575.2 313.0h5.8v5.8h-5.8zM578.6 313.9h5.8v5.8h-5.8zM584.5 312.8h5.8v5.8h-5.8zM596.5 312.8h5.8v5.8h-5.8zM602.8 313.9h5.8v5.8h-5.8zM605.2 312.5h5.8v5.8h-5.8zM611.6 313.2h5.8v5.8h-5.8zM616.0 314.0h5.8v5.8h-5.8zM620.3 312.5h5.8v5.8h-5.8zM628.4 314.3h5.8v5.8h-5.8zM633.0 312.7h5.8v5.8h-5.8zM636.4 313.1h5.8v5.8h-5.8zM643.4 312.8h5.8v5.8h-5.8zM647.7 314.0h5.8v5.8h-5.8zM534.9 316.7h5.8v5.8h-5.8zM539.5 318.1h5.8v5.8h-5.8zM543.6 317.5h5.8v5.8h-5.8zM546.5 317.0h5.8v5.8h-5.8zM552.2 318.2h5.8v5.8h-5.8zM555.6 317.0h5.8v5.8h-5.8zM559.9 317.4h5.8v5.8h-5.8zM565.5 316.6h5.8v5.8h-5.8zM573.3 317.6h5.8v5.8h-5.8zM578.2 317.4h5.8v5.8h-5.8zM582.9 317.4h5.8v5.8h-5.8zM587.0 318.8h5.8v5.8h-5.8zM592.7 317.6h5.8v5.8h-5.8zM601.3 317.5h5.8v5.8h-5.8zM607.4 317.0h5.8v5.8h-5.8zM611.4 317.2h5.8v5.8h-5.8zM615.4 318.3h5.8v5.8h-5.8zM619.2 316.4h5.8v5.8h-5.8zM624.9 316.8h5.8v5.8h-5.8zM628.5 318.1h5.8v5.8h-5.8zM633.9 316.5h5.8v5.8h-5.8zM637.5 317.1h5.8v5.8h-5.8zM641.3 316.4h5.8v5.8h-5.8zM530.9 322.2h5.8v5.8h-5.8zM534.8 321.3h5.8v5.8h-5.8zM539.3 323.1h5.8v5.8h-5.8zM542.1 321.8h5.8v5.8h-5.8zM548.2 323.1h5.8v5.8h-5.8zM553.3 322.1h5.8v5.8h-5.8zM557.7 322.2h5.8v5.8h-5.8zM561.7 321.0h5.8v5.8h-5.8zM566.4 322.2h5.8v5.8h-5.8zM569.0 322.5h5.8v5.8h-5.8zM574.9 321.9h5.8v5.8h-5.8zM578.7 320.9h5.8v5.8h-5.8zM583.2 323.4h5.8v5.8h-5.8zM589.3 323.3h5.8v5.8h-5.8zM593.0 321.7h5.8v5.8h-5.8zM597.6 323.3h5.8v5.8h-5.8zM601.9 322.8h5.8v5.8h-5.8zM605.0 322.8h5.8v5.8h-5.8zM610.3 322.3h5.8v5.8h-5.8zM615.6 323.3h5.8v5.8h-5.8zM620.3 322.3h5.8v5.8h-5.8zM623.8 322.5h5.8v5.8h-5.8zM627.6 322.7h5.8v5.8h-5.8zM632.8 322.3h5.8v5.8h-5.8zM637.0 322.0h5.8v5.8h-5.8zM647.7 322.1h5.8v5.8h-5.8zM530.5 326.5h5.8v5.8h-5.8zM534.0 325.5h5.8v5.8h-5.8zM539.5 326.1h5.8v5.8h-5.8zM542.0 326.7h5.8v5.8h-5.8zM548.5 327.2h5.8v5.8h-5.8zM557.4 326.6h5.8v5.8h-5.8zM560.3 325.7h5.8v5.8h-5.8zM564.4 326.7h5.8v5.8h-5.8zM570.9 326.7h5.8v5.8h-5.8zM573.5 326.1h5.8v5.8h-5.8zM583.7 327.3h5.8v5.8h-5.8zM587.0 327.8h5.8v5.8h-5.8zM592.5 327.1h5.8v5.8h-5.8zM598.1 327.3h5.8v5.8h-5.8zM600.8 327.8h5.8v5.8h-5.8zM607.2 325.4h5.8v5.8h-5.8zM609.7 325.7h5.8v5.8h-5.8zM615.6 326.2h5.8v5.8h-5.8zM625.0 326.0h5.8v5.8h-5.8zM628.7 325.6h5.8v5.8h-5.8zM633.2 326.6h5.8v5.8h-5.8zM638.7 325.7h5.8v5.8h-5.8zM642.7 326.9h5.8v5.8h-5.8zM646.8 327.4h5.8v5.8h-5.8zM528.4 331.5h5.8v5.8h-5.8zM534.5 331.8h5.8v5.8h-5.8zM539.0 331.1h5.8v5.8h-5.8zM542.6 332.3h5.8v5.8h-5.8zM548.4 331.6h5.8v5.8h-5.8zM551.0 330.0h5.8v5.8h-5.8zM556.6 330.3h5.8v5.8h-5.8zM560.6 331.7h5.8v5.8h-5.8zM566.5 332.3h5.8v5.8h-5.8zM569.8 331.3h5.8v5.8h-5.8zM574.5 330.5h5.8v5.8h-5.8zM578.1 330.6h5.8v5.8h-5.8zM583.9 330.4h5.8v5.8h-5.8zM587.2 330.7h5.8v5.8h-5.8zM592.1 331.8h5.8v5.8h-5.8zM597.1 331.1h5.8v5.8h-5.8zM600.4 332.3h5.8v5.8h-5.8zM607.3 330.4h5.8v5.8h-5.8zM609.4 331.1h5.8v5.8h-5.8zM615.5 331.0h5.8v5.8h-5.8zM620.5 330.9h5.8v5.8h-5.8zM624.7 331.8h5.8v5.8h-5.8zM628.3 331.3h5.8v5.8h-5.8zM633.2 330.0h5.8v5.8h-5.8zM638.3 330.5h5.8v5.8h-5.8zM645.6 332.3h5.8v5.8h-5.8zM530.4 335.2h5.8v5.8h-5.8zM537.8 335.6h5.8v5.8h-5.8zM541.9 334.7h5.8v5.8h-5.8zM547.5 335.5h5.8v5.8h-5.8zM552.1 335.2h5.8v5.8h-5.8zM555.7 336.9h5.8v5.8h-5.8zM560.6 335.2h5.8v5.8h-5.8zM565.7 336.1h5.8v5.8h-5.8zM570.9 335.3h5.8v5.8h-5.8zM575.8 335.8h5.8v5.8h-5.8zM579.7 336.1h5.8v5.8h-5.8zM583.5 336.8h5.8v5.8h-5.8zM588.8 335.8h5.8v5.8h-5.8zM592.8 334.7h5.8v5.8h-5.8zM597.4 336.5h5.8v5.8h-5.8zM602.1 334.4h5.8v5.8h-5.8zM609.3 335.1h5.8v5.8h-5.8zM615.6 335.4h5.8v5.8h-5.8zM620.7 336.6h5.8v5.8h-5.8zM623.0 334.7h5.8v5.8h-5.8zM628.1 336.0h5.8v5.8h-5.8zM632.6 334.8h5.8v5.8h-5.8zM641.7 336.3h5.8v5.8h-5.8zM647.0 336.1h5.8v5.8h-5.8zM528.8 339.4h5.8v5.8h-5.8zM533.4 341.3h5.8v5.8h-5.8zM538.1 339.3h5.8v5.8h-5.8zM542.6 339.7h5.8v5.8h-5.8zM551.5 339.1h5.8v5.8h-5.8zM556.3 341.3h5.8v5.8h-5.8zM562.3 340.9h5.8v5.8h-5.8zM565.0 340.7h5.8v5.8h-5.8zM570.0 339.5h5.8v5.8h-5.8zM573.8 340.2h5.8v5.8h-5.8zM582.7 340.4h5.8v5.8h-5.8zM587.4 340.5h5.8v5.8h-5.8zM593.0 338.9h5.8v5.8h-5.8zM597.7 339.1h5.8v5.8h-5.8zM600.3 340.2h5.8v5.8h-5.8zM611.7 341.1h5.8v5.8h-5.8zM614.3 341.3h5.8v5.8h-5.8zM620.0 341.2h5.8v5.8h-5.8zM624.3 340.2h5.8v5.8h-5.8zM629.7 341.2h5.8v5.8h-5.8zM634.1 339.3h5.8v5.8h-5.8zM646.6 341.2h5.8v5.8h-5.8zM537.3 344.8h5.8v5.8h-5.8zM544.4 344.0h5.8v5.8h-5.8zM552.1 345.7h5.8v5.8h-5.8zM556.5 343.8h5.8v5.8h-5.8zM560.2 344.5h5.8v5.8h-5.8zM564.8 345.2h5.8v5.8h-5.8zM570.3 345.3h5.8v5.8h-5.8zM575.5 345.6h5.8v5.8h-5.8zM579.1 343.5h5.8v5.8h-5.8zM582.8 343.7h5.8v5.8h-5.8zM587.4 344.0h5.8v5.8h-5.8zM593.3 345.8h5.8v5.8h-5.8zM597.7 343.3h5.8v5.8h-5.8zM602.1 343.5h5.8v5.8h-5.8zM605.6 344.4h5.8v5.8h-5.8zM611.6 345.1h5.8v5.8h-5.8zM614.1 345.7h5.8v5.8h-5.8zM619.9 343.9h5.8v5.8h-5.8zM623.2 345.2h5.8v5.8h-5.8zM628.4 344.7h5.8v5.8h-5.8zM633.2 345.0h5.8v5.8h-5.8zM636.9 345.3h5.8v5.8h-5.8zM641.0 344.5h5.8v5.8h-5.8zM645.5 344.8h5.8v5.8h-5.8zM529.7 349.1h5.8v5.8h-5.8zM533.2 348.7h5.8v5.8h-5.8zM537.6 348.3h5.8v5.8h-5.8zM542.0 349.1h5.8v5.8h-5.8zM547.5 349.1h5.8v5.8h-5.8zM551.0 349.0h5.8v5.8h-5.8zM557.2 348.8h5.8v5.8h-5.8zM561.7 349.3h5.8v5.8h-5.8zM565.2 348.0h5.8v5.8h-5.8zM580.2 347.9h5.8v5.8h-5.8zM584.3 349.8h5.8v5.8h-5.8zM592.4 350.4h5.8v5.8h-5.8zM598.1 350.2h5.8v5.8h-5.8zM602.1 349.5h5.8v5.8h-5.8zM606.5 348.7h5.8v5.8h-5.8zM610.7 349.2h5.8v5.8h-5.8zM614.4 347.8h5.8v5.8h-5.8zM619.1 349.6h5.8v5.8h-5.8zM624.2 349.9h5.8v5.8h-5.8zM628.2 348.5h5.8v5.8h-5.8zM636.6 349.9h5.8v5.8h-5.8zM642.8 350.1h5.8v5.8h-5.8zM645.8 348.1h5.8v5.8h-5.8zM529.9 354.1h5.8v5.8h-5.8zM534.7 353.3h5.8v5.8h-5.8zM537.9 354.5h5.8v5.8h-5.8zM543.1 353.1h5.8v5.8h-5.8zM548.2 353.1h5.8v5.8h-5.8zM552.5 353.1h5.8v5.8h-5.8zM555.7 354.0h5.8v5.8h-5.8zM560.6 352.5h5.8v5.8h-5.8zM571.2 353.9h5.8v5.8h-5.8zM574.6 354.8h5.8v5.8h-5.8zM584.3 353.1h5.8v5.8h-5.8zM587.2 353.3h5.8v5.8h-5.8zM592.5 354.5h5.8v5.8h-5.8zM597.6 354.4h5.8v5.8h-5.8zM607.3 353.7h5.8v5.8h-5.8zM609.9 352.8h5.8v5.8h-5.8zM616.2 354.5h5.8v5.8h-5.8zM620.2 352.8h5.8v5.8h-5.8zM624.6 353.9h5.8v5.8h-5.8zM627.8 354.3h5.8v5.8h-5.8zM633.3 353.5h5.8v5.8h-5.8zM637.2 354.8h5.8v5.8h-5.8zM643.2 354.8h5.8v5.8h-5.8zM647.9 353.5h5.8v5.8h-5.8zM529.9 357.3h5.8v5.8h-5.8zM539.3 357.8h5.8v5.8h-5.8zM542.7 357.5h5.8v5.8h-5.8zM547.6 357.1h5.8v5.8h-5.8zM557.5 359.2h5.8v5.8h-5.8zM560.9 358.3h5.8v5.8h-5.8zM564.7 357.5h5.8v5.8h-5.8zM574.4 357.2h5.8v5.8h-5.8zM578.8 359.0h5.8v5.8h-5.8zM584.0 358.6h5.8v5.8h-5.8zM588.9 359.3h5.8v5.8h-5.8zM592.6 357.2h5.8v5.8h-5.8zM596.2 358.7h5.8v5.8h-5.8zM602.7 358.2h5.8v5.8h-5.8zM605.0 356.9h5.8v5.8h-5.8zM611.8 358.5h5.8v5.8h-5.8zM614.9 359.0h5.8v5.8h-5.8zM620.1 356.8h5.8v5.8h-5.8zM623.8 358.4h5.8v5.8h-5.8zM628.9 358.1h5.8v5.8h-5.8zM631.8 358.2h5.8v5.8h-5.8zM637.7 357.5h5.8v5.8h-5.8zM647.4 358.6h5.8v5.8h-5.8zM530.7 361.6h5.8v5.8h-5.8zM533.2 361.8h5.8v5.8h-5.8zM539.4 362.0h5.8v5.8h-5.8zM542.8 362.4h5.8v5.8h-5.8zM548.9 361.9h5.8v5.8h-5.8zM553.0 363.0h5.8v5.8h-5.8zM557.3 361.5h5.8v5.8h-5.8zM561.2 361.4h5.8v5.8h-5.8zM564.7 362.6h5.8v5.8h-5.8zM570.8 362.8h5.8v5.8h-5.8zM573.5 362.7h5.8v5.8h-5.8zM578.3 363.6h5.8v5.8h-5.8zM583.5 361.4h5.8v5.8h-5.8zM589.2 363.6h5.8v5.8h-5.8zM591.4 363.7h5.8v5.8h-5.8zM598.3 362.8h5.8v5.8h-5.8zM602.2 362.3h5.8v5.8h-5.8zM605.2 361.9h5.8v5.8h-5.8zM610.3 363.6h5.8v5.8h-5.8zM615.8 361.7h5.8v5.8h-5.8zM624.1 363.8h5.8v5.8h-5.8zM628.4 363.5h5.8v5.8h-5.8zM633.8 363.8h5.8v5.8h-5.8zM638.3 361.4h5.8v5.8h-5.8zM643.4 362.6h5.8v5.8h-5.8zM535.2 366.9h5.8v5.8h-5.8zM539.0 366.0h5.8v5.8h-5.8zM543.9 367.7h5.8v5.8h-5.8zM546.7 367.7h5.8v5.8h-5.8zM552.7 366.6h5.8v5.8h-5.8zM555.3 366.6h5.8v5.8h-5.8zM560.5 366.1h5.8v5.8h-5.8zM565.5 367.2h5.8v5.8h-5.8zM568.9 366.7h5.8v5.8h-5.8zM574.9 366.6h5.8v5.8h-5.8zM578.6 366.8h5.8v5.8h-5.8zM584.6 368.2h5.8v5.8h-5.8zM591.7 366.8h5.8v5.8h-5.8zM596.6 367.1h5.8v5.8h-5.8zM601.4 366.9h5.8v5.8h-5.8zM605.0 366.5h5.8v5.8h-5.8zM610.9 367.3h5.8v5.8h-5.8zM614.1 366.6h5.8v5.8h-5.8zM624.4 367.9h5.8v5.8h-5.8zM628.2 367.9h5.8v5.8h-5.8zM634.3 366.2h5.8v5.8h-5.8zM638.8 366.3h5.8v5.8h-5.8zM643.3 368.3h5.8v5.8h-5.8zM539.1 371.6h5.8v5.8h-5.8zM542.4 371.3h5.8v5.8h-5.8zM547.3 370.6h5.8v5.8h-5.8zM552.3 371.7h5.8v5.8h-5.8zM556.7 372.8h5.8v5.8h-5.8zM561.6 371.4h5.8v5.8h-5.8zM566.1 372.4h5.8v5.8h-5.8zM569.9 371.6h5.8v5.8h-5.8zM573.9 372.0h5.8v5.8h-5.8zM579.9 370.5h5.8v5.8h-5.8zM587.8 371.6h5.8v5.8h-5.8zM597.2 372.4h5.8v5.8h-5.8zM602.6 371.7h5.8v5.8h-5.8zM605.0 372.3h5.8v5.8h-5.8zM610.2 372.0h5.8v5.8h-5.8zM616.4 372.1h5.8v5.8h-5.8zM620.3 372.8h5.8v5.8h-5.8zM622.8 371.0h5.8v5.8h-5.8zM628.6 371.8h5.8v5.8h-5.8zM633.0 371.3h5.8v5.8h-5.8zM637.8 371.6h5.8v5.8h-5.8zM640.9 370.6h5.8v5.8h-5.8zM544.3 375.1h5.8v5.8h-5.8zM551.6 376.0h5.8v5.8h-5.8zM556.6 376.0h5.8v5.8h-5.8zM561.6 375.6h5.8v5.8h-5.8zM566.4 375.1h5.8v5.8h-5.8zM570.5 376.6h5.8v5.8h-5.8zM575.9 375.4h5.8v5.8h-5.8zM578.2 376.3h5.8v5.8h-5.8zM587.9 375.3h5.8v5.8h-5.8zM592.4 374.9h5.8v5.8h-5.8zM596.3 376.3h5.8v5.8h-5.8zM602.1 375.3h5.8v5.8h-5.8zM606.9 375.0h5.8v5.8h-5.8zM611.6 375.3h5.8v5.8h-5.8zM615.0 375.5h5.8v5.8h-5.8zM619.7 376.5h5.8v5.8h-5.8zM624.4 376.3h5.8v5.8h-5.8zM629.5 376.4h5.8v5.8h-5.8zM633.6 375.6h5.8v5.8h-5.8zM636.5 375.1h5.8v5.8h-5.8zM641.6 375.3h5.8v5.8h-5.8zM552.1 380.4h5.8v5.8h-5.8zM556.3 379.8h5.8v5.8h-5.8zM561.6 381.0h5.8v5.8h-5.8zM570.1 379.7h5.8v5.8h-5.8zM574.5 379.4h5.8v5.8h-5.8zM577.8 379.7h5.8v5.8h-5.8zM584.8 380.6h5.8v5.8h-5.8zM588.6 380.4h5.8v5.8h-5.8zM592.6 379.5h5.8v5.8h-5.8zM597.8 380.1h5.8v5.8h-5.8zM601.7 379.7h5.8v5.8h-5.8zM606.7 381.3h5.8v5.8h-5.8zM609.6 379.6h5.8v5.8h-5.8zM615.9 380.3h5.8v5.8h-5.8zM618.4 381.2h5.8v5.8h-5.8zM625.4 379.6h5.8v5.8h-5.8zM629.3 380.1h5.8v5.8h-5.8zM637.2 381.4h5.8v5.8h-5.8zM566.9 385.8h5.8v5.8h-5.8zM570.9 385.3h5.8v5.8h-5.8zM575.1 385.4h5.8v5.8h-5.8zM578.2 384.3h5.8v5.8h-5.8zM582.5 384.7h5.8v5.8h-5.8zM588.2 384.6h5.8v5.8h-5.8zM592.1 384.5h5.8v5.8h-5.8zM598.4 385.6h5.8v5.8h-5.8zM602.8 385.8h5.8v5.8h-5.8zM614.1 386.1h5.8v5.8h-5.8zM620.1 386.0h5.8v5.8h-5.8zM624.6 385.1h5.8v5.8h-5.8zM628.0 384.9h5.8v5.8h-5.8zM633.4 386.1h5.8v5.8h-5.8zM637.6 384.5h5.8v5.8h-5.8zM580.3 389.2h5.8v5.8h-5.8zM584.3 390.2h5.8v5.8h-5.8zM588.0 390.0h5.8v5.8h-5.8zM591.5 389.7h5.8v5.8h-5.8zM596.9 388.9h5.8v5.8h-5.8zM602.5 389.2h5.8v5.8h-5.8zM606.3 389.6h5.8v5.8h-5.8zM611.1 388.4h5.8v5.8h-5.8zM615.8 389.5h5.8v5.8h-5.8zM620.5 389.4h5.8v5.8h-5.8zM625.3 388.8h5.8v5.8h-5.8zM627.6 390.0h5.8v5.8h-5.8zM634.2 389.0h5.8v5.8h-5.8zM637.0 389.3h5.8v5.8h-5.8zM596.8 393.6h5.8v5.8h-5.8zM600.9 394.5h5.8v5.8h-5.8zM604.8 394.0h5.8v5.8h-5.8zM609.9 394.6h5.8v5.8h-5.8zM615.6 394.9h5.8v5.8h-5.8zM623.1 393.0h5.8v5.8h-5.8zM611.2 397.6h5.8v5.8h-5.8zM572.5 256.4h5.8v5.8h-5.8zM576.4 257.7h5.8v5.8h-5.8zM580.1 256.1h5.8v5.8h-5.8zM583.8 257.8h5.8v5.8h-5.8zM588.6 257.0h5.8v5.8h-5.8zM592.8 257.7h5.8v5.8h-5.8zM595.3 257.1h5.8v5.8h-5.8zM600.6 257.3h5.8v5.8h-5.8zM604.3 256.9h5.8v5.8h-5.8zM607.2 258.0h5.8v5.8h-5.8zM611.7 257.9h5.8v5.8h-5.8zM615.3 257.8h5.8v5.8h-5.8zM621.0 257.5h5.8v5.8h-5.8zM624.3 257.7h5.8v5.8h-5.8zM627.8 257.2h5.8v5.8h-5.8zM631.4 257.8h5.8v5.8h-5.8zM635.2 257.3h5.8v5.8h-5.8zM571.5 261.3h5.8v5.8h-5.8zM576.2 260.3h5.8v5.8h-5.8zM580.7 262.0h5.8v5.8h-5.8zM583.2 262.0h5.8v5.8h-5.8zM587.3 260.4h5.8v5.8h-5.8zM592.4 260.4h5.8v5.8h-5.8zM595.3 261.2h5.8v5.8h-5.8zM599.2 260.1h5.8v5.8h-5.8zM605.1 260.3h5.8v5.8h-5.8zM609.1 261.9h5.8v5.8h-5.8zM611.8 261.5h5.8v5.8h-5.8zM617.0 261.5h5.8v5.8h-5.8zM620.8 260.9h5.8v5.8h-5.8zM623.3 260.5h5.8v5.8h-5.8zM627.9 261.5h5.8v5.8h-5.8zM631.6 261.3h5.8v5.8h-5.8zM635.8 260.8h5.8v5.8h-5.8zM571.5 265.8h5.8v5.8h-5.8zM577.0 265.4h5.8v5.8h-5.8zM579.5 264.5h5.8v5.8h-5.8zM583.9 266.1h5.8v5.8h-5.8zM588.0 264.2h5.8v5.8h-5.8zM592.2 265.3h5.8v5.8h-5.8zM596.9 265.8h5.8v5.8h-5.8zM600.3 264.6h5.8v5.8h-5.8zM604.6 264.4h5.8v5.8h-5.8zM608.5 264.3h5.8v5.8h-5.8zM611.5 265.0h5.8v5.8h-5.8zM615.9 264.8h5.8v5.8h-5.8zM619.4 265.3h5.8v5.8h-5.8zM623.5 264.2h5.8v5.8h-5.8zM628.5 264.6h5.8v5.8h-5.8zM631.2 265.5h5.8v5.8h-5.8zM635.5 265.6h5.8v5.8h-5.8zM572.4 268.7h5.8v5.8h-5.8zM575.7 269.1h5.8v5.8h-5.8zM580.9 269.6h5.8v5.8h-5.8zM584.8 269.3h5.8v5.8h-5.8zM588.1 269.3h5.8v5.8h-5.8zM593.0 269.4h5.8v5.8h-5.8zM596.3 268.1h5.8v5.8h-5.8zM600.9 269.5h5.8v5.8h-5.8zM604.9 268.6h5.8v5.8h-5.8zM612.6 269.1h5.8v5.8h-5.8zM616.1 269.0h5.8v5.8h-5.8zM619.8 269.0h5.8v5.8h-5.8zM623.4 269.7h5.8v5.8h-5.8zM627.8 269.7h5.8v5.8h-5.8zM632.0 268.7h5.8v5.8h-5.8zM635.6 269.0h5.8v5.8h-5.8zM573.1 272.6h5.8v5.8h-5.8zM576.2 272.2h5.8v5.8h-5.8zM580.9 273.7h5.8v5.8h-5.8zM583.5 274.0h5.8v5.8h-5.8zM588.5 273.9h5.8v5.8h-5.8zM592.1 273.9h5.8v5.8h-5.8zM595.6 273.9h5.8v5.8h-5.8zM600.1 272.4h5.8v5.8h-5.8zM603.7 273.6h5.8v5.8h-5.8zM607.4 273.5h5.8v5.8h-5.8zM611.9 273.0h5.8v5.8h-5.8zM616.0 273.4h5.8v5.8h-5.8zM620.5 273.1h5.8v5.8h-5.8zM623.7 273.4h5.8v5.8h-5.8zM628.5 273.5h5.8v5.8h-5.8zM632.1 274.0h5.8v5.8h-5.8zM635.3 272.8h5.8v5.8h-5.8zM572.9 277.8h5.8v5.8h-5.8zM576.4 276.5h5.8v5.8h-5.8zM579.9 276.2h5.8v5.8h-5.8zM583.3 277.9h5.8v5.8h-5.8zM588.3 276.6h5.8v5.8h-5.8zM591.2 276.3h5.8v5.8h-5.8zM595.2 277.8h5.8v5.8h-5.8zM600.7 277.4h5.8v5.8h-5.8zM603.7 277.3h5.8v5.8h-5.8zM608.4 276.7h5.8v5.8h-5.8zM611.9 277.4h5.8v5.8h-5.8zM616.4 277.0h5.8v5.8h-5.8zM619.5 277.0h5.8v5.8h-5.8zM624.1 276.1h5.8v5.8h-5.8zM627.4 276.2h5.8v5.8h-5.8zM632.6 276.3h5.8v5.8h-5.8zM636.0 276.3h5.8v5.8h-5.8zM571.6 281.5h5.8v5.8h-5.8zM576.1 280.6h5.8v5.8h-5.8zM579.1 280.7h5.8v5.8h-5.8zM583.3 280.1h5.8v5.8h-5.8zM587.2 280.3h5.8v5.8h-5.8zM592.5 280.5h5.8v5.8h-5.8zM596.2 281.9h5.8v5.8h-5.8zM601.1 280.8h5.8v5.8h-5.8zM603.7 280.7h5.8v5.8h-5.8zM607.1 281.5h5.8v5.8h-5.8zM612.3 280.2h5.8v5.8h-5.8zM615.6 282.0h5.8v5.8h-5.8zM619.8 280.7h5.8v5.8h-5.8zM624.4 280.7h5.8v5.8h-5.8zM627.7 280.8h5.8v5.8h-5.8zM631.5 280.3h5.8v5.8h-5.8zM636.2 280.7h5.8v5.8h-5.8zM571.8 286.0h5.8v5.8h-5.8zM576.0 285.0h5.8v5.8h-5.8zM580.4 285.5h5.8v5.8h-5.8zM584.4 284.3h5.8v5.8h-5.8zM587.7 285.7h5.8v5.8h-5.8zM592.1 285.0h5.8v5.8h-5.8zM596.1 284.6h5.8v5.8h-5.8zM600.7 284.9h5.8v5.8h-5.8zM605.0 284.1h5.8v5.8h-5.8zM607.4 284.5h5.8v5.8h-5.8zM612.3 284.7h5.8v5.8h-5.8zM616.1 285.9h5.8v5.8h-5.8zM619.6 285.4h5.8v5.8h-5.8zM623.7 285.5h5.8v5.8h-5.8zM629.1 285.8h5.8v5.8h-5.8zM632.5 284.4h5.8v5.8h-5.8zM572.6 288.6h5.8v5.8h-5.8zM575.2 289.7h5.8v5.8h-5.8zM579.4 289.0h5.8v5.8h-5.8zM583.2 288.4h5.8v5.8h-5.8zM588.2 289.5h5.8v5.8h-5.8zM592.7 288.8h5.8v5.8h-5.8zM600.0 288.8h5.8v5.8h-5.8zM605.0 289.3h5.8v5.8h-5.8zM607.4 289.1h5.8v5.8h-5.8zM611.6 288.9h5.8v5.8h-5.8zM616.0 289.5h5.8v5.8h-5.8zM624.7 290.0h5.8v5.8h-5.8zM632.8 289.5h5.8v5.8h-5.8zM636.7 289.9h5.8v5.8h-5.8zM571.8 293.6h5.8v5.8h-5.8zM576.0 293.4h5.8v5.8h-5.8zM580.9 293.1h5.8v5.8h-5.8zM584.0 293.3h5.8v5.8h-5.8zM587.8 293.4h5.8v5.8h-5.8zM592.1 292.3h5.8v5.8h-5.8zM595.3 293.1h5.8v5.8h-5.8zM599.9 292.2h5.8v5.8h-5.8zM607.1 293.3h5.8v5.8h-5.8zM612.2 293.9h5.8v5.8h-5.8zM616.0 293.8h5.8v5.8h-5.8zM619.4 292.2h5.8v5.8h-5.8zM624.6 293.0h5.8v5.8h-5.8zM629.1 292.6h5.8v5.8h-5.8zM632.7 293.0h5.8v5.8h-5.8zM635.8 293.9h5.8v5.8h-5.8zM572.3 297.8h5.8v5.8h-5.8zM576.8 296.8h5.8v5.8h-5.8zM581.0 297.0h5.8v5.8h-5.8zM584.7 296.8h5.8v5.8h-5.8zM588.2 296.3h5.8v5.8h-5.8zM592.3 296.2h5.8v5.8h-5.8zM595.7 297.0h5.8v5.8h-5.8zM600.7 297.6h5.8v5.8h-5.8zM604.1 296.3h5.8v5.8h-5.8zM608.6 296.2h5.8v5.8h-5.8zM611.1 296.8h5.8v5.8h-5.8zM616.1 296.5h5.8v5.8h-5.8zM619.3 297.7h5.8v5.8h-5.8zM623.9 297.9h5.8v5.8h-5.8zM628.2 297.4h5.8v5.8h-5.8zM631.4 297.9h5.8v5.8h-5.8zM636.8 296.9h5.8v5.8h-5.8zM572.3 300.8h5.8v5.8h-5.8zM579.9 300.8h5.8v5.8h-5.8zM585.0 300.8h5.8v5.8h-5.8zM588.2 301.0h5.8v5.8h-5.8zM592.3 300.1h5.8v5.8h-5.8zM596.5 301.2h5.8v5.8h-5.8zM600.2 301.9h5.8v5.8h-5.8zM604.1 300.9h5.8v5.8h-5.8zM608.0 302.0h5.8v5.8h-5.8zM612.3 301.1h5.8v5.8h-5.8zM615.6 300.6h5.8v5.8h-5.8zM619.3 301.8h5.8v5.8h-5.8zM624.4 301.1h5.8v5.8h-5.8zM628.0 300.2h5.8v5.8h-5.8zM631.3 301.7h5.8v5.8h-5.8zM637.0 301.5h5.8v5.8h-5.8zM572.3 305.4h5.8v5.8h-5.8zM575.9 305.7h5.8v5.8h-5.8zM579.2 305.9h5.8v5.8h-5.8zM584.3 306.0h5.8v5.8h-5.8zM587.6 304.8h5.8v5.8h-5.8zM592.1 304.1h5.8v5.8h-5.8zM597.1 304.5h5.8v5.8h-5.8zM599.9 305.5h5.8v5.8h-5.8zM604.8 306.0h5.8v5.8h-5.8zM607.3 305.3h5.8v5.8h-5.8zM611.9 304.5h5.8v5.8h-5.8zM615.9 305.8h5.8v5.8h-5.8zM620.6 305.4h5.8v5.8h-5.8zM624.6 305.7h5.8v5.8h-5.8zM627.5 304.6h5.8v5.8h-5.8zM631.3 305.6h5.8v5.8h-5.8zM635.1 305.6h5.8v5.8h-5.8zM640.7 304.8h5.8v5.8h-5.8zM572.6 308.6h5.8v5.8h-5.8zM575.2 308.7h5.8v5.8h-5.8zM579.6 309.8h5.8v5.8h-5.8zM585.0 308.6h5.8v5.8h-5.8zM591.2 308.6h5.8v5.8h-5.8zM595.8 309.3h5.8v5.8h-5.8zM600.8 308.7h5.8v5.8h-5.8zM604.1 308.1h5.8v5.8h-5.8zM608.1 309.1h5.8v5.8h-5.8zM611.7 310.1h5.8v5.8h-5.8zM615.7 308.4h5.8v5.8h-5.8zM619.8 309.1h5.8v5.8h-5.8zM624.3 309.5h5.8v5.8h-5.8zM627.4 309.0h5.8v5.8h-5.8zM632.6 309.6h5.8v5.8h-5.8zM636.4 308.7h5.8v5.8h-5.8zM640.8 309.6h5.8v5.8h-5.8zM572.5 313.3h5.8v5.8h-5.8zM575.2 312.1h5.8v5.8h-5.8zM581.1 312.8h5.8v5.8h-5.8zM583.5 313.1h5.8v5.8h-5.8zM587.7 312.3h5.8v5.8h-5.8zM591.2 312.2h5.8v5.8h-5.8zM595.8 312.4h5.8v5.8h-5.8zM600.5 313.6h5.8v5.8h-5.8zM603.7 312.1h5.8v5.8h-5.8zM607.4 312.8h5.8v5.8h-5.8zM612.6 314.0h5.8v5.8h-5.8zM616.3 313.5h5.8v5.8h-5.8zM621.0 313.4h5.8v5.8h-5.8zM624.8 313.8h5.8v5.8h-5.8zM628.2 314.0h5.8v5.8h-5.8zM631.8 314.1h5.8v5.8h-5.8zM636.3 312.9h5.8v5.8h-5.8zM640.3 313.7h5.8v5.8h-5.8zM571.3 316.3h5.8v5.8h-5.8zM576.8 317.3h5.8v5.8h-5.8zM580.8 316.2h5.8v5.8h-5.8zM583.4 316.7h5.8v5.8h-5.8zM588.1 316.7h5.8v5.8h-5.8zM592.7 317.8h5.8v5.8h-5.8zM596.9 317.2h5.8v5.8h-5.8zM600.7 317.2h5.8v5.8h-5.8zM603.3 317.8h5.8v5.8h-5.8zM609.1 316.6h5.8v5.8h-5.8zM612.4 317.5h5.8v5.8h-5.8zM615.7 316.3h5.8v5.8h-5.8zM619.8 316.3h5.8v5.8h-5.8zM623.8 316.2h5.8v5.8h-5.8zM632.2 317.0h5.8v5.8h-5.8zM636.2 316.8h5.8v5.8h-5.8zM639.4 316.7h5.8v5.8h-5.8zM573.1 321.2h5.8v5.8h-5.8zM576.5 322.0h5.8v5.8h-5.8zM579.5 320.4h5.8v5.8h-5.8zM584.8 320.8h5.8v5.8h-5.8zM587.1 320.3h5.8v5.8h-5.8zM592.8 321.3h5.8v5.8h-5.8zM596.5 321.9h5.8v5.8h-5.8zM600.1 321.9h5.8v5.8h-5.8zM603.7 321.8h5.8v5.8h-5.8zM608.6 320.3h5.8v5.8h-5.8zM612.0 321.1h5.8v5.8h-5.8zM615.3 320.3h5.8v5.8h-5.8zM619.7 320.8h5.8v5.8h-5.8zM624.5 321.0h5.8v5.8h-5.8zM628.0 321.8h5.8v5.8h-5.8zM631.6 320.8h5.8v5.8h-5.8zM636.9 320.7h5.8v5.8h-5.8zM639.6 321.2h5.8v5.8h-5.8zM572.6 325.9h5.8v5.8h-5.8zM577.0 325.1h5.8v5.8h-5.8zM580.7 324.2h5.8v5.8h-5.8zM584.4 325.5h5.8v5.8h-5.8zM587.6 325.6h5.8v5.8h-5.8zM591.1 325.6h5.8v5.8h-5.8zM595.8 324.9h5.8v5.8h-5.8zM600.7 324.6h5.8v5.8h-5.8zM604.7 324.9h5.8v5.8h-5.8zM608.1 325.1h5.8v5.8h-5.8zM612.1 324.3h5.8v5.8h-5.8zM616.2 324.1h5.8v5.8h-5.8zM621.1 324.8h5.8v5.8h-5.8zM623.3 325.0h5.8v5.8h-5.8zM628.8 325.1h5.8v5.8h-5.8zM632.5 325.6h5.8v5.8h-5.8zM635.8 325.1h5.8v5.8h-5.8zM640.6 325.8h5.8v5.8h-5.8zM572.5 329.6h5.8v5.8h-5.8zM576.3 328.7h5.8v5.8h-5.8zM579.6 328.1h5.8v5.8h-5.8zM583.2 330.1h5.8v5.8h-5.8zM589.0 329.0h5.8v5.8h-5.8zM592.6 328.2h5.8v5.8h-5.8zM595.3 328.3h5.8v5.8h-5.8zM600.9 329.6h5.8v5.8h-5.8zM603.7 328.8h5.8v5.8h-5.8zM607.8 328.9h5.8v5.8h-5.8zM613.0 328.5h5.8v5.8h-5.8zM615.5 330.0h5.8v5.8h-5.8zM620.4 329.6h5.8v5.8h-5.8zM623.2 329.4h5.8v5.8h-5.8zM628.9 330.1h5.8v5.8h-5.8zM631.5 328.3h5.8v5.8h-5.8zM636.9 329.5h5.8v5.8h-5.8zM639.7 329.3h5.8v5.8h-5.8zM571.4 333.0h5.8v5.8h-5.8zM576.5 333.5h5.8v5.8h-5.8zM580.1 333.6h5.8v5.8h-5.8zM584.5 333.1h5.8v5.8h-5.8zM588.0 333.1h5.8v5.8h-5.8zM592.2 333.0h5.8v5.8h-5.8zM596.2 332.7h5.8v5.8h-5.8zM599.8 333.9h5.8v5.8h-5.8zM604.5 332.3h5.8v5.8h-5.8zM608.8 332.2h5.8v5.8h-5.8zM612.6 332.8h5.8v5.8h-5.8zM615.1 333.9h5.8v5.8h-5.8zM620.6 332.5h5.8v5.8h-5.8zM623.7 333.2h5.8v5.8h-5.8zM627.9 333.4h5.8v5.8h-5.8zM631.7 332.9h5.8v5.8h-5.8zM635.9 332.6h5.8v5.8h-5.8zM640.6 333.1h5.8v5.8h-5.8zM571.5 338.1h5.8v5.8h-5.8zM575.1 338.0h5.8v5.8h-5.8zM580.1 336.9h5.8v5.8h-5.8zM585.0 338.0h5.8v5.8h-5.8zM588.2 336.9h5.8v5.8h-5.8zM592.3 337.0h5.8v5.8h-5.8zM596.8 337.4h5.8v5.8h-5.8zM600.6 337.3h5.8v5.8h-5.8zM603.4 336.2h5.8v5.8h-5.8zM607.6 337.7h5.8v5.8h-5.8zM612.1 336.8h5.8v5.8h-5.8zM615.9 337.3h5.8v5.8h-5.8zM619.5 337.0h5.8v5.8h-5.8zM624.4 337.3h5.8v5.8h-5.8zM628.4 337.6h5.8v5.8h-5.8zM632.3 337.5h5.8v5.8h-5.8zM636.6 336.2h5.8v5.8h-5.8zM639.7 336.7h5.8v5.8h-5.8zM571.9 341.3h5.8v5.8h-5.8zM576.6 341.2h5.8v5.8h-5.8zM580.3 341.0h5.8v5.8h-5.8zM583.4 341.5h5.8v5.8h-5.8zM587.6 340.9h5.8v5.8h-5.8zM591.7 340.9h5.8v5.8h-5.8zM595.9 341.7h5.8v5.8h-5.8zM600.6 341.1h5.8v5.8h-5.8zM604.7 341.9h5.8v5.8h-5.8zM607.2 342.0h5.8v5.8h-5.8zM612.3 341.0h5.8v5.8h-5.8zM616.1 341.4h5.8v5.8h-5.8zM620.4 341.9h5.8v5.8h-5.8zM624.8 340.4h5.8v5.8h-5.8zM627.2 341.2h5.8v5.8h-5.8zM631.4 342.1h5.8v5.8h-5.8zM636.4 340.4h5.8v5.8h-5.8zM639.3 341.7h5.8v5.8h-5.8zM571.5 345.6h5.8v5.8h-5.8zM575.8 345.6h5.8v5.8h-5.8zM581.0 344.3h5.8v5.8h-5.8zM583.9 344.7h5.8v5.8h-5.8zM587.5 345.0h5.8v5.8h-5.8zM591.6 344.9h5.8v5.8h-5.8zM595.9 344.9h5.8v5.8h-5.8zM600.0 344.1h5.8v5.8h-5.8zM604.3 345.5h5.8v5.8h-5.8zM608.4 345.9h5.8v5.8h-5.8zM611.9 345.5h5.8v5.8h-5.8zM616.5 345.6h5.8v5.8h-5.8zM620.8 345.5h5.8v5.8h-5.8zM625.0 345.0h5.8v5.8h-5.8zM627.9 345.0h5.8v5.8h-5.8zM631.3 344.7h5.8v5.8h-5.8zM636.0 345.3h5.8v5.8h-5.8zM640.2 345.0h5.8v5.8h-5.8zM572.9 349.0h5.8v5.8h-5.8zM577.0 348.9h5.8v5.8h-5.8zM580.9 348.5h5.8v5.8h-5.8zM584.3 349.8h5.8v5.8h-5.8zM588.4 348.2h5.8v5.8h-5.8zM592.3 348.8h5.8v5.8h-5.8zM595.8 350.0h5.8v5.8h-5.8zM599.9 349.7h5.8v5.8h-5.8zM603.7 349.5h5.8v5.8h-5.8zM607.7 349.2h5.8v5.8h-5.8zM611.4 348.6h5.8v5.8h-5.8zM615.6 348.4h5.8v5.8h-5.8zM620.7 348.5h5.8v5.8h-5.8zM624.2 349.5h5.8v5.8h-5.8zM632.8 350.0h5.8v5.8h-5.8zM635.3 349.3h5.8v5.8h-5.8zM640.4 349.3h5.8v5.8h-5.8zM571.9 353.6h5.8v5.8h-5.8zM575.9 353.4h5.8v5.8h-5.8zM580.7 353.8h5.8v5.8h-5.8zM584.8 352.4h5.8v5.8h-5.8zM587.7 353.0h5.8v5.8h-5.8zM591.8 352.9h5.8v5.8h-5.8zM595.8 352.3h5.8v5.8h-5.8zM599.5 353.9h5.8v5.8h-5.8zM604.2 352.5h5.8v5.8h-5.8zM607.3 353.7h5.8v5.8h-5.8zM612.7 353.0h5.8v5.8h-5.8zM615.3 353.4h5.8v5.8h-5.8zM620.0 353.2h5.8v5.8h-5.8zM623.3 353.4h5.8v5.8h-5.8zM629.0 352.7h5.8v5.8h-5.8zM633.1 353.6h5.8v5.8h-5.8zM635.8 354.1h5.8v5.8h-5.8zM639.6 353.9h5.8v5.8h-5.8zM571.5 357.8h5.8v5.8h-5.8zM576.4 356.3h5.8v5.8h-5.8zM584.9 358.1h5.8v5.8h-5.8zM588.7 356.7h5.8v5.8h-5.8zM592.3 357.0h5.8v5.8h-5.8zM597.1 357.3h5.8v5.8h-5.8zM599.4 357.0h5.8v5.8h-5.8zM604.2 357.2h5.8v5.8h-5.8zM612.7 357.0h5.8v5.8h-5.8zM616.7 358.0h5.8v5.8h-5.8zM619.2 356.8h5.8v5.8h-5.8zM623.2 356.7h5.8v5.8h-5.8zM627.1 356.9h5.8v5.8h-5.8zM632.5 358.1h5.8v5.8h-5.8zM637.0 356.6h5.8v5.8h-5.8zM641.0 356.7h5.8v5.8h-5.8zM572.9 361.8h5.8v5.8h-5.8zM576.9 361.0h5.8v5.8h-5.8zM584.5 360.2h5.8v5.8h-5.8zM587.2 361.2h5.8v5.8h-5.8zM592.8 361.3h5.8v5.8h-5.8zM596.9 361.1h5.8v5.8h-5.8zM601.0 360.6h5.8v5.8h-5.8zM604.8 361.3h5.8v5.8h-5.8zM607.1 361.7h5.8v5.8h-5.8zM612.4 360.4h5.8v5.8h-5.8zM616.9 360.9h5.8v5.8h-5.8zM619.8 361.3h5.8v5.8h-5.8zM623.5 361.8h5.8v5.8h-5.8zM627.4 360.5h5.8v5.8h-5.8zM631.1 360.1h5.8v5.8h-5.8zM636.5 361.4h5.8v5.8h-5.8zM640.1 361.5h5.8v5.8h-5.8zM571.6 364.5h5.8v5.8h-5.8zM576.8 365.4h5.8v5.8h-5.8zM580.0 364.4h5.8v5.8h-5.8zM585.1 365.1h5.8v5.8h-5.8zM587.6 365.2h5.8v5.8h-5.8zM591.4 365.3h5.8v5.8h-5.8zM595.6 366.0h5.8v5.8h-5.8zM600.8 365.2h5.8v5.8h-5.8zM604.7 365.0h5.8v5.8h-5.8zM607.5 364.9h5.8v5.8h-5.8zM611.9 365.5h5.8v5.8h-5.8zM616.2 365.4h5.8v5.8h-5.8zM619.9 365.6h5.8v5.8h-5.8zM623.4 365.9h5.8v5.8h-5.8zM627.4 365.2h5.8v5.8h-5.8zM631.6 364.6h5.8v5.8h-5.8zM636.7 365.5h5.8v5.8h-5.8zM640.0 364.3h5.8v5.8h-5.8zM572.6 369.7h5.8v5.8h-5.8zM576.3 369.2h5.8v5.8h-5.8zM581.0 368.6h5.8v5.8h-5.8zM583.4 369.4h5.8v5.8h-5.8zM587.8 368.5h5.8v5.8h-5.8zM595.5 369.1h5.8v5.8h-5.8zM599.1 370.0h5.8v5.8h-5.8zM603.2 369.3h5.8v5.8h-5.8zM607.8 368.6h5.8v5.8h-5.8zM611.5 370.1h5.8v5.8h-5.8zM617.0 368.4h5.8v5.8h-5.8zM619.4 369.1h5.8v5.8h-5.8zM623.4 369.3h5.8v5.8h-5.8zM627.8 369.1h5.8v5.8h-5.8zM631.5 369.2h5.8v5.8h-5.8zM636.8 369.5h5.8v5.8h-5.8zM639.3 369.7h5.8v5.8h-5.8zM644.5 369.6h5.8v5.8h-5.8zM572.9 372.5h5.8v5.8h-5.8zM576.4 373.2h5.8v5.8h-5.8zM579.7 372.3h5.8v5.8h-5.8zM585.0 373.4h5.8v5.8h-5.8zM588.5 372.7h5.8v5.8h-5.8zM592.3 373.3h5.8v5.8h-5.8zM595.8 374.1h5.8v5.8h-5.8zM600.2 372.2h5.8v5.8h-5.8zM603.6 372.4h5.8v5.8h-5.8zM608.1 373.6h5.8v5.8h-5.8zM612.0 372.3h5.8v5.8h-5.8zM615.6 372.2h5.8v5.8h-5.8zM620.8 374.0h5.8v5.8h-5.8zM625.0 372.3h5.8v5.8h-5.8zM628.3 372.2h5.8v5.8h-5.8zM632.6 372.6h5.8v5.8h-5.8zM635.3 373.4h5.8v5.8h-5.8zM640.2 372.9h5.8v5.8h-5.8zM571.2 376.6h5.8v5.8h-5.8zM580.8 377.0h5.8v5.8h-5.8zM584.8 378.0h5.8v5.8h-5.8zM588.8 376.1h5.8v5.8h-5.8zM592.0 376.8h5.8v5.8h-5.8zM599.5 376.3h5.8v5.8h-5.8zM603.4 376.2h5.8v5.8h-5.8zM608.7 376.7h5.8v5.8h-5.8zM612.9 376.1h5.8v5.8h-5.8zM616.2 376.8h5.8v5.8h-5.8zM620.2 376.3h5.8v5.8h-5.8zM624.5 377.1h5.8v5.8h-5.8zM627.2 376.5h5.8v5.8h-5.8zM632.2 377.1h5.8v5.8h-5.8zM635.7 377.2h5.8v5.8h-5.8zM640.7 376.3h5.8v5.8h-5.8zM643.4 378.0h5.8v5.8h-5.8zM579.4 381.5h5.8v5.8h-5.8zM583.6 381.5h5.8v5.8h-5.8zM588.5 380.3h5.8v5.8h-5.8zM592.0 380.9h5.8v5.8h-5.8zM596.3 381.5h5.8v5.8h-5.8zM601.1 381.2h5.8v5.8h-5.8zM604.3 381.3h5.8v5.8h-5.8zM607.4 381.1h5.8v5.8h-5.8zM612.4 380.8h5.8v5.8h-5.8zM615.5 381.8h5.8v5.8h-5.8zM619.2 381.7h5.8v5.8h-5.8zM624.5 382.0h5.8v5.8h-5.8zM627.7 381.3h5.8v5.8h-5.8zM631.8 380.4h5.8v5.8h-5.8zM637.0 380.8h5.8v5.8h-5.8zM640.1 380.5h5.8v5.8h-5.8zM643.5 381.8h5.8v5.8h-5.8zM583.2 386.0h5.8v5.8h-5.8zM587.5 385.6h5.8v5.8h-5.8zM592.4 385.0h5.8v5.8h-5.8zM595.9 385.6h5.8v5.8h-5.8zM599.9 385.2h5.8v5.8h-5.8zM603.7 385.0h5.8v5.8h-5.8zM607.6 384.4h5.8v5.8h-5.8zM611.1 385.8h5.8v5.8h-5.8zM616.2 384.3h5.8v5.8h-5.8zM620.7 384.8h5.8v5.8h-5.8zM624.0 386.1h5.8v5.8h-5.8zM627.7 385.0h5.8v5.8h-5.8zM632.6 384.2h5.8v5.8h-5.8zM591.8 388.4h5.8v5.8h-5.8zM596.6 390.0h5.8v5.8h-5.8zM599.7 389.1h5.8v5.8h-5.8zM604.6 388.8h5.8v5.8h-5.8zM607.3 388.4h5.8v5.8h-5.8zM611.2 389.3h5.8v5.8h-5.8zM616.6 390.0h5.8v5.8h-5.8zM596.6 393.7h5.8v5.8h-5.8zM599.5 393.5h5.8v5.8h-5.8zM604.1 393.5h5.8v5.8h-5.8z"/><polygon points="378.0,210.0 399.0,205.0 417.0,201.0 429.0,203.0 445.0,210.0 458.0,216.0 460.0,350.0 461.0,374.0 461.0,445.0 455.0,460.0 440.0,465.0 412.0,462.0 394.0,461.0 384.0,452.0 379.0,430.0 379.0,300.0" fill="#00cdff"/><path fill="#00cdff" d="M377.5 214.7h5.8v5.8h-5.8zM381.5 205.2h5.8v5.8h-5.8zM390.3 207.0h5.8v5.8h-5.8zM393.2 203.7h5.8v5.8h-5.8zM397.7 208.6h5.8v5.8h-5.8zM404.5 201.3h5.8v5.8h-5.8zM409.2 198.5h5.8v5.8h-5.8zM421.3 199.7h5.8v5.8h-5.8zM432.6 210.5h5.8v5.8h-5.8zM437.7 213.2h5.8v5.8h-5.8zM440.9 213.5h5.8v5.8h-5.8zM452.2 213.3h5.8v5.8h-5.8zM453.0 387.9h5.8v5.8h-5.8zM449.8 391.9h5.8v5.8h-5.8zM458.2 405.1h5.8v5.8h-5.8zM453.2 411.6h5.8v5.8h-5.8zM447.8 415.7h5.8v5.8h-5.8zM457.6 417.2h5.8v5.8h-5.8zM458.1 422.8h5.8v5.8h-5.8zM459.5 429.4h5.8v5.8h-5.8zM450.7 433.8h5.8v5.8h-5.8zM451.5 437.7h5.8v5.8h-5.8zM454.5 446.3h5.8v5.8h-5.8zM448.7 450.0h5.8v5.8h-5.8zM451.0 456.7h5.8v5.8h-5.8zM443.2 457.2h5.8v5.8h-5.8zM437.1 459.0h5.8v5.8h-5.8zM434.2 461.3h5.8v5.8h-5.8zM428.9 458.1h5.8v5.8h-5.8zM425.9 453.4h5.8v5.8h-5.8zM417.1 450.7h5.8v5.8h-5.8zM410.4 454.5h5.8v5.8h-5.8zM408.5 453.9h5.8v5.8h-5.8zM400.1 453.7h5.8v5.8h-5.8zM392.8 455.6h5.8v5.8h-5.8zM386.0 451.6h5.8v5.8h-5.8zM384.5 446.0h5.8v5.8h-5.8zM385.7 440.3h5.8v5.8h-5.8zM383.0 432.6h5.8v5.8h-5.8zM377.9 429.6h5.8v5.8h-5.8zM383.7 426.2h5.8v5.8h-5.8zM379.3 422.1h5.8v5.8h-5.8zM381.5 413.3h5.8v5.8h-5.8zM388.6 408.2h5.8v5.8h-5.8zM382.3 402.9h5.8v5.8h-5.8zM379.2 401.2h5.8v5.8h-5.8zM376.7 392.4h5.8v5.8h-5.8zM383.5 390.2h5.8v5.8h-5.8zM386.0 386.0h5.8v5.8h-5.8zM375.6 381.9h5.8v5.8h-5.8zM387.0 375.5h5.8v5.8h-5.8zM377.6 369.6h5.8v5.8h-5.8zM378.7 366.9h5.8v5.8h-5.8zM379.5 359.9h5.8v5.8h-5.8zM383.4 353.1h5.8v5.8h-5.8zM377.0 347.6h5.8v5.8h-5.8zM377.6 345.4h5.8v5.8h-5.8zM377.2 339.3h5.8v5.8h-5.8zM388.6 335.2h5.8v5.8h-5.8zM384.0 323.4h5.8v5.8h-5.8zM379.1 318.0h5.8v5.8h-5.8zM372.6 309.3h5.8v5.8h-5.8zM373.8 306.4h5.8v5.8h-5.8zM383.3 300.2h5.8v5.8h-5.8zM381.9 292.2h5.8v5.8h-5.8zM380.1 288.7h5.8v5.8h-5.8zM378.7 285.9h5.8v5.8h-5.8zM372.5 281.6h5.8v5.8h-5.8zM379.7 273.2h5.8v5.8h-5.8zM378.6 269.4h5.8v5.8h-5.8zM379.5 263.6h5.8v5.8h-5.8zM377.9 257.8h5.8v5.8h-5.8zM376.7 256.5h5.8v5.8h-5.8zM374.2 244.2h5.8v5.8h-5.8zM379.0 239.3h5.8v5.8h-5.8zM383.9 226.6h5.8v5.8h-5.8zM374.2 217.3h5.8v5.8h-5.8zM378.1 209.8h5.8v5.8h-5.8z"/><path fill="#f82a2c" d="M372.1 383.8h5.8v5.8h-5.8zM369.4 388.7h5.8v5.8h-5.8zM371.1 394.4h5.8v5.8h-5.8zM366.2 414.5h5.8v5.8h-5.8zM371.8 413.3h5.8v5.8h-5.8zM371.2 420.5h5.8v5.8h-5.8zM369.6 426.7h5.8v5.8h-5.8zM366.2 438.2h5.8v5.8h-5.8zM364.6 441.5h5.8v5.8h-5.8zM365.7 261.5h5.8v5.8h-5.8zM371.1 262.1h5.8v5.8h-5.8zM364.2 274.8h5.8v5.8h-5.8zM364.2 292.9h5.8v5.8h-5.8zM365.7 299.4h5.8v5.8h-5.8zM364.4 302.3h5.8v5.8h-5.8zM365.9 310.2h5.8v5.8h-5.8zM365.0 329.6h5.8v5.8h-5.8zM371.8 328.6h5.8v5.8h-5.8zM364.0 334.8h5.8v5.8h-5.8zM365.8 346.4h5.8v5.8h-5.8zM363.8 362.8h5.8v5.8h-5.8zM371.6 364.3h5.8v5.8h-5.8zM366.6 370.6h5.8v5.8h-5.8zM446.9 307.0h5.8v5.8h-5.8zM446.9 312.5h5.8v5.8h-5.8zM446.9 307.0h5.8v5.8h-5.8zM441.4 307.0h5.8v5.8h-5.8zM441.4 301.5h5.8v5.8h-5.8zM446.9 307.0h5.8v5.8h-5.8zM441.4 307.0h5.8v5.8h-5.8zM486.1 316.6h5.8v5.8h-5.8zM486.1 322.1h5.8v5.8h-5.8zM475.3 254.2h5.8v5.8h-5.8zM469.8 254.2h5.8v5.8h-5.8zM464.3 259.7h5.8v5.8h-5.8zM512.3 279.6h5.8v5.8h-5.8zM517.8 279.6h5.8v5.8h-5.8zM517.8 285.1h5.8v5.8h-5.8zM523.3 290.6h5.8v5.8h-5.8zM523.3 285.1h5.8v5.8h-5.8zM468.9 255.1h5.8v5.8h-5.8zM474.4 255.1h5.8v5.8h-5.8zM478.0 293.6h5.8v5.8h-5.8zM478.0 288.1h5.8v5.8h-5.8zM478.0 282.6h5.8v5.8h-5.8zM472.5 282.6h5.8v5.8h-5.8zM500.9 285.7h5.8v5.8h-5.8zM506.4 285.7h5.8v5.8h-5.8zM500.9 285.7h5.8v5.8h-5.8zM501.9 318.0h5.8v5.8h-5.8zM507.4 323.5h5.8v5.8h-5.8zM501.9 329.0h5.8v5.8h-5.8zM507.4 329.0h5.8v5.8h-5.8zM512.9 329.0h5.8v5.8h-5.8zM518.4 334.5h5.8v5.8h-5.8zM518.4 329.0h5.8v5.8h-5.8zM518.4 259.6h5.8v5.8h-5.8zM523.9 265.1h5.8v5.8h-5.8zM523.9 259.6h5.8v5.8h-5.8zM468.5 283.9h5.8v5.8h-5.8zM468.5 289.4h5.8v5.8h-5.8zM468.5 283.9h5.8v5.8h-5.8zM468.5 278.4h5.8v5.8h-5.8zM468.5 283.9h5.8v5.8h-5.8zM429.4 246.9h5.8v5.8h-5.8zM423.9 252.4h5.8v5.8h-5.8zM429.4 257.9h5.8v5.8h-5.8zM423.9 257.9h5.8v5.8h-5.8zM429.4 263.4h5.8v5.8h-5.8zM434.9 268.9h5.8v5.8h-5.8zM489.2 300.5h5.8v5.8h-5.8zM483.7 306.0h5.8v5.8h-5.8zM478.2 306.0h5.8v5.8h-5.8zM466.7 330.0h5.8v5.8h-5.8zM472.2 335.5h5.8v5.8h-5.8zM472.2 341.0h5.8v5.8h-5.8zM466.7 341.0h5.8v5.8h-5.8zM447.9 281.7h5.8v5.8h-5.8zM442.4 287.2h5.8v5.8h-5.8zM447.9 287.2h5.8v5.8h-5.8zM485.2 303.9h5.8v5.8h-5.8zM485.2 298.4h5.8v5.8h-5.8zM479.7 298.4h5.8v5.8h-5.8zM492.9 325.8h5.8v5.8h-5.8zM498.4 331.3h5.8v5.8h-5.8zM498.4 325.8h5.8v5.8h-5.8zM492.9 331.3h5.8v5.8h-5.8zM487.4 331.3h5.8v5.8h-5.8zM446.6 246.8h5.8v5.8h-5.8zM441.1 252.3h5.8v5.8h-5.8zM441.1 246.8h5.8v5.8h-5.8zM446.6 246.8h5.8v5.8h-5.8zM446.6 252.3h5.8v5.8h-5.8zM521.3 304.0h5.8v5.8h-5.8zM521.3 298.5h5.8v5.8h-5.8zM447.5 246.8h5.8v5.8h-5.8zM442.0 252.3h5.8v5.8h-5.8zM436.5 252.3h5.8v5.8h-5.8zM431.0 252.3h5.8v5.8h-5.8zM444.2 303.2h5.8v5.8h-5.8zM444.2 297.7h5.8v5.8h-5.8zM449.7 297.7h5.8v5.8h-5.8zM444.2 297.7h5.8v5.8h-5.8zM444.2 303.2h5.8v5.8h-5.8zM438.7 303.2h5.8v5.8h-5.8zM438.7 308.7h5.8v5.8h-5.8zM512.6 287.1h5.8v5.8h-5.8zM512.6 292.6h5.8v5.8h-5.8zM507.1 292.6h5.8v5.8h-5.8zM512.6 298.1h5.8v5.8h-5.8zM518.1 303.6h5.8v5.8h-5.8zM444.1 310.0h5.8v5.8h-5.8zM438.6 315.5h5.8v5.8h-5.8zM433.1 315.5h5.8v5.8h-5.8zM427.6 321.0h5.8v5.8h-5.8zM433.1 321.0h5.8v5.8h-5.8zM493.2 302.6h5.8v5.8h-5.8zM493.2 297.1h5.8v5.8h-5.8zM493.2 302.6h5.8v5.8h-5.8zM487.7 308.1h5.8v5.8h-5.8zM487.7 302.6h5.8v5.8h-5.8zM482.2 302.6h5.8v5.8h-5.8zM444.4 278.6h5.8v5.8h-5.8zM449.9 278.6h5.8v5.8h-5.8zM444.4 284.1h5.8v5.8h-5.8zM442.0 267.4h5.8v5.8h-5.8zM447.5 272.9h5.8v5.8h-5.8zM447.5 278.4h5.8v5.8h-5.8zM447.5 272.9h5.8v5.8h-5.8zM525.0 300.4h5.8v5.8h-5.8zM519.5 300.4h5.8v5.8h-5.8zM519.5 294.9h5.8v5.8h-5.8zM505.8 293.5h5.8v5.8h-5.8zM511.3 299.0h5.8v5.8h-5.8zM483.6 312.4h5.8v5.8h-5.8zM489.1 312.4h5.8v5.8h-5.8zM479.2 246.3h5.8v5.8h-5.8zM473.7 246.3h5.8v5.8h-5.8zM468.2 251.8h5.8v5.8h-5.8zM462.7 251.8h5.8v5.8h-5.8zM462.7 257.3h5.8v5.8h-5.8zM457.2 262.8h5.8v5.8h-5.8zM471.1 270.1h5.8v5.8h-5.8zM476.6 275.6h5.8v5.8h-5.8zM482.1 281.1h5.8v5.8h-5.8zM482.1 275.6h5.8v5.8h-5.8zM439.7 298.4h5.8v5.8h-5.8zM445.2 303.9h5.8v5.8h-5.8zM439.7 309.4h5.8v5.8h-5.8zM439.7 314.9h5.8v5.8h-5.8zM445.2 320.4h5.8v5.8h-5.8zM445.2 325.9h5.8v5.8h-5.8zM504.6 291.1h5.8v5.8h-5.8zM499.1 291.1h5.8v5.8h-5.8zM504.6 291.1h5.8v5.8h-5.8zM510.1 296.6h5.8v5.8h-5.8zM510.1 302.1h5.8v5.8h-5.8zM504.6 302.1h5.8v5.8h-5.8zM474.5 324.3h5.8v5.8h-5.8zM480.0 324.3h5.8v5.8h-5.8zM474.5 329.8h5.8v5.8h-5.8zM474.5 324.3h5.8v5.8h-5.8zM480.0 329.8h5.8v5.8h-5.8zM485.5 335.3h5.8v5.8h-5.8zM491.0 335.3h5.8v5.8h-5.8zM498.7 283.0h5.8v5.8h-5.8zM504.2 288.5h5.8v5.8h-5.8zM504.2 283.0h5.8v5.8h-5.8zM504.2 277.5h5.8v5.8h-5.8zM509.7 277.5h5.8v5.8h-5.8zM504.2 277.5h5.8v5.8h-5.8zM450.5 222.6h5.8v5.8h-5.8zM485.8 222.4h5.8v5.8h-5.8zM568.2 223.8h5.8v5.8h-5.8zM592.7 221.1h5.8v5.8h-5.8zM450.2 226.8h5.8v5.8h-5.8zM455.1 227.3h5.8v5.8h-5.8zM550.2 229.6h5.8v5.8h-5.8zM573.4 229.7h5.8v5.8h-5.8zM471.4 232.3h5.8v5.8h-5.8zM528.1 235.5h5.8v5.8h-5.8zM450.6 240.7h5.8v5.8h-5.8zM473.0 238.9h5.8v5.8h-5.8zM526.6 241.3h5.8v5.8h-5.8zM537.6 241.8h5.8v5.8h-5.8zM552.0 238.4h5.8v5.8h-5.8zM455.1 247.7h5.8v5.8h-5.8zM467.8 247.0h5.8v5.8h-5.8zM486.6 245.9h5.8v5.8h-5.8zM489.3 247.6h5.8v5.8h-5.8zM522.1 246.4h5.8v5.8h-5.8zM574.4 245.2h5.8v5.8h-5.8zM442.9 251.5h5.8v5.8h-5.8zM484.2 251.3h5.8v5.8h-5.8zM528.3 253.9h5.8v5.8h-5.8zM532.1 252.5h5.8v5.8h-5.8zM535.3 255.9h5.8v5.8h-5.8zM542.3 258.9h5.8v5.8h-5.8zM515.6 262.3h5.8v5.8h-5.8zM524.1 261.9h5.8v5.8h-5.8zM534.0 262.5h5.8v5.8h-5.8zM523.3 267.7h5.8v5.8h-5.8zM533.5 274.2h5.8v5.8h-5.8zM522.6 282.7h5.8v5.8h-5.8zM534.6 287.7h5.8v5.8h-5.8zM548.9 286.4h5.8v5.8h-5.8zM552.7 293.7h5.8v5.8h-5.8zM524.7 297.7h5.8v5.8h-5.8zM542.4 297.6h5.8v5.8h-5.8zM523.4 306.4h5.8v5.8h-5.8zM528.7 306.7h5.8v5.8h-5.8zM534.4 305.4h5.8v5.8h-5.8zM554.3 305.9h5.8v5.8h-5.8zM516.7 309.4h5.8v5.8h-5.8zM546.4 310.2h5.8v5.8h-5.8zM551.6 336.0h5.8v5.8h-5.8zM521.9 340.1h5.8v5.8h-5.8zM548.9 340.9h5.8v5.8h-5.8zM551.6 347.1h5.8v5.8h-5.8zM521.9 354.0h5.8v5.8h-5.8zM547.2 352.5h5.8v5.8h-5.8zM607.2 221.6h5.8v5.8h-5.8zM612.7 221.6h5.8v5.8h-5.8zM607.2 221.6h5.8v5.8h-5.8zM630.2 265.4h5.8v5.8h-5.8zM624.7 270.9h5.8v5.8h-5.8zM630.2 270.9h5.8v5.8h-5.8zM635.7 276.4h5.8v5.8h-5.8zM629.5 231.9h5.8v5.8h-5.8zM624.0 231.9h5.8v5.8h-5.8zM629.2 265.8h5.8v5.8h-5.8zM615.1 233.2h5.8v5.8h-5.8zM615.1 227.7h5.8v5.8h-5.8zM646.6 262.1h5.8v5.8h-5.8zM646.6 267.6h5.8v5.8h-5.8zM599.8 243.8h5.8v5.8h-5.8zM625.6 237.2h5.8v5.8h-5.8zM625.6 242.7h5.8v5.8h-5.8zM617.7 246.6h5.8v5.8h-5.8zM623.2 252.1h5.8v5.8h-5.8zM628.7 257.6h5.8v5.8h-5.8zM627.0 238.5h5.8v5.8h-5.8zM632.5 238.5h5.8v5.8h-5.8zM638.0 238.5h5.8v5.8h-5.8zM638.0 233.0h5.8v5.8h-5.8zM537.0 311.7h5.8v5.8h-5.8zM531.5 311.7h5.8v5.8h-5.8zM526.0 317.2h5.8v5.8h-5.8zM538.0 339.4h5.8v5.8h-5.8zM531.1 331.8h5.8v5.8h-5.8zM536.6 331.8h5.8v5.8h-5.8zM528.8 297.1h5.8v5.8h-5.8zM523.3 302.6h5.8v5.8h-5.8zM536.0 337.0h5.8v5.8h-5.8zM530.5 342.5h5.8v5.8h-5.8zM530.5 348.0h5.8v5.8h-5.8zM518.3 314.6h5.8v5.8h-5.8zM523.8 320.1h5.8v5.8h-5.8zM523.8 314.6h5.8v5.8h-5.8zM518.3 320.1h5.8v5.8h-5.8zM521.2 333.4h5.8v5.8h-5.8zM515.7 338.9h5.8v5.8h-5.8zM521.2 344.4h5.8v5.8h-5.8zM536.6 291.9h5.8v5.8h-5.8zM542.1 291.9h5.8v5.8h-5.8zM547.6 297.4h5.8v5.8h-5.8zM547.6 302.9h5.8v5.8h-5.8zM525.5 321.3h5.8v5.8h-5.8zM548.4 318.5h5.8v5.8h-5.8zM553.9 324.0h5.8v5.8h-5.8zM548.4 324.0h5.8v5.8h-5.8zM548.4 329.5h5.8v5.8h-5.8zM381.9 422.8h5.8v5.8h-5.8zM376.4 422.8h5.8v5.8h-5.8zM372.6 414.0h5.8v5.8h-5.8zM367.1 419.5h5.8v5.8h-5.8zM383.6 393.8h5.8v5.8h-5.8zM383.6 388.3h5.8v5.8h-5.8zM384.7 430.5h5.8v5.8h-5.8zM390.2 430.5h5.8v5.8h-5.8zM372.1 404.6h5.8v5.8h-5.8zM366.6 410.1h5.8v5.8h-5.8zM366.6 415.6h5.8v5.8h-5.8zM386.3 383.5h5.8v5.8h-5.8zM391.8 389.0h5.8v5.8h-5.8zM386.3 389.0h5.8v5.8h-5.8zM386.5 460.6h5.8v5.8h-5.8zM381.0 460.6h5.8v5.8h-5.8zM393.0 442.9h5.8v5.8h-5.8zM398.5 442.9h5.8v5.8h-5.8zM398.5 448.4h5.8v5.8h-5.8zM387.7 453.9h5.8v5.8h-5.8zM393.2 459.4h5.8v5.8h-5.8zM395.3 446.0h5.8v5.8h-5.8zM395.3 451.5h5.8v5.8h-5.8zM389.8 451.5h5.8v5.8h-5.8zM395.3 457.0h5.8v5.8h-5.8zM389.9 452.6h5.8v5.8h-5.8zM384.4 458.1h5.8v5.8h-5.8zM389.9 458.1h5.8v5.8h-5.8zM395.4 463.6h5.8v5.8h-5.8zM429.6 454.7h5.8v5.8h-5.8zM414.3 461.1h5.8v5.8h-5.8zM434.4 460.8h5.8v5.8h-5.8zM441.7 460.0h5.8v5.8h-5.8zM463.8 332.2h5.8v5.8h-5.8zM468.2 339.2h5.8v5.8h-5.8zM487.7 337.3h5.8v5.8h-5.8zM493.6 337.2h5.8v5.8h-5.8zM504.1 336.5h5.8v5.8h-5.8zM512.9 339.0h5.8v5.8h-5.8zM469.2 345.7h5.8v5.8h-5.8zM475.9 343.5h5.8v5.8h-5.8zM482.1 343.3h5.8v5.8h-5.8zM493.4 342.6h5.8v5.8h-5.8zM499.8 343.8h5.8v5.8h-5.8zM504.5 343.0h5.8v5.8h-5.8zM458.7 351.7h5.8v5.8h-5.8zM468.4 351.2h5.8v5.8h-5.8zM497.5 351.3h5.8v5.8h-5.8zM504.7 349.6h5.8v5.8h-5.8zM461.8 357.3h5.8v5.8h-5.8zM492.5 357.7h5.8v5.8h-5.8zM503.9 356.0h5.8v5.8h-5.8zM515.3 354.6h5.8v5.8h-5.8zM504.9 362.2h5.8v5.8h-5.8zM487.8 367.1h5.8v5.8h-5.8zM500.5 368.6h5.8v5.8h-5.8zM463.5 380.6h5.8v5.8h-5.8zM505.1 380.2h5.8v5.8h-5.8zM455.3 433.4h5.8v5.8h-5.8zM453.1 428.9h5.8v5.8h-5.8zM458.6 428.9h5.8v5.8h-5.8zM454.4 442.7h5.8v5.8h-5.8zM454.4 437.2h5.8v5.8h-5.8zM448.9 437.2h5.8v5.8h-5.8zM450.2 453.3h5.8v5.8h-5.8zM455.7 453.3h5.8v5.8h-5.8zM450.2 458.8h5.8v5.8h-5.8zM638.3 302.5h5.8v5.8h-5.8zM650.6 309.4h5.8v5.8h-5.8zM656.3 310.1h5.8v5.8h-5.8zM656.8 315.6h5.8v5.8h-5.8zM648.7 326.4h5.8v5.8h-5.8zM644.1 344.5h5.8v5.8h-5.8zM642.5 367.5h5.8v5.8h-5.8zM654.2 369.3h5.8v5.8h-5.8z"/><path fill="#00cdff" d="M426.5 99.2h5.8v5.8h-5.8zM446.6 104.7h5.8v5.8h-5.8zM456.1 100.7h5.8v5.8h-5.8zM408.1 123.1h5.8v5.8h-5.8zM433.8 120.3h5.8v5.8h-5.8zM433.8 125.8h5.8v5.8h-5.8zM452.1 124.9h5.8v5.8h-5.8zM469.1 117.6h5.8v5.8h-5.8zM411.6 141.4h5.8v5.8h-5.8zM437.5 137.7h5.8v5.8h-5.8zM511.1 145.1h5.8v5.8h-5.8zM552.5 132.2h5.8v5.8h-5.8zM547.1 139.6h5.8v5.8h-5.8zM582.4 134.1h5.8v5.8h-5.8zM481.9 158.8h5.8v5.8h-5.8zM483.7 163.4h5.8v5.8h-5.8zM498.4 163.4h5.8v5.8h-5.8zM539.3 161.6h5.8v5.8h-5.8zM554.3 166.1h5.8v5.8h-5.8zM476.4 187.3h5.8v5.8h-5.8zM523.1 189.1h5.8v5.8h-5.8zM581.9 180.9h5.8v5.8h-5.8zM540.6 179.1h5.8v5.8h-5.8z"/><path fill="#f82a2c" d="M440.6 128.6h5.8v5.8h-5.8zM439.7 148.8h5.8v5.8h-5.8zM503.9 122.7h5.8v5.8h-5.8zM491.1 135.9h5.8v5.8h-5.8zM543.0 130.4h5.8v5.8h-5.8zM569.1 137.7h5.8v5.8h-5.8zM561.3 143.2h5.8v5.8h-5.8zM539.3 152.4h5.8v5.8h-5.8zM529.6 158.3h5.8v5.8h-5.8zM474.5 165.6h5.8v5.8h-5.8zM486.5 159.8h5.8v5.8h-5.8zM576.4 165.6h5.8v5.8h-5.8zM609.4 189.1h5.8v5.8h-5.8z"/><polyline points="401.3,87.4 473.8,78.5" fill="none" stroke="#1a1a1a" stroke-width="3"/><polyline points="495.8,78.5 591.2,100.3 596.7,148.9 554.5,176.4 500.4,187.4 380.2,176.4 375.6,127.0" fill="none" stroke="#1a1a1a" stroke-width="3"/><polyline points="375.6,128.7 373.8,91.1 401.3,87.4" fill="none" stroke="#c8c8c8" stroke-width="2.5"/><polygon points="602.3,171.3 686.3,208.7 672.2,398.5 637.6,417.6 517.6,366.8 530.3,244.7 539.5,219.3 552.9,193.9" fill="none" stroke="#1a1a1a" stroke-width="3" stroke-linejoin="miter"/><text x="277.5" y="114.8" font-family='"Liberation Sans", sans-serif' font-size="20.5" fill="#333">Non-Classical</text><text x="644.5" y="448.5" font-family='"Liberation Sans", sans-serif' font-size="20.5" fill="#333">Classical</text></g><clipPath id="c2"><rect x="928" y="80.2" width="474" height="472"/></clipPath><g clip-path="url(#c2)"><path fill="#00cdff" d="M1212.9 210.0h5.8v5.8h-5.8zM1220.6 217.8h5.8v5.8h-5.8zM1233.3 224.8h5.8v5.8h-5.8zM1251.7 217.1h5.8v5.8h-5.8zM1255.2 195.2h5.8v5.8h-5.8zM1236.8 196.6h5.8v5.8h-5.8zM1265.1 231.9h5.8v5.8h-5.8zM1263.0 241.8h5.8v5.8h-5.8zM1246.0 241.1h5.8v5.8h-5.8zM1253.1 248.8h5.8v5.8h-5.8zM1236.1 248.8h5.8v5.8h-5.8zM1226.3 254.5h5.8v5.8h-5.8zM1230.5 237.6h5.8v5.8h-5.8zM1222.0 247.4h5.8v5.8h-5.8zM1275.7 270.7h5.8v5.8h-5.8zM1284.8 270.7h5.8v5.8h-5.8zM1277.8 291.2h5.8v5.8h-5.8zM1272.1 298.2h5.8v5.8h-5.8zM1260.1 289.8h5.8v5.8h-5.8zM1246.7 285.5h5.8v5.8h-5.8zM1241.8 292.6h5.8v5.8h-5.8zM1247.4 301.1h5.8v5.8h-5.8zM1243.2 309.5h5.8v5.8h-5.8zM1262.3 304.6h5.8v5.8h-5.8zM1230.5 302.5h5.8v5.8h-5.8zM1223.4 308.1h5.8v5.8h-5.8zM1227.7 324.4h5.8v5.8h-5.8zM1196.6 309.5h5.8v5.8h-5.8zM1205.1 303.9h5.8v5.8h-5.8zM1203.7 291.2h5.8v5.8h-5.8zM1193.8 332.1h5.8v5.8h-5.8zM1199.4 330.7h5.8v5.8h-5.8zM1181.1 329.3h5.8v5.8h-5.8zM1251.7 328.6h5.8v5.8h-5.8zM1258.7 337.8h5.8v5.8h-5.8zM1268.6 315.9h5.8v5.8h-5.8zM1275.7 313.8h5.8v5.8h-5.8zM1219.9 349.8h5.8v5.8h-5.8zM1221.3 350.5h5.8v5.8h-5.8zM1265.8 352.6h5.8v5.8h-5.8zM1279.2 349.1h5.8v5.8h-5.8zM1201.6 363.9h5.8v5.8h-5.8zM1230.5 277.1h5.8v5.8h-5.8zM1222.0 274.2h5.8v5.8h-5.8zM1210.7 281.3h5.8v5.8h-5.8zM1216.4 284.1h5.8v5.8h-5.8zM1210.7 216.4h5.8v5.8h-5.8zM1217.8 222.0h5.8v5.8h-5.8zM1227.7 241.8h5.8v5.8h-5.8zM1233.3 255.9h5.8v5.8h-5.8zM1216.4 255.9h5.8v5.8h-5.8zM1206.5 264.4h5.8v5.8h-5.8zM1199.4 278.5h5.8v5.8h-5.8zM1191.0 298.2h5.8v5.8h-5.8zM1185.3 315.2h5.8v5.8h-5.8z"/><path fill="#f82a2c" d="M1230.5 206.5h5.8v5.8h-5.8zM1244.6 189.6h5.8v5.8h-5.8zM1241.8 192.4h5.8v5.8h-5.8zM1222.0 282.7h5.8v5.8h-5.8zM1203.7 322.9h5.8v5.8h-5.8zM1185.3 326.5h5.8v5.8h-5.8zM1181.1 349.1h5.8v5.8h-5.8zM1174.0 340.6h5.8v5.8h-5.8zM1253.1 301.1h5.8v5.8h-5.8zM1227.7 177.6h5.8v5.8h-5.8z"/><path fill="#00cdff" d="M1089.7 286.0h5.8v5.8h-5.8zM1094.1 288.0h5.8v5.8h-5.8zM1098.1 285.7h5.8v5.8h-5.8zM1102.2 288.2h5.8v5.8h-5.8zM1107.9 286.9h5.8v5.8h-5.8zM1112.7 288.1h5.8v5.8h-5.8zM1114.9 287.1h5.8v5.8h-5.8zM1121.4 287.4h5.8v5.8h-5.8zM1125.3 286.7h5.8v5.8h-5.8zM1128.3 288.4h5.8v5.8h-5.8zM1139.8 287.2h5.8v5.8h-5.8zM1144.2 287.4h5.8v5.8h-5.8zM1157.0 288.0h5.8v5.8h-5.8zM1165.7 287.7h5.8v5.8h-5.8zM1171.1 287.9h5.8v5.8h-5.8zM1174.9 286.7h5.8v5.8h-5.8zM1179.4 288.5h5.8v5.8h-5.8zM1092.4 291.6h5.8v5.8h-5.8zM1113.0 291.9h5.8v5.8h-5.8zM1115.0 290.4h5.8v5.8h-5.8zM1126.0 290.4h5.8v5.8h-5.8zM1129.4 290.2h5.8v5.8h-5.8zM1135.3 293.0h5.8v5.8h-5.8zM1139.3 293.1h5.8v5.8h-5.8zM1152.8 291.6h5.8v5.8h-5.8zM1175.2 290.4h5.8v5.8h-5.8zM1180.4 291.3h5.8v5.8h-5.8zM1097.4 296.4h5.8v5.8h-5.8zM1106.6 295.2h5.8v5.8h-5.8zM1112.6 296.7h5.8v5.8h-5.8zM1128.7 295.2h5.8v5.8h-5.8zM1135.6 295.3h5.8v5.8h-5.8zM1137.3 294.7h5.8v5.8h-5.8zM1143.4 296.1h5.8v5.8h-5.8zM1160.4 295.0h5.8v5.8h-5.8zM1168.6 296.7h5.8v5.8h-5.8zM1175.0 295.2h5.8v5.8h-5.8zM1177.6 295.7h5.8v5.8h-5.8zM1092.9 299.5h5.8v5.8h-5.8zM1098.7 299.7h5.8v5.8h-5.8zM1101.9 301.2h5.8v5.8h-5.8zM1107.5 299.3h5.8v5.8h-5.8zM1115.3 301.3h5.8v5.8h-5.8zM1121.0 300.0h5.8v5.8h-5.8zM1129.5 300.4h5.8v5.8h-5.8zM1144.1 300.9h5.8v5.8h-5.8zM1152.3 299.7h5.8v5.8h-5.8zM1173.4 301.7h5.8v5.8h-5.8zM1108.6 305.4h5.8v5.8h-5.8zM1115.4 305.1h5.8v5.8h-5.8zM1120.0 304.6h5.8v5.8h-5.8zM1124.4 304.0h5.8v5.8h-5.8zM1133.7 306.0h5.8v5.8h-5.8zM1142.5 306.0h5.8v5.8h-5.8zM1147.5 304.7h5.8v5.8h-5.8zM1156.9 305.2h5.8v5.8h-5.8zM1160.1 306.3h5.8v5.8h-5.8zM1169.1 306.4h5.8v5.8h-5.8zM1175.2 306.3h5.8v5.8h-5.8zM1093.6 310.8h5.8v5.8h-5.8zM1097.4 310.7h5.8v5.8h-5.8zM1106.0 310.6h5.8v5.8h-5.8zM1112.4 308.9h5.8v5.8h-5.8zM1116.7 309.3h5.8v5.8h-5.8zM1120.4 309.5h5.8v5.8h-5.8zM1125.5 308.4h5.8v5.8h-5.8zM1135.1 309.0h5.8v5.8h-5.8zM1143.7 310.1h5.8v5.8h-5.8zM1147.5 311.0h5.8v5.8h-5.8zM1150.8 309.1h5.8v5.8h-5.8zM1157.8 310.6h5.8v5.8h-5.8zM1161.5 308.7h5.8v5.8h-5.8zM1168.8 310.0h5.8v5.8h-5.8zM1175.8 310.9h5.8v5.8h-5.8zM1098.9 312.7h5.8v5.8h-5.8zM1102.0 312.8h5.8v5.8h-5.8zM1124.4 314.4h5.8v5.8h-5.8zM1139.5 313.8h5.8v5.8h-5.8zM1156.9 313.2h5.8v5.8h-5.8zM1162.1 314.1h5.8v5.8h-5.8zM1166.5 313.1h5.8v5.8h-5.8zM1170.3 314.9h5.8v5.8h-5.8zM1174.4 314.0h5.8v5.8h-5.8zM1094.0 317.9h5.8v5.8h-5.8zM1102.7 317.8h5.8v5.8h-5.8zM1111.0 317.4h5.8v5.8h-5.8zM1114.6 318.7h5.8v5.8h-5.8zM1119.4 318.4h5.8v5.8h-5.8zM1130.1 318.8h5.8v5.8h-5.8zM1148.8 318.1h5.8v5.8h-5.8zM1151.9 317.2h5.8v5.8h-5.8zM1161.4 317.3h5.8v5.8h-5.8zM1164.9 319.9h5.8v5.8h-5.8zM1169.7 318.0h5.8v5.8h-5.8zM1175.0 318.0h5.8v5.8h-5.8zM1093.0 322.7h5.8v5.8h-5.8zM1101.5 322.6h5.8v5.8h-5.8zM1106.4 321.9h5.8v5.8h-5.8zM1113.0 324.3h5.8v5.8h-5.8zM1115.9 322.1h5.8v5.8h-5.8zM1130.0 321.9h5.8v5.8h-5.8zM1133.5 324.0h5.8v5.8h-5.8zM1142.9 323.3h5.8v5.8h-5.8zM1146.9 324.1h5.8v5.8h-5.8zM1156.3 324.4h5.8v5.8h-5.8zM1161.9 322.1h5.8v5.8h-5.8zM1165.1 323.5h5.8v5.8h-5.8zM1170.2 323.1h5.8v5.8h-5.8zM1092.9 328.0h5.8v5.8h-5.8zM1097.5 328.3h5.8v5.8h-5.8zM1104.1 328.7h5.8v5.8h-5.8zM1107.7 326.5h5.8v5.8h-5.8zM1116.8 326.9h5.8v5.8h-5.8zM1126.0 326.9h5.8v5.8h-5.8zM1129.4 327.6h5.8v5.8h-5.8zM1133.1 327.2h5.8v5.8h-5.8zM1139.2 326.5h5.8v5.8h-5.8zM1149.1 327.2h5.8v5.8h-5.8zM1151.7 326.3h5.8v5.8h-5.8zM1161.9 326.6h5.8v5.8h-5.8zM1165.0 326.9h5.8v5.8h-5.8zM1170.5 327.5h5.8v5.8h-5.8zM1108.0 333.5h5.8v5.8h-5.8zM1117.1 332.7h5.8v5.8h-5.8zM1121.6 333.3h5.8v5.8h-5.8zM1130.3 333.1h5.8v5.8h-5.8zM1134.5 331.7h5.8v5.8h-5.8zM1142.3 331.9h5.8v5.8h-5.8zM1147.2 331.6h5.8v5.8h-5.8zM1156.6 330.9h5.8v5.8h-5.8zM1159.9 332.0h5.8v5.8h-5.8zM1165.2 330.7h5.8v5.8h-5.8zM1096.6 336.9h5.8v5.8h-5.8zM1102.8 337.8h5.8v5.8h-5.8zM1107.0 337.6h5.8v5.8h-5.8zM1110.5 335.3h5.8v5.8h-5.8zM1124.6 338.1h5.8v5.8h-5.8zM1130.5 337.5h5.8v5.8h-5.8zM1135.0 336.1h5.8v5.8h-5.8zM1165.2 337.9h5.8v5.8h-5.8zM1169.5 337.5h5.8v5.8h-5.8zM1097.9 341.3h5.8v5.8h-5.8zM1103.6 341.4h5.8v5.8h-5.8zM1105.9 340.5h5.8v5.8h-5.8zM1112.5 342.0h5.8v5.8h-5.8zM1123.9 340.7h5.8v5.8h-5.8zM1133.3 339.6h5.8v5.8h-5.8zM1138.1 341.0h5.8v5.8h-5.8zM1143.2 340.0h5.8v5.8h-5.8zM1157.8 341.6h5.8v5.8h-5.8zM1161.5 340.9h5.8v5.8h-5.8zM1166.8 340.3h5.8v5.8h-5.8zM1102.8 346.0h5.8v5.8h-5.8zM1108.6 346.6h5.8v5.8h-5.8zM1111.1 346.8h5.8v5.8h-5.8zM1119.5 345.7h5.8v5.8h-5.8zM1124.9 345.9h5.8v5.8h-5.8zM1129.8 346.1h5.8v5.8h-5.8zM1132.6 345.8h5.8v5.8h-5.8zM1147.2 344.7h5.8v5.8h-5.8zM1153.5 344.6h5.8v5.8h-5.8zM1096.9 349.3h5.8v5.8h-5.8zM1101.4 348.9h5.8v5.8h-5.8zM1112.1 350.1h5.8v5.8h-5.8zM1116.0 348.7h5.8v5.8h-5.8zM1119.5 351.0h5.8v5.8h-5.8zM1138.8 350.6h5.8v5.8h-5.8zM1142.8 351.0h5.8v5.8h-5.8zM1146.2 351.3h5.8v5.8h-5.8zM1152.4 351.5h5.8v5.8h-5.8zM1097.4 354.1h5.8v5.8h-5.8zM1102.6 353.2h5.8v5.8h-5.8zM1115.8 354.2h5.8v5.8h-5.8zM1126.2 355.9h5.8v5.8h-5.8zM1128.5 354.9h5.8v5.8h-5.8zM1133.8 353.7h5.8v5.8h-5.8zM1144.1 354.9h5.8v5.8h-5.8zM1115.1 358.3h5.8v5.8h-5.8zM1125.9 357.7h5.8v5.8h-5.8zM1130.3 359.8h5.8v5.8h-5.8zM1139.2 359.8h5.8v5.8h-5.8z"/><path fill="#f82a2c" d="M1104.1 287.4h5.8v5.8h-5.8zM1109.3 287.9h5.8v5.8h-5.8zM1160.3 289.5h5.8v5.8h-5.8zM1163.6 287.6h5.8v5.8h-5.8zM1177.6 290.8h5.8v5.8h-5.8zM1092.7 295.0h5.8v5.8h-5.8zM1104.2 294.2h5.8v5.8h-5.8zM1111.7 296.2h5.8v5.8h-5.8zM1123.9 296.0h5.8v5.8h-5.8zM1115.9 300.1h5.8v5.8h-5.8zM1124.0 301.6h5.8v5.8h-5.8zM1145.7 300.5h5.8v5.8h-5.8zM1164.9 299.5h5.8v5.8h-5.8zM1175.9 301.6h5.8v5.8h-5.8zM1122.3 307.8h5.8v5.8h-5.8zM1136.3 308.3h5.8v5.8h-5.8zM1159.1 308.4h5.8v5.8h-5.8zM1128.2 314.7h5.8v5.8h-5.8zM1140.9 313.6h5.8v5.8h-5.8zM1154.5 314.1h5.8v5.8h-5.8zM1110.3 318.8h5.8v5.8h-5.8zM1118.7 318.2h5.8v5.8h-5.8zM1166.6 320.7h5.8v5.8h-5.8zM1152.4 325.2h5.8v5.8h-5.8zM1164.0 323.4h5.8v5.8h-5.8zM1098.7 331.1h5.8v5.8h-5.8zM1118.6 331.6h5.8v5.8h-5.8zM1166.2 329.7h5.8v5.8h-5.8zM1097.6 337.3h5.8v5.8h-5.8zM1116.8 338.7h5.8v5.8h-5.8zM1146.2 336.8h5.8v5.8h-5.8zM1163.9 336.9h5.8v5.8h-5.8z"/><polygon points="1040.7,206.8 1061.2,200.7 1102.1,202.7 1122.6,196.6 1153.3,200.7 1184.0,200.7 1190.1,237.5 1184.0,268.2 1179.9,288.7 1165.5,292.8 1132.8,290.8 1112.3,292.8 1096.0,309.2 1091.9,344.0 1098.0,370.0 1110.0,390.0 1116.0,420.0 1112.0,445.0 1100.0,458.0 1080.0,463.0 1050.0,461.0 1036.0,450.0 1032.5,405.4 1036.6,354.2 1034.6,292.8 1038.7,241.6" fill="#00cdff"/><path fill="#00cdff" d="M1042.0 208.9h5.8v5.8h-5.8zM1045.6 206.0h5.8v5.8h-5.8zM1054.4 208.2h5.8v5.8h-5.8zM1058.0 201.6h5.8v5.8h-5.8zM1063.9 196.8h5.8v5.8h-5.8zM1069.8 198.2h5.8v5.8h-5.8zM1079.1 200.9h5.8v5.8h-5.8zM1092.4 199.3h5.8v5.8h-5.8zM1097.9 205.9h5.8v5.8h-5.8zM1114.7 202.7h5.8v5.8h-5.8zM1118.1 195.5h5.8v5.8h-5.8zM1121.1 200.9h5.8v5.8h-5.8zM1129.1 196.5h5.8v5.8h-5.8zM1132.2 198.2h5.8v5.8h-5.8zM1135.8 197.3h5.8v5.8h-5.8zM1142.9 199.9h5.8v5.8h-5.8zM1146.7 197.2h5.8v5.8h-5.8zM1153.1 201.5h5.8v5.8h-5.8zM1156.3 193.2h5.8v5.8h-5.8zM1163.8 198.9h5.8v5.8h-5.8zM1171.5 205.1h5.8v5.8h-5.8zM1179.8 204.1h5.8v5.8h-5.8zM1177.0 208.4h5.8v5.8h-5.8zM1178.3 213.8h5.8v5.8h-5.8zM1181.2 218.5h5.8v5.8h-5.8zM1180.9 230.0h5.8v5.8h-5.8zM1186.4 233.2h5.8v5.8h-5.8zM1178.4 237.7h5.8v5.8h-5.8zM1181.2 239.0h5.8v5.8h-5.8zM1180.7 247.2h5.8v5.8h-5.8zM1185.5 254.5h5.8v5.8h-5.8zM1182.7 255.3h5.8v5.8h-5.8zM1180.4 270.0h5.8v5.8h-5.8zM1175.8 271.5h5.8v5.8h-5.8zM1173.9 277.5h5.8v5.8h-5.8zM1173.2 283.3h5.8v5.8h-5.8zM1173.0 282.8h5.8v5.8h-5.8zM1164.9 287.7h5.8v5.8h-5.8zM1151.9 288.4h5.8v5.8h-5.8zM1148.6 283.7h5.8v5.8h-5.8zM1145.1 276.7h5.8v5.8h-5.8zM1140.6 281.3h5.8v5.8h-5.8zM1127.3 283.3h5.8v5.8h-5.8zM1123.4 288.8h5.8v5.8h-5.8zM1105.9 290.8h5.8v5.8h-5.8zM1102.8 295.3h5.8v5.8h-5.8zM1091.9 297.8h5.8v5.8h-5.8zM1092.5 308.9h5.8v5.8h-5.8zM1083.8 315.9h5.8v5.8h-5.8zM1088.8 323.0h5.8v5.8h-5.8zM1079.0 330.0h5.8v5.8h-5.8zM1085.1 338.1h5.8v5.8h-5.8zM1088.6 343.2h5.8v5.8h-5.8zM1091.2 351.8h5.8v5.8h-5.8zM1092.9 367.4h5.8v5.8h-5.8zM1088.8 373.8h5.8v5.8h-5.8zM1097.5 373.2h5.8v5.8h-5.8zM1104.6 382.5h5.8v5.8h-5.8zM1102.0 397.3h5.8v5.8h-5.8zM1106.0 402.1h5.8v5.8h-5.8zM1100.8 409.7h5.8v5.8h-5.8zM1102.3 414.8h5.8v5.8h-5.8zM1110.4 419.9h5.8v5.8h-5.8zM1109.4 421.6h5.8v5.8h-5.8zM1098.8 427.2h5.8v5.8h-5.8zM1103.7 432.8h5.8v5.8h-5.8zM1105.3 437.3h5.8v5.8h-5.8zM1099.3 442.5h5.8v5.8h-5.8zM1091.4 452.7h5.8v5.8h-5.8zM1089.4 450.1h5.8v5.8h-5.8zM1079.7 446.5h5.8v5.8h-5.8zM1075.2 445.5h5.8v5.8h-5.8zM1075.8 459.5h5.8v5.8h-5.8zM1069.1 455.8h5.8v5.8h-5.8zM1065.1 456.4h5.8v5.8h-5.8zM1058.6 451.6h5.8v5.8h-5.8zM1053.1 448.3h5.8v5.8h-5.8zM1052.5 451.6h5.8v5.8h-5.8zM1045.2 457.3h5.8v5.8h-5.8zM1039.2 453.6h5.8v5.8h-5.8zM1033.1 443.1h5.8v5.8h-5.8zM1036.0 440.3h5.8v5.8h-5.8zM1032.8 429.4h5.8v5.8h-5.8zM1035.2 421.8h5.8v5.8h-5.8zM1043.7 409.4h5.8v5.8h-5.8zM1037.0 405.0h5.8v5.8h-5.8zM1034.7 399.6h5.8v5.8h-5.8zM1032.2 379.9h5.8v5.8h-5.8zM1029.0 374.5h5.8v5.8h-5.8zM1033.1 359.5h5.8v5.8h-5.8zM1037.1 351.8h5.8v5.8h-5.8zM1034.1 347.5h5.8v5.8h-5.8zM1036.6 341.8h5.8v5.8h-5.8zM1040.8 332.0h5.8v5.8h-5.8zM1038.0 325.9h5.8v5.8h-5.8zM1037.1 324.9h5.8v5.8h-5.8zM1033.4 317.0h5.8v5.8h-5.8zM1034.6 312.1h5.8v5.8h-5.8zM1036.2 308.5h5.8v5.8h-5.8zM1034.4 304.5h5.8v5.8h-5.8zM1035.0 297.2h5.8v5.8h-5.8zM1036.8 294.4h5.8v5.8h-5.8zM1037.4 288.7h5.8v5.8h-5.8zM1039.4 284.5h5.8v5.8h-5.8zM1037.9 280.0h5.8v5.8h-5.8zM1040.9 272.4h5.8v5.8h-5.8zM1039.0 260.7h5.8v5.8h-5.8zM1045.9 245.2h5.8v5.8h-5.8zM1038.3 234.0h5.8v5.8h-5.8zM1048.1 229.8h5.8v5.8h-5.8zM1032.9 222.0h5.8v5.8h-5.8zM1050.4 217.1h5.8v5.8h-5.8zM1043.1 210.6h5.8v5.8h-5.8zM1036.7 208.4h5.8v5.8h-5.8zM1190.4 217.7h5.8v5.8h-5.8zM1194.6 216.9h5.8v5.8h-5.8zM1188.8 220.6h5.8v5.8h-5.8zM1204.9 221.2h5.8v5.8h-5.8zM1191.5 225.5h5.8v5.8h-5.8zM1194.5 224.3h5.8v5.8h-5.8zM1202.4 224.8h5.8v5.8h-5.8zM1208.9 224.9h5.8v5.8h-5.8zM1212.2 224.3h5.8v5.8h-5.8zM1186.7 229.2h5.8v5.8h-5.8zM1190.9 229.2h5.8v5.8h-5.8zM1193.8 230.4h5.8v5.8h-5.8zM1207.5 228.9h5.8v5.8h-5.8zM1212.2 230.9h5.8v5.8h-5.8zM1185.8 233.6h5.8v5.8h-5.8zM1188.8 233.4h5.8v5.8h-5.8zM1197.6 235.2h5.8v5.8h-5.8zM1203.0 234.8h5.8v5.8h-5.8zM1213.0 233.2h5.8v5.8h-5.8zM1184.4 238.8h5.8v5.8h-5.8zM1194.2 239.9h5.8v5.8h-5.8zM1208.7 238.0h5.8v5.8h-5.8zM1212.0 238.0h5.8v5.8h-5.8zM1215.8 240.5h5.8v5.8h-5.8zM1185.1 244.1h5.8v5.8h-5.8zM1202.8 243.3h5.8v5.8h-5.8zM1208.3 242.8h5.8v5.8h-5.8zM1218.3 244.9h5.8v5.8h-5.8zM1184.3 249.6h5.8v5.8h-5.8zM1193.3 248.9h5.8v5.8h-5.8zM1198.9 249.5h5.8v5.8h-5.8zM1213.1 248.4h5.8v5.8h-5.8zM1222.8 247.1h5.8v5.8h-5.8zM1186.1 253.3h5.8v5.8h-5.8zM1193.8 252.7h5.8v5.8h-5.8zM1208.6 251.7h5.8v5.8h-5.8zM1211.6 252.6h5.8v5.8h-5.8zM1217.5 252.0h5.8v5.8h-5.8zM1221.1 252.0h5.8v5.8h-5.8zM1227.6 252.9h5.8v5.8h-5.8zM1199.0 256.4h5.8v5.8h-5.8zM1204.8 257.0h5.8v5.8h-5.8zM1216.1 257.7h5.8v5.8h-5.8zM1184.5 262.1h5.8v5.8h-5.8zM1195.5 262.6h5.8v5.8h-5.8zM1199.5 260.4h5.8v5.8h-5.8zM1202.5 261.8h5.8v5.8h-5.8zM1208.1 262.0h5.8v5.8h-5.8zM1216.0 261.1h5.8v5.8h-5.8zM1221.1 260.7h5.8v5.8h-5.8zM1184.1 265.3h5.8v5.8h-5.8zM1197.7 265.6h5.8v5.8h-5.8zM1206.9 266.0h5.8v5.8h-5.8zM1213.8 267.1h5.8v5.8h-5.8zM1218.2 267.5h5.8v5.8h-5.8zM1184.8 270.5h5.8v5.8h-5.8zM1191.1 270.3h5.8v5.8h-5.8zM1200.5 270.1h5.8v5.8h-5.8zM1218.4 269.6h5.8v5.8h-5.8zM1222.7 269.6h5.8v5.8h-5.8zM1227.2 271.9h5.8v5.8h-5.8zM1189.7 275.8h5.8v5.8h-5.8zM1197.8 274.0h5.8v5.8h-5.8zM1202.2 275.8h5.8v5.8h-5.8zM1208.2 274.4h5.8v5.8h-5.8zM1213.2 276.2h5.8v5.8h-5.8zM1222.6 274.5h5.8v5.8h-5.8zM1195.8 279.3h5.8v5.8h-5.8zM1199.9 278.5h5.8v5.8h-5.8zM1216.5 278.2h5.8v5.8h-5.8zM1221.4 279.9h5.8v5.8h-5.8zM1190.6 283.7h5.8v5.8h-5.8zM1195.0 283.9h5.8v5.8h-5.8zM1200.5 284.3h5.8v5.8h-5.8zM1203.7 285.4h5.8v5.8h-5.8zM1208.7 285.5h5.8v5.8h-5.8zM1218.0 284.2h5.8v5.8h-5.8zM1222.2 285.2h5.8v5.8h-5.8zM1200.6 289.7h5.8v5.8h-5.8zM1203.7 289.6h5.8v5.8h-5.8zM1211.7 288.6h5.8v5.8h-5.8z"/><path fill="#f82a2c" d="M1042.7 193.9h5.8v5.8h-5.8zM1048.2 199.4h5.8v5.8h-5.8zM1048.2 204.9h5.8v5.8h-5.8zM1048.2 210.4h5.8v5.8h-5.8zM1053.7 215.9h5.8v5.8h-5.8zM1053.7 210.4h5.8v5.8h-5.8zM1051.4 203.0h5.8v5.8h-5.8zM1056.9 203.0h5.8v5.8h-5.8zM1062.4 203.0h5.8v5.8h-5.8zM1062.2 202.9h5.8v5.8h-5.8zM1062.2 208.4h5.8v5.8h-5.8zM1067.7 213.9h5.8v5.8h-5.8zM1038.7 196.2h5.8v5.8h-5.8zM1038.7 190.7h5.8v5.8h-5.8zM1033.2 190.7h5.8v5.8h-5.8zM1038.7 190.7h5.8v5.8h-5.8zM1044.2 196.2h5.8v5.8h-5.8zM1054.8 191.9h5.8v5.8h-5.8zM1060.3 197.4h5.8v5.8h-5.8zM1065.8 202.9h5.8v5.8h-5.8zM1060.3 202.9h5.8v5.8h-5.8zM1054.8 202.9h5.8v5.8h-5.8zM1061.3 184.0h5.8v5.8h-5.8zM1066.8 184.0h5.8v5.8h-5.8zM1066.8 189.5h5.8v5.8h-5.8zM1072.3 195.0h5.8v5.8h-5.8zM1072.3 189.5h5.8v5.8h-5.8zM1048.9 189.4h5.8v5.8h-5.8zM1043.4 194.9h5.8v5.8h-5.8zM1043.4 200.4h5.8v5.8h-5.8zM1037.9 200.4h5.8v5.8h-5.8zM1055.7 202.4h5.8v5.8h-5.8zM1050.2 207.9h5.8v5.8h-5.8zM1050.2 213.4h5.8v5.8h-5.8zM1044.7 213.4h5.8v5.8h-5.8zM1050.2 218.9h5.8v5.8h-5.8zM1164.0 189.8h5.8v5.8h-5.8zM1169.5 195.3h5.8v5.8h-5.8zM1164.0 195.3h5.8v5.8h-5.8zM1158.5 200.8h5.8v5.8h-5.8zM1132.7 232.4h5.8v5.8h-5.8zM1132.7 226.9h5.8v5.8h-5.8zM1137.2 222.0h5.8v5.8h-5.8zM1137.2 216.5h5.8v5.8h-5.8zM1131.7 216.5h5.8v5.8h-5.8zM1125.1 186.3h5.8v5.8h-5.8zM1119.6 191.8h5.8v5.8h-5.8zM1114.1 191.8h5.8v5.8h-5.8zM1108.6 191.8h5.8v5.8h-5.8zM1114.1 191.8h5.8v5.8h-5.8zM1164.0 230.9h5.8v5.8h-5.8zM1169.5 230.9h5.8v5.8h-5.8zM1164.0 230.9h5.8v5.8h-5.8zM1164.0 236.4h5.8v5.8h-5.8zM1172.2 230.8h5.8v5.8h-5.8zM1166.7 236.3h5.8v5.8h-5.8zM1161.2 236.3h5.8v5.8h-5.8zM1161.2 241.8h5.8v5.8h-5.8zM1155.0 193.3h5.8v5.8h-5.8zM1160.5 193.3h5.8v5.8h-5.8zM1160.5 198.8h5.8v5.8h-5.8zM1166.0 198.8h5.8v5.8h-5.8zM1166.1 213.2h5.8v5.8h-5.8zM1171.6 213.2h5.8v5.8h-5.8zM1131.1 199.9h5.8v5.8h-5.8zM1131.1 194.4h5.8v5.8h-5.8zM1136.6 194.4h5.8v5.8h-5.8zM1142.1 194.4h5.8v5.8h-5.8zM1153.7 228.3h5.8v5.8h-5.8zM1159.2 233.8h5.8v5.8h-5.8zM1171.5 207.1h5.8v5.8h-5.8zM1166.0 207.1h5.8v5.8h-5.8zM1166.0 212.6h5.8v5.8h-5.8zM1160.5 212.6h5.8v5.8h-5.8zM1165.4 219.6h5.8v5.8h-5.8zM1159.9 219.6h5.8v5.8h-5.8zM1154.4 219.6h5.8v5.8h-5.8zM1141.8 225.3h5.8v5.8h-5.8zM1147.3 230.8h5.8v5.8h-5.8zM1152.8 236.3h5.8v5.8h-5.8zM1158.3 241.8h5.8v5.8h-5.8zM1158.3 236.3h5.8v5.8h-5.8zM1154.3 216.5h5.8v5.8h-5.8zM1154.3 211.0h5.8v5.8h-5.8zM1183.8 248.1h5.8v5.8h-5.8zM1183.8 253.6h5.8v5.8h-5.8zM1202.1 227.0h5.8v5.8h-5.8zM1196.6 232.5h5.8v5.8h-5.8zM1187.4 266.7h5.8v5.8h-5.8zM1192.9 272.2h5.8v5.8h-5.8zM1187.4 272.2h5.8v5.8h-5.8zM1192.9 277.7h5.8v5.8h-5.8zM1192.9 283.2h5.8v5.8h-5.8zM1198.4 288.7h5.8v5.8h-5.8zM1197.5 238.5h5.8v5.8h-5.8zM1203.0 238.5h5.8v5.8h-5.8zM1203.0 233.0h5.8v5.8h-5.8zM1196.5 268.9h5.8v5.8h-5.8zM1191.0 274.4h5.8v5.8h-5.8zM1191.0 268.9h5.8v5.8h-5.8zM1196.5 274.4h5.8v5.8h-5.8zM1183.2 248.0h5.8v5.8h-5.8zM1188.7 253.5h5.8v5.8h-5.8zM1183.2 253.5h5.8v5.8h-5.8zM1177.7 259.0h5.8v5.8h-5.8zM1183.2 259.0h5.8v5.8h-5.8zM1188.7 264.5h5.8v5.8h-5.8zM1203.3 255.0h5.8v5.8h-5.8zM1203.3 249.5h5.8v5.8h-5.8zM1197.8 249.5h5.8v5.8h-5.8zM1191.6 249.5h5.8v5.8h-5.8zM1191.6 244.0h5.8v5.8h-5.8zM1186.1 249.5h5.8v5.8h-5.8zM1180.6 255.0h5.8v5.8h-5.8zM1180.6 249.5h5.8v5.8h-5.8zM1180.6 244.0h5.8v5.8h-5.8zM1220.7 269.1h5.8v5.8h-5.8zM1226.2 269.1h5.8v5.8h-5.8zM1231.7 274.6h5.8v5.8h-5.8zM1226.2 274.6h5.8v5.8h-5.8zM1231.7 274.6h5.8v5.8h-5.8zM1226.2 274.6h5.8v5.8h-5.8zM1216.1 278.8h5.8v5.8h-5.8zM1221.6 278.8h5.8v5.8h-5.8zM1227.1 278.8h5.8v5.8h-5.8zM1221.6 284.3h5.8v5.8h-5.8zM1196.4 262.6h5.8v5.8h-5.8zM1196.4 268.1h5.8v5.8h-5.8zM1201.9 268.1h5.8v5.8h-5.8zM1201.9 262.6h5.8v5.8h-5.8zM1196.4 262.6h5.8v5.8h-5.8zM1193.3 252.0h5.8v5.8h-5.8zM1193.3 246.5h5.8v5.8h-5.8zM1193.3 252.0h5.8v5.8h-5.8zM1198.8 252.0h5.8v5.8h-5.8zM1210.4 252.8h5.8v5.8h-5.8zM1204.9 258.3h5.8v5.8h-5.8zM1210.4 258.3h5.8v5.8h-5.8zM1204.9 263.8h5.8v5.8h-5.8zM1210.4 269.3h5.8v5.8h-5.8zM1207.6 237.5h5.8v5.8h-5.8zM1207.6 243.0h5.8v5.8h-5.8zM1213.1 248.5h5.8v5.8h-5.8zM1218.6 254.0h5.8v5.8h-5.8zM1224.1 254.0h5.8v5.8h-5.8zM1122.4 300.7h5.8v5.8h-5.8zM1116.9 306.2h5.8v5.8h-5.8zM1116.9 300.7h5.8v5.8h-5.8zM1091.5 303.6h5.8v5.8h-5.8zM1086.0 303.6h5.8v5.8h-5.8zM1147.0 340.0h5.8v5.8h-5.8zM1141.5 340.0h5.8v5.8h-5.8zM1136.0 340.0h5.8v5.8h-5.8zM1141.5 340.0h5.8v5.8h-5.8zM1159.2 335.2h5.8v5.8h-5.8zM1153.7 340.7h5.8v5.8h-5.8zM1159.2 340.7h5.8v5.8h-5.8zM1164.7 340.7h5.8v5.8h-5.8zM1159.2 346.2h5.8v5.8h-5.8zM1147.0 329.8h5.8v5.8h-5.8zM1152.5 329.8h5.8v5.8h-5.8zM1147.0 329.8h5.8v5.8h-5.8zM1147.0 335.3h5.8v5.8h-5.8zM1147.0 340.8h5.8v5.8h-5.8zM1137.6 291.9h5.8v5.8h-5.8zM1137.6 297.4h5.8v5.8h-5.8zM1132.1 302.9h5.8v5.8h-5.8zM1137.6 308.4h5.8v5.8h-5.8zM1137.6 302.9h5.8v5.8h-5.8zM1105.3 297.6h5.8v5.8h-5.8zM1105.3 292.1h5.8v5.8h-5.8zM1131.9 324.4h5.8v5.8h-5.8zM1126.4 329.9h5.8v5.8h-5.8zM1122.3 334.9h5.8v5.8h-5.8zM1122.3 329.4h5.8v5.8h-5.8zM1127.8 334.9h5.8v5.8h-5.8zM1030.3 308.9h5.8v5.8h-5.8zM1037.8 274.5h5.8v5.8h-5.8zM1037.8 280.0h5.8v5.8h-5.8zM1037.8 274.5h5.8v5.8h-5.8zM1039.7 338.0h5.8v5.8h-5.8zM1045.2 343.5h5.8v5.8h-5.8zM1039.7 349.0h5.8v5.8h-5.8zM1034.7 290.8h5.8v5.8h-5.8zM1034.7 285.3h5.8v5.8h-5.8zM1039.9 353.4h5.8v5.8h-5.8zM1030.5 305.8h5.8v5.8h-5.8zM1035.1 291.7h5.8v5.8h-5.8zM1029.6 291.7h5.8v5.8h-5.8zM1035.1 291.7h5.8v5.8h-5.8zM1039.5 266.4h5.8v5.8h-5.8zM1125.6 363.3h5.8v5.8h-5.8zM1125.6 368.8h5.8v5.8h-5.8zM1125.6 363.3h5.8v5.8h-5.8zM1131.1 363.3h5.8v5.8h-5.8zM1108.4 401.9h5.8v5.8h-5.8zM1102.9 401.9h5.8v5.8h-5.8zM1102.9 407.4h5.8v5.8h-5.8zM1102.9 401.9h5.8v5.8h-5.8zM1105.1 383.4h5.8v5.8h-5.8zM1110.6 383.4h5.8v5.8h-5.8zM1105.1 383.4h5.8v5.8h-5.8zM1110.6 383.4h5.8v5.8h-5.8zM1108.7 370.6h5.8v5.8h-5.8zM1108.7 365.1h5.8v5.8h-5.8zM1108.7 359.6h5.8v5.8h-5.8zM1107.7 362.5h5.8v5.8h-5.8zM1113.2 362.5h5.8v5.8h-5.8zM1118.7 368.0h5.8v5.8h-5.8zM1118.7 362.5h5.8v5.8h-5.8zM1071.5 461.4h5.8v5.8h-5.8zM1077.0 466.9h5.8v5.8h-5.8zM1061.9 457.0h5.8v5.8h-5.8zM1056.4 462.5h5.8v5.8h-5.8zM1079.5 460.6h5.8v5.8h-5.8zM1097.5 447.7h5.8v5.8h-5.8zM1090.5 440.5h5.8v5.8h-5.8zM1162.6 416.8h5.8v5.8h-5.8zM1075.3 89.9h5.8v5.8h-5.8zM1060.5 107.7h5.8v5.8h-5.8zM1103.9 115.6h5.8v5.8h-5.8zM1103.9 121.6h5.8v5.8h-5.8zM1134.6 113.7h5.8v5.8h-5.8zM1142.5 128.5h5.8v5.8h-5.8zM1040.7 131.4h5.8v5.8h-5.8zM1046.6 129.5h5.8v5.8h-5.8zM1052.5 127.5h5.8v5.8h-5.8zM1058.5 129.5h5.8v5.8h-5.8zM1086.1 128.5h5.8v5.8h-5.8zM1085.2 136.4h5.8v5.8h-5.8zM1100.0 141.3h5.8v5.8h-5.8zM1107.9 147.2h5.8v5.8h-5.8zM1064.4 148.2h5.8v5.8h-5.8zM1118.7 156.1h5.8v5.8h-5.8zM1142.5 152.2h5.8v5.8h-5.8zM1168.1 129.5h5.8v5.8h-5.8zM1183.0 128.5h5.8v5.8h-5.8zM1181.0 137.4h5.8v5.8h-5.8zM1175.1 141.3h5.8v5.8h-5.8zM1043.7 163.1h5.8v5.8h-5.8zM1072.3 171.0h5.8v5.8h-5.8zM1133.6 171.0h5.8v5.8h-5.8zM1219.5 159.1h5.8v5.8h-5.8zM1149.4 179.9h5.8v5.8h-5.8z"/><path fill="#00cdff" d="M1054.5 133.4h5.8v5.8h-5.8zM1070.3 130.5h5.8v5.8h-5.8zM1074.3 134.4h5.8v5.8h-5.8zM1123.7 125.5h5.8v5.8h-5.8zM1116.8 130.5h5.8v5.8h-5.8zM1109.9 136.4h5.8v5.8h-5.8zM1120.7 141.3h5.8v5.8h-5.8zM1125.7 143.3h5.8v5.8h-5.8zM1100.0 146.3h5.8v5.8h-5.8zM1090.1 151.2h5.8v5.8h-5.8zM1135.5 147.2h5.8v5.8h-5.8zM1169.1 136.4h5.8v5.8h-5.8zM1173.1 134.4h5.8v5.8h-5.8zM1171.1 150.2h5.8v5.8h-5.8zM1176.0 148.2h5.8v5.8h-5.8zM1167.2 156.1h5.8v5.8h-5.8zM1173.1 162.1h5.8v5.8h-5.8zM1171.1 170.0h5.8v5.8h-5.8zM1157.3 162.1h5.8v5.8h-5.8zM1155.3 168.0h5.8v5.8h-5.8zM1163.2 167.0h5.8v5.8h-5.8zM1119.7 164.0h5.8v5.8h-5.8zM1141.5 171.0h5.8v5.8h-5.8zM1070.3 162.1h5.8v5.8h-5.8zM1062.4 169.0h5.8v5.8h-5.8zM1044.6 169.0h5.8v5.8h-5.8zM1188.9 167.0h5.8v5.8h-5.8zM1192.8 171.9h5.8v5.8h-5.8zM1206.7 177.9h5.8v5.8h-5.8z"/><polyline points="1057.3,87.4 1129.8,78.5" fill="none" stroke="#1a1a1a" stroke-width="3"/><polyline points="1151.8,78.5 1247.2,100.3 1252.7,148.9 1210.5,176.4 1156.4,187.4 1036.2,176.4 1031.6,127.0" fill="none" stroke="#1a1a1a" stroke-width="3"/><polyline points="1031.6,128.7 1029.8,91.1 1057.3,87.4" fill="none" stroke="#c8c8c8" stroke-width="2.5"/><polygon points="1258.3,171.3 1342.3,208.7 1328.2,398.5 1293.6,417.6 1173.6,366.8 1186.3,244.7 1195.5,219.3 1208.9,193.9" fill="none" stroke="#1a1a1a" stroke-width="3" stroke-linejoin="miter"/><text x="933.5" y="114.8" font-family='"Liberation Sans", sans-serif' font-size="20.5" fill="#333">Non-Classical</text><text x="1301.0" y="448.5" font-family='"Liberation Sans", sans-serif' font-size="20.5" fill="#333">Classical</text></g><clipPath id="c3"><rect x="272" y="710.2" width="472" height="472"/></clipPath><g clip-path="url(#c3)"><path fill="#00cdff" d="M455.6 782.5h5.8v5.8h-5.8zM485.9 780.4h5.8v5.8h-5.8zM492.8 780.5h5.8v5.8h-5.8zM551.9 780.2h5.8v5.8h-5.8zM561.5 780.6h5.8v5.8h-5.8zM568.7 782.4h5.8v5.8h-5.8zM586.5 779.5h5.8v5.8h-5.8zM593.5 781.5h5.8v5.8h-5.8zM599.1 780.8h5.8v5.8h-5.8zM610.7 779.7h5.8v5.8h-5.8zM466.6 788.6h5.8v5.8h-5.8zM474.0 788.7h5.8v5.8h-5.8zM515.5 788.0h5.8v5.8h-5.8zM520.0 788.3h5.8v5.8h-5.8zM544.2 785.7h5.8v5.8h-5.8zM558.5 788.7h5.8v5.8h-5.8zM569.5 785.9h5.8v5.8h-5.8zM581.1 785.6h5.8v5.8h-5.8zM586.1 787.0h5.8v5.8h-5.8zM435.5 791.8h5.8v5.8h-5.8zM459.8 793.6h5.8v5.8h-5.8zM472.5 792.9h5.8v5.8h-5.8zM513.8 794.3h5.8v5.8h-5.8zM564.7 792.8h5.8v5.8h-5.8zM569.1 794.1h5.8v5.8h-5.8zM582.1 791.7h5.8v5.8h-5.8zM610.0 794.3h5.8v5.8h-5.8zM437.4 800.1h5.8v5.8h-5.8zM442.9 797.8h5.8v5.8h-5.8zM456.3 799.3h5.8v5.8h-5.8zM472.9 797.9h5.8v5.8h-5.8zM521.1 797.9h5.8v5.8h-5.8zM558.6 797.5h5.8v5.8h-5.8zM562.4 797.8h5.8v5.8h-5.8zM438.7 804.9h5.8v5.8h-5.8zM459.4 806.2h5.8v5.8h-5.8zM467.6 803.6h5.8v5.8h-5.8zM503.0 806.9h5.8v5.8h-5.8zM528.3 806.7h5.8v5.8h-5.8zM537.8 805.6h5.8v5.8h-5.8zM561.3 803.7h5.8v5.8h-5.8zM574.2 804.0h5.8v5.8h-5.8zM593.1 803.9h5.8v5.8h-5.8zM604.2 805.4h5.8v5.8h-5.8zM437.5 812.0h5.8v5.8h-5.8zM456.3 811.8h5.8v5.8h-5.8zM468.3 811.0h5.8v5.8h-5.8zM472.2 809.7h5.8v5.8h-5.8zM485.6 810.2h5.8v5.8h-5.8zM490.6 812.3h5.8v5.8h-5.8zM496.7 810.5h5.8v5.8h-5.8zM543.5 811.2h5.8v5.8h-5.8zM550.6 811.2h5.8v5.8h-5.8zM575.4 811.0h5.8v5.8h-5.8zM611.4 810.2h5.8v5.8h-5.8zM435.6 816.9h5.8v5.8h-5.8zM456.7 816.0h5.8v5.8h-5.8zM468.7 818.6h5.8v5.8h-5.8zM510.6 816.8h5.8v5.8h-5.8zM534.2 816.9h5.8v5.8h-5.8zM549.7 818.9h5.8v5.8h-5.8zM563.1 818.8h5.8v5.8h-5.8zM570.6 818.9h5.8v5.8h-5.8zM574.0 815.8h5.8v5.8h-5.8zM579.3 816.1h5.8v5.8h-5.8zM612.1 816.2h5.8v5.8h-5.8zM436.2 821.8h5.8v5.8h-5.8zM456.3 822.5h5.8v5.8h-5.8zM465.5 824.8h5.8v5.8h-5.8zM471.3 824.6h5.8v5.8h-5.8zM485.6 822.5h5.8v5.8h-5.8zM531.5 821.5h5.8v5.8h-5.8zM585.8 822.0h5.8v5.8h-5.8zM600.9 822.2h5.8v5.8h-5.8zM612.8 821.6h5.8v5.8h-5.8zM617.8 823.0h5.8v5.8h-5.8zM455.3 828.0h5.8v5.8h-5.8zM484.0 829.9h5.8v5.8h-5.8zM495.7 829.9h5.8v5.8h-5.8zM504.7 829.2h5.8v5.8h-5.8zM508.5 829.5h5.8v5.8h-5.8zM527.5 829.4h5.8v5.8h-5.8zM539.2 829.4h5.8v5.8h-5.8zM555.9 830.7h5.8v5.8h-5.8zM573.3 830.4h5.8v5.8h-5.8zM582.4 827.3h5.8v5.8h-5.8zM600.4 829.9h5.8v5.8h-5.8zM616.7 828.5h5.8v5.8h-5.8zM438.5 833.9h5.8v5.8h-5.8zM491.1 835.9h5.8v5.8h-5.8zM507.7 836.2h5.8v5.8h-5.8zM520.9 833.9h5.8v5.8h-5.8zM558.4 833.7h5.8v5.8h-5.8zM568.8 836.5h5.8v5.8h-5.8zM574.7 835.2h5.8v5.8h-5.8zM581.2 834.4h5.8v5.8h-5.8zM609.4 834.8h5.8v5.8h-5.8z"/><path fill="#f82a2c" d="M557.3 775.3h5.8v5.8h-5.8zM514.2 779.7h5.8v5.8h-5.8zM617.6 779.7h5.8v5.8h-5.8zM540.6 788.6h5.8v5.8h-5.8zM580.8 788.1h5.8v5.8h-5.8zM599.8 785.6h5.8v5.8h-5.8zM438.2 793.9h5.8v5.8h-5.8zM545.9 794.0h5.8v5.8h-5.8zM549.8 793.9h5.8v5.8h-5.8zM477.9 799.6h5.8v5.8h-5.8zM450.7 805.2h5.8v5.8h-5.8zM538.5 804.6h5.8v5.8h-5.8zM592.0 806.4h5.8v5.8h-5.8zM456.9 811.4h5.8v5.8h-5.8zM484.1 809.5h5.8v5.8h-5.8zM574.4 812.7h5.8v5.8h-5.8zM492.1 818.7h5.8v5.8h-5.8zM444.3 823.1h5.8v5.8h-5.8zM449.5 823.6h5.8v5.8h-5.8zM474.5 823.7h5.8v5.8h-5.8zM561.6 822.7h5.8v5.8h-5.8zM597.4 823.9h5.8v5.8h-5.8zM544.3 830.0h5.8v5.8h-5.8zM556.1 830.8h5.8v5.8h-5.8zM489.3 834.2h5.8v5.8h-5.8zM528.0 834.9h5.8v5.8h-5.8zM545.2 836.5h5.8v5.8h-5.8zM579.7 834.3h5.8v5.8h-5.8zM604.3 834.3h5.8v5.8h-5.8zM612.1 836.1h5.8v5.8h-5.8zM624.1 967.1h5.8v5.8h-5.8zM549.1 963.1h5.8v5.8h-5.8zM587.1 950.1h5.8v5.8h-5.8zM590.1 944.1h5.8v5.8h-5.8zM628.1 919.1h5.8v5.8h-5.8zM626.1 900.1h5.8v5.8h-5.8zM629.1 864.1h5.8v5.8h-5.8zM617.1 887.1h5.8v5.8h-5.8zM557.1 972.1h5.8v5.8h-5.8zM563.1 965.1h5.8v5.8h-5.8z"/><path fill="#00cdff" d="M609.1 931.1h5.8v5.8h-5.8zM605.1 945.1h5.8v5.8h-5.8zM578.1 949.1h5.8v5.8h-5.8zM542.1 982.1h5.8v5.8h-5.8zM430.3 934.3h5.8v5.8h-5.8zM437.2 933.3h5.8v5.8h-5.8zM443.6 934.5h5.8v5.8h-5.8zM449.3 932.3h5.8v5.8h-5.8zM429.7 939.2h5.8v5.8h-5.8zM454.6 939.4h5.8v5.8h-5.8zM460.1 940.6h5.8v5.8h-5.8zM431.0 945.8h5.8v5.8h-5.8zM450.8 946.0h5.8v5.8h-5.8zM453.9 944.8h5.8v5.8h-5.8zM462.5 943.3h5.8v5.8h-5.8zM432.2 950.9h5.8v5.8h-5.8zM438.8 950.8h5.8v5.8h-5.8zM448.2 951.3h5.8v5.8h-5.8zM455.4 951.8h5.8v5.8h-5.8zM425.7 956.3h5.8v5.8h-5.8zM432.4 958.4h5.8v5.8h-5.8zM435.6 958.0h5.8v5.8h-5.8zM443.8 957.6h5.8v5.8h-5.8zM430.8 961.9h5.8v5.8h-5.8zM443.0 962.4h5.8v5.8h-5.8zM449.1 963.6h5.8v5.8h-5.8zM453.8 963.4h5.8v5.8h-5.8zM426.8 968.0h5.8v5.8h-5.8zM435.4 967.9h5.8v5.8h-5.8zM455.8 970.5h5.8v5.8h-5.8zM462.3 967.9h5.8v5.8h-5.8zM426.2 976.5h5.8v5.8h-5.8zM437.7 975.3h5.8v5.8h-5.8zM454.3 974.1h5.8v5.8h-5.8zM462.0 974.7h5.8v5.8h-5.8zM423.9 981.9h5.8v5.8h-5.8zM430.6 979.9h5.8v5.8h-5.8zM454.3 980.3h5.8v5.8h-5.8zM430.8 987.4h5.8v5.8h-5.8zM436.6 986.0h5.8v5.8h-5.8zM442.2 985.9h5.8v5.8h-5.8zM462.5 988.1h5.8v5.8h-5.8zM420.0 993.1h5.8v5.8h-5.8zM442.1 993.6h5.8v5.8h-5.8zM454.6 994.9h5.8v5.8h-5.8zM425.7 997.9h5.8v5.8h-5.8zM430.2 999.5h5.8v5.8h-5.8zM456.3 997.5h5.8v5.8h-5.8zM461.3 1000.2h5.8v5.8h-5.8zM420.0 1005.6h5.8v5.8h-5.8zM432.8 1006.3h5.8v5.8h-5.8zM438.6 1005.7h5.8v5.8h-5.8zM453.8 1006.8h5.8v5.8h-5.8zM459.8 1004.1h5.8v5.8h-5.8zM425.5 1010.1h5.8v5.8h-5.8zM438.2 1011.5h5.8v5.8h-5.8zM447.7 1011.4h5.8v5.8h-5.8zM420.8 1016.9h5.8v5.8h-5.8zM430.7 1017.3h5.8v5.8h-5.8zM449.3 1015.7h5.8v5.8h-5.8zM462.5 1016.9h5.8v5.8h-5.8zM419.6 1021.6h5.8v5.8h-5.8zM431.1 1023.9h5.8v5.8h-5.8zM438.7 1021.4h5.8v5.8h-5.8zM443.6 1024.0h5.8v5.8h-5.8zM454.0 1022.2h5.8v5.8h-5.8zM418.2 1029.7h5.8v5.8h-5.8zM424.3 1029.8h5.8v5.8h-5.8zM430.5 1027.9h5.8v5.8h-5.8zM437.9 1027.7h5.8v5.8h-5.8zM442.8 1028.9h5.8v5.8h-5.8zM448.4 1028.5h5.8v5.8h-5.8zM460.6 1028.3h5.8v5.8h-5.8zM438.1 1033.4h5.8v5.8h-5.8zM443.4 1034.4h5.8v5.8h-5.8zM461.5 1034.2h5.8v5.8h-5.8zM411.7 1041.3h5.8v5.8h-5.8zM418.7 1042.0h5.8v5.8h-5.8zM431.2 1042.0h5.8v5.8h-5.8zM437.0 1041.5h5.8v5.8h-5.8zM455.0 1041.4h5.8v5.8h-5.8zM459.5 1041.1h5.8v5.8h-5.8zM413.4 1047.9h5.8v5.8h-5.8zM418.9 1046.4h5.8v5.8h-5.8zM425.9 1047.5h5.8v5.8h-5.8zM432.0 1048.7h5.8v5.8h-5.8zM436.4 1048.3h5.8v5.8h-5.8zM443.2 1046.5h5.8v5.8h-5.8zM454.2 1048.5h5.8v5.8h-5.8zM462.2 1045.8h5.8v5.8h-5.8zM466.5 1046.3h5.8v5.8h-5.8zM413.9 1054.4h5.8v5.8h-5.8zM420.4 1054.6h5.8v5.8h-5.8zM438.3 1051.3h5.8v5.8h-5.8zM447.8 1052.8h5.8v5.8h-5.8zM453.5 1051.9h5.8v5.8h-5.8zM462.3 1052.2h5.8v5.8h-5.8zM419.7 1060.3h5.8v5.8h-5.8zM423.5 1058.7h5.8v5.8h-5.8zM431.8 1057.6h5.8v5.8h-5.8zM443.5 1057.3h5.8v5.8h-5.8zM461.2 1060.2h5.8v5.8h-5.8zM411.9 1064.2h5.8v5.8h-5.8zM419.1 1065.1h5.8v5.8h-5.8zM424.7 1063.9h5.8v5.8h-5.8zM441.6 1063.4h5.8v5.8h-5.8zM447.9 1064.0h5.8v5.8h-5.8zM454.8 1065.0h5.8v5.8h-5.8zM413.0 1070.5h5.8v5.8h-5.8zM423.7 1072.4h5.8v5.8h-5.8zM429.5 1072.6h5.8v5.8h-5.8zM438.8 1069.8h5.8v5.8h-5.8zM443.5 1071.8h5.8v5.8h-5.8zM454.6 1070.7h5.8v5.8h-5.8zM414.4 1075.8h5.8v5.8h-5.8zM420.6 1077.6h5.8v5.8h-5.8zM424.7 1077.7h5.8v5.8h-5.8zM437.7 1075.8h5.8v5.8h-5.8zM444.8 1075.9h5.8v5.8h-5.8zM449.0 1078.7h5.8v5.8h-5.8zM454.0 1075.9h5.8v5.8h-5.8zM414.1 1084.1h5.8v5.8h-5.8zM426.0 1082.0h5.8v5.8h-5.8zM430.4 1082.0h5.8v5.8h-5.8zM442.6 1081.4h5.8v5.8h-5.8zM420.7 1087.8h5.8v5.8h-5.8zM437.8 1096.2h5.8v5.8h-5.8zM444.4 1095.7h5.8v5.8h-5.8z"/><path fill="#f82a2c" d="M430.9 932.2h5.8v5.8h-5.8zM450.1 937.6h5.8v5.8h-5.8zM441.7 963.0h5.8v5.8h-5.8zM426.4 968.8h5.8v5.8h-5.8zM425.2 979.9h5.8v5.8h-5.8zM460.7 979.9h5.8v5.8h-5.8zM453.7 987.8h5.8v5.8h-5.8zM432.0 991.5h5.8v5.8h-5.8zM444.8 993.0h5.8v5.8h-5.8zM454.2 993.8h5.8v5.8h-5.8zM420.0 997.9h5.8v5.8h-5.8zM436.2 997.6h5.8v5.8h-5.8zM441.7 998.7h5.8v5.8h-5.8zM418.5 1011.8h5.8v5.8h-5.8zM429.6 1011.9h5.8v5.8h-5.8zM429.7 1022.4h5.8v5.8h-5.8zM436.4 1030.4h5.8v5.8h-5.8zM462.7 1039.8h5.8v5.8h-5.8zM443.0 1048.4h5.8v5.8h-5.8zM417.4 1053.5h5.8v5.8h-5.8zM454.4 1053.4h5.8v5.8h-5.8zM454.2 1072.2h5.8v5.8h-5.8zM430.6 1075.8h5.8v5.8h-5.8zM454.3 1076.1h5.8v5.8h-5.8zM430.1 1083.2h5.8v5.8h-5.8zM448.5 1090.5h5.8v5.8h-5.8zM417.6 1094.7h5.8v5.8h-5.8zM438.7 1094.4h5.8v5.8h-5.8z"/><path fill="#00cdff" d="M369.3 1057.9h5.8v5.8h-5.8zM376.5 1055.4h5.8v5.8h-5.8zM380.3 1058.9h5.8v5.8h-5.8zM435.2 1056.6h5.8v5.8h-5.8zM370.4 1062.7h5.8v5.8h-5.8zM375.4 1061.5h5.8v5.8h-5.8zM406.5 1062.1h5.8v5.8h-5.8zM411.7 1062.1h5.8v5.8h-5.8zM415.5 1062.3h5.8v5.8h-5.8zM423.8 1064.6h5.8v5.8h-5.8zM368.4 1069.2h5.8v5.8h-5.8zM373.7 1069.4h5.8v5.8h-5.8zM403.8 1070.3h5.8v5.8h-5.8zM424.2 1068.9h5.8v5.8h-5.8zM427.4 1070.9h5.8v5.8h-5.8zM379.7 1075.8h5.8v5.8h-5.8zM403.4 1074.1h5.8v5.8h-5.8zM428.5 1074.2h5.8v5.8h-5.8zM387.6 1081.9h5.8v5.8h-5.8zM397.5 1079.4h5.8v5.8h-5.8zM410.2 1081.3h5.8v5.8h-5.8zM421.6 1081.2h5.8v5.8h-5.8zM370.8 1087.3h5.8v5.8h-5.8zM382.2 1094.8h5.8v5.8h-5.8zM412.7 1092.0h5.8v5.8h-5.8zM421.6 1094.0h5.8v5.8h-5.8zM533.1 838.8h5.8v5.8h-5.8zM539.7 836.8h5.8v5.8h-5.8zM554.4 835.9h5.8v5.8h-5.8zM561.9 835.7h5.8v5.8h-5.8zM531.4 842.7h5.8v5.8h-5.8zM544.6 844.6h5.8v5.8h-5.8zM554.8 842.6h5.8v5.8h-5.8zM563.8 844.1h5.8v5.8h-5.8zM584.4 842.6h5.8v5.8h-5.8zM593.2 841.3h5.8v5.8h-5.8zM536.4 849.5h5.8v5.8h-5.8zM561.7 847.4h5.8v5.8h-5.8zM579.0 849.2h5.8v5.8h-5.8zM598.3 849.8h5.8v5.8h-5.8zM533.8 854.7h5.8v5.8h-5.8zM555.9 855.0h5.8v5.8h-5.8zM562.0 854.4h5.8v5.8h-5.8zM598.6 856.1h5.8v5.8h-5.8zM532.7 861.0h5.8v5.8h-5.8zM537.3 862.1h5.8v5.8h-5.8zM568.6 861.1h5.8v5.8h-5.8zM592.8 860.1h5.8v5.8h-5.8zM599.0 862.2h5.8v5.8h-5.8zM539.7 867.7h5.8v5.8h-5.8zM562.5 867.5h5.8v5.8h-5.8zM575.8 866.0h5.8v5.8h-5.8zM584.7 865.6h5.8v5.8h-5.8zM597.3 868.0h5.8v5.8h-5.8zM533.7 874.3h5.8v5.8h-5.8zM538.8 874.3h5.8v5.8h-5.8zM556.3 872.2h5.8v5.8h-5.8zM563.0 872.4h5.8v5.8h-5.8zM568.3 873.9h5.8v5.8h-5.8zM573.4 874.5h5.8v5.8h-5.8zM587.0 872.2h5.8v5.8h-5.8zM593.8 874.8h5.8v5.8h-5.8zM596.5 873.8h5.8v5.8h-5.8zM531.0 878.5h5.8v5.8h-5.8zM544.5 879.2h5.8v5.8h-5.8zM549.9 879.6h5.8v5.8h-5.8zM556.5 877.4h5.8v5.8h-5.8zM560.9 878.5h5.8v5.8h-5.8zM568.2 877.8h5.8v5.8h-5.8zM599.7 879.4h5.8v5.8h-5.8zM604.4 879.2h5.8v5.8h-5.8zM539.6 885.3h5.8v5.8h-5.8zM542.5 884.0h5.8v5.8h-5.8zM556.4 885.5h5.8v5.8h-5.8zM560.3 883.4h5.8v5.8h-5.8zM598.9 885.2h5.8v5.8h-5.8zM532.8 892.5h5.8v5.8h-5.8zM550.3 890.6h5.8v5.8h-5.8zM556.3 889.4h5.8v5.8h-5.8zM562.9 892.3h5.8v5.8h-5.8zM585.2 891.2h5.8v5.8h-5.8zM593.0 891.1h5.8v5.8h-5.8zM599.7 890.4h5.8v5.8h-5.8zM543.5 898.8h5.8v5.8h-5.8zM556.1 897.3h5.8v5.8h-5.8zM568.1 895.5h5.8v5.8h-5.8zM585.1 898.1h5.8v5.8h-5.8zM598.6 896.7h5.8v5.8h-5.8zM604.9 895.8h5.8v5.8h-5.8zM531.0 903.8h5.8v5.8h-5.8zM539.7 901.3h5.8v5.8h-5.8zM544.7 901.6h5.8v5.8h-5.8zM556.4 901.6h5.8v5.8h-5.8zM562.7 904.6h5.8v5.8h-5.8zM575.0 901.6h5.8v5.8h-5.8zM586.6 901.5h5.8v5.8h-5.8zM592.2 903.3h5.8v5.8h-5.8zM603.6 902.6h5.8v5.8h-5.8zM530.8 910.5h5.8v5.8h-5.8zM536.6 908.0h5.8v5.8h-5.8zM543.1 908.9h5.8v5.8h-5.8zM555.3 910.2h5.8v5.8h-5.8zM569.1 908.3h5.8v5.8h-5.8zM586.6 908.8h5.8v5.8h-5.8zM539.4 914.6h5.8v5.8h-5.8zM544.4 916.6h5.8v5.8h-5.8zM587.2 915.3h5.8v5.8h-5.8zM591.4 914.1h5.8v5.8h-5.8zM530.8 922.1h5.8v5.8h-5.8zM550.5 919.8h5.8v5.8h-5.8zM554.9 922.4h5.8v5.8h-5.8zM566.7 920.8h5.8v5.8h-5.8zM581.3 921.8h5.8v5.8h-5.8zM587.7 919.4h5.8v5.8h-5.8zM531.5 926.5h5.8v5.8h-5.8zM551.8 928.6h5.8v5.8h-5.8zM557.3 928.2h5.8v5.8h-5.8zM563.7 928.2h5.8v5.8h-5.8zM568.6 926.0h5.8v5.8h-5.8zM574.2 927.6h5.8v5.8h-5.8zM581.7 926.8h5.8v5.8h-5.8z"/><path fill="#f82a2c" d="M537.7 836.9h5.8v5.8h-5.8zM555.2 838.7h5.8v5.8h-5.8zM537.5 848.6h5.8v5.8h-5.8zM580.2 850.6h5.8v5.8h-5.8zM587.4 848.2h5.8v5.8h-5.8zM556.5 853.9h5.8v5.8h-5.8zM599.7 855.6h5.8v5.8h-5.8zM537.8 862.3h5.8v5.8h-5.8zM542.9 860.2h5.8v5.8h-5.8zM585.6 860.0h5.8v5.8h-5.8zM538.8 866.7h5.8v5.8h-5.8zM580.5 868.6h5.8v5.8h-5.8zM532.2 873.5h5.8v5.8h-5.8zM551.6 872.9h5.8v5.8h-5.8zM567.5 872.9h5.8v5.8h-5.8zM599.8 874.7h5.8v5.8h-5.8zM566.6 879.7h5.8v5.8h-5.8zM574.7 879.1h5.8v5.8h-5.8zM538.3 884.1h5.8v5.8h-5.8zM562.6 885.4h5.8v5.8h-5.8zM568.3 883.9h5.8v5.8h-5.8zM572.7 885.9h5.8v5.8h-5.8zM578.4 885.5h5.8v5.8h-5.8zM597.6 886.1h5.8v5.8h-5.8zM532.1 889.8h5.8v5.8h-5.8zM537.5 889.6h5.8v5.8h-5.8zM544.9 892.1h5.8v5.8h-5.8zM566.8 889.6h5.8v5.8h-5.8zM593.1 892.3h5.8v5.8h-5.8zM599.7 890.2h5.8v5.8h-5.8zM532.1 896.9h5.8v5.8h-5.8zM556.2 897.1h5.8v5.8h-5.8zM532.3 901.8h5.8v5.8h-5.8zM543.2 903.3h5.8v5.8h-5.8zM560.6 902.9h5.8v5.8h-5.8zM566.9 901.6h5.8v5.8h-5.8zM579.3 903.3h5.8v5.8h-5.8zM539.1 908.5h5.8v5.8h-5.8zM543.9 916.6h5.8v5.8h-5.8zM580.7 914.6h5.8v5.8h-5.8zM568.4 921.4h5.8v5.8h-5.8zM580.9 921.6h5.8v5.8h-5.8zM536.4 925.3h5.8v5.8h-5.8z"/><polygon points="380.0,806.0 400.0,803.0 425.0,810.0 436.0,830.0 438.0,900.0 436.0,950.0 430.0,1000.0 426.0,1050.0 415.0,1070.0 395.0,1070.0 385.0,1040.0 381.0,980.0 379.0,880.0" fill="#00cdff"/><path fill="#00cdff" d="M399.8 801.5h5.8v5.8h-5.8zM406.1 806.0h5.8v5.8h-5.8zM410.4 806.1h5.8v5.8h-5.8zM413.0 807.8h5.8v5.8h-5.8zM417.1 809.6h5.8v5.8h-5.8zM417.8 812.9h5.8v5.8h-5.8zM431.7 825.4h5.8v5.8h-5.8zM429.2 831.9h5.8v5.8h-5.8zM427.9 837.7h5.8v5.8h-5.8zM429.9 850.5h5.8v5.8h-5.8zM431.9 861.3h5.8v5.8h-5.8zM433.5 880.1h5.8v5.8h-5.8zM435.2 884.0h5.8v5.8h-5.8zM433.6 890.3h5.8v5.8h-5.8zM426.7 895.0h5.8v5.8h-5.8zM428.3 900.9h5.8v5.8h-5.8zM429.5 906.3h5.8v5.8h-5.8zM435.7 911.1h5.8v5.8h-5.8zM428.8 913.3h5.8v5.8h-5.8zM429.7 928.2h5.8v5.8h-5.8zM429.6 935.7h5.8v5.8h-5.8zM424.4 939.8h5.8v5.8h-5.8zM427.7 946.1h5.8v5.8h-5.8zM428.3 955.4h5.8v5.8h-5.8zM423.3 957.4h5.8v5.8h-5.8zM417.8 963.9h5.8v5.8h-5.8zM429.0 969.6h5.8v5.8h-5.8zM430.6 981.2h5.8v5.8h-5.8zM422.9 984.5h5.8v5.8h-5.8zM425.2 994.9h5.8v5.8h-5.8zM421.3 1002.0h5.8v5.8h-5.8zM424.3 1012.7h5.8v5.8h-5.8zM415.8 1022.9h5.8v5.8h-5.8zM425.6 1036.4h5.8v5.8h-5.8zM419.2 1037.1h5.8v5.8h-5.8zM420.9 1043.0h5.8v5.8h-5.8zM416.3 1050.0h5.8v5.8h-5.8zM409.4 1057.2h5.8v5.8h-5.8zM407.6 1067.3h5.8v5.8h-5.8zM403.7 1064.6h5.8v5.8h-5.8zM397.3 1066.5h5.8v5.8h-5.8zM395.5 1063.0h5.8v5.8h-5.8zM393.3 1056.1h5.8v5.8h-5.8zM389.3 1056.8h5.8v5.8h-5.8zM386.7 1047.0h5.8v5.8h-5.8zM383.4 1036.3h5.8v5.8h-5.8zM386.4 1030.5h5.8v5.8h-5.8zM386.7 1026.6h5.8v5.8h-5.8zM389.7 1013.1h5.8v5.8h-5.8zM386.8 1007.9h5.8v5.8h-5.8zM379.7 1004.0h5.8v5.8h-5.8zM385.6 998.6h5.8v5.8h-5.8zM383.5 986.9h5.8v5.8h-5.8zM379.7 984.3h5.8v5.8h-5.8zM386.8 977.0h5.8v5.8h-5.8zM381.0 976.1h5.8v5.8h-5.8zM378.7 967.2h5.8v5.8h-5.8zM380.6 966.1h5.8v5.8h-5.8zM383.1 957.9h5.8v5.8h-5.8zM378.1 949.8h5.8v5.8h-5.8zM379.0 939.7h5.8v5.8h-5.8zM384.8 935.3h5.8v5.8h-5.8zM381.5 929.3h5.8v5.8h-5.8zM379.2 922.5h5.8v5.8h-5.8zM381.0 911.3h5.8v5.8h-5.8zM381.6 902.1h5.8v5.8h-5.8zM379.7 900.3h5.8v5.8h-5.8zM388.4 896.7h5.8v5.8h-5.8zM380.4 888.0h5.8v5.8h-5.8zM382.1 877.1h5.8v5.8h-5.8zM382.3 874.0h5.8v5.8h-5.8zM381.0 867.2h5.8v5.8h-5.8zM379.4 857.4h5.8v5.8h-5.8zM379.3 854.6h5.8v5.8h-5.8zM381.6 843.1h5.8v5.8h-5.8zM378.8 837.1h5.8v5.8h-5.8zM380.3 831.4h5.8v5.8h-5.8zM384.8 827.1h5.8v5.8h-5.8zM380.7 812.3h5.8v5.8h-5.8zM380.2 805.6h5.8v5.8h-5.8zM437.2 836.6h5.8v5.8h-5.8zM441.0 835.5h5.8v5.8h-5.8zM496.6 835.9h5.8v5.8h-5.8zM499.8 834.8h5.8v5.8h-5.8zM504.4 836.6h5.8v5.8h-5.8zM510.0 836.3h5.8v5.8h-5.8zM515.3 835.6h5.8v5.8h-5.8zM517.8 834.5h5.8v5.8h-5.8zM523.9 835.1h5.8v5.8h-5.8zM528.0 836.2h5.8v5.8h-5.8zM532.3 836.0h5.8v5.8h-5.8zM537.7 835.1h5.8v5.8h-5.8zM540.8 835.8h5.8v5.8h-5.8zM546.3 836.2h5.8v5.8h-5.8zM550.5 836.7h5.8v5.8h-5.8zM438.4 840.2h5.8v5.8h-5.8zM442.1 839.6h5.8v5.8h-5.8zM447.5 839.9h5.8v5.8h-5.8zM451.5 840.5h5.8v5.8h-5.8zM460.0 838.9h5.8v5.8h-5.8zM464.2 839.2h5.8v5.8h-5.8zM468.6 840.2h5.8v5.8h-5.8zM473.6 839.1h5.8v5.8h-5.8zM478.1 840.0h5.8v5.8h-5.8zM482.9 840.6h5.8v5.8h-5.8zM486.4 840.6h5.8v5.8h-5.8zM491.1 839.8h5.8v5.8h-5.8zM495.3 839.5h5.8v5.8h-5.8zM501.1 840.6h5.8v5.8h-5.8zM504.1 840.4h5.8v5.8h-5.8zM508.6 839.8h5.8v5.8h-5.8zM514.7 841.1h5.8v5.8h-5.8zM518.7 840.9h5.8v5.8h-5.8zM524.1 839.0h5.8v5.8h-5.8zM527.8 839.6h5.8v5.8h-5.8zM533.1 840.4h5.8v5.8h-5.8zM536.4 840.3h5.8v5.8h-5.8zM542.3 839.6h5.8v5.8h-5.8zM549.4 840.7h5.8v5.8h-5.8zM555.0 839.6h5.8v5.8h-5.8zM558.2 839.4h5.8v5.8h-5.8zM437.9 843.6h5.8v5.8h-5.8zM442.9 844.6h5.8v5.8h-5.8zM446.9 844.8h5.8v5.8h-5.8zM451.2 845.8h5.8v5.8h-5.8zM455.6 845.2h5.8v5.8h-5.8zM459.7 843.8h5.8v5.8h-5.8zM464.7 845.0h5.8v5.8h-5.8zM468.3 845.7h5.8v5.8h-5.8zM474.3 844.6h5.8v5.8h-5.8zM477.0 844.1h5.8v5.8h-5.8zM482.1 843.7h5.8v5.8h-5.8zM485.9 843.7h5.8v5.8h-5.8zM492.1 843.7h5.8v5.8h-5.8zM496.1 845.0h5.8v5.8h-5.8zM500.8 844.0h5.8v5.8h-5.8zM504.2 845.4h5.8v5.8h-5.8zM509.8 844.4h5.8v5.8h-5.8zM514.0 844.7h5.8v5.8h-5.8zM523.3 844.3h5.8v5.8h-5.8zM526.6 845.0h5.8v5.8h-5.8zM531.3 843.9h5.8v5.8h-5.8zM537.0 845.4h5.8v5.8h-5.8zM542.2 843.7h5.8v5.8h-5.8zM546.0 844.8h5.8v5.8h-5.8zM554.5 844.3h5.8v5.8h-5.8zM559.6 845.1h5.8v5.8h-5.8zM563.1 844.0h5.8v5.8h-5.8zM568.6 845.4h5.8v5.8h-5.8zM438.4 848.7h5.8v5.8h-5.8zM440.9 850.2h5.8v5.8h-5.8zM447.7 848.1h5.8v5.8h-5.8zM451.4 850.2h5.8v5.8h-5.8zM454.9 848.9h5.8v5.8h-5.8zM460.2 849.1h5.8v5.8h-5.8zM464.5 849.2h5.8v5.8h-5.8zM469.6 849.3h5.8v5.8h-5.8zM473.9 848.9h5.8v5.8h-5.8zM478.0 849.6h5.8v5.8h-5.8zM483.8 849.9h5.8v5.8h-5.8zM487.9 848.9h5.8v5.8h-5.8zM492.6 848.2h5.8v5.8h-5.8zM495.4 849.9h5.8v5.8h-5.8zM501.4 848.4h5.8v5.8h-5.8zM504.1 850.3h5.8v5.8h-5.8zM509.8 849.9h5.8v5.8h-5.8zM514.6 849.4h5.8v5.8h-5.8zM518.8 848.9h5.8v5.8h-5.8zM523.4 848.6h5.8v5.8h-5.8zM526.6 849.9h5.8v5.8h-5.8zM533.2 848.2h5.8v5.8h-5.8zM535.5 850.0h5.8v5.8h-5.8zM540.9 849.8h5.8v5.8h-5.8zM545.9 848.3h5.8v5.8h-5.8zM550.8 848.6h5.8v5.8h-5.8zM554.9 848.2h5.8v5.8h-5.8zM559.8 848.0h5.8v5.8h-5.8zM567.5 849.0h5.8v5.8h-5.8zM573.2 849.3h5.8v5.8h-5.8zM578.0 850.1h5.8v5.8h-5.8zM436.8 852.5h5.8v5.8h-5.8zM442.8 854.3h5.8v5.8h-5.8zM450.9 854.7h5.8v5.8h-5.8zM455.4 854.4h5.8v5.8h-5.8zM460.1 854.2h5.8v5.8h-5.8zM464.1 853.6h5.8v5.8h-5.8zM472.9 853.8h5.8v5.8h-5.8zM479.0 854.3h5.8v5.8h-5.8zM482.3 854.0h5.8v5.8h-5.8zM488.0 853.3h5.8v5.8h-5.8zM491.7 854.1h5.8v5.8h-5.8zM496.2 852.9h5.8v5.8h-5.8zM501.4 852.7h5.8v5.8h-5.8zM504.6 854.3h5.8v5.8h-5.8zM509.2 854.6h5.8v5.8h-5.8zM513.4 853.5h5.8v5.8h-5.8zM519.3 852.4h5.8v5.8h-5.8zM522.6 852.6h5.8v5.8h-5.8zM526.5 854.2h5.8v5.8h-5.8zM531.5 852.5h5.8v5.8h-5.8zM537.5 852.8h5.8v5.8h-5.8zM540.7 853.8h5.8v5.8h-5.8zM551.3 852.6h5.8v5.8h-5.8zM555.8 853.2h5.8v5.8h-5.8zM562.7 854.1h5.8v5.8h-5.8zM568.1 854.2h5.8v5.8h-5.8zM573.2 852.9h5.8v5.8h-5.8zM578.2 852.9h5.8v5.8h-5.8zM438.0 859.0h5.8v5.8h-5.8zM443.0 857.6h5.8v5.8h-5.8zM451.4 857.2h5.8v5.8h-5.8zM454.7 857.3h5.8v5.8h-5.8zM459.4 857.4h5.8v5.8h-5.8zM465.5 857.0h5.8v5.8h-5.8zM469.8 858.0h5.8v5.8h-5.8zM474.3 858.7h5.8v5.8h-5.8zM477.0 858.6h5.8v5.8h-5.8zM483.6 859.1h5.8v5.8h-5.8zM486.4 859.1h5.8v5.8h-5.8zM491.0 857.2h5.8v5.8h-5.8zM495.1 857.2h5.8v5.8h-5.8zM500.4 859.1h5.8v5.8h-5.8zM505.3 857.0h5.8v5.8h-5.8zM510.5 857.6h5.8v5.8h-5.8zM514.6 857.0h5.8v5.8h-5.8zM519.3 858.2h5.8v5.8h-5.8zM523.3 858.6h5.8v5.8h-5.8zM526.6 857.5h5.8v5.8h-5.8zM536.4 859.0h5.8v5.8h-5.8zM541.5 858.2h5.8v5.8h-5.8zM546.1 857.1h5.8v5.8h-5.8zM550.3 858.3h5.8v5.8h-5.8zM560.1 858.7h5.8v5.8h-5.8zM563.2 857.8h5.8v5.8h-5.8zM567.2 858.4h5.8v5.8h-5.8zM573.2 858.5h5.8v5.8h-5.8zM576.7 857.6h5.8v5.8h-5.8zM437.7 862.1h5.8v5.8h-5.8zM442.8 861.8h5.8v5.8h-5.8zM446.7 862.7h5.8v5.8h-5.8zM454.5 863.6h5.8v5.8h-5.8zM460.7 863.3h5.8v5.8h-5.8zM465.7 862.4h5.8v5.8h-5.8zM469.4 861.7h5.8v5.8h-5.8zM474.6 862.2h5.8v5.8h-5.8zM478.9 863.3h5.8v5.8h-5.8zM483.5 863.3h5.8v5.8h-5.8zM486.0 863.6h5.8v5.8h-5.8zM496.1 862.9h5.8v5.8h-5.8zM500.3 861.4h5.8v5.8h-5.8zM505.1 862.3h5.8v5.8h-5.8zM510.3 862.4h5.8v5.8h-5.8zM514.3 862.4h5.8v5.8h-5.8zM518.2 862.7h5.8v5.8h-5.8zM522.2 862.1h5.8v5.8h-5.8zM526.8 862.6h5.8v5.8h-5.8zM531.9 862.8h5.8v5.8h-5.8zM537.2 863.1h5.8v5.8h-5.8zM541.6 862.0h5.8v5.8h-5.8zM546.4 862.8h5.8v5.8h-5.8zM549.3 862.2h5.8v5.8h-5.8zM553.8 861.9h5.8v5.8h-5.8zM560.0 862.3h5.8v5.8h-5.8zM563.4 862.3h5.8v5.8h-5.8zM569.2 861.4h5.8v5.8h-5.8zM571.6 862.4h5.8v5.8h-5.8zM577.8 862.0h5.8v5.8h-5.8zM581.8 862.1h5.8v5.8h-5.8zM437.1 866.1h5.8v5.8h-5.8zM442.2 866.4h5.8v5.8h-5.8zM446.3 867.4h5.8v5.8h-5.8zM451.9 866.6h5.8v5.8h-5.8zM454.9 866.5h5.8v5.8h-5.8zM459.4 867.1h5.8v5.8h-5.8zM465.6 867.9h5.8v5.8h-5.8zM469.4 867.4h5.8v5.8h-5.8zM473.6 867.4h5.8v5.8h-5.8zM478.3 866.4h5.8v5.8h-5.8zM481.8 868.0h5.8v5.8h-5.8zM487.0 867.9h5.8v5.8h-5.8zM491.6 866.8h5.8v5.8h-5.8zM496.9 867.5h5.8v5.8h-5.8zM501.1 866.8h5.8v5.8h-5.8zM504.2 866.1h5.8v5.8h-5.8zM509.5 867.5h5.8v5.8h-5.8zM515.0 868.2h5.8v5.8h-5.8zM519.3 866.0h5.8v5.8h-5.8zM524.1 867.2h5.8v5.8h-5.8zM528.1 866.5h5.8v5.8h-5.8zM532.2 867.6h5.8v5.8h-5.8zM536.4 867.7h5.8v5.8h-5.8zM540.1 866.7h5.8v5.8h-5.8zM546.3 867.1h5.8v5.8h-5.8zM550.7 866.2h5.8v5.8h-5.8zM554.0 867.1h5.8v5.8h-5.8zM559.1 867.7h5.8v5.8h-5.8zM563.0 868.1h5.8v5.8h-5.8zM568.6 866.1h5.8v5.8h-5.8zM572.6 867.3h5.8v5.8h-5.8zM578.1 866.7h5.8v5.8h-5.8zM582.6 867.6h5.8v5.8h-5.8zM442.0 870.8h5.8v5.8h-5.8zM446.1 871.5h5.8v5.8h-5.8zM450.7 870.5h5.8v5.8h-5.8zM456.3 872.4h5.8v5.8h-5.8zM461.3 872.8h5.8v5.8h-5.8zM465.6 870.7h5.8v5.8h-5.8zM468.7 871.9h5.8v5.8h-5.8zM473.5 872.4h5.8v5.8h-5.8zM477.9 870.9h5.8v5.8h-5.8zM482.3 870.7h5.8v5.8h-5.8zM487.9 871.0h5.8v5.8h-5.8zM490.5 871.8h5.8v5.8h-5.8zM495.4 872.1h5.8v5.8h-5.8zM499.6 871.8h5.8v5.8h-5.8zM504.4 871.2h5.8v5.8h-5.8zM510.1 872.1h5.8v5.8h-5.8zM513.6 871.8h5.8v5.8h-5.8zM517.6 871.6h5.8v5.8h-5.8zM522.0 871.1h5.8v5.8h-5.8zM526.7 872.5h5.8v5.8h-5.8zM533.0 872.6h5.8v5.8h-5.8zM537.6 870.9h5.8v5.8h-5.8zM541.2 871.8h5.8v5.8h-5.8zM545.0 870.9h5.8v5.8h-5.8zM551.3 872.1h5.8v5.8h-5.8zM553.8 872.1h5.8v5.8h-5.8zM563.6 872.7h5.8v5.8h-5.8zM567.0 871.2h5.8v5.8h-5.8zM572.6 872.0h5.8v5.8h-5.8zM581.6 871.9h5.8v5.8h-5.8zM441.6 877.1h5.8v5.8h-5.8zM447.2 875.6h5.8v5.8h-5.8zM451.0 876.5h5.8v5.8h-5.8zM456.8 875.3h5.8v5.8h-5.8zM463.7 877.0h5.8v5.8h-5.8zM468.0 876.8h5.8v5.8h-5.8zM474.7 875.0h5.8v5.8h-5.8zM478.3 876.5h5.8v5.8h-5.8zM487.6 876.8h5.8v5.8h-5.8zM491.0 875.3h5.8v5.8h-5.8zM496.8 875.8h5.8v5.8h-5.8zM500.2 877.2h5.8v5.8h-5.8zM504.9 877.0h5.8v5.8h-5.8zM514.9 875.2h5.8v5.8h-5.8zM517.5 875.2h5.8v5.8h-5.8zM523.1 875.6h5.8v5.8h-5.8zM528.8 876.0h5.8v5.8h-5.8zM531.8 876.2h5.8v5.8h-5.8zM536.1 876.1h5.8v5.8h-5.8zM539.9 875.7h5.8v5.8h-5.8zM550.9 875.1h5.8v5.8h-5.8zM555.3 876.7h5.8v5.8h-5.8zM558.4 874.9h5.8v5.8h-5.8zM564.4 875.1h5.8v5.8h-5.8zM567.3 875.1h5.8v5.8h-5.8zM571.8 876.8h5.8v5.8h-5.8zM577.8 875.1h5.8v5.8h-5.8zM581.4 877.0h5.8v5.8h-5.8zM586.5 875.7h5.8v5.8h-5.8zM437.6 881.3h5.8v5.8h-5.8zM441.3 880.6h5.8v5.8h-5.8zM445.7 880.7h5.8v5.8h-5.8zM451.8 879.8h5.8v5.8h-5.8zM455.7 880.5h5.8v5.8h-5.8zM460.3 881.8h5.8v5.8h-5.8zM463.4 879.4h5.8v5.8h-5.8zM469.4 881.1h5.8v5.8h-5.8zM473.9 880.1h5.8v5.8h-5.8zM477.5 881.0h5.8v5.8h-5.8zM483.1 881.0h5.8v5.8h-5.8zM487.6 881.8h5.8v5.8h-5.8zM496.1 881.1h5.8v5.8h-5.8zM500.7 879.9h5.8v5.8h-5.8zM506.0 879.7h5.8v5.8h-5.8zM515.0 881.2h5.8v5.8h-5.8zM519.8 880.3h5.8v5.8h-5.8zM522.9 880.2h5.8v5.8h-5.8zM526.8 879.8h5.8v5.8h-5.8zM531.0 880.4h5.8v5.8h-5.8zM536.9 881.3h5.8v5.8h-5.8zM541.6 880.5h5.8v5.8h-5.8zM545.6 879.9h5.8v5.8h-5.8zM550.4 881.5h5.8v5.8h-5.8zM555.3 880.1h5.8v5.8h-5.8zM560.1 881.8h5.8v5.8h-5.8zM564.4 880.2h5.8v5.8h-5.8zM567.9 881.0h5.8v5.8h-5.8zM572.1 881.3h5.8v5.8h-5.8zM576.8 881.2h5.8v5.8h-5.8zM580.5 879.6h5.8v5.8h-5.8zM436.5 884.5h5.8v5.8h-5.8zM442.1 884.7h5.8v5.8h-5.8zM451.0 884.1h5.8v5.8h-5.8zM455.3 885.4h5.8v5.8h-5.8zM460.6 886.0h5.8v5.8h-5.8zM464.5 885.2h5.8v5.8h-5.8zM473.1 884.5h5.8v5.8h-5.8zM478.9 886.0h5.8v5.8h-5.8zM482.0 884.4h5.8v5.8h-5.8zM487.2 884.1h5.8v5.8h-5.8zM491.9 885.6h5.8v5.8h-5.8zM496.2 886.0h5.8v5.8h-5.8zM499.8 884.6h5.8v5.8h-5.8zM506.1 884.3h5.8v5.8h-5.8zM508.7 885.8h5.8v5.8h-5.8zM518.2 884.7h5.8v5.8h-5.8zM524.1 886.1h5.8v5.8h-5.8zM528.5 883.9h5.8v5.8h-5.8zM532.7 885.7h5.8v5.8h-5.8zM535.4 884.1h5.8v5.8h-5.8zM541.6 884.7h5.8v5.8h-5.8zM546.0 885.9h5.8v5.8h-5.8zM549.3 885.2h5.8v5.8h-5.8zM553.9 885.4h5.8v5.8h-5.8zM559.6 884.5h5.8v5.8h-5.8zM567.1 886.3h5.8v5.8h-5.8zM571.9 884.1h5.8v5.8h-5.8zM575.9 886.0h5.8v5.8h-5.8zM582.3 885.7h5.8v5.8h-5.8zM437.6 888.4h5.8v5.8h-5.8zM441.7 889.1h5.8v5.8h-5.8zM446.5 890.5h5.8v5.8h-5.8zM451.7 889.7h5.8v5.8h-5.8zM456.5 889.0h5.8v5.8h-5.8zM460.3 889.3h5.8v5.8h-5.8zM464.9 889.7h5.8v5.8h-5.8zM468.5 889.4h5.8v5.8h-5.8zM474.5 888.5h5.8v5.8h-5.8zM478.7 890.1h5.8v5.8h-5.8zM483.5 888.7h5.8v5.8h-5.8zM486.9 888.5h5.8v5.8h-5.8zM491.6 889.9h5.8v5.8h-5.8zM496.0 889.6h5.8v5.8h-5.8zM501.1 889.7h5.8v5.8h-5.8zM506.3 890.0h5.8v5.8h-5.8zM510.6 889.5h5.8v5.8h-5.8zM513.1 889.5h5.8v5.8h-5.8zM518.7 888.5h5.8v5.8h-5.8zM524.3 890.5h5.8v5.8h-5.8zM527.2 889.2h5.8v5.8h-5.8zM532.2 889.3h5.8v5.8h-5.8zM537.4 889.0h5.8v5.8h-5.8zM540.7 889.1h5.8v5.8h-5.8zM546.3 889.4h5.8v5.8h-5.8zM550.6 890.3h5.8v5.8h-5.8zM559.2 890.2h5.8v5.8h-5.8zM562.6 890.6h5.8v5.8h-5.8zM573.1 888.9h5.8v5.8h-5.8zM576.1 890.3h5.8v5.8h-5.8zM580.6 890.4h5.8v5.8h-5.8zM438.5 894.0h5.8v5.8h-5.8zM442.0 895.1h5.8v5.8h-5.8zM446.4 894.7h5.8v5.8h-5.8zM449.9 894.1h5.8v5.8h-5.8zM460.4 893.3h5.8v5.8h-5.8zM464.1 893.4h5.8v5.8h-5.8zM468.5 893.9h5.8v5.8h-5.8zM472.7 895.2h5.8v5.8h-5.8zM477.3 893.2h5.8v5.8h-5.8zM481.7 893.7h5.8v5.8h-5.8zM491.8 893.3h5.8v5.8h-5.8zM494.9 893.7h5.8v5.8h-5.8zM500.2 894.4h5.8v5.8h-5.8zM505.7 893.5h5.8v5.8h-5.8zM509.1 893.7h5.8v5.8h-5.8zM515.0 894.7h5.8v5.8h-5.8zM519.8 894.9h5.8v5.8h-5.8zM524.1 893.4h5.8v5.8h-5.8zM526.5 893.5h5.8v5.8h-5.8zM532.0 894.8h5.8v5.8h-5.8zM536.1 894.7h5.8v5.8h-5.8zM542.2 895.1h5.8v5.8h-5.8zM544.7 895.0h5.8v5.8h-5.8zM550.4 894.0h5.8v5.8h-5.8zM554.8 895.1h5.8v5.8h-5.8zM559.5 894.8h5.8v5.8h-5.8zM563.4 893.7h5.8v5.8h-5.8zM567.1 893.0h5.8v5.8h-5.8zM572.9 894.1h5.8v5.8h-5.8zM576.3 894.9h5.8v5.8h-5.8zM436.4 898.5h5.8v5.8h-5.8zM441.3 899.3h5.8v5.8h-5.8zM446.0 899.3h5.8v5.8h-5.8zM451.9 898.6h5.8v5.8h-5.8zM455.4 898.8h5.8v5.8h-5.8zM460.0 898.6h5.8v5.8h-5.8zM464.8 899.2h5.8v5.8h-5.8zM468.0 898.8h5.8v5.8h-5.8zM472.9 898.8h5.8v5.8h-5.8zM477.9 898.3h5.8v5.8h-5.8zM482.1 898.9h5.8v5.8h-5.8zM486.3 899.3h5.8v5.8h-5.8zM490.9 898.3h5.8v5.8h-5.8zM496.9 897.7h5.8v5.8h-5.8zM499.7 899.6h5.8v5.8h-5.8zM505.7 897.4h5.8v5.8h-5.8zM510.7 898.8h5.8v5.8h-5.8zM513.8 899.0h5.8v5.8h-5.8zM517.5 899.0h5.8v5.8h-5.8zM522.8 897.6h5.8v5.8h-5.8zM526.9 898.1h5.8v5.8h-5.8zM533.1 898.0h5.8v5.8h-5.8zM536.5 899.4h5.8v5.8h-5.8zM541.1 897.9h5.8v5.8h-5.8zM545.1 898.2h5.8v5.8h-5.8zM550.5 898.3h5.8v5.8h-5.8zM555.0 899.7h5.8v5.8h-5.8zM560.2 897.5h5.8v5.8h-5.8zM563.1 898.0h5.8v5.8h-5.8zM567.1 898.4h5.8v5.8h-5.8zM571.5 898.1h5.8v5.8h-5.8zM576.7 899.4h5.8v5.8h-5.8zM437.1 903.3h5.8v5.8h-5.8zM441.5 902.4h5.8v5.8h-5.8zM447.2 902.0h5.8v5.8h-5.8zM451.8 902.3h5.8v5.8h-5.8zM456.6 902.0h5.8v5.8h-5.8zM461.2 902.3h5.8v5.8h-5.8zM463.5 902.6h5.8v5.8h-5.8zM469.4 903.5h5.8v5.8h-5.8zM472.9 903.3h5.8v5.8h-5.8zM477.6 902.9h5.8v5.8h-5.8zM482.0 902.7h5.8v5.8h-5.8zM491.0 903.2h5.8v5.8h-5.8zM495.2 902.9h5.8v5.8h-5.8zM501.4 901.9h5.8v5.8h-5.8zM503.9 903.3h5.8v5.8h-5.8zM510.4 901.9h5.8v5.8h-5.8zM514.5 903.3h5.8v5.8h-5.8zM518.1 902.3h5.8v5.8h-5.8zM522.4 902.0h5.8v5.8h-5.8zM527.8 902.7h5.8v5.8h-5.8zM531.1 903.1h5.8v5.8h-5.8zM536.1 904.3h5.8v5.8h-5.8zM540.9 904.2h5.8v5.8h-5.8zM546.4 902.1h5.8v5.8h-5.8zM549.1 902.4h5.8v5.8h-5.8zM555.4 903.6h5.8v5.8h-5.8zM559.9 902.5h5.8v5.8h-5.8zM563.7 903.0h5.8v5.8h-5.8zM568.8 904.1h5.8v5.8h-5.8zM577.6 902.8h5.8v5.8h-5.8zM437.8 907.9h5.8v5.8h-5.8zM442.1 907.0h5.8v5.8h-5.8zM447.5 906.9h5.8v5.8h-5.8zM451.5 907.1h5.8v5.8h-5.8zM456.0 908.2h5.8v5.8h-5.8zM459.5 908.0h5.8v5.8h-5.8zM465.4 908.4h5.8v5.8h-5.8zM470.3 907.0h5.8v5.8h-5.8zM472.4 906.8h5.8v5.8h-5.8zM478.8 907.1h5.8v5.8h-5.8zM481.6 906.9h5.8v5.8h-5.8zM488.1 906.6h5.8v5.8h-5.8zM491.8 907.5h5.8v5.8h-5.8zM497.0 908.4h5.8v5.8h-5.8zM500.4 908.2h5.8v5.8h-5.8zM514.6 907.2h5.8v5.8h-5.8zM519.5 906.7h5.8v5.8h-5.8zM522.3 907.2h5.8v5.8h-5.8zM526.7 907.1h5.8v5.8h-5.8zM532.3 907.6h5.8v5.8h-5.8zM537.5 906.8h5.8v5.8h-5.8zM541.6 908.7h5.8v5.8h-5.8zM545.8 906.9h5.8v5.8h-5.8zM550.2 908.1h5.8v5.8h-5.8zM554.0 907.1h5.8v5.8h-5.8zM558.8 908.8h5.8v5.8h-5.8zM563.3 907.1h5.8v5.8h-5.8zM568.7 908.8h5.8v5.8h-5.8zM573.0 908.7h5.8v5.8h-5.8zM438.2 912.0h5.8v5.8h-5.8zM441.3 912.0h5.8v5.8h-5.8zM447.4 911.4h5.8v5.8h-5.8zM450.2 911.9h5.8v5.8h-5.8zM455.7 912.0h5.8v5.8h-5.8zM461.2 911.3h5.8v5.8h-5.8zM468.0 911.6h5.8v5.8h-5.8zM474.2 911.7h5.8v5.8h-5.8zM478.8 912.4h5.8v5.8h-5.8zM482.4 913.1h5.8v5.8h-5.8zM486.8 911.3h5.8v5.8h-5.8zM491.5 912.5h5.8v5.8h-5.8zM501.2 912.4h5.8v5.8h-5.8zM504.9 911.9h5.8v5.8h-5.8zM509.1 912.6h5.8v5.8h-5.8zM514.1 911.8h5.8v5.8h-5.8zM519.3 912.6h5.8v5.8h-5.8zM522.1 911.0h5.8v5.8h-5.8zM528.4 911.6h5.8v5.8h-5.8zM532.0 911.3h5.8v5.8h-5.8zM535.6 911.4h5.8v5.8h-5.8zM542.1 911.4h5.8v5.8h-5.8zM545.9 913.2h5.8v5.8h-5.8zM550.0 912.1h5.8v5.8h-5.8zM554.0 912.6h5.8v5.8h-5.8zM560.2 912.4h5.8v5.8h-5.8zM564.5 912.0h5.8v5.8h-5.8zM442.7 915.7h5.8v5.8h-5.8zM445.8 916.9h5.8v5.8h-5.8zM450.9 915.9h5.8v5.8h-5.8zM456.0 916.9h5.8v5.8h-5.8zM460.4 917.3h5.8v5.8h-5.8zM463.6 915.6h5.8v5.8h-5.8zM469.1 916.1h5.8v5.8h-5.8zM474.4 916.9h5.8v5.8h-5.8zM477.8 916.9h5.8v5.8h-5.8zM486.3 916.3h5.8v5.8h-5.8zM490.8 917.6h5.8v5.8h-5.8zM495.8 916.9h5.8v5.8h-5.8zM500.7 916.7h5.8v5.8h-5.8zM505.7 916.3h5.8v5.8h-5.8zM508.6 917.0h5.8v5.8h-5.8zM513.3 917.3h5.8v5.8h-5.8zM518.3 915.7h5.8v5.8h-5.8zM521.9 915.6h5.8v5.8h-5.8zM528.5 916.8h5.8v5.8h-5.8zM532.3 916.1h5.8v5.8h-5.8zM537.4 916.8h5.8v5.8h-5.8zM539.9 916.2h5.8v5.8h-5.8zM544.5 917.1h5.8v5.8h-5.8zM549.1 917.3h5.8v5.8h-5.8zM553.9 916.9h5.8v5.8h-5.8zM441.1 921.9h5.8v5.8h-5.8zM446.1 920.7h5.8v5.8h-5.8zM450.7 922.1h5.8v5.8h-5.8zM456.4 922.1h5.8v5.8h-5.8zM481.5 921.8h5.8v5.8h-5.8zM492.3 921.1h5.8v5.8h-5.8zM501.0 920.7h5.8v5.8h-5.8zM504.5 922.3h5.8v5.8h-5.8zM509.7 921.0h5.8v5.8h-5.8zM513.7 921.9h5.8v5.8h-5.8zM519.1 920.8h5.8v5.8h-5.8zM522.5 921.2h5.8v5.8h-5.8zM434.6 829.9h5.8v5.8h-5.8zM445.1 838.4h5.8v5.8h-5.8zM454.0 834.1h5.8v5.8h-5.8zM468.8 839.4h5.8v5.8h-5.8zM484.4 844.1h5.8v5.8h-5.8zM490.1 839.0h5.8v5.8h-5.8zM493.7 838.7h5.8v5.8h-5.8zM497.9 837.1h5.8v5.8h-5.8zM504.1 836.9h5.8v5.8h-5.8zM508.2 838.3h5.8v5.8h-5.8zM523.6 836.6h5.8v5.8h-5.8zM531.1 840.2h5.8v5.8h-5.8zM534.5 836.4h5.8v5.8h-5.8zM540.3 837.8h5.8v5.8h-5.8zM551.3 836.2h5.8v5.8h-5.8zM555.5 835.8h5.8v5.8h-5.8zM567.2 841.8h5.8v5.8h-5.8zM567.1 849.3h5.8v5.8h-5.8zM577.7 863.6h5.8v5.8h-5.8zM579.8 864.1h5.8v5.8h-5.8zM573.1 875.2h5.8v5.8h-5.8zM582.0 880.7h5.8v5.8h-5.8zM579.4 883.5h5.8v5.8h-5.8zM575.2 889.5h5.8v5.8h-5.8zM579.1 905.7h5.8v5.8h-5.8zM570.6 912.0h5.8v5.8h-5.8zM559.8 904.2h5.8v5.8h-5.8zM551.3 917.5h5.8v5.8h-5.8zM548.2 917.1h5.8v5.8h-5.8zM543.0 917.9h5.8v5.8h-5.8zM537.5 925.0h5.8v5.8h-5.8zM534.9 915.9h5.8v5.8h-5.8zM528.9 919.5h5.8v5.8h-5.8zM512.2 913.2h5.8v5.8h-5.8zM507.3 918.3h5.8v5.8h-5.8zM502.5 925.6h5.8v5.8h-5.8zM493.3 907.5h5.8v5.8h-5.8zM488.7 919.1h5.8v5.8h-5.8zM471.6 915.8h5.8v5.8h-5.8zM445.6 920.2h5.8v5.8h-5.8zM449.5 916.0h5.8v5.8h-5.8zM446.8 908.5h5.8v5.8h-5.8zM443.1 902.6h5.8v5.8h-5.8zM435.0 898.0h5.8v5.8h-5.8zM437.3 890.0h5.8v5.8h-5.8zM446.6 879.3h5.8v5.8h-5.8zM438.5 876.1h5.8v5.8h-5.8zM437.5 872.5h5.8v5.8h-5.8zM437.1 852.8h5.8v5.8h-5.8zM433.9 850.1h5.8v5.8h-5.8zM433.5 832.2h5.8v5.8h-5.8z"/><path fill="#f82a2c" d="M370.9 829.3h5.8v5.8h-5.8zM377.9 829.7h5.8v5.8h-5.8zM372.3 834.7h5.8v5.8h-5.8zM366.2 840.0h5.8v5.8h-5.8zM371.4 839.9h5.8v5.8h-5.8zM376.4 839.7h5.8v5.8h-5.8zM376.9 851.3h5.8v5.8h-5.8zM366.8 857.0h5.8v5.8h-5.8zM370.7 855.8h5.8v5.8h-5.8zM376.6 856.1h5.8v5.8h-5.8zM366.1 862.7h5.8v5.8h-5.8zM370.7 866.8h5.8v5.8h-5.8zM376.9 867.9h5.8v5.8h-5.8zM371.6 873.4h5.8v5.8h-5.8zM376.7 872.5h5.8v5.8h-5.8zM376.6 878.6h5.8v5.8h-5.8zM366.4 883.2h5.8v5.8h-5.8zM372.2 884.2h5.8v5.8h-5.8zM377.7 884.5h5.8v5.8h-5.8zM366.5 889.6h5.8v5.8h-5.8zM372.4 890.3h5.8v5.8h-5.8zM366.9 895.3h5.8v5.8h-5.8zM370.7 894.3h5.8v5.8h-5.8zM376.2 895.7h5.8v5.8h-5.8zM371.8 900.7h5.8v5.8h-5.8zM376.3 901.5h5.8v5.8h-5.8zM366.5 912.5h5.8v5.8h-5.8zM377.3 917.2h5.8v5.8h-5.8zM371.4 922.1h5.8v5.8h-5.8zM366.7 928.7h5.8v5.8h-5.8zM371.2 928.5h5.8v5.8h-5.8zM377.4 927.7h5.8v5.8h-5.8zM366.9 933.0h5.8v5.8h-5.8zM366.2 939.2h5.8v5.8h-5.8zM371.7 938.7h5.8v5.8h-5.8zM378.0 939.6h5.8v5.8h-5.8zM366.4 944.6h5.8v5.8h-5.8zM377.5 943.9h5.8v5.8h-5.8zM371.4 955.2h5.8v5.8h-5.8zM378.1 956.1h5.8v5.8h-5.8zM365.8 961.7h5.8v5.8h-5.8zM371.2 960.4h5.8v5.8h-5.8zM376.8 962.0h5.8v5.8h-5.8zM366.4 972.5h5.8v5.8h-5.8zM372.1 971.6h5.8v5.8h-5.8zM376.3 971.5h5.8v5.8h-5.8zM371.9 976.9h5.8v5.8h-5.8zM367.0 982.8h5.8v5.8h-5.8zM376.6 982.7h5.8v5.8h-5.8zM366.1 989.6h5.8v5.8h-5.8zM370.9 988.2h5.8v5.8h-5.8zM377.7 987.8h5.8v5.8h-5.8zM366.0 993.3h5.8v5.8h-5.8zM371.7 994.6h5.8v5.8h-5.8zM377.7 1000.5h5.8v5.8h-5.8zM367.0 1004.2h5.8v5.8h-5.8zM372.0 1004.3h5.8v5.8h-5.8zM378.0 1005.7h5.8v5.8h-5.8zM366.8 1009.8h5.8v5.8h-5.8zM372.4 1011.5h5.8v5.8h-5.8zM377.7 1011.3h5.8v5.8h-5.8zM366.0 1017.1h5.8v5.8h-5.8zM370.8 1016.6h5.8v5.8h-5.8zM377.1 1015.8h5.8v5.8h-5.8zM366.5 1021.0h5.8v5.8h-5.8zM370.8 1022.1h5.8v5.8h-5.8zM371.9 1026.9h5.8v5.8h-5.8zM376.8 1027.2h5.8v5.8h-5.8zM372.0 1032.9h5.8v5.8h-5.8zM378.1 1032.7h5.8v5.8h-5.8zM366.4 1037.6h5.8v5.8h-5.8zM376.1 1037.3h5.8v5.8h-5.8zM366.0 1043.2h5.8v5.8h-5.8zM371.1 1044.2h5.8v5.8h-5.8zM372.0 1048.4h5.8v5.8h-5.8zM377.7 1049.5h5.8v5.8h-5.8zM529.0 894.7h5.8v5.8h-5.8zM529.0 889.2h5.8v5.8h-5.8zM523.5 889.2h5.8v5.8h-5.8zM523.5 894.7h5.8v5.8h-5.8zM529.0 894.7h5.8v5.8h-5.8zM520.9 917.6h5.8v5.8h-5.8zM515.4 923.1h5.8v5.8h-5.8zM509.9 928.6h5.8v5.8h-5.8zM519.6 891.2h5.8v5.8h-5.8zM525.1 896.7h5.8v5.8h-5.8zM516.6 899.7h5.8v5.8h-5.8zM522.1 899.7h5.8v5.8h-5.8zM527.6 899.7h5.8v5.8h-5.8zM533.1 899.7h5.8v5.8h-5.8zM533.1 894.2h5.8v5.8h-5.8zM472.5 885.2h5.8v5.8h-5.8zM472.5 879.7h5.8v5.8h-5.8zM478.0 879.7h5.8v5.8h-5.8zM478.0 874.2h5.8v5.8h-5.8zM521.5 885.1h5.8v5.8h-5.8zM527.0 890.6h5.8v5.8h-5.8zM532.5 890.6h5.8v5.8h-5.8zM494.2 922.2h5.8v5.8h-5.8zM488.7 922.2h5.8v5.8h-5.8zM494.2 927.7h5.8v5.8h-5.8zM494.2 933.2h5.8v5.8h-5.8zM464.8 886.3h5.8v5.8h-5.8zM459.3 891.8h5.8v5.8h-5.8zM482.6 886.1h5.8v5.8h-5.8zM482.6 891.6h5.8v5.8h-5.8zM488.1 897.1h5.8v5.8h-5.8zM493.6 902.6h5.8v5.8h-5.8zM499.1 908.1h5.8v5.8h-5.8zM512.5 924.9h5.8v5.8h-5.8zM518.0 924.9h5.8v5.8h-5.8zM512.5 930.4h5.8v5.8h-5.8zM507.0 930.4h5.8v5.8h-5.8zM457.6 930.9h5.8v5.8h-5.8zM463.1 930.9h5.8v5.8h-5.8zM532.4 892.2h5.8v5.8h-5.8zM532.4 897.7h5.8v5.8h-5.8zM506.5 933.2h5.8v5.8h-5.8zM501.0 938.7h5.8v5.8h-5.8zM495.5 938.7h5.8v5.8h-5.8zM501.0 938.7h5.8v5.8h-5.8zM501.0 933.2h5.8v5.8h-5.8zM513.7 888.4h5.8v5.8h-5.8zM519.2 893.9h5.8v5.8h-5.8zM513.7 893.9h5.8v5.8h-5.8zM519.2 899.4h5.8v5.8h-5.8zM534.1 918.1h5.8v5.8h-5.8zM539.6 918.1h5.8v5.8h-5.8zM545.1 923.6h5.8v5.8h-5.8zM545.1 929.1h5.8v5.8h-5.8zM451.4 909.6h5.8v5.8h-5.8zM451.4 904.1h5.8v5.8h-5.8zM476.1 922.3h5.8v5.8h-5.8zM481.6 922.3h5.8v5.8h-5.8zM487.1 922.3h5.8v5.8h-5.8zM481.6 927.8h5.8v5.8h-5.8zM487.1 933.3h5.8v5.8h-5.8zM501.3 897.4h5.8v5.8h-5.8zM506.8 902.9h5.8v5.8h-5.8zM515.7 857.1h5.8v5.8h-5.8zM505.1 874.5h5.8v5.8h-5.8zM505.1 869.0h5.8v5.8h-5.8zM501.7 848.6h5.8v5.8h-5.8zM503.6 876.9h5.8v5.8h-5.8zM503.6 871.4h5.8v5.8h-5.8zM503.6 876.9h5.8v5.8h-5.8zM530.8 874.5h5.8v5.8h-5.8zM483.4 858.7h5.8v5.8h-5.8zM508.8 872.8h5.8v5.8h-5.8zM508.8 867.3h5.8v5.8h-5.8zM479.7 844.6h5.8v5.8h-5.8zM558.9 863.6h5.8v5.8h-5.8zM564.4 863.6h5.8v5.8h-5.8zM561.1 860.1h5.8v5.8h-5.8zM561.1 854.6h5.8v5.8h-5.8zM566.6 860.1h5.8v5.8h-5.8zM564.9 842.0h5.8v5.8h-5.8zM559.4 847.5h5.8v5.8h-5.8zM566.1 864.8h5.8v5.8h-5.8zM560.6 870.3h5.8v5.8h-5.8zM534.9 861.6h5.8v5.8h-5.8zM540.4 861.6h5.8v5.8h-5.8zM534.9 867.1h5.8v5.8h-5.8zM540.4 867.1h5.8v5.8h-5.8zM552.3 840.8h5.8v5.8h-5.8zM553.9 867.1h5.8v5.8h-5.8zM540.1 846.4h5.8v5.8h-5.8zM412.6 999.0h5.8v5.8h-5.8zM412.6 1004.5h5.8v5.8h-5.8zM435.2 980.5h5.8v5.8h-5.8zM429.7 986.0h5.8v5.8h-5.8zM425.6 981.0h5.8v5.8h-5.8zM447.9 987.3h5.8v5.8h-5.8zM412.4 973.9h5.8v5.8h-5.8zM406.9 979.4h5.8v5.8h-5.8zM412.4 979.4h5.8v5.8h-5.8zM451.5 971.7h5.8v5.8h-5.8zM446.0 971.7h5.8v5.8h-5.8zM446.0 977.2h5.8v5.8h-5.8zM439.6 978.5h5.8v5.8h-5.8zM434.1 984.0h5.8v5.8h-5.8zM428.6 984.0h5.8v5.8h-5.8zM428.6 989.5h5.8v5.8h-5.8zM452.6 997.1h5.8v5.8h-5.8zM452.6 991.6h5.8v5.8h-5.8zM402.1 1080.1h5.8v5.8h-5.8zM408.1 1082.1h5.8v5.8h-5.8zM440.1 1098.1h5.8v5.8h-5.8z"/><path fill="#00cdff" d="M404.3 752.3h5.8v5.8h-5.8zM416.1 742.7h5.8v5.8h-5.8zM428.1 752.1h5.8v5.8h-5.8zM495.1 748.7h5.8v5.8h-5.8zM505.1 755.9h5.8v5.8h-5.8zM519.5 760.7h5.8v5.8h-5.8zM469.1 761.9h5.8v5.8h-5.8zM506.1 769.1h5.8v5.8h-5.8zM457.1 769.1h5.8v5.8h-5.8zM428.1 766.7h5.8v5.8h-5.8z"/><path fill="#f82a2c" d="M409.1 730.7h5.8v5.8h-5.8zM413.1 735.1h5.8v5.8h-5.8zM449.9 735.5h5.8v5.8h-5.8zM470.9 739.1h5.8v5.8h-5.8zM485.1 758.1h5.8v5.8h-5.8zM531.5 758.3h5.8v5.8h-5.8zM447.1 769.1h5.8v5.8h-5.8zM462.1 775.1h5.8v5.8h-5.8zM476.1 773.9h5.8v5.8h-5.8zM412.1 790.1h5.8v5.8h-5.8zM611.1 765.1h5.8v5.8h-5.8zM637.1 805.1h5.8v5.8h-5.8z"/><path fill="#00cdff" d="M376.5 1015.1h5.8v5.8h-5.8zM369.5 1018.1h5.8v5.8h-5.8zM385.1 1087.1h5.8v5.8h-5.8zM375.1 1102.1h5.8v5.8h-5.8z"/><polyline points="349.6,711.0 569.1,710.8 557.2,770.8 454.0,784.0 364.0,758.8" fill="none" stroke="#1a1a1a" stroke-width="3"/><polyline points="364.0,758.8 349.6,712.0" fill="none" stroke="#c8c8c8" stroke-width="2.5"/><polygon points="578.7,780.4 613.5,799.6 661.5,851.2 641.1,999.9 554.8,1020.3 535.6,975.9 535.6,834.4" fill="none" stroke="#1a1a1a" stroke-width="3" stroke-linejoin="miter"/><text x="277.5" y="744.8" font-family='"Liberation Sans", sans-serif' font-size="20.5" fill="#333">Non-Classical</text><text x="628.0" y="1035.5" font-family='"Liberation Sans", sans-serif' font-size="20.5" fill="#333">Classical</text></g><clipPath id="c4"><rect x="928" y="710.2" width="474" height="472"/></clipPath><g clip-path="url(#c4)"><path fill="#00cdff" d="M1052.3 796.9h5.8v5.8h-5.8zM1032.6 803.4h5.8v5.8h-5.8zM1037.6 804.2h5.8v5.8h-5.8zM1045.4 805.8h5.8v5.8h-5.8zM1062.7 805.5h5.8v5.8h-5.8zM1070.3 803.2h5.8v5.8h-5.8zM1075.3 805.8h5.8v5.8h-5.8zM1044.6 811.4h5.8v5.8h-5.8zM1061.5 809.8h5.8v5.8h-5.8zM1068.3 811.2h5.8v5.8h-5.8zM1031.7 815.0h5.8v5.8h-5.8zM1039.9 815.7h5.8v5.8h-5.8zM1051.2 814.8h5.8v5.8h-5.8zM1062.2 816.4h5.8v5.8h-5.8zM1074.1 817.6h5.8v5.8h-5.8zM1031.6 823.7h5.8v5.8h-5.8zM1044.0 820.4h5.8v5.8h-5.8zM1074.3 822.4h5.8v5.8h-5.8zM1052.3 829.7h5.8v5.8h-5.8zM1058.8 829.2h5.8v5.8h-5.8zM1062.2 828.8h5.8v5.8h-5.8zM1055.6 835.3h5.8v5.8h-5.8zM1063.8 833.4h5.8v5.8h-5.8zM1069.8 832.9h5.8v5.8h-5.8zM1076.9 833.7h5.8v5.8h-5.8zM1082.1 833.1h5.8v5.8h-5.8zM1039.9 841.0h5.8v5.8h-5.8zM1044.7 841.3h5.8v5.8h-5.8zM1055.5 838.9h5.8v5.8h-5.8z"/><path fill="#f99a30" d="M1034.8 797.2h5.8v5.8h-5.8zM1058.3 795.7h5.8v5.8h-5.8zM1031.6 804.7h5.8v5.8h-5.8zM1037.7 802.5h5.8v5.8h-5.8zM1044.7 801.7h5.8v5.8h-5.8zM1052.8 803.9h5.8v5.8h-5.8zM1062.3 803.2h5.8v5.8h-5.8zM1033.3 808.3h5.8v5.8h-5.8zM1040.7 808.9h5.8v5.8h-5.8zM1064.3 810.5h5.8v5.8h-5.8zM1068.5 809.9h5.8v5.8h-5.8zM1032.3 815.3h5.8v5.8h-5.8zM1076.1 814.6h5.8v5.8h-5.8zM1051.3 821.0h5.8v5.8h-5.8zM1069.2 819.7h5.8v5.8h-5.8zM1074.9 820.8h5.8v5.8h-5.8zM1032.8 826.8h5.8v5.8h-5.8zM1045.1 825.5h5.8v5.8h-5.8zM1073.8 825.5h5.8v5.8h-5.8zM1037.6 831.9h5.8v5.8h-5.8zM1049.6 834.6h5.8v5.8h-5.8zM1049.7 837.8h5.8v5.8h-5.8zM1064.2 839.9h5.8v5.8h-5.8z"/><path fill="#00cdff" d="M1077.1 787.1h5.8v5.8h-5.8zM1108.6 786.9h5.8v5.8h-5.8zM1118.4 788.3h5.8v5.8h-5.8zM1123.6 786.5h5.8v5.8h-5.8zM1147.3 786.6h5.8v5.8h-5.8zM1094.4 794.8h5.8v5.8h-5.8zM1111.3 791.7h5.8v5.8h-5.8zM1120.8 794.7h5.8v5.8h-5.8zM1132.6 793.5h5.8v5.8h-5.8zM1076.8 798.6h5.8v5.8h-5.8zM1094.8 798.9h5.8v5.8h-5.8zM1154.7 799.8h5.8v5.8h-5.8zM1160.8 798.9h5.8v5.8h-5.8zM1168.3 800.5h5.8v5.8h-5.8zM1178.2 799.9h5.8v5.8h-5.8zM1186.0 800.6h5.8v5.8h-5.8zM1077.8 805.8h5.8v5.8h-5.8zM1102.6 804.0h5.8v5.8h-5.8zM1148.0 806.8h5.8v5.8h-5.8zM1129.7 810.0h5.8v5.8h-5.8zM1141.8 812.0h5.8v5.8h-5.8zM1082.2 818.7h5.8v5.8h-5.8zM1114.3 816.1h5.8v5.8h-5.8zM1156.2 816.4h5.8v5.8h-5.8zM1184.5 818.8h5.8v5.8h-5.8zM1082.2 822.8h5.8v5.8h-5.8zM1105.5 822.1h5.8v5.8h-5.8zM1120.1 823.9h5.8v5.8h-5.8zM1162.6 821.4h5.8v5.8h-5.8zM1166.5 822.7h5.8v5.8h-5.8zM1178.1 823.7h5.8v5.8h-5.8zM1184.4 823.8h5.8v5.8h-5.8zM1099.7 830.9h5.8v5.8h-5.8zM1120.6 829.1h5.8v5.8h-5.8zM1144.5 830.3h5.8v5.8h-5.8zM1106.3 834.1h5.8v5.8h-5.8zM1112.5 836.3h5.8v5.8h-5.8zM1167.2 834.0h5.8v5.8h-5.8zM1089.3 842.1h5.8v5.8h-5.8zM1096.2 842.6h5.8v5.8h-5.8zM1105.3 841.7h5.8v5.8h-5.8zM1125.9 842.7h5.8v5.8h-5.8zM1172.8 839.5h5.8v5.8h-5.8z"/><path fill="#f82a2c" d="M1088.7 785.5h5.8v5.8h-5.8zM1117.9 786.4h5.8v5.8h-5.8zM1174.0 786.6h5.8v5.8h-5.8zM1142.2 800.5h5.8v5.8h-5.8zM1100.9 805.6h5.8v5.8h-5.8zM1118.9 805.4h5.8v5.8h-5.8zM1130.3 805.8h5.8v5.8h-5.8zM1149.5 805.4h5.8v5.8h-5.8zM1160.7 804.4h5.8v5.8h-5.8zM1177.4 806.5h5.8v5.8h-5.8zM1106.2 811.1h5.8v5.8h-5.8zM1123.9 836.3h5.8v5.8h-5.8zM1131.7 833.4h5.8v5.8h-5.8zM1143.6 836.4h5.8v5.8h-5.8zM1183.5 841.7h5.8v5.8h-5.8z"/><path fill="#00cdff" d="M1088.5 825.7h5.8v5.8h-5.8zM1100.0 828.1h5.8v5.8h-5.8zM1136.8 827.5h5.8v5.8h-5.8zM1146.3 827.3h5.8v5.8h-5.8zM1154.5 826.9h5.8v5.8h-5.8zM1177.8 828.7h5.8v5.8h-5.8zM1182.9 826.7h5.8v5.8h-5.8zM1089.3 833.7h5.8v5.8h-5.8zM1095.7 832.9h5.8v5.8h-5.8zM1101.5 831.9h5.8v5.8h-5.8zM1105.8 834.4h5.8v5.8h-5.8zM1112.3 831.9h5.8v5.8h-5.8zM1117.6 833.9h5.8v5.8h-5.8zM1135.9 831.9h5.8v5.8h-5.8zM1149.8 834.3h5.8v5.8h-5.8zM1161.7 834.1h5.8v5.8h-5.8zM1167.8 831.8h5.8v5.8h-5.8zM1177.2 833.2h5.8v5.8h-5.8zM1185.0 834.0h5.8v5.8h-5.8zM1089.0 839.1h5.8v5.8h-5.8zM1124.9 838.9h5.8v5.8h-5.8zM1129.5 839.6h5.8v5.8h-5.8zM1137.3 838.8h5.8v5.8h-5.8zM1147.4 839.8h5.8v5.8h-5.8zM1154.1 837.8h5.8v5.8h-5.8zM1172.1 838.0h5.8v5.8h-5.8zM1177.2 838.0h5.8v5.8h-5.8zM1182.5 840.6h5.8v5.8h-5.8zM1104.6 843.4h5.8v5.8h-5.8zM1113.7 845.1h5.8v5.8h-5.8zM1131.8 846.5h5.8v5.8h-5.8zM1134.5 846.7h5.8v5.8h-5.8zM1147.5 843.8h5.8v5.8h-5.8zM1154.8 843.6h5.8v5.8h-5.8zM1167.9 846.4h5.8v5.8h-5.8zM1178.2 843.4h5.8v5.8h-5.8zM1089.1 852.6h5.8v5.8h-5.8zM1095.2 852.1h5.8v5.8h-5.8zM1116.5 851.0h5.8v5.8h-5.8zM1122.4 849.6h5.8v5.8h-5.8zM1142.7 850.9h5.8v5.8h-5.8zM1179.9 850.5h5.8v5.8h-5.8zM1183.3 850.6h5.8v5.8h-5.8zM1093.2 857.5h5.8v5.8h-5.8zM1101.8 855.8h5.8v5.8h-5.8zM1113.8 857.9h5.8v5.8h-5.8zM1123.2 857.4h5.8v5.8h-5.8zM1134.5 855.6h5.8v5.8h-5.8zM1153.4 855.7h5.8v5.8h-5.8zM1164.3 856.2h5.8v5.8h-5.8zM1184.6 858.8h5.8v5.8h-5.8zM1087.9 863.4h5.8v5.8h-5.8zM1093.3 862.6h5.8v5.8h-5.8zM1101.1 862.8h5.8v5.8h-5.8zM1106.1 862.7h5.8v5.8h-5.8zM1125.7 862.5h5.8v5.8h-5.8zM1143.6 863.8h5.8v5.8h-5.8zM1148.1 862.6h5.8v5.8h-5.8zM1152.7 862.1h5.8v5.8h-5.8zM1160.1 864.3h5.8v5.8h-5.8zM1172.9 861.9h5.8v5.8h-5.8zM1177.9 864.1h5.8v5.8h-5.8zM1105.1 868.6h5.8v5.8h-5.8zM1131.1 869.7h5.8v5.8h-5.8zM1141.1 868.1h5.8v5.8h-5.8zM1155.5 867.7h5.8v5.8h-5.8zM1179.4 870.1h5.8v5.8h-5.8zM1087.0 876.2h5.8v5.8h-5.8zM1095.5 874.7h5.8v5.8h-5.8zM1105.0 874.2h5.8v5.8h-5.8zM1111.3 876.7h5.8v5.8h-5.8zM1118.0 876.8h5.8v5.8h-5.8zM1130.3 874.2h5.8v5.8h-5.8zM1147.9 874.7h5.8v5.8h-5.8zM1165.4 876.4h5.8v5.8h-5.8zM1171.1 875.3h5.8v5.8h-5.8zM1088.4 881.3h5.8v5.8h-5.8zM1099.5 881.6h5.8v5.8h-5.8zM1110.8 880.8h5.8v5.8h-5.8zM1130.4 881.2h5.8v5.8h-5.8zM1143.2 881.0h5.8v5.8h-5.8zM1160.0 879.9h5.8v5.8h-5.8zM1176.6 882.7h5.8v5.8h-5.8zM1182.6 880.7h5.8v5.8h-5.8zM1092.5 887.0h5.8v5.8h-5.8zM1111.7 888.6h5.8v5.8h-5.8zM1128.8 887.4h5.8v5.8h-5.8zM1148.6 886.4h5.8v5.8h-5.8zM1155.6 887.3h5.8v5.8h-5.8zM1164.5 886.4h5.8v5.8h-5.8zM1182.4 886.7h5.8v5.8h-5.8z"/><path fill="#f99a30" d="M1095.3 846.4h5.8v5.8h-5.8zM1098.6 847.1h5.8v5.8h-5.8zM1125.4 845.6h5.8v5.8h-5.8zM1152.5 848.5h5.8v5.8h-5.8zM1159.3 845.6h5.8v5.8h-5.8zM1165.4 847.0h5.8v5.8h-5.8zM1101.3 854.2h5.8v5.8h-5.8zM1106.2 853.6h5.8v5.8h-5.8zM1112.7 853.5h5.8v5.8h-5.8zM1130.8 854.1h5.8v5.8h-5.8zM1158.7 851.4h5.8v5.8h-5.8zM1167.1 854.6h5.8v5.8h-5.8zM1107.2 858.5h5.8v5.8h-5.8zM1113.2 859.1h5.8v5.8h-5.8zM1123.7 859.9h5.8v5.8h-5.8zM1173.7 858.4h5.8v5.8h-5.8zM1185.1 858.2h5.8v5.8h-5.8zM1087.1 864.3h5.8v5.8h-5.8zM1093.9 864.5h5.8v5.8h-5.8zM1110.6 866.8h5.8v5.8h-5.8zM1117.3 863.5h5.8v5.8h-5.8zM1131.8 864.2h5.8v5.8h-5.8zM1142.4 865.8h5.8v5.8h-5.8zM1146.5 865.3h5.8v5.8h-5.8zM1153.1 865.4h5.8v5.8h-5.8zM1171.7 866.6h5.8v5.8h-5.8zM1176.7 864.9h5.8v5.8h-5.8zM1099.2 869.9h5.8v5.8h-5.8zM1107.2 871.8h5.8v5.8h-5.8zM1111.3 872.6h5.8v5.8h-5.8zM1123.3 871.4h5.8v5.8h-5.8zM1135.2 871.1h5.8v5.8h-5.8zM1143.0 869.7h5.8v5.8h-5.8zM1154.2 871.8h5.8v5.8h-5.8zM1160.5 869.8h5.8v5.8h-5.8zM1171.5 872.0h5.8v5.8h-5.8zM1182.9 870.6h5.8v5.8h-5.8zM1088.8 878.5h5.8v5.8h-5.8zM1094.1 876.6h5.8v5.8h-5.8zM1101.3 876.2h5.8v5.8h-5.8zM1105.1 877.2h5.8v5.8h-5.8zM1116.8 877.3h5.8v5.8h-5.8zM1141.3 878.4h5.8v5.8h-5.8zM1149.0 875.8h5.8v5.8h-5.8zM1167.5 877.1h5.8v5.8h-5.8zM1185.6 875.8h5.8v5.8h-5.8zM1087.7 884.2h5.8v5.8h-5.8zM1106.7 884.1h5.8v5.8h-5.8zM1143.4 882.4h5.8v5.8h-5.8zM1154.0 883.0h5.8v5.8h-5.8zM1161.6 884.7h5.8v5.8h-5.8zM1170.7 884.9h5.8v5.8h-5.8zM1176.8 884.3h5.8v5.8h-5.8zM1184.4 883.8h5.8v5.8h-5.8zM1088.3 888.2h5.8v5.8h-5.8zM1101.6 887.6h5.8v5.8h-5.8zM1123.8 888.9h5.8v5.8h-5.8zM1147.8 889.7h5.8v5.8h-5.8zM1159.7 888.5h5.8v5.8h-5.8zM1171.3 890.2h5.8v5.8h-5.8zM1178.3 890.0h5.8v5.8h-5.8zM1113.3 895.6h5.8v5.8h-5.8zM1128.8 896.9h5.8v5.8h-5.8zM1135.3 895.4h5.8v5.8h-5.8zM1141.6 893.4h5.8v5.8h-5.8zM1161.3 895.0h5.8v5.8h-5.8zM1172.5 895.5h5.8v5.8h-5.8zM1184.5 895.8h5.8v5.8h-5.8zM1089.1 902.4h5.8v5.8h-5.8zM1095.6 901.8h5.8v5.8h-5.8zM1101.6 900.0h5.8v5.8h-5.8zM1111.8 901.3h5.8v5.8h-5.8zM1119.0 899.3h5.8v5.8h-5.8zM1123.7 901.9h5.8v5.8h-5.8zM1131.8 899.9h5.8v5.8h-5.8zM1143.1 899.9h5.8v5.8h-5.8zM1167.4 901.4h5.8v5.8h-5.8zM1170.3 902.1h5.8v5.8h-5.8zM1089.7 906.3h5.8v5.8h-5.8zM1093.5 906.5h5.8v5.8h-5.8zM1125.3 907.8h5.8v5.8h-5.8zM1130.2 905.9h5.8v5.8h-5.8zM1141.1 906.2h5.8v5.8h-5.8zM1173.7 905.9h5.8v5.8h-5.8zM1184.4 906.7h5.8v5.8h-5.8zM1089.8 914.8h5.8v5.8h-5.8zM1093.3 912.8h5.8v5.8h-5.8zM1098.7 913.4h5.8v5.8h-5.8zM1106.9 913.2h5.8v5.8h-5.8zM1113.6 914.0h5.8v5.8h-5.8zM1116.7 912.1h5.8v5.8h-5.8zM1124.0 912.8h5.8v5.8h-5.8zM1130.5 913.5h5.8v5.8h-5.8zM1137.6 913.9h5.8v5.8h-5.8zM1141.4 913.4h5.8v5.8h-5.8zM1149.5 914.1h5.8v5.8h-5.8zM1173.0 914.7h5.8v5.8h-5.8zM1183.6 914.1h5.8v5.8h-5.8zM1105.0 918.1h5.8v5.8h-5.8zM1110.9 919.4h5.8v5.8h-5.8zM1124.7 919.1h5.8v5.8h-5.8zM1135.6 918.8h5.8v5.8h-5.8zM1140.4 919.8h5.8v5.8h-5.8zM1149.3 918.3h5.8v5.8h-5.8zM1172.9 920.1h5.8v5.8h-5.8zM1184.0 917.5h5.8v5.8h-5.8zM1088.8 923.5h5.8v5.8h-5.8zM1106.4 926.1h5.8v5.8h-5.8zM1124.8 926.0h5.8v5.8h-5.8zM1130.5 923.7h5.8v5.8h-5.8zM1142.0 924.5h5.8v5.8h-5.8zM1166.7 926.7h5.8v5.8h-5.8zM1179.7 926.8h5.8v5.8h-5.8zM1184.9 924.9h5.8v5.8h-5.8zM1089.4 931.8h5.8v5.8h-5.8zM1098.5 930.2h5.8v5.8h-5.8zM1105.3 931.6h5.8v5.8h-5.8zM1113.9 932.2h5.8v5.8h-5.8zM1123.5 930.2h5.8v5.8h-5.8zM1166.7 931.6h5.8v5.8h-5.8zM1173.1 930.5h5.8v5.8h-5.8zM1184.8 930.3h5.8v5.8h-5.8z"/><path fill="#f82a2c" d="M1104.0 883.3h5.8v5.8h-5.8zM1116.5 882.3h5.8v5.8h-5.8zM1134.6 881.3h5.8v5.8h-5.8zM1165.7 881.2h5.8v5.8h-5.8zM1171.3 880.6h5.8v5.8h-5.8zM1176.3 882.4h5.8v5.8h-5.8zM1134.5 887.0h5.8v5.8h-5.8zM1160.6 886.7h5.8v5.8h-5.8zM1129.2 892.7h5.8v5.8h-5.8zM1142.7 893.0h5.8v5.8h-5.8zM1153.3 895.1h5.8v5.8h-5.8zM1164.3 893.7h5.8v5.8h-5.8zM1170.1 893.6h5.8v5.8h-5.8zM1184.8 892.5h5.8v5.8h-5.8zM1105.8 899.1h5.8v5.8h-5.8zM1135.5 899.5h5.8v5.8h-5.8zM1142.1 899.1h5.8v5.8h-5.8zM1153.5 898.3h5.8v5.8h-5.8zM1170.0 901.1h5.8v5.8h-5.8zM1178.6 900.4h5.8v5.8h-5.8zM1112.3 905.5h5.8v5.8h-5.8zM1116.0 905.8h5.8v5.8h-5.8zM1122.6 907.1h5.8v5.8h-5.8zM1142.4 906.7h5.8v5.8h-5.8zM1164.3 906.3h5.8v5.8h-5.8zM1171.4 905.9h5.8v5.8h-5.8zM1176.3 904.6h5.8v5.8h-5.8zM1183.9 905.4h5.8v5.8h-5.8zM1103.7 911.2h5.8v5.8h-5.8zM1123.7 913.6h5.8v5.8h-5.8zM1128.4 911.0h5.8v5.8h-5.8zM1128.2 917.0h5.8v5.8h-5.8zM1135.7 917.2h5.8v5.8h-5.8zM1140.0 917.8h5.8v5.8h-5.8zM1160.1 919.0h5.8v5.8h-5.8zM1176.2 916.4h5.8v5.8h-5.8zM1111.2 924.9h5.8v5.8h-5.8zM1158.2 925.5h5.8v5.8h-5.8zM1177.2 922.4h5.8v5.8h-5.8zM1128.3 931.7h5.8v5.8h-5.8zM1152.5 928.9h5.8v5.8h-5.8zM1157.4 929.3h5.8v5.8h-5.8zM1176.0 931.9h5.8v5.8h-5.8zM1183.3 928.6h5.8v5.8h-5.8zM1141.9 935.3h5.8v5.8h-5.8zM1106.1 941.4h5.8v5.8h-5.8zM1133.6 947.9h5.8v5.8h-5.8zM1166.7 946.6h5.8v5.8h-5.8zM1177.7 949.5h5.8v5.8h-5.8zM1200.0 809.5h5.8v5.8h-5.8zM1238.9 806.7h5.8v5.8h-5.8zM1241.9 807.8h5.8v5.8h-5.8zM1193.9 814.0h5.8v5.8h-5.8zM1208.5 813.2h5.8v5.8h-5.8zM1220.6 815.9h5.8v5.8h-5.8zM1249.1 813.7h5.8v5.8h-5.8zM1189.1 820.1h5.8v5.8h-5.8zM1193.8 819.8h5.8v5.8h-5.8zM1202.4 818.4h5.8v5.8h-5.8zM1207.3 818.6h5.8v5.8h-5.8zM1213.8 821.8h5.8v5.8h-5.8zM1217.4 820.0h5.8v5.8h-5.8zM1224.5 820.5h5.8v5.8h-5.8zM1230.5 820.8h5.8v5.8h-5.8zM1249.0 820.6h5.8v5.8h-5.8zM1206.5 825.2h5.8v5.8h-5.8zM1214.1 826.8h5.8v5.8h-5.8zM1217.5 825.4h5.8v5.8h-5.8zM1225.3 825.0h5.8v5.8h-5.8zM1249.0 824.8h5.8v5.8h-5.8zM1256.8 827.8h5.8v5.8h-5.8zM1196.9 833.5h5.8v5.8h-5.8zM1201.5 831.3h5.8v5.8h-5.8zM1214.5 833.6h5.8v5.8h-5.8zM1220.0 830.5h5.8v5.8h-5.8zM1224.0 831.7h5.8v5.8h-5.8zM1237.2 831.7h5.8v5.8h-5.8zM1256.4 830.4h5.8v5.8h-5.8zM1188.4 839.5h5.8v5.8h-5.8zM1194.9 838.8h5.8v5.8h-5.8zM1202.2 837.5h5.8v5.8h-5.8zM1206.4 837.6h5.8v5.8h-5.8zM1212.4 837.5h5.8v5.8h-5.8zM1244.3 836.8h5.8v5.8h-5.8zM1247.6 839.0h5.8v5.8h-5.8zM1255.7 837.0h5.8v5.8h-5.8zM1187.8 844.6h5.8v5.8h-5.8zM1196.1 842.9h5.8v5.8h-5.8zM1201.9 844.7h5.8v5.8h-5.8zM1211.9 845.6h5.8v5.8h-5.8zM1219.3 844.8h5.8v5.8h-5.8zM1224.4 845.5h5.8v5.8h-5.8zM1236.8 842.3h5.8v5.8h-5.8zM1261.7 845.3h5.8v5.8h-5.8zM1194.0 851.1h5.8v5.8h-5.8zM1202.0 850.9h5.8v5.8h-5.8zM1206.8 849.1h5.8v5.8h-5.8zM1214.0 851.3h5.8v5.8h-5.8zM1218.4 851.2h5.8v5.8h-5.8zM1230.5 851.2h5.8v5.8h-5.8zM1238.2 850.0h5.8v5.8h-5.8zM1242.4 849.4h5.8v5.8h-5.8zM1248.1 850.9h5.8v5.8h-5.8zM1253.4 849.2h5.8v5.8h-5.8zM1262.6 848.4h5.8v5.8h-5.8zM1194.4 856.2h5.8v5.8h-5.8zM1208.4 855.0h5.8v5.8h-5.8zM1212.5 857.9h5.8v5.8h-5.8zM1219.3 857.1h5.8v5.8h-5.8zM1224.5 855.9h5.8v5.8h-5.8zM1187.6 862.6h5.8v5.8h-5.8zM1195.3 860.8h5.8v5.8h-5.8zM1208.6 861.6h5.8v5.8h-5.8zM1213.1 862.7h5.8v5.8h-5.8zM1226.3 862.6h5.8v5.8h-5.8zM1231.1 863.3h5.8v5.8h-5.8zM1235.6 861.1h5.8v5.8h-5.8zM1243.8 862.5h5.8v5.8h-5.8zM1253.7 860.6h5.8v5.8h-5.8zM1195.7 867.9h5.8v5.8h-5.8zM1226.7 866.5h5.8v5.8h-5.8zM1231.0 868.7h5.8v5.8h-5.8zM1244.8 869.3h5.8v5.8h-5.8zM1254.3 869.3h5.8v5.8h-5.8zM1208.3 873.6h5.8v5.8h-5.8zM1213.5 873.5h5.8v5.8h-5.8zM1225.1 874.1h5.8v5.8h-5.8zM1243.9 872.3h5.8v5.8h-5.8zM1256.0 873.5h5.8v5.8h-5.8zM1260.1 875.0h5.8v5.8h-5.8zM1190.6 880.8h5.8v5.8h-5.8zM1193.5 880.4h5.8v5.8h-5.8zM1207.8 880.4h5.8v5.8h-5.8zM1212.2 878.9h5.8v5.8h-5.8zM1223.5 878.8h5.8v5.8h-5.8zM1230.7 879.4h5.8v5.8h-5.8zM1238.6 880.7h5.8v5.8h-5.8zM1262.2 879.1h5.8v5.8h-5.8zM1195.5 886.6h5.8v5.8h-5.8zM1212.0 884.7h5.8v5.8h-5.8zM1219.5 885.5h5.8v5.8h-5.8zM1230.8 884.5h5.8v5.8h-5.8zM1243.7 884.6h5.8v5.8h-5.8zM1190.2 893.7h5.8v5.8h-5.8zM1193.4 892.2h5.8v5.8h-5.8zM1199.3 891.2h5.8v5.8h-5.8zM1205.4 893.6h5.8v5.8h-5.8zM1226.6 892.8h5.8v5.8h-5.8zM1244.6 890.9h5.8v5.8h-5.8zM1208.8 899.8h5.8v5.8h-5.8zM1214.2 898.9h5.8v5.8h-5.8zM1237.8 898.9h5.8v5.8h-5.8zM1242.2 897.6h5.8v5.8h-5.8zM1262.6 896.5h5.8v5.8h-5.8zM1199.7 903.5h5.8v5.8h-5.8zM1211.3 905.1h5.8v5.8h-5.8zM1219.2 904.2h5.8v5.8h-5.8zM1225.6 903.1h5.8v5.8h-5.8zM1248.4 903.9h5.8v5.8h-5.8zM1206.9 911.0h5.8v5.8h-5.8zM1212.9 908.7h5.8v5.8h-5.8zM1219.5 911.3h5.8v5.8h-5.8zM1224.9 911.4h5.8v5.8h-5.8zM1242.4 911.5h5.8v5.8h-5.8zM1250.3 909.6h5.8v5.8h-5.8zM1253.9 911.5h5.8v5.8h-5.8zM1261.3 911.5h5.8v5.8h-5.8zM1202.1 916.6h5.8v5.8h-5.8zM1208.6 915.8h5.8v5.8h-5.8zM1219.2 917.7h5.8v5.8h-5.8zM1224.5 916.3h5.8v5.8h-5.8zM1256.8 915.7h5.8v5.8h-5.8zM1188.9 923.0h5.8v5.8h-5.8zM1214.5 922.7h5.8v5.8h-5.8zM1226.4 922.3h5.8v5.8h-5.8zM1238.3 923.2h5.8v5.8h-5.8zM1261.1 923.8h5.8v5.8h-5.8zM1190.7 927.2h5.8v5.8h-5.8zM1205.8 926.4h5.8v5.8h-5.8zM1213.9 928.2h5.8v5.8h-5.8zM1219.5 929.2h5.8v5.8h-5.8zM1226.5 928.6h5.8v5.8h-5.8zM1243.8 927.7h5.8v5.8h-5.8zM1248.8 928.7h5.8v5.8h-5.8zM1211.3 935.6h5.8v5.8h-5.8zM1218.4 935.4h5.8v5.8h-5.8zM1232.6 933.6h5.8v5.8h-5.8zM1235.8 934.3h5.8v5.8h-5.8zM1243.3 933.7h5.8v5.8h-5.8z"/><path fill="#00cdff" d="M1195.9 821.4h5.8v5.8h-5.8zM1195.1 830.6h5.8v5.8h-5.8zM1217.6 829.6h5.8v5.8h-5.8zM1224.5 841.8h5.8v5.8h-5.8zM1206.8 845.9h5.8v5.8h-5.8zM1199.7 859.1h5.8v5.8h-5.8zM1212.4 866.8h5.8v5.8h-5.8zM1242.6 866.4h5.8v5.8h-5.8zM1231.4 870.7h5.8v5.8h-5.8z"/><path fill="#f82a2c" d="M1293.1 850.1h5.8v5.8h-5.8zM1285.1 870.1h5.8v5.8h-5.8zM1267.1 917.1h5.8v5.8h-5.8zM1283.1 939.1h5.8v5.8h-5.8zM1247.1 989.1h5.8v5.8h-5.8zM1231.1 957.1h5.8v5.8h-5.8zM1237.1 955.1h5.8v5.8h-5.8zM1275.1 984.1h5.8v5.8h-5.8zM1214.1 987.1h5.8v5.8h-5.8zM1137.1 993.1h5.8v5.8h-5.8zM1139.1 989.1h5.8v5.8h-5.8zM1135.1 997.1h5.8v5.8h-5.8z"/><path fill="#00cdff" d="M1296.1 903.1h5.8v5.8h-5.8zM1263.1 909.1h5.8v5.8h-5.8z"/><path fill="#f99a30" d="M1054.7 808.1h5.8v5.8h-5.8zM1061.3 808.5h5.8v5.8h-5.8zM1051.0 813.0h5.8v5.8h-5.8zM1055.9 811.8h5.8v5.8h-5.8zM1061.3 811.4h5.8v5.8h-5.8zM1065.3 811.0h5.8v5.8h-5.8zM1046.7 816.1h5.8v5.8h-5.8zM1052.3 816.2h5.8v5.8h-5.8zM1056.3 817.6h5.8v5.8h-5.8zM1059.9 816.2h5.8v5.8h-5.8zM1064.3 817.6h5.8v5.8h-5.8zM1068.4 816.0h5.8v5.8h-5.8zM1047.7 820.0h5.8v5.8h-5.8zM1050.3 820.3h5.8v5.8h-5.8zM1060.4 822.0h5.8v5.8h-5.8zM1065.4 821.8h5.8v5.8h-5.8zM1069.3 822.1h5.8v5.8h-5.8zM1046.2 826.6h5.8v5.8h-5.8zM1052.3 826.0h5.8v5.8h-5.8zM1055.2 825.9h5.8v5.8h-5.8zM1060.7 826.1h5.8v5.8h-5.8zM1063.9 825.8h5.8v5.8h-5.8zM1069.4 825.4h5.8v5.8h-5.8zM1074.7 826.7h5.8v5.8h-5.8zM1043.2 830.3h5.8v5.8h-5.8zM1047.0 829.6h5.8v5.8h-5.8zM1050.1 831.0h5.8v5.8h-5.8zM1054.9 830.3h5.8v5.8h-5.8zM1061.4 829.3h5.8v5.8h-5.8zM1065.4 831.1h5.8v5.8h-5.8zM1070.1 829.3h5.8v5.8h-5.8zM1073.9 831.1h5.8v5.8h-5.8zM1041.3 833.6h5.8v5.8h-5.8zM1047.6 834.9h5.8v5.8h-5.8zM1051.2 833.8h5.8v5.8h-5.8zM1055.0 835.2h5.8v5.8h-5.8zM1058.9 834.8h5.8v5.8h-5.8zM1068.2 835.8h5.8v5.8h-5.8zM1074.6 835.5h5.8v5.8h-5.8zM1079.4 834.0h5.8v5.8h-5.8zM1041.4 839.8h5.8v5.8h-5.8zM1046.5 839.8h5.8v5.8h-5.8zM1050.6 838.2h5.8v5.8h-5.8zM1056.5 839.5h5.8v5.8h-5.8zM1059.1 838.7h5.8v5.8h-5.8zM1064.6 838.5h5.8v5.8h-5.8zM1069.0 840.3h5.8v5.8h-5.8zM1072.4 838.2h5.8v5.8h-5.8zM1078.6 839.2h5.8v5.8h-5.8zM1038.2 844.1h5.8v5.8h-5.8zM1041.3 844.6h5.8v5.8h-5.8zM1046.3 844.1h5.8v5.8h-5.8zM1050.0 843.5h5.8v5.8h-5.8zM1056.5 844.1h5.8v5.8h-5.8zM1061.1 843.7h5.8v5.8h-5.8zM1072.8 844.8h5.8v5.8h-5.8zM1077.3 843.7h5.8v5.8h-5.8zM1037.0 849.3h5.8v5.8h-5.8zM1043.0 848.7h5.8v5.8h-5.8zM1046.5 849.1h5.8v5.8h-5.8zM1051.1 848.9h5.8v5.8h-5.8zM1054.5 848.4h5.8v5.8h-5.8zM1059.6 847.2h5.8v5.8h-5.8zM1065.5 847.4h5.8v5.8h-5.8zM1068.2 849.4h5.8v5.8h-5.8zM1072.7 849.0h5.8v5.8h-5.8zM1077.0 847.5h5.8v5.8h-5.8zM1038.5 852.1h5.8v5.8h-5.8zM1042.6 851.6h5.8v5.8h-5.8zM1046.6 853.6h5.8v5.8h-5.8zM1052.1 851.5h5.8v5.8h-5.8zM1055.2 852.7h5.8v5.8h-5.8zM1061.3 852.6h5.8v5.8h-5.8zM1064.5 853.3h5.8v5.8h-5.8zM1068.0 853.8h5.8v5.8h-5.8zM1073.9 851.8h5.8v5.8h-5.8zM1079.1 853.6h5.8v5.8h-5.8zM1042.0 857.0h5.8v5.8h-5.8zM1047.1 856.9h5.8v5.8h-5.8zM1051.5 856.7h5.8v5.8h-5.8zM1056.2 858.3h5.8v5.8h-5.8zM1060.2 858.1h5.8v5.8h-5.8zM1064.7 856.5h5.8v5.8h-5.8zM1069.8 857.3h5.8v5.8h-5.8zM1073.4 856.4h5.8v5.8h-5.8zM1077.8 856.4h5.8v5.8h-5.8zM1037.7 862.8h5.8v5.8h-5.8zM1042.9 861.2h5.8v5.8h-5.8zM1046.0 862.3h5.8v5.8h-5.8zM1050.6 860.8h5.8v5.8h-5.8zM1061.1 861.7h5.8v5.8h-5.8zM1065.1 862.5h5.8v5.8h-5.8zM1070.3 862.0h5.8v5.8h-5.8zM1074.4 862.1h5.8v5.8h-5.8zM1083.7 862.4h5.8v5.8h-5.8zM1037.5 866.2h5.8v5.8h-5.8zM1042.0 867.3h5.8v5.8h-5.8zM1047.0 865.2h5.8v5.8h-5.8zM1050.4 867.2h5.8v5.8h-5.8zM1054.8 866.2h5.8v5.8h-5.8zM1061.0 866.5h5.8v5.8h-5.8zM1065.2 866.8h5.8v5.8h-5.8zM1069.2 866.9h5.8v5.8h-5.8zM1073.7 867.3h5.8v5.8h-5.8zM1078.7 866.9h5.8v5.8h-5.8zM1083.8 866.9h5.8v5.8h-5.8zM1041.0 871.8h5.8v5.8h-5.8zM1047.2 870.4h5.8v5.8h-5.8zM1052.1 871.8h5.8v5.8h-5.8zM1055.5 870.7h5.8v5.8h-5.8zM1058.9 871.2h5.8v5.8h-5.8zM1063.4 871.0h5.8v5.8h-5.8zM1070.2 871.8h5.8v5.8h-5.8zM1073.9 871.3h5.8v5.8h-5.8zM1077.5 870.9h5.8v5.8h-5.8zM1081.4 870.3h5.8v5.8h-5.8zM1038.8 874.8h5.8v5.8h-5.8zM1040.9 874.5h5.8v5.8h-5.8zM1046.8 874.9h5.8v5.8h-5.8zM1050.0 874.3h5.8v5.8h-5.8zM1054.3 874.8h5.8v5.8h-5.8zM1059.0 874.6h5.8v5.8h-5.8zM1064.3 876.3h5.8v5.8h-5.8zM1070.3 874.4h5.8v5.8h-5.8zM1073.1 875.0h5.8v5.8h-5.8zM1077.0 875.7h5.8v5.8h-5.8zM1083.3 875.3h5.8v5.8h-5.8zM1036.5 879.2h5.8v5.8h-5.8zM1041.7 880.6h5.8v5.8h-5.8zM1046.7 880.0h5.8v5.8h-5.8zM1052.4 880.7h5.8v5.8h-5.8zM1059.9 878.5h5.8v5.8h-5.8zM1065.0 880.5h5.8v5.8h-5.8zM1073.8 879.8h5.8v5.8h-5.8zM1077.9 879.3h5.8v5.8h-5.8zM1083.0 879.1h5.8v5.8h-5.8zM1086.6 879.1h5.8v5.8h-5.8zM1036.8 882.9h5.8v5.8h-5.8zM1042.4 884.6h5.8v5.8h-5.8zM1047.8 883.4h5.8v5.8h-5.8zM1050.4 884.6h5.8v5.8h-5.8zM1055.7 884.9h5.8v5.8h-5.8zM1060.6 884.4h5.8v5.8h-5.8zM1065.7 884.9h5.8v5.8h-5.8zM1068.9 884.3h5.8v5.8h-5.8zM1073.2 883.4h5.8v5.8h-5.8zM1077.5 883.1h5.8v5.8h-5.8zM1081.6 884.4h5.8v5.8h-5.8zM1086.5 884.5h5.8v5.8h-5.8zM1038.9 888.9h5.8v5.8h-5.8zM1043.1 889.5h5.8v5.8h-5.8zM1047.5 887.4h5.8v5.8h-5.8zM1052.3 888.4h5.8v5.8h-5.8zM1055.8 888.7h5.8v5.8h-5.8zM1060.6 888.7h5.8v5.8h-5.8zM1065.2 889.5h5.8v5.8h-5.8zM1068.0 888.4h5.8v5.8h-5.8zM1074.2 888.1h5.8v5.8h-5.8zM1077.1 888.8h5.8v5.8h-5.8zM1082.3 888.8h5.8v5.8h-5.8zM1086.2 888.5h5.8v5.8h-5.8zM1037.9 893.5h5.8v5.8h-5.8zM1043.0 892.1h5.8v5.8h-5.8zM1047.5 892.8h5.8v5.8h-5.8zM1051.5 892.9h5.8v5.8h-5.8zM1056.4 892.0h5.8v5.8h-5.8zM1060.3 894.0h5.8v5.8h-5.8zM1067.9 893.4h5.8v5.8h-5.8zM1072.9 893.5h5.8v5.8h-5.8zM1078.2 892.9h5.8v5.8h-5.8zM1083.2 893.3h5.8v5.8h-5.8zM1086.0 892.5h5.8v5.8h-5.8zM1031.9 897.7h5.8v5.8h-5.8zM1037.1 897.9h5.8v5.8h-5.8zM1043.4 898.7h5.8v5.8h-5.8zM1046.2 898.3h5.8v5.8h-5.8zM1050.6 898.8h5.8v5.8h-5.8zM1054.8 898.3h5.8v5.8h-5.8zM1059.1 898.1h5.8v5.8h-5.8zM1063.7 896.9h5.8v5.8h-5.8zM1069.9 897.3h5.8v5.8h-5.8zM1074.7 898.9h5.8v5.8h-5.8zM1079.2 897.6h5.8v5.8h-5.8zM1083.5 897.9h5.8v5.8h-5.8zM1086.1 898.4h5.8v5.8h-5.8zM1033.1 901.7h5.8v5.8h-5.8zM1038.9 902.8h5.8v5.8h-5.8zM1043.1 901.0h5.8v5.8h-5.8zM1046.9 902.8h5.8v5.8h-5.8zM1050.4 902.4h5.8v5.8h-5.8zM1056.3 901.9h5.8v5.8h-5.8zM1059.9 903.2h5.8v5.8h-5.8zM1063.4 902.3h5.8v5.8h-5.8zM1068.4 902.5h5.8v5.8h-5.8zM1074.3 902.5h5.8v5.8h-5.8zM1077.2 902.2h5.8v5.8h-5.8zM1083.0 903.3h5.8v5.8h-5.8zM1087.8 901.1h5.8v5.8h-5.8zM1031.9 906.2h5.8v5.8h-5.8zM1043.3 906.1h5.8v5.8h-5.8zM1047.8 907.4h5.8v5.8h-5.8zM1052.0 907.5h5.8v5.8h-5.8zM1056.8 905.5h5.8v5.8h-5.8zM1061.2 905.7h5.8v5.8h-5.8zM1065.4 906.6h5.8v5.8h-5.8zM1069.4 907.0h5.8v5.8h-5.8zM1074.4 905.8h5.8v5.8h-5.8zM1076.8 905.8h5.8v5.8h-5.8zM1082.2 906.6h5.8v5.8h-5.8zM1087.0 907.8h5.8v5.8h-5.8zM1032.3 910.8h5.8v5.8h-5.8zM1038.5 910.9h5.8v5.8h-5.8zM1041.7 912.1h5.8v5.8h-5.8zM1045.6 910.8h5.8v5.8h-5.8zM1055.8 912.0h5.8v5.8h-5.8zM1059.0 911.2h5.8v5.8h-5.8zM1064.4 910.6h5.8v5.8h-5.8zM1068.0 912.2h5.8v5.8h-5.8zM1073.6 910.2h5.8v5.8h-5.8zM1079.1 909.9h5.8v5.8h-5.8zM1081.3 911.6h5.8v5.8h-5.8zM1086.7 912.0h5.8v5.8h-5.8zM1032.8 915.8h5.8v5.8h-5.8zM1038.4 916.3h5.8v5.8h-5.8zM1042.4 916.6h5.8v5.8h-5.8zM1046.4 915.5h5.8v5.8h-5.8zM1050.7 916.4h5.8v5.8h-5.8zM1056.6 914.4h5.8v5.8h-5.8zM1060.4 915.5h5.8v5.8h-5.8zM1065.7 916.6h5.8v5.8h-5.8zM1070.3 915.8h5.8v5.8h-5.8zM1083.7 915.1h5.8v5.8h-5.8zM1088.1 916.0h5.8v5.8h-5.8zM1033.8 920.9h5.8v5.8h-5.8zM1037.7 920.1h5.8v5.8h-5.8zM1041.2 919.4h5.8v5.8h-5.8zM1047.6 921.2h5.8v5.8h-5.8zM1051.7 919.9h5.8v5.8h-5.8zM1055.9 919.6h5.8v5.8h-5.8zM1064.7 918.9h5.8v5.8h-5.8zM1068.0 920.1h5.8v5.8h-5.8zM1073.9 919.1h5.8v5.8h-5.8zM1077.7 920.3h5.8v5.8h-5.8zM1082.4 919.0h5.8v5.8h-5.8zM1087.4 919.6h5.8v5.8h-5.8zM1034.1 925.2h5.8v5.8h-5.8zM1036.7 925.3h5.8v5.8h-5.8zM1042.2 925.5h5.8v5.8h-5.8zM1046.8 924.5h5.8v5.8h-5.8zM1055.6 924.4h5.8v5.8h-5.8zM1061.2 923.7h5.8v5.8h-5.8zM1065.7 923.7h5.8v5.8h-5.8zM1068.8 923.9h5.8v5.8h-5.8zM1073.1 924.9h5.8v5.8h-5.8zM1079.0 925.8h5.8v5.8h-5.8zM1083.3 924.1h5.8v5.8h-5.8zM1087.9 925.7h5.8v5.8h-5.8zM1034.3 927.9h5.8v5.8h-5.8zM1036.5 928.8h5.8v5.8h-5.8zM1042.5 929.6h5.8v5.8h-5.8zM1047.2 929.3h5.8v5.8h-5.8zM1050.4 930.3h5.8v5.8h-5.8zM1055.4 929.5h5.8v5.8h-5.8zM1061.3 929.9h5.8v5.8h-5.8zM1065.1 929.9h5.8v5.8h-5.8zM1074.3 929.5h5.8v5.8h-5.8zM1082.2 928.9h5.8v5.8h-5.8zM1086.3 928.3h5.8v5.8h-5.8zM1033.7 933.4h5.8v5.8h-5.8zM1036.9 933.6h5.8v5.8h-5.8zM1042.4 933.0h5.8v5.8h-5.8zM1045.4 933.4h5.8v5.8h-5.8zM1052.3 933.5h5.8v5.8h-5.8zM1059.5 933.5h5.8v5.8h-5.8zM1064.5 933.6h5.8v5.8h-5.8zM1069.8 932.7h5.8v5.8h-5.8zM1074.4 934.0h5.8v5.8h-5.8zM1079.4 934.7h5.8v5.8h-5.8zM1083.0 932.6h5.8v5.8h-5.8zM1086.3 932.8h5.8v5.8h-5.8zM1032.2 938.8h5.8v5.8h-5.8zM1037.0 937.6h5.8v5.8h-5.8zM1042.3 938.2h5.8v5.8h-5.8zM1047.8 939.0h5.8v5.8h-5.8zM1050.9 939.3h5.8v5.8h-5.8zM1055.8 937.1h5.8v5.8h-5.8zM1060.4 938.7h5.8v5.8h-5.8zM1065.1 938.6h5.8v5.8h-5.8zM1070.3 937.0h5.8v5.8h-5.8zM1073.3 938.2h5.8v5.8h-5.8zM1077.6 937.0h5.8v5.8h-5.8zM1083.7 939.3h5.8v5.8h-5.8zM1086.0 939.0h5.8v5.8h-5.8zM1032.8 942.3h5.8v5.8h-5.8zM1037.0 942.6h5.8v5.8h-5.8zM1041.7 943.2h5.8v5.8h-5.8zM1045.7 943.1h5.8v5.8h-5.8zM1051.9 941.8h5.8v5.8h-5.8zM1054.8 942.2h5.8v5.8h-5.8zM1059.2 942.6h5.8v5.8h-5.8zM1064.4 943.7h5.8v5.8h-5.8zM1074.8 943.0h5.8v5.8h-5.8zM1078.9 943.0h5.8v5.8h-5.8zM1083.8 942.7h5.8v5.8h-5.8zM1087.5 943.3h5.8v5.8h-5.8zM1033.4 946.8h5.8v5.8h-5.8zM1037.7 945.9h5.8v5.8h-5.8zM1041.8 946.8h5.8v5.8h-5.8zM1046.4 948.2h5.8v5.8h-5.8zM1051.2 947.9h5.8v5.8h-5.8zM1056.7 946.9h5.8v5.8h-5.8zM1059.9 947.2h5.8v5.8h-5.8zM1064.9 947.5h5.8v5.8h-5.8zM1069.1 948.3h5.8v5.8h-5.8zM1073.7 946.6h5.8v5.8h-5.8zM1077.1 946.8h5.8v5.8h-5.8zM1083.8 948.3h5.8v5.8h-5.8zM1088.4 945.9h5.8v5.8h-5.8zM1033.1 952.6h5.8v5.8h-5.8zM1037.4 952.3h5.8v5.8h-5.8zM1041.5 952.3h5.8v5.8h-5.8zM1046.3 950.6h5.8v5.8h-5.8zM1050.7 951.4h5.8v5.8h-5.8zM1056.5 952.5h5.8v5.8h-5.8zM1059.0 951.5h5.8v5.8h-5.8zM1064.6 952.7h5.8v5.8h-5.8zM1069.4 950.7h5.8v5.8h-5.8zM1072.4 951.4h5.8v5.8h-5.8zM1078.2 951.1h5.8v5.8h-5.8zM1083.2 950.5h5.8v5.8h-5.8zM1087.2 950.8h5.8v5.8h-5.8zM1033.1 956.5h5.8v5.8h-5.8zM1037.3 954.8h5.8v5.8h-5.8zM1042.2 955.4h5.8v5.8h-5.8zM1046.7 956.0h5.8v5.8h-5.8zM1050.2 957.4h5.8v5.8h-5.8zM1058.9 957.0h5.8v5.8h-5.8zM1064.8 955.5h5.8v5.8h-5.8zM1069.8 956.7h5.8v5.8h-5.8zM1072.3 957.0h5.8v5.8h-5.8zM1082.1 955.2h5.8v5.8h-5.8zM1085.9 955.8h5.8v5.8h-5.8zM1032.8 960.9h5.8v5.8h-5.8zM1037.0 960.0h5.8v5.8h-5.8zM1041.5 960.7h5.8v5.8h-5.8zM1047.8 960.2h5.8v5.8h-5.8zM1050.4 960.6h5.8v5.8h-5.8zM1056.2 960.8h5.8v5.8h-5.8zM1060.8 960.8h5.8v5.8h-5.8zM1065.7 959.9h5.8v5.8h-5.8zM1068.8 960.2h5.8v5.8h-5.8zM1073.7 960.5h5.8v5.8h-5.8zM1077.9 960.9h5.8v5.8h-5.8zM1082.2 960.1h5.8v5.8h-5.8zM1086.8 960.4h5.8v5.8h-5.8zM1032.8 965.9h5.8v5.8h-5.8zM1037.3 964.4h5.8v5.8h-5.8zM1043.2 965.1h5.8v5.8h-5.8zM1051.8 966.3h5.8v5.8h-5.8zM1055.1 964.7h5.8v5.8h-5.8zM1058.8 965.9h5.8v5.8h-5.8zM1065.5 965.5h5.8v5.8h-5.8zM1068.4 965.2h5.8v5.8h-5.8zM1073.9 964.1h5.8v5.8h-5.8zM1078.6 965.0h5.8v5.8h-5.8zM1087.7 963.8h5.8v5.8h-5.8zM1032.9 970.7h5.8v5.8h-5.8zM1041.9 968.9h5.8v5.8h-5.8zM1046.6 970.8h5.8v5.8h-5.8zM1054.6 968.7h5.8v5.8h-5.8zM1059.0 969.3h5.8v5.8h-5.8zM1064.8 970.0h5.8v5.8h-5.8zM1068.2 969.1h5.8v5.8h-5.8zM1074.4 968.9h5.8v5.8h-5.8zM1077.6 968.5h5.8v5.8h-5.8zM1083.1 970.1h5.8v5.8h-5.8zM1086.1 969.0h5.8v5.8h-5.8zM1033.8 973.6h5.8v5.8h-5.8zM1036.4 973.9h5.8v5.8h-5.8zM1041.2 972.9h5.8v5.8h-5.8zM1047.3 973.0h5.8v5.8h-5.8zM1055.6 975.0h5.8v5.8h-5.8zM1060.1 975.4h5.8v5.8h-5.8zM1065.0 974.2h5.8v5.8h-5.8zM1068.2 974.4h5.8v5.8h-5.8zM1074.5 973.4h5.8v5.8h-5.8zM1078.4 974.7h5.8v5.8h-5.8zM1081.5 973.4h5.8v5.8h-5.8zM1034.1 978.8h5.8v5.8h-5.8zM1036.8 978.9h5.8v5.8h-5.8zM1040.9 977.3h5.8v5.8h-5.8zM1047.4 979.3h5.8v5.8h-5.8zM1051.7 978.6h5.8v5.8h-5.8zM1056.1 978.2h5.8v5.8h-5.8zM1061.2 977.4h5.8v5.8h-5.8zM1063.6 978.6h5.8v5.8h-5.8zM1070.0 979.4h5.8v5.8h-5.8zM1074.5 979.9h5.8v5.8h-5.8zM1079.1 977.5h5.8v5.8h-5.8zM1082.5 979.8h5.8v5.8h-5.8zM1086.7 977.7h5.8v5.8h-5.8zM1032.2 984.4h5.8v5.8h-5.8zM1037.8 984.3h5.8v5.8h-5.8zM1043.1 982.6h5.8v5.8h-5.8zM1051.5 983.3h5.8v5.8h-5.8zM1055.9 982.5h5.8v5.8h-5.8zM1059.9 983.4h5.8v5.8h-5.8zM1063.6 983.2h5.8v5.8h-5.8zM1068.1 982.1h5.8v5.8h-5.8zM1074.4 983.5h5.8v5.8h-5.8zM1078.7 984.0h5.8v5.8h-5.8zM1082.6 982.7h5.8v5.8h-5.8zM1086.3 983.8h5.8v5.8h-5.8zM1091.9 984.3h5.8v5.8h-5.8zM1037.3 988.1h5.8v5.8h-5.8zM1042.8 986.8h5.8v5.8h-5.8zM1045.8 987.6h5.8v5.8h-5.8zM1052.1 986.9h5.8v5.8h-5.8zM1054.8 988.0h5.8v5.8h-5.8zM1060.4 986.9h5.8v5.8h-5.8zM1065.4 987.2h5.8v5.8h-5.8zM1070.4 987.0h5.8v5.8h-5.8zM1074.4 987.1h5.8v5.8h-5.8zM1078.0 986.7h5.8v5.8h-5.8zM1081.5 988.6h5.8v5.8h-5.8zM1087.5 986.8h5.8v5.8h-5.8zM1092.6 987.7h5.8v5.8h-5.8zM1037.6 992.1h5.8v5.8h-5.8zM1040.9 991.8h5.8v5.8h-5.8zM1047.2 993.1h5.8v5.8h-5.8zM1049.8 991.5h5.8v5.8h-5.8zM1056.4 991.6h5.8v5.8h-5.8zM1059.4 991.4h5.8v5.8h-5.8zM1063.9 992.4h5.8v5.8h-5.8zM1068.9 991.7h5.8v5.8h-5.8zM1072.8 992.1h5.8v5.8h-5.8zM1088.1 990.8h5.8v5.8h-5.8zM1038.1 997.5h5.8v5.8h-5.8zM1042.8 996.0h5.8v5.8h-5.8zM1046.6 995.4h5.8v5.8h-5.8zM1051.3 997.1h5.8v5.8h-5.8zM1054.7 996.6h5.8v5.8h-5.8zM1059.7 996.5h5.8v5.8h-5.8zM1063.4 997.7h5.8v5.8h-5.8zM1069.3 996.8h5.8v5.8h-5.8zM1078.5 995.7h5.8v5.8h-5.8zM1083.8 996.3h5.8v5.8h-5.8zM1087.1 996.2h5.8v5.8h-5.8zM1043.3 999.9h5.8v5.8h-5.8zM1046.6 1000.2h5.8v5.8h-5.8zM1050.4 1002.0h5.8v5.8h-5.8zM1056.5 999.9h5.8v5.8h-5.8zM1059.1 1000.1h5.8v5.8h-5.8zM1063.6 999.9h5.8v5.8h-5.8zM1073.4 1000.6h5.8v5.8h-5.8zM1078.7 1000.5h5.8v5.8h-5.8zM1083.1 1001.0h5.8v5.8h-5.8zM1042.0 1006.1h5.8v5.8h-5.8zM1045.7 1005.8h5.8v5.8h-5.8zM1051.0 1005.2h5.8v5.8h-5.8zM1056.2 1006.5h5.8v5.8h-5.8zM1059.6 1006.1h5.8v5.8h-5.8zM1063.9 1005.2h5.8v5.8h-5.8zM1070.3 1004.5h5.8v5.8h-5.8zM1078.9 1004.4h5.8v5.8h-5.8zM1082.6 1004.8h5.8v5.8h-5.8zM1061.9 809.9h5.8v5.8h-5.8zM1065.1 809.6h5.8v5.8h-5.8zM1062.0 820.1h5.8v5.8h-5.8zM1068.8 822.5h5.8v5.8h-5.8zM1072.1 824.1h5.8v5.8h-5.8zM1068.3 833.8h5.8v5.8h-5.8zM1077.0 833.8h5.8v5.8h-5.8zM1077.4 839.9h5.8v5.8h-5.8zM1077.0 847.1h5.8v5.8h-5.8zM1076.6 850.8h5.8v5.8h-5.8zM1082.4 858.2h5.8v5.8h-5.8zM1082.1 869.8h5.8v5.8h-5.8zM1085.4 880.9h5.8v5.8h-5.8zM1084.9 894.7h5.8v5.8h-5.8zM1083.1 899.0h5.8v5.8h-5.8zM1080.3 902.8h5.8v5.8h-5.8zM1082.4 922.1h5.8v5.8h-5.8zM1089.0 925.6h5.8v5.8h-5.8zM1089.6 932.7h5.8v5.8h-5.8zM1085.4 938.9h5.8v5.8h-5.8zM1087.9 945.6h5.8v5.8h-5.8zM1084.6 950.9h5.8v5.8h-5.8zM1085.9 954.5h5.8v5.8h-5.8zM1083.4 958.6h5.8v5.8h-5.8zM1086.3 971.8h5.8v5.8h-5.8zM1091.0 980.7h5.8v5.8h-5.8zM1088.7 984.6h5.8v5.8h-5.8zM1036.7 984.0h5.8v5.8h-5.8zM1035.9 977.9h5.8v5.8h-5.8zM1038.9 973.6h5.8v5.8h-5.8zM1035.8 967.1h5.8v5.8h-5.8zM1036.3 963.2h5.8v5.8h-5.8zM1042.2 960.5h5.8v5.8h-5.8zM1036.9 953.2h5.8v5.8h-5.8zM1035.2 949.6h5.8v5.8h-5.8zM1032.2 938.0h5.8v5.8h-5.8zM1031.9 929.5h5.8v5.8h-5.8zM1035.4 920.3h5.8v5.8h-5.8zM1034.3 914.4h5.8v5.8h-5.8zM1039.6 906.6h5.8v5.8h-5.8zM1035.2 893.7h5.8v5.8h-5.8zM1034.3 890.2h5.8v5.8h-5.8zM1036.2 886.9h5.8v5.8h-5.8zM1037.3 878.2h5.8v5.8h-5.8zM1035.2 874.5h5.8v5.8h-5.8zM1036.3 871.2h5.8v5.8h-5.8zM1039.5 866.5h5.8v5.8h-5.8zM1035.6 854.9h5.8v5.8h-5.8zM1038.8 852.2h5.8v5.8h-5.8zM1036.3 844.2h5.8v5.8h-5.8zM1036.1 840.8h5.8v5.8h-5.8zM1049.2 826.3h5.8v5.8h-5.8zM1054.7 821.7h5.8v5.8h-5.8zM1052.2 810.3h5.8v5.8h-5.8zM1057.3 809.6h5.8v5.8h-5.8zM1033.3 987.3h5.8v5.8h-5.8zM1038.4 988.4h5.8v5.8h-5.8zM1043.0 987.3h5.8v5.8h-5.8zM1047.5 988.5h5.8v5.8h-5.8zM1051.5 985.9h5.8v5.8h-5.8zM1056.0 987.5h5.8v5.8h-5.8zM1060.3 987.4h5.8v5.8h-5.8zM1064.4 987.8h5.8v5.8h-5.8zM1069.7 987.6h5.8v5.8h-5.8zM1076.9 986.7h5.8v5.8h-5.8zM1083.7 987.6h5.8v5.8h-5.8zM1086.2 986.3h5.8v5.8h-5.8zM1091.5 985.7h5.8v5.8h-5.8zM1037.0 991.0h5.8v5.8h-5.8zM1052.2 991.8h5.8v5.8h-5.8zM1055.3 991.9h5.8v5.8h-5.8zM1063.4 992.9h5.8v5.8h-5.8zM1070.0 991.6h5.8v5.8h-5.8zM1073.1 990.6h5.8v5.8h-5.8zM1078.3 992.9h5.8v5.8h-5.8zM1086.3 992.9h5.8v5.8h-5.8zM1090.4 992.1h5.8v5.8h-5.8zM1039.0 996.6h5.8v5.8h-5.8zM1043.2 997.4h5.8v5.8h-5.8zM1051.5 996.9h5.8v5.8h-5.8zM1055.7 995.8h5.8v5.8h-5.8zM1059.2 997.0h5.8v5.8h-5.8zM1064.5 996.2h5.8v5.8h-5.8zM1069.7 996.9h5.8v5.8h-5.8zM1079.3 996.4h5.8v5.8h-5.8zM1081.7 996.0h5.8v5.8h-5.8zM1087.5 995.2h5.8v5.8h-5.8zM1092.4 997.1h5.8v5.8h-5.8zM1036.5 1000.1h5.8v5.8h-5.8zM1043.1 1001.5h5.8v5.8h-5.8zM1046.8 1000.1h5.8v5.8h-5.8zM1049.9 1001.5h5.8v5.8h-5.8zM1056.3 1000.1h5.8v5.8h-5.8zM1059.8 1000.1h5.8v5.8h-5.8zM1068.7 1000.4h5.8v5.8h-5.8zM1072.2 1001.4h5.8v5.8h-5.8zM1078.5 999.9h5.8v5.8h-5.8zM1082.0 1000.1h5.8v5.8h-5.8zM1090.2 1001.9h5.8v5.8h-5.8zM1097.3 1001.1h5.8v5.8h-5.8zM1037.4 1005.0h5.8v5.8h-5.8zM1041.9 1005.0h5.8v5.8h-5.8zM1047.0 1004.5h5.8v5.8h-5.8zM1050.4 1006.1h5.8v5.8h-5.8zM1056.3 1006.2h5.8v5.8h-5.8zM1059.3 1005.1h5.8v5.8h-5.8zM1064.4 1004.0h5.8v5.8h-5.8zM1070.0 1003.8h5.8v5.8h-5.8zM1078.4 1004.4h5.8v5.8h-5.8zM1083.5 1006.1h5.8v5.8h-5.8zM1086.7 1004.3h5.8v5.8h-5.8zM1092.7 1006.1h5.8v5.8h-5.8zM1095.5 1005.4h5.8v5.8h-5.8zM1042.8 1009.1h5.8v5.8h-5.8zM1046.8 1008.4h5.8v5.8h-5.8zM1050.1 1008.7h5.8v5.8h-5.8zM1056.3 1010.0h5.8v5.8h-5.8zM1060.2 1010.6h5.8v5.8h-5.8zM1065.4 1010.0h5.8v5.8h-5.8zM1069.0 1009.9h5.8v5.8h-5.8zM1073.5 1009.8h5.8v5.8h-5.8zM1079.3 1010.0h5.8v5.8h-5.8zM1088.0 1010.5h5.8v5.8h-5.8zM1092.0 1008.9h5.8v5.8h-5.8zM1096.7 1009.6h5.8v5.8h-5.8zM1101.0 1011.0h5.8v5.8h-5.8zM1040.8 1013.8h5.8v5.8h-5.8zM1047.6 1013.2h5.8v5.8h-5.8zM1052.1 1013.8h5.8v5.8h-5.8zM1054.8 1013.6h5.8v5.8h-5.8zM1061.4 1015.1h5.8v5.8h-5.8zM1069.2 1015.2h5.8v5.8h-5.8zM1073.5 1015.1h5.8v5.8h-5.8zM1079.5 1013.1h5.8v5.8h-5.8zM1082.7 1015.2h5.8v5.8h-5.8zM1091.6 1015.0h5.8v5.8h-5.8zM1100.2 1013.2h5.8v5.8h-5.8zM1037.6 1019.8h5.8v5.8h-5.8zM1043.0 1017.6h5.8v5.8h-5.8zM1047.6 1019.5h5.8v5.8h-5.8zM1050.7 1018.8h5.8v5.8h-5.8zM1055.4 1017.5h5.8v5.8h-5.8zM1059.8 1019.0h5.8v5.8h-5.8zM1065.6 1019.3h5.8v5.8h-5.8zM1068.5 1019.0h5.8v5.8h-5.8zM1073.3 1019.6h5.8v5.8h-5.8zM1078.0 1018.6h5.8v5.8h-5.8zM1083.7 1019.3h5.8v5.8h-5.8zM1087.8 1019.9h5.8v5.8h-5.8zM1092.4 1017.3h5.8v5.8h-5.8zM1095.7 1018.8h5.8v5.8h-5.8zM1100.0 1019.3h5.8v5.8h-5.8zM1105.2 1019.6h5.8v5.8h-5.8zM1037.2 1022.1h5.8v5.8h-5.8zM1041.1 1022.3h5.8v5.8h-5.8zM1045.9 1022.3h5.8v5.8h-5.8zM1052.5 1022.3h5.8v5.8h-5.8zM1054.7 1022.6h5.8v5.8h-5.8zM1059.3 1023.1h5.8v5.8h-5.8zM1065.6 1023.0h5.8v5.8h-5.8zM1069.1 1022.5h5.8v5.8h-5.8zM1073.2 1022.6h5.8v5.8h-5.8zM1077.2 1022.8h5.8v5.8h-5.8zM1083.2 1022.3h5.8v5.8h-5.8zM1087.0 1023.2h5.8v5.8h-5.8zM1092.4 1022.0h5.8v5.8h-5.8zM1096.2 1022.5h5.8v5.8h-5.8zM1100.4 1024.2h5.8v5.8h-5.8zM1103.8 1023.0h5.8v5.8h-5.8zM1038.3 1027.5h5.8v5.8h-5.8zM1041.6 1026.8h5.8v5.8h-5.8zM1050.5 1026.5h5.8v5.8h-5.8zM1056.6 1026.4h5.8v5.8h-5.8zM1061.1 1028.4h5.8v5.8h-5.8zM1064.6 1027.1h5.8v5.8h-5.8zM1068.7 1028.2h5.8v5.8h-5.8zM1073.8 1028.3h5.8v5.8h-5.8zM1078.3 1028.9h5.8v5.8h-5.8zM1082.8 1026.8h5.8v5.8h-5.8zM1086.4 1027.4h5.8v5.8h-5.8zM1092.3 1027.8h5.8v5.8h-5.8zM1100.0 1027.2h5.8v5.8h-5.8zM1103.9 1027.8h5.8v5.8h-5.8zM1037.4 1030.7h5.8v5.8h-5.8zM1045.4 1032.8h5.8v5.8h-5.8zM1050.1 1032.7h5.8v5.8h-5.8zM1055.4 1032.6h5.8v5.8h-5.8zM1059.2 1033.2h5.8v5.8h-5.8zM1065.8 1032.0h5.8v5.8h-5.8zM1069.6 1031.5h5.8v5.8h-5.8zM1074.0 1031.2h5.8v5.8h-5.8zM1079.2 1031.6h5.8v5.8h-5.8zM1081.7 1031.6h5.8v5.8h-5.8zM1087.2 1031.2h5.8v5.8h-5.8zM1092.9 1031.4h5.8v5.8h-5.8zM1094.7 1032.9h5.8v5.8h-5.8zM1100.2 1031.3h5.8v5.8h-5.8zM1109.4 1031.1h5.8v5.8h-5.8zM1038.2 1037.5h5.8v5.8h-5.8zM1043.1 1036.8h5.8v5.8h-5.8zM1052.2 1037.3h5.8v5.8h-5.8zM1055.3 1038.0h5.8v5.8h-5.8zM1059.4 1037.3h5.8v5.8h-5.8zM1070.1 1037.9h5.8v5.8h-5.8zM1074.6 1035.7h5.8v5.8h-5.8zM1083.2 1037.9h5.8v5.8h-5.8zM1087.2 1037.0h5.8v5.8h-5.8zM1092.0 1037.3h5.8v5.8h-5.8zM1096.3 1036.2h5.8v5.8h-5.8zM1099.2 1036.7h5.8v5.8h-5.8zM1105.5 1036.3h5.8v5.8h-5.8zM1109.2 1036.1h5.8v5.8h-5.8zM1038.6 1041.0h5.8v5.8h-5.8zM1043.0 1041.7h5.8v5.8h-5.8zM1045.9 1041.2h5.8v5.8h-5.8zM1050.3 1039.8h5.8v5.8h-5.8zM1055.2 1040.3h5.8v5.8h-5.8zM1059.9 1039.9h5.8v5.8h-5.8zM1065.1 1041.6h5.8v5.8h-5.8zM1069.8 1041.2h5.8v5.8h-5.8zM1073.1 1039.8h5.8v5.8h-5.8zM1076.8 1039.9h5.8v5.8h-5.8zM1081.5 1042.4h5.8v5.8h-5.8zM1085.9 1040.8h5.8v5.8h-5.8zM1095.2 1040.9h5.8v5.8h-5.8zM1101.9 1042.1h5.8v5.8h-5.8zM1104.3 1040.8h5.8v5.8h-5.8zM1111.0 1041.8h5.8v5.8h-5.8zM1037.6 1045.7h5.8v5.8h-5.8zM1042.3 1044.7h5.8v5.8h-5.8zM1046.6 1045.7h5.8v5.8h-5.8zM1051.1 1046.7h5.8v5.8h-5.8zM1055.8 1045.8h5.8v5.8h-5.8zM1060.9 1045.7h5.8v5.8h-5.8zM1064.2 1047.0h5.8v5.8h-5.8zM1070.2 1046.8h5.8v5.8h-5.8zM1072.9 1046.3h5.8v5.8h-5.8zM1079.1 1045.9h5.8v5.8h-5.8zM1082.9 1046.7h5.8v5.8h-5.8zM1086.4 1045.1h5.8v5.8h-5.8zM1090.8 1045.1h5.8v5.8h-5.8zM1096.6 1045.4h5.8v5.8h-5.8zM1101.0 1046.7h5.8v5.8h-5.8zM1103.9 1045.2h5.8v5.8h-5.8zM1108.8 1044.6h5.8v5.8h-5.8zM1036.5 1049.4h5.8v5.8h-5.8zM1041.5 1049.4h5.8v5.8h-5.8zM1047.8 1050.6h5.8v5.8h-5.8zM1050.2 1051.1h5.8v5.8h-5.8zM1054.7 1049.5h5.8v5.8h-5.8zM1060.4 1049.1h5.8v5.8h-5.8zM1064.1 1048.7h5.8v5.8h-5.8zM1070.1 1049.5h5.8v5.8h-5.8zM1073.8 1051.1h5.8v5.8h-5.8zM1076.8 1049.9h5.8v5.8h-5.8zM1081.4 1049.3h5.8v5.8h-5.8zM1086.3 1049.9h5.8v5.8h-5.8zM1091.5 1051.1h5.8v5.8h-5.8zM1096.7 1050.5h5.8v5.8h-5.8zM1100.4 1050.9h5.8v5.8h-5.8zM1104.0 1049.2h5.8v5.8h-5.8zM1109.5 1049.5h5.8v5.8h-5.8zM1038.1 1054.4h5.8v5.8h-5.8zM1041.1 1055.0h5.8v5.8h-5.8zM1047.1 1055.2h5.8v5.8h-5.8zM1050.1 1053.4h5.8v5.8h-5.8zM1056.6 1053.8h5.8v5.8h-5.8zM1058.8 1054.2h5.8v5.8h-5.8zM1068.4 1054.4h5.8v5.8h-5.8zM1082.4 1055.5h5.8v5.8h-5.8zM1086.1 1055.4h5.8v5.8h-5.8zM1091.1 1053.2h5.8v5.8h-5.8zM1096.2 1055.6h5.8v5.8h-5.8zM1100.6 1055.9h5.8v5.8h-5.8zM1103.8 1055.6h5.8v5.8h-5.8zM1109.7 1055.6h5.8v5.8h-5.8zM1113.3 1055.3h5.8v5.8h-5.8zM1036.4 1060.0h5.8v5.8h-5.8zM1043.3 1058.4h5.8v5.8h-5.8zM1046.6 1059.4h5.8v5.8h-5.8zM1050.1 1059.4h5.8v5.8h-5.8zM1055.9 1057.8h5.8v5.8h-5.8zM1061.2 1058.2h5.8v5.8h-5.8zM1063.8 1059.4h5.8v5.8h-5.8zM1072.2 1058.0h5.8v5.8h-5.8zM1078.2 1058.3h5.8v5.8h-5.8zM1081.8 1059.8h5.8v5.8h-5.8zM1088.2 1060.5h5.8v5.8h-5.8zM1092.6 1057.7h5.8v5.8h-5.8zM1094.8 1058.2h5.8v5.8h-5.8zM1104.5 1059.6h5.8v5.8h-5.8zM1108.5 1057.7h5.8v5.8h-5.8zM1114.0 1060.3h5.8v5.8h-5.8zM1038.2 1064.7h5.8v5.8h-5.8zM1042.5 1062.8h5.8v5.8h-5.8zM1052.1 1063.3h5.8v5.8h-5.8zM1055.0 1062.2h5.8v5.8h-5.8zM1059.4 1062.3h5.8v5.8h-5.8zM1064.0 1062.4h5.8v5.8h-5.8zM1067.8 1063.5h5.8v5.8h-5.8zM1073.8 1063.4h5.8v5.8h-5.8zM1077.9 1063.9h5.8v5.8h-5.8zM1083.8 1062.6h5.8v5.8h-5.8zM1086.9 1063.7h5.8v5.8h-5.8zM1092.1 1064.4h5.8v5.8h-5.8zM1095.3 1063.8h5.8v5.8h-5.8zM1105.7 1064.2h5.8v5.8h-5.8zM1113.1 1063.1h5.8v5.8h-5.8zM1036.8 1067.7h5.8v5.8h-5.8zM1047.4 1066.9h5.8v5.8h-5.8zM1051.8 1068.1h5.8v5.8h-5.8zM1059.6 1068.9h5.8v5.8h-5.8zM1065.8 1068.5h5.8v5.8h-5.8zM1069.4 1068.8h5.8v5.8h-5.8zM1073.6 1069.3h5.8v5.8h-5.8zM1078.6 1068.3h5.8v5.8h-5.8zM1081.6 1067.4h5.8v5.8h-5.8zM1092.3 1068.4h5.8v5.8h-5.8zM1096.7 1067.0h5.8v5.8h-5.8zM1101.8 1069.0h5.8v5.8h-5.8zM1106.2 1067.6h5.8v5.8h-5.8zM1109.1 1068.8h5.8v5.8h-5.8zM1114.4 1067.9h5.8v5.8h-5.8zM1036.6 1072.2h5.8v5.8h-5.8zM1042.3 1071.3h5.8v5.8h-5.8zM1045.4 1072.2h5.8v5.8h-5.8zM1051.4 1072.7h5.8v5.8h-5.8zM1056.2 1072.7h5.8v5.8h-5.8zM1059.9 1072.0h5.8v5.8h-5.8zM1065.7 1072.7h5.8v5.8h-5.8zM1068.1 1073.5h5.8v5.8h-5.8zM1077.6 1073.5h5.8v5.8h-5.8zM1082.6 1073.2h5.8v5.8h-5.8zM1090.6 1072.7h5.8v5.8h-5.8zM1106.3 1071.2h5.8v5.8h-5.8zM1108.5 1073.0h5.8v5.8h-5.8zM1114.0 1073.2h5.8v5.8h-5.8zM1036.8 1076.6h5.8v5.8h-5.8zM1043.2 1077.6h5.8v5.8h-5.8zM1047.6 1077.3h5.8v5.8h-5.8zM1050.3 1076.7h5.8v5.8h-5.8zM1055.7 1077.0h5.8v5.8h-5.8zM1058.8 1077.2h5.8v5.8h-5.8zM1065.5 1076.0h5.8v5.8h-5.8zM1069.8 1077.8h5.8v5.8h-5.8zM1074.4 1078.4h5.8v5.8h-5.8zM1078.6 1076.0h5.8v5.8h-5.8zM1081.3 1078.2h5.8v5.8h-5.8zM1088.1 1077.2h5.8v5.8h-5.8zM1091.9 1076.7h5.8v5.8h-5.8zM1097.3 1077.6h5.8v5.8h-5.8zM1101.9 1076.7h5.8v5.8h-5.8zM1105.5 1076.5h5.8v5.8h-5.8zM1110.9 1078.4h5.8v5.8h-5.8zM1115.1 1077.6h5.8v5.8h-5.8zM1041.4 1082.7h5.8v5.8h-5.8zM1047.8 1082.3h5.8v5.8h-5.8zM1050.6 1080.9h5.8v5.8h-5.8zM1055.5 1081.8h5.8v5.8h-5.8zM1060.1 1080.5h5.8v5.8h-5.8zM1068.1 1082.2h5.8v5.8h-5.8zM1073.7 1080.6h5.8v5.8h-5.8zM1078.7 1081.8h5.8v5.8h-5.8zM1081.9 1082.0h5.8v5.8h-5.8zM1088.5 1082.7h5.8v5.8h-5.8zM1091.1 1080.3h5.8v5.8h-5.8zM1097.2 1081.6h5.8v5.8h-5.8zM1099.3 1080.8h5.8v5.8h-5.8zM1105.6 1082.6h5.8v5.8h-5.8zM1109.9 1080.3h5.8v5.8h-5.8zM1115.3 1081.7h5.8v5.8h-5.8zM1047.6 1086.8h5.8v5.8h-5.8zM1052.0 1086.5h5.8v5.8h-5.8zM1055.9 1086.4h5.8v5.8h-5.8zM1060.5 1087.3h5.8v5.8h-5.8zM1069.9 1086.4h5.8v5.8h-5.8zM1078.7 1086.4h5.8v5.8h-5.8zM1082.6 1086.0h5.8v5.8h-5.8zM1086.5 1085.9h5.8v5.8h-5.8zM1091.9 1084.8h5.8v5.8h-5.8zM1096.4 1086.5h5.8v5.8h-5.8zM1102.0 1085.0h5.8v5.8h-5.8zM1105.7 1087.2h5.8v5.8h-5.8zM1110.2 1086.0h5.8v5.8h-5.8zM1047.1 1090.7h5.8v5.8h-5.8zM1052.4 1091.9h5.8v5.8h-5.8zM1056.0 1090.0h5.8v5.8h-5.8zM1059.4 1090.8h5.8v5.8h-5.8zM1063.7 1089.9h5.8v5.8h-5.8zM1070.2 1090.2h5.8v5.8h-5.8zM1074.3 1089.8h5.8v5.8h-5.8zM1076.9 1089.6h5.8v5.8h-5.8zM1082.5 1091.1h5.8v5.8h-5.8zM1088.1 1091.0h5.8v5.8h-5.8zM1091.0 1090.4h5.8v5.8h-5.8zM1096.1 1091.3h5.8v5.8h-5.8zM1099.9 1090.7h5.8v5.8h-5.8zM1105.2 1091.2h5.8v5.8h-5.8zM1110.9 1090.5h5.8v5.8h-5.8zM1047.3 1094.7h5.8v5.8h-5.8zM1050.0 1095.2h5.8v5.8h-5.8zM1055.5 1095.8h5.8v5.8h-5.8zM1059.0 1094.0h5.8v5.8h-5.8zM1070.0 1094.7h5.8v5.8h-5.8zM1072.6 1093.7h5.8v5.8h-5.8zM1077.4 1094.8h5.8v5.8h-5.8zM1083.5 1095.6h5.8v5.8h-5.8zM1086.3 1096.2h5.8v5.8h-5.8zM1095.0 1095.6h5.8v5.8h-5.8zM1101.5 1095.1h5.8v5.8h-5.8zM1104.7 1094.6h5.8v5.8h-5.8zM1108.4 1094.5h5.8v5.8h-5.8zM1058.8 1100.5h5.8v5.8h-5.8zM1064.5 1100.3h5.8v5.8h-5.8zM1067.9 1099.2h5.8v5.8h-5.8zM1078.6 1098.4h5.8v5.8h-5.8zM1086.8 1099.4h5.8v5.8h-5.8zM1091.2 1098.4h5.8v5.8h-5.8zM1040.6 989.6h5.8v5.8h-5.8zM1057.9 989.5h5.8v5.8h-5.8zM1069.1 989.7h5.8v5.8h-5.8zM1078.8 987.0h5.8v5.8h-5.8zM1085.0 996.0h5.8v5.8h-5.8zM1090.3 991.3h5.8v5.8h-5.8zM1091.4 996.7h5.8v5.8h-5.8zM1091.8 1004.2h5.8v5.8h-5.8zM1100.8 1003.5h5.8v5.8h-5.8zM1099.3 1024.0h5.8v5.8h-5.8zM1103.1 1025.6h5.8v5.8h-5.8zM1101.9 1030.8h5.8v5.8h-5.8zM1104.2 1036.3h5.8v5.8h-5.8zM1111.5 1043.3h5.8v5.8h-5.8zM1108.5 1049.8h5.8v5.8h-5.8zM1108.8 1054.5h5.8v5.8h-5.8zM1115.9 1074.3h5.8v5.8h-5.8zM1110.1 1077.1h5.8v5.8h-5.8zM1110.9 1086.6h5.8v5.8h-5.8zM1109.5 1093.6h5.8v5.8h-5.8zM1101.7 1087.5h5.8v5.8h-5.8zM1079.9 1100.0h5.8v5.8h-5.8zM1069.7 1100.4h5.8v5.8h-5.8zM1066.3 1095.5h5.8v5.8h-5.8zM1058.0 1095.4h5.8v5.8h-5.8zM1050.2 1095.0h5.8v5.8h-5.8zM1047.4 1094.3h5.8v5.8h-5.8zM1051.0 1089.9h5.8v5.8h-5.8zM1047.1 1081.1h5.8v5.8h-5.8zM1040.3 1077.6h5.8v5.8h-5.8zM1042.8 1053.3h5.8v5.8h-5.8zM1042.6 1047.5h5.8v5.8h-5.8zM1040.1 1042.8h5.8v5.8h-5.8zM1042.8 1014.9h5.8v5.8h-5.8zM1038.2 996.4h5.8v5.8h-5.8zM1038.3 989.1h5.8v5.8h-5.8z"/><path fill="#00cdff" d="M1034.6 848.6h5.8v5.8h-5.8zM1032.0 851.5h5.8v5.8h-5.8zM1040.8 851.7h5.8v5.8h-5.8zM1034.6 858.5h5.8v5.8h-5.8zM1039.0 913.5h5.8v5.8h-5.8zM1038.8 920.2h5.8v5.8h-5.8zM1032.2 923.3h5.8v5.8h-5.8zM1037.6 944.6h5.8v5.8h-5.8zM1034.0 948.3h5.8v5.8h-5.8zM1032.6 962.3h5.8v5.8h-5.8zM1039.2 973.6h5.8v5.8h-5.8zM1039.0 983.6h5.8v5.8h-5.8zM1037.9 992.5h5.8v5.8h-5.8zM1033.8 998.6h5.8v5.8h-5.8zM1038.8 996.9h5.8v5.8h-5.8zM1039.6 1002.8h5.8v5.8h-5.8z"/><path fill="#f82a2c" d="M1035.6 958.0h5.8v5.8h-5.8zM1031.1 976.1h5.8v5.8h-5.8zM1037.3 985.7h5.8v5.8h-5.8zM1028.4 999.3h5.8v5.8h-5.8zM1030.6 1006.2h5.8v5.8h-5.8zM1028.5 1012.5h5.8v5.8h-5.8zM1036.8 1010.4h5.8v5.8h-5.8zM1031.7 1023.4h5.8v5.8h-5.8zM1034.6 1030.7h5.8v5.8h-5.8zM1031.9 1036.1h5.8v5.8h-5.8zM1037.8 1034.6h5.8v5.8h-5.8zM1034.5 1045.5h5.8v5.8h-5.8zM1036.3 1051.6h5.8v5.8h-5.8zM1109.5 1031.4h5.8v5.8h-5.8zM1104.0 1036.9h5.8v5.8h-5.8zM1104.0 1042.4h5.8v5.8h-5.8zM1038.1 986.3h5.8v5.8h-5.8zM1043.6 986.3h5.8v5.8h-5.8zM1080.7 1047.7h5.8v5.8h-5.8zM1084.2 1014.9h5.8v5.8h-5.8zM1036.2 1088.8h5.8v5.8h-5.8zM1112.0 1096.7h5.8v5.8h-5.8zM1055.8 1005.2h5.8v5.8h-5.8zM1110.2 975.4h5.8v5.8h-5.8zM1110.0 980.8h5.8v5.8h-5.8zM1108.0 1003.7h5.8v5.8h-5.8zM1079.6 991.7h5.8v5.8h-5.8zM1074.1 991.7h5.8v5.8h-5.8zM1068.5 1082.9h5.8v5.8h-5.8zM1074.0 1082.9h5.8v5.8h-5.8zM1074.0 1077.4h5.8v5.8h-5.8zM1110.8 1056.5h5.8v5.8h-5.8zM1105.3 1056.5h5.8v5.8h-5.8zM1099.8 1062.0h5.8v5.8h-5.8zM1087.2 1085.9h5.8v5.8h-5.8zM1081.7 1091.4h5.8v5.8h-5.8zM1083.2 1033.4h5.8v5.8h-5.8zM1088.7 1038.9h5.8v5.8h-5.8zM1066.7 975.1h5.8v5.8h-5.8zM1072.2 980.6h5.8v5.8h-5.8zM1072.2 975.1h5.8v5.8h-5.8zM1031.5 1020.9h5.8v5.8h-5.8zM1056.6 1095.6h5.8v5.8h-5.8zM1062.1 1101.1h5.8v5.8h-5.8zM1056.6 1101.1h5.8v5.8h-5.8z"/><path fill="#00cdff" d="M1079.0 965.7h5.8v5.8h-5.8zM1079.0 971.2h5.8v5.8h-5.8zM1104.4 1050.2h5.8v5.8h-5.8zM1104.4 1055.7h5.8v5.8h-5.8zM1083.1 988.2h5.8v5.8h-5.8zM1088.6 988.2h5.8v5.8h-5.8zM1088.6 982.7h5.8v5.8h-5.8zM1095.6 1000.6h5.8v5.8h-5.8zM1095.6 1006.1h5.8v5.8h-5.8zM1089.5 953.9h5.8v5.8h-5.8zM1084.0 959.4h5.8v5.8h-5.8zM1055.1 960.9h5.8v5.8h-5.8zM1055.1 955.4h5.8v5.8h-5.8zM1117.1 1076.8h5.8v5.8h-5.8zM1117.1 1071.3h5.8v5.8h-5.8zM1062.4 1029.0h5.8v5.8h-5.8zM1089.2 981.0h5.8v5.8h-5.8zM1089.2 986.5h5.8v5.8h-5.8zM1055.4 954.6h5.8v5.8h-5.8zM1098.6 1017.8h5.8v5.8h-5.8zM1034.5 1089.8h5.8v5.8h-5.8zM1029.0 1095.3h5.8v5.8h-5.8zM1034.5 1100.8h5.8v5.8h-5.8zM1087.0 1048.3h5.8v5.8h-5.8zM1092.5 1053.8h5.8v5.8h-5.8zM1092.5 1059.3h5.8v5.8h-5.8zM1043.8 1030.0h5.8v5.8h-5.8zM1038.3 1030.0h5.8v5.8h-5.8zM1032.8 1030.0h5.8v5.8h-5.8z"/><path fill="#f82a2c" d="M1051.6 852.3h5.8v5.8h-5.8zM1052.6 871.2h5.8v5.8h-5.8zM1070.1 876.7h5.8v5.8h-5.8zM1047.8 912.8h5.8v5.8h-5.8zM1070.1 917.8h5.8v5.8h-5.8zM1046.5 947.4h5.8v5.8h-5.8zM1075.3 947.4h5.8v5.8h-5.8zM1047.3 960.9h5.8v5.8h-5.8zM1060.3 965.4h5.8v5.8h-5.8zM1081.7 990.8h5.8v5.8h-5.8z"/><path fill="#00cdff" d="M1046.8 852.4h5.8v5.8h-5.8zM1077.4 854.8h5.8v5.8h-5.8zM1045.5 864.9h5.8v5.8h-5.8zM1060.4 876.6h5.8v5.8h-5.8zM1052.9 895.7h5.8v5.8h-5.8zM1077.1 914.1h5.8v5.8h-5.8zM1075.9 972.7h5.8v5.8h-5.8z"/><path fill="#f82a2c" d="M1014.1 850.1h5.8v5.8h-5.8zM1014.1 896.1h5.8v5.8h-5.8z"/><path fill="#00cdff" d="M1014.1 889.1h5.8v5.8h-5.8z"/><path fill="#f82a2c" d="M1059.5 741.5h5.8v5.8h-5.8zM1073.9 747.5h5.8v5.8h-5.8zM1088.1 766.7h5.8v5.8h-5.8zM1126.7 752.3h5.8v5.8h-5.8zM1133.9 759.5h5.8v5.8h-5.8zM1157.9 773.9h5.8v5.8h-5.8zM1165.1 769.1h5.8v5.8h-5.8zM1174.7 764.3h5.8v5.8h-5.8zM1186.7 759.5h5.8v5.8h-5.8zM1196.1 766.7h5.8v5.8h-5.8zM1208.1 758.3h5.8v5.8h-5.8zM1045.1 757.1h5.8v5.8h-5.8zM1045.1 788.1h5.8v5.8h-5.8z"/><path fill="#f99a30" d="M1045.1 757.1h5.8v5.8h-5.8zM1085.9 752.3h5.8v5.8h-5.8zM1119.5 742.7h5.8v5.8h-5.8zM1131.5 758.3h5.8v5.8h-5.8zM1114.7 773.9h5.8v5.8h-5.8zM1165.1 766.7h5.8v5.8h-5.8zM1121.1 785.1h5.8v5.8h-5.8z"/><path fill="#00cdff" d="M1189.1 724.7h5.8v5.8h-5.8zM1168.7 739.1h5.8v5.8h-5.8zM1160.3 747.5h5.8v5.8h-5.8zM1192.7 752.3h5.8v5.8h-5.8zM1102.7 754.7h5.8v5.8h-5.8zM1107.5 754.7h5.8v5.8h-5.8zM1234.7 757.1h5.8v5.8h-5.8zM1246.7 760.7h5.8v5.8h-5.8zM1244.3 773.9h5.8v5.8h-5.8zM1287.5 778.7h5.8v5.8h-5.8zM1205.9 778.7h5.8v5.8h-5.8zM1225.1 779.9h5.8v5.8h-5.8zM1039.1 781.1h5.8v5.8h-5.8zM1119.1 785.1h5.8v5.8h-5.8z"/><polyline points="1005.6,711.0 1225.1,710.8 1213.2,770.8 1110.0,784.0 1020.0,758.8" fill="none" stroke="#1a1a1a" stroke-width="3"/><polyline points="1020.0,758.8 1005.6,712.0" fill="none" stroke="#c8c8c8" stroke-width="2.5"/><polygon points="1234.7,780.4 1269.5,799.6 1317.5,851.2 1297.1,999.9 1210.8,1020.3 1191.6,975.9 1191.6,834.4" fill="none" stroke="#1a1a1a" stroke-width="3" stroke-linejoin="miter"/><text x="933.5" y="744.8" font-family='"Liberation Sans", sans-serif' font-size="20.5" fill="#333">Non-Classical</text><text x="1310.5" y="1042.5" font-family='"Liberation Sans", sans-serif' font-size="20.5" fill="#333">Classical</text></g>
<line x1="531" y1="1331" x2="531" y2="1938" stroke="#111" stroke-width="3"/>
<line x1="523" y1="1936.8" x2="931" y2="1936.8" stroke="#111" stroke-width="3"/>
<line x1="523" y1="1331.0" x2="531" y2="1331.0" stroke="#111" stroke-width="3"/>
<line x1="523" y1="1482.5" x2="531" y2="1482.5" stroke="#111" stroke-width="3"/>
<line x1="523" y1="1634.0" x2="531" y2="1634.0" stroke="#111" stroke-width="3"/>
<line x1="523" y1="1785.5" x2="531" y2="1785.5" stroke="#111" stroke-width="3"/>
<line x1="523" y1="1937.0" x2="531" y2="1937.0" stroke="#111" stroke-width="3"/>
<line x1="644" y1="1936" x2="644" y2="1944.5" stroke="#111" stroke-width="3"/>
<line x1="815" y1="1936" x2="815" y2="1944.5" stroke="#111" stroke-width="3"/>
<text x="519.5" y="1348" font-family='"Liberation Serif", serif' font-size="45" font-weight="bold" text-anchor="end" fill="#000">2</text>
<text x="519.5" y="1499.5" font-family='"Liberation Serif", serif' font-size="45" font-weight="bold" text-anchor="end" fill="#000">1</text>
<text x="519.5" y="1651" font-family='"Liberation Serif", serif' font-size="45" font-weight="bold" text-anchor="end" fill="#000">0</text>
<text x="519.5" y="1802.5" font-family='"Liberation Serif", serif' font-size="45" font-weight="bold" text-anchor="end" fill="#000">-1</text>
<text x="519.5" y="1954" font-family='"Liberation Serif", serif' font-size="45" font-weight="bold" text-anchor="end" fill="#000">-2</text>
<text transform="translate(458,1608.5) rotate(-90)" font-family='"Liberation Serif", serif' font-size="41.5" font-weight="bold" text-anchor="middle" fill="#000">Log<tspan font-size="27" dy="9">10</tspan><tspan dy="-9">(Ratio C/NC)</tspan></text>
<text x="643" y="1989" font-family='"Liberation Serif", serif' font-size="45" font-weight="bold" text-anchor="middle" fill="#000">WST</text>
<text x="815" y="1989" font-family='"Liberation Serif", serif' font-size="45" font-weight="bold" text-anchor="middle" fill="#000">SHR</text>
<text x="343.5" y="1353.3" font-family='"Liberation Sans", sans-serif' font-size="33" font-weight="bold" fill="#000">B</text>
<text x="748.7" y="1353.5" font-family='"Liberation Serif", serif' font-size="56" font-weight="bold" text-anchor="middle" fill="#000">*</text>
<circle cx="550.1" cy="1634.6" r="3.1" fill="#000"/>
<circle cx="570.0" cy="1634.6" r="3.1" fill="#000"/>
<circle cx="589.9" cy="1634.6" r="3.1" fill="#000"/>
<circle cx="609.8" cy="1634.6" r="3.1" fill="#000"/>
<circle cx="629.7" cy="1634.6" r="3.1" fill="#000"/>
<circle cx="649.6" cy="1634.6" r="3.1" fill="#000"/>
<circle cx="669.5" cy="1634.6" r="3.1" fill="#000"/>
<circle cx="689.4" cy="1634.6" r="3.1" fill="#000"/>
<circle cx="709.3" cy="1634.6" r="3.1" fill="#000"/>
<circle cx="729.2" cy="1634.6" r="3.1" fill="#000"/>
<circle cx="749.1" cy="1634.6" r="3.1" fill="#000"/>
<circle cx="769.0" cy="1634.6" r="3.1" fill="#000"/>
<circle cx="788.9" cy="1634.6" r="3.1" fill="#000"/>
<circle cx="808.8" cy="1634.6" r="3.1" fill="#000"/>
<circle cx="828.7" cy="1634.6" r="3.1" fill="#000"/>
<circle cx="848.6" cy="1634.6" r="3.1" fill="#000"/>
<circle cx="868.5" cy="1634.6" r="3.1" fill="#000"/>
<circle cx="888.4" cy="1634.6" r="3.1" fill="#000"/>
<circle cx="908.3" cy="1634.6" r="3.1" fill="#000"/>
<circle cx="927.5" cy="1634.6" r="2.6" fill="#000"/>
<ellipse cx="628.2" cy="1396" rx="7.9" ry="8.3" fill="#000"/>
<ellipse cx="659.4" cy="1382.4" rx="7.9" ry="8.3" fill="#000"/>
<ellipse cx="644.1" cy="1462.5" rx="7.9" ry="8.3" fill="#000"/>
<ellipse cx="643.9" cy="1519.3" rx="7.9" ry="8.3" fill="#000"/>
<line x1="589.5" y1="1440.2" x2="698.7" y2="1440.2" stroke="#000" stroke-width="4.6" stroke-linecap="round"/>
<line x1="617.5" y1="1408.7" x2="671.5" y2="1408.7" stroke="#000" stroke-width="3.2" stroke-linecap="round"/>
<line x1="617.5" y1="1472" x2="671.5" y2="1472" stroke="#000" stroke-width="3.2" stroke-linecap="round"/>
<line x1="644.1" y1="1408.7" x2="644.1" y2="1472" stroke="#000" stroke-width="3"/>
<line x1="760" y1="1561.6" x2="869.8" y2="1561.6" stroke="#f80000" stroke-width="4.4" stroke-linecap="round"/>
<line x1="787.5" y1="1541.5" x2="842" y2="1541.5" stroke="#f80000" stroke-width="3" stroke-linecap="round"/>
<line x1="787.5" y1="1582" x2="842" y2="1582" stroke="#f80000" stroke-width="3" stroke-linecap="round"/>
<line x1="814.6" y1="1541.5" x2="814.6" y2="1582" stroke="#f80000" stroke-width="3"/>
<rect x="806.7" y="1481.0" width="16" height="16" fill="#f80000"/>
<rect x="806.7" y="1556.2" width="16" height="16" fill="#f80000"/>
<rect x="775.7" y="1563.1" width="16" height="16" fill="#f80000"/>
<rect x="837.8" y="1563.1" width="16" height="16" fill="#f80000"/>
<rect x="806.7" y="1606.2" width="16" height="16" fill="#f80000"/>
</svg></body></html>
